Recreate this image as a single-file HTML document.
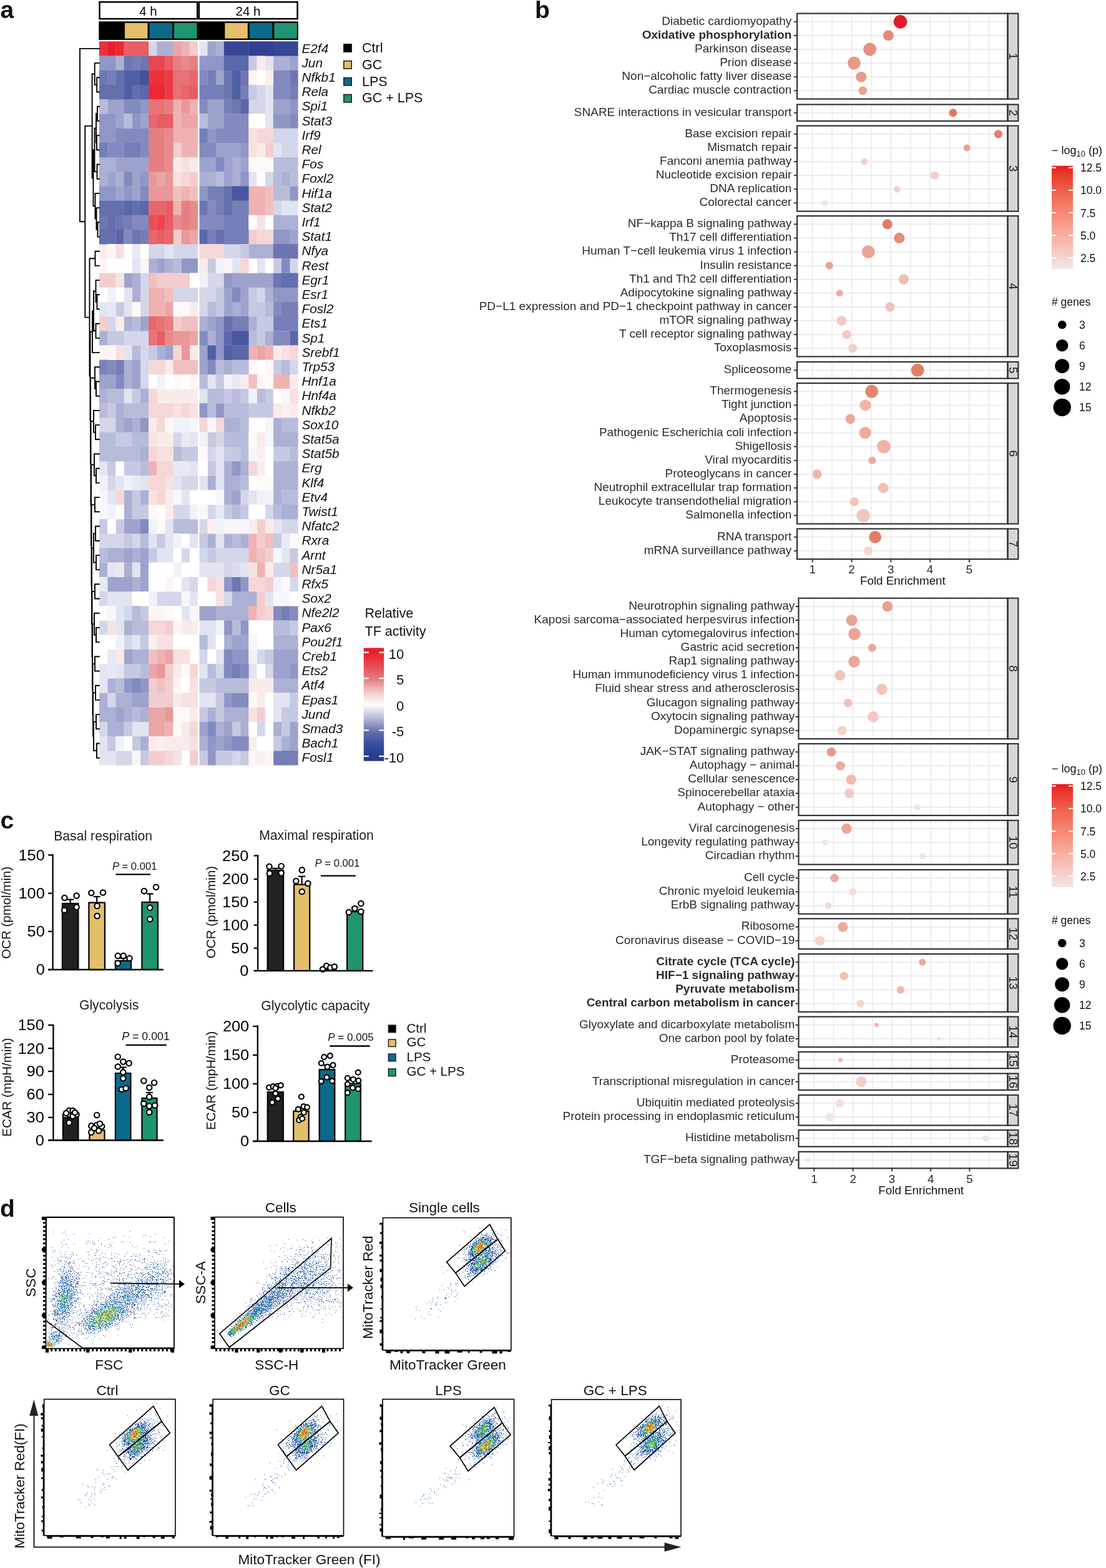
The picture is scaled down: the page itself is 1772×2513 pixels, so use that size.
<!DOCTYPE html>
<html><head><meta charset="utf-8"><title>Figure</title>
<style>html,body{margin:0;padding:0;background:#fff}svg{display:block}text{font-family:"Liberation Sans",Arial,sans-serif}</style>
</head><body>
<svg width="1772" height="2513" viewBox="0 0 1772 2513">
<rect width="1772" height="2513" fill="#fff"/>
<text x="0.5" y="28.5" font-size="39" font-weight="bold" fill="#111">a</text>
<text x="857" y="28.5" font-size="39" font-weight="bold" fill="#111">b</text>
<text x="0.5" y="1327.5" font-size="39" font-weight="bold" fill="#111">c</text>
<text x="0" y="1950" font-size="39" font-weight="bold" fill="#111">d</text>
<rect x="159.55" y="3.25" width="156.7" height="26.9" fill="#fff" stroke="#000" stroke-width="2.5"/>
<rect x="318.8" y="3.25" width="157.75" height="26.9" fill="#fff" stroke="#000" stroke-width="2.5"/>
<text x="237.5" y="25.2" font-size="20.5" text-anchor="middle">4 h</text>
<text x="397.5" y="25.2" font-size="20.5" text-anchor="middle">24 h</text>
<rect x="158.3" y="34.3" width="319.5" height="29.7" fill="#000"/>
<rect x="200" y="36.9" width="36.5" height="24.8" fill="#E3BF69"/>
<rect x="239.5" y="36.9" width="36.5" height="24.8" fill="#0B6A8A"/>
<rect x="279" y="36.9" width="36.5" height="24.8" fill="#1E9470"/>
<rect x="360.3" y="36.9" width="36.5" height="24.8" fill="#E3BF69"/>
<rect x="399.8" y="36.9" width="36.5" height="24.8" fill="#0B6A8A"/>
<rect x="439.3" y="36.9" width="36.5" height="24.8" fill="#1E9470"/>
<path fill="#EA323C" d="M159 66.3h13.47v23.5h-13.47zM238.02 112.7h13.47v23.5h-13.47zM251.19 112.7h13.47v23.5h-13.47z"/>
<path fill="#EC1E2A" d="M172.17 66.3h13.47v23.5h-13.47z"/>
<path fill="#EB2833" d="M185.34 66.3h13.47v23.5h-13.47zM238.02 135.9h13.47v23.5h-13.47zM251.19 135.9h13.47v23.5h-13.47z"/>
<path fill="#E85C62" d="M198.51 66.3h13.47v23.5h-13.47zM211.68 66.3h13.47v23.5h-13.47zM224.85 66.3h13.47v23.5h-13.47zM264.36 89.5h13.47v23.5h-13.47zM303.87 135.9h13.47v23.5h-13.47zM251.19 182.3h13.47v23.5h-13.47zM264.36 182.3h13.47v23.5h-13.47zM264.36 321.5h13.47v23.5h-13.47zM264.36 344.7h13.47v23.5h-13.47zM251.19 367.9h13.47v23.5h-13.47zM251.19 530.3h13.47v23.5h-13.47z"/>
<path fill="#D4D7E9" d="M238.02 66.3h13.47v23.5h-13.47zM411.49 135.9h13.47v23.5h-13.47zM398.32 159.1h13.47v23.5h-13.47zM411.49 159.1h13.47v23.5h-13.47zM437.83 205.5h13.47v23.5h-13.47zM451 205.5h13.47v23.5h-13.47zM464.17 205.5h13.47v23.5h-13.47zM451 228.7h13.47v23.5h-13.47zM464.17 228.7h13.47v23.5h-13.47zM424.66 275.1h13.47v23.5h-13.47zM437.83 321.5h13.47v23.5h-13.47zM238.02 391.1h13.47v23.5h-13.47zM251.19 391.1h13.47v23.5h-13.47zM277.53 391.1h13.47v23.5h-13.47zM290.7 391.1h13.47v23.5h-13.47zM303.87 391.1h13.47v23.5h-13.47zM358.81 391.1h13.47v23.5h-13.47zM371.98 391.1h13.47v23.5h-13.47zM464.17 414.3h13.47v23.5h-13.47zM224.85 437.5h13.47v23.5h-13.47zM332.47 437.5h13.47v23.5h-13.47zM345.64 437.5h13.47v23.5h-13.47zM224.85 460.7h13.47v23.5h-13.47zM277.53 460.7h13.47v23.5h-13.47zM290.7 460.7h13.47v23.5h-13.47zM303.87 460.7h13.47v23.5h-13.47zM319.3 460.7h13.47v23.5h-13.47zM332.47 460.7h13.47v23.5h-13.47zM411.49 460.7h13.47v23.5h-13.47zM224.85 483.9h13.47v23.5h-13.47zM319.3 483.9h13.47v23.5h-13.47zM172.17 507.1h13.47v23.5h-13.47zM198.51 530.3h13.47v23.5h-13.47zM211.68 530.3h13.47v23.5h-13.47zM224.85 530.3h13.47v23.5h-13.47zM224.85 553.5h13.47v23.5h-13.47zM224.85 576.7h13.47v23.5h-13.47zM464.17 576.7h13.47v23.5h-13.47zM224.85 599.9h13.47v23.5h-13.47zM159 669.5h13.47v23.5h-13.47zM172.17 669.5h13.47v23.5h-13.47zM277.53 692.7h13.47v23.5h-13.47zM345.64 692.7h13.47v23.5h-13.47zM332.47 715.9h13.47v23.5h-13.47zM172.17 762.3h13.47v23.5h-13.47zM290.7 762.3h13.47v23.5h-13.47zM303.87 762.3h13.47v23.5h-13.47zM385.15 785.5h13.47v23.5h-13.47zM277.53 808.7h13.47v23.5h-13.47zM290.7 808.7h13.47v23.5h-13.47zM332.47 808.7h13.47v23.5h-13.47zM424.66 808.7h13.47v23.5h-13.47zM319.3 831.9h13.47v23.5h-13.47zM451 831.9h13.47v23.5h-13.47zM464.17 831.9h13.47v23.5h-13.47zM159 855.1h13.47v23.5h-13.47zM172.17 855.1h13.47v23.5h-13.47zM185.34 855.1h13.47v23.5h-13.47zM211.68 855.1h13.47v23.5h-13.47zM290.7 878.3h13.47v23.5h-13.47zM319.3 878.3h13.47v23.5h-13.47zM345.64 878.3h13.47v23.5h-13.47zM358.81 878.3h13.47v23.5h-13.47zM371.98 878.3h13.47v23.5h-13.47zM385.15 878.3h13.47v23.5h-13.47zM358.81 901.5h13.47v23.5h-13.47zM437.83 901.5h13.47v23.5h-13.47zM451 901.5h13.47v23.5h-13.47zM303.87 924.7h13.47v23.5h-13.47zM464.17 924.7h13.47v23.5h-13.47zM159 947.9h13.47v23.5h-13.47zM251.19 947.9h13.47v23.5h-13.47zM264.36 947.9h13.47v23.5h-13.47zM277.53 947.9h13.47v23.5h-13.47zM358.81 947.9h13.47v23.5h-13.47zM198.51 971.1h13.47v23.5h-13.47zM159 994.3h13.47v23.5h-13.47zM198.51 1017.5h13.47v23.5h-13.47zM319.3 1040.7h13.47v23.5h-13.47zM411.49 1040.7h13.47v23.5h-13.47zM345.64 1063.9h13.47v23.5h-13.47zM424.66 1063.9h13.47v23.5h-13.47zM172.17 1110.3h13.47v23.5h-13.47zM159 1156.7h13.47v23.5h-13.47zM411.49 1156.7h13.47v23.5h-13.47zM185.34 1203.1h13.47v23.5h-13.47zM198.51 1203.1h13.47v23.5h-13.47zM371.98 1203.1h13.47v23.5h-13.47z"/>
<path fill="#ABB0D4" d="M251.19 66.3h13.47v23.5h-13.47zM264.36 66.3h13.47v23.5h-13.47zM345.64 66.3h13.47v23.5h-13.47zM185.34 89.5h13.47v23.5h-13.47zM437.83 89.5h13.47v23.5h-13.47zM451 89.5h13.47v23.5h-13.47zM159 251.9h13.47v23.5h-13.47zM172.17 251.9h13.47v23.5h-13.47zM371.98 251.9h13.47v23.5h-13.47zM159 275.1h13.47v23.5h-13.47zM185.34 275.1h13.47v23.5h-13.47zM319.3 275.1h13.47v23.5h-13.47zM332.47 275.1h13.47v23.5h-13.47zM371.98 275.1h13.47v23.5h-13.47zM451 275.1h13.47v23.5h-13.47zM437.83 344.7h13.47v23.5h-13.47zM451 344.7h13.47v23.5h-13.47zM464.17 344.7h13.47v23.5h-13.47zM398.32 391.1h13.47v23.5h-13.47zM411.49 391.1h13.47v23.5h-13.47zM424.66 391.1h13.47v23.5h-13.47zM238.02 414.3h13.47v23.5h-13.47zM264.36 414.3h13.47v23.5h-13.47zM211.68 437.5h13.47v23.5h-13.47zM211.68 460.7h13.47v23.5h-13.47zM424.66 460.7h13.47v23.5h-13.47zM371.98 483.9h13.47v23.5h-13.47zM198.51 507.1h13.47v23.5h-13.47zM319.3 507.1h13.47v23.5h-13.47zM398.32 507.1h13.47v23.5h-13.47zM159 530.3h13.47v23.5h-13.47zM332.47 530.3h13.47v23.5h-13.47zM424.66 530.3h13.47v23.5h-13.47zM251.19 553.5h13.47v23.5h-13.47zM198.51 576.7h13.47v23.5h-13.47zM358.81 576.7h13.47v23.5h-13.47zM198.51 599.9h13.47v23.5h-13.47zM159 623.1h13.47v23.5h-13.47zM224.85 623.1h13.47v23.5h-13.47zM185.34 646.3h13.47v23.5h-13.47zM185.34 669.5h13.47v23.5h-13.47zM211.68 669.5h13.47v23.5h-13.47zM358.81 669.5h13.47v23.5h-13.47zM371.98 669.5h13.47v23.5h-13.47zM437.83 669.5h13.47v23.5h-13.47zM437.83 692.7h13.47v23.5h-13.47zM451 692.7h13.47v23.5h-13.47zM464.17 692.7h13.47v23.5h-13.47zM224.85 715.9h13.47v23.5h-13.47zM358.81 739.1h13.47v23.5h-13.47zM385.15 739.1h13.47v23.5h-13.47zM437.83 739.1h13.47v23.5h-13.47zM451 739.1h13.47v23.5h-13.47zM464.17 739.1h13.47v23.5h-13.47zM332.47 762.3h13.47v23.5h-13.47zM358.81 762.3h13.47v23.5h-13.47zM371.98 762.3h13.47v23.5h-13.47zM437.83 762.3h13.47v23.5h-13.47zM451 762.3h13.47v23.5h-13.47zM464.17 762.3h13.47v23.5h-13.47zM198.51 785.5h13.47v23.5h-13.47zM224.85 785.5h13.47v23.5h-13.47zM358.81 785.5h13.47v23.5h-13.47zM437.83 785.5h13.47v23.5h-13.47zM198.51 808.7h13.47v23.5h-13.47zM451 808.7h13.47v23.5h-13.47zM464.17 808.7h13.47v23.5h-13.47zM332.47 855.1h13.47v23.5h-13.47zM358.81 855.1h13.47v23.5h-13.47zM385.15 855.1h13.47v23.5h-13.47zM172.17 878.3h13.47v23.5h-13.47zM185.34 878.3h13.47v23.5h-13.47zM211.68 878.3h13.47v23.5h-13.47zM159 901.5h13.47v23.5h-13.47zM198.51 901.5h13.47v23.5h-13.47zM211.68 924.7h13.47v23.5h-13.47zM371.98 947.9h13.47v23.5h-13.47zM385.15 947.9h13.47v23.5h-13.47zM398.32 947.9h13.47v23.5h-13.47zM345.64 971.1h13.47v23.5h-13.47zM358.81 971.1h13.47v23.5h-13.47zM371.98 971.1h13.47v23.5h-13.47zM385.15 971.1h13.47v23.5h-13.47zM198.51 994.3h13.47v23.5h-13.47zM358.81 1017.5h13.47v23.5h-13.47zM437.83 1017.5h13.47v23.5h-13.47zM451 1017.5h13.47v23.5h-13.47zM464.17 1017.5h13.47v23.5h-13.47zM211.68 1040.7h13.47v23.5h-13.47zM224.85 1040.7h13.47v23.5h-13.47zM172.17 1087.1h13.47v23.5h-13.47zM437.83 1087.1h13.47v23.5h-13.47zM451 1087.1h13.47v23.5h-13.47zM464.17 1087.1h13.47v23.5h-13.47zM159 1110.3h13.47v23.5h-13.47zM185.34 1110.3h13.47v23.5h-13.47zM198.51 1110.3h13.47v23.5h-13.47zM159 1133.5h13.47v23.5h-13.47zM172.17 1133.5h13.47v23.5h-13.47zM198.51 1133.5h13.47v23.5h-13.47zM224.85 1133.5h13.47v23.5h-13.47zM332.47 1133.5h13.47v23.5h-13.47zM358.81 1133.5h13.47v23.5h-13.47zM371.98 1133.5h13.47v23.5h-13.47zM385.15 1133.5h13.47v23.5h-13.47zM172.17 1156.7h13.47v23.5h-13.47zM185.34 1156.7h13.47v23.5h-13.47zM345.64 1156.7h13.47v23.5h-13.47zM385.15 1156.7h13.47v23.5h-13.47zM437.83 1156.7h13.47v23.5h-13.47zM224.85 1179.9h13.47v23.5h-13.47zM319.3 1179.9h13.47v23.5h-13.47zM451 1179.9h13.47v23.5h-13.47z"/>
<path fill="#EBA5A6" d="M277.53 66.3h13.47v23.5h-13.47zM290.7 182.3h13.47v23.5h-13.47zM303.87 182.3h13.47v23.5h-13.47zM251.19 275.1h13.47v23.5h-13.47zM303.87 367.9h13.47v23.5h-13.47zM264.36 483.9h13.47v23.5h-13.47zM303.87 530.3h13.47v23.5h-13.47zM411.49 553.5h13.47v23.5h-13.47zM264.36 1040.7h13.47v23.5h-13.47zM238.02 1063.9h13.47v23.5h-13.47zM238.02 1133.5h13.47v23.5h-13.47zM251.19 1133.5h13.47v23.5h-13.47zM238.02 1156.7h13.47v23.5h-13.47zM251.19 1156.7h13.47v23.5h-13.47z"/>
<path fill="#EEB2B3" d="M290.7 66.3h13.47v23.5h-13.47zM277.53 159.1h13.47v23.5h-13.47zM303.87 159.1h13.47v23.5h-13.47zM277.53 182.3h13.47v23.5h-13.47zM277.53 205.5h13.47v23.5h-13.47zM290.7 205.5h13.47v23.5h-13.47zM303.87 205.5h13.47v23.5h-13.47zM290.7 228.7h13.47v23.5h-13.47zM303.87 228.7h13.47v23.5h-13.47zM290.7 298.3h13.47v23.5h-13.47zM398.32 298.3h13.47v23.5h-13.47zM411.49 298.3h13.47v23.5h-13.47zM277.53 321.5h13.47v23.5h-13.47zM398.32 321.5h13.47v23.5h-13.47zM411.49 321.5h13.47v23.5h-13.47zM238.02 460.7h13.47v23.5h-13.47zM251.19 460.7h13.47v23.5h-13.47zM238.02 483.9h13.47v23.5h-13.47zM251.19 483.9h13.47v23.5h-13.47zM398.32 553.5h13.47v23.5h-13.47zM424.66 553.5h13.47v23.5h-13.47zM437.83 599.9h13.47v23.5h-13.47zM451 599.9h13.47v23.5h-13.47zM238.02 739.1h13.47v23.5h-13.47zM398.32 855.1h13.47v23.5h-13.47zM398.32 878.3h13.47v23.5h-13.47zM411.49 901.5h13.47v23.5h-13.47zM398.32 971.1h13.47v23.5h-13.47zM251.19 1040.7h13.47v23.5h-13.47zM264.36 1156.7h13.47v23.5h-13.47z"/>
<path fill="#F3CDCD" d="M303.87 66.3h13.47v23.5h-13.47zM277.53 228.7h13.47v23.5h-13.47zM424.66 228.7h13.47v23.5h-13.47zM303.87 275.1h13.47v23.5h-13.47zM277.53 367.9h13.47v23.5h-13.47zM398.32 367.9h13.47v23.5h-13.47zM159 437.5h13.47v23.5h-13.47zM172.17 437.5h13.47v23.5h-13.47zM251.19 437.5h13.47v23.5h-13.47zM264.36 437.5h13.47v23.5h-13.47zM277.53 437.5h13.47v23.5h-13.47zM290.7 437.5h13.47v23.5h-13.47zM159 507.1h13.47v23.5h-13.47zM277.53 507.1h13.47v23.5h-13.47zM411.49 831.9h13.47v23.5h-13.47zM411.49 855.1h13.47v23.5h-13.47zM424.66 878.3h13.47v23.5h-13.47zM424.66 924.7h13.47v23.5h-13.47zM411.49 947.9h13.47v23.5h-13.47zM411.49 971.1h13.47v23.5h-13.47zM264.36 994.3h13.47v23.5h-13.47zM264.36 1063.9h13.47v23.5h-13.47zM238.02 1087.1h13.47v23.5h-13.47zM264.36 1087.1h13.47v23.5h-13.47zM238.02 1110.3h13.47v23.5h-13.47zM251.19 1110.3h13.47v23.5h-13.47zM264.36 1110.3h13.47v23.5h-13.47zM411.49 1133.5h13.47v23.5h-13.47zM238.02 1203.1h13.47v23.5h-13.47zM251.19 1203.1h13.47v23.5h-13.47zM303.87 1203.1h13.47v23.5h-13.47z"/>
<path fill="#E3E4F1" d="M319.3 66.3h13.47v23.5h-13.47zM424.66 89.5h13.47v23.5h-13.47zM424.66 135.9h13.47v23.5h-13.47zM424.66 159.1h13.47v23.5h-13.47zM424.66 182.3h13.47v23.5h-13.47zM437.83 228.7h13.47v23.5h-13.47zM398.32 275.1h13.47v23.5h-13.47zM451 321.5h13.47v23.5h-13.47zM464.17 321.5h13.47v23.5h-13.47zM264.36 391.1h13.47v23.5h-13.47zM211.68 414.3h13.47v23.5h-13.47zM371.98 414.3h13.47v23.5h-13.47zM411.49 414.3h13.47v23.5h-13.47zM198.51 460.7h13.47v23.5h-13.47zM159 483.9h13.47v23.5h-13.47zM198.51 483.9h13.47v23.5h-13.47zM198.51 553.5h13.47v23.5h-13.47zM332.47 599.9h13.47v23.5h-13.47zM198.51 623.1h13.47v23.5h-13.47zM319.3 623.1h13.47v23.5h-13.47zM303.87 692.7h13.47v23.5h-13.47zM345.64 715.9h13.47v23.5h-13.47zM159 739.1h13.47v23.5h-13.47zM303.87 739.1h13.47v23.5h-13.47zM345.64 739.1h13.47v23.5h-13.47zM185.34 762.3h13.47v23.5h-13.47zM224.85 762.3h13.47v23.5h-13.47zM277.53 762.3h13.47v23.5h-13.47zM319.3 762.3h13.47v23.5h-13.47zM345.64 762.3h13.47v23.5h-13.47zM172.17 785.5h13.47v23.5h-13.47zM290.7 785.5h13.47v23.5h-13.47zM398.32 785.5h13.47v23.5h-13.47zM264.36 831.9h13.47v23.5h-13.47zM437.83 831.9h13.47v23.5h-13.47zM238.02 855.1h13.47v23.5h-13.47zM264.36 855.1h13.47v23.5h-13.47zM303.87 855.1h13.47v23.5h-13.47zM345.64 855.1h13.47v23.5h-13.47zM251.19 878.3h13.47v23.5h-13.47zM264.36 878.3h13.47v23.5h-13.47zM451 878.3h13.47v23.5h-13.47zM172.17 901.5h13.47v23.5h-13.47zM211.68 901.5h13.47v23.5h-13.47zM319.3 901.5h13.47v23.5h-13.47zM332.47 901.5h13.47v23.5h-13.47zM345.64 901.5h13.47v23.5h-13.47zM385.15 901.5h13.47v23.5h-13.47zM290.7 924.7h13.47v23.5h-13.47zM172.17 947.9h13.47v23.5h-13.47zM185.34 947.9h13.47v23.5h-13.47zM198.51 947.9h13.47v23.5h-13.47zM303.87 947.9h13.47v23.5h-13.47zM424.66 947.9h13.47v23.5h-13.47zM185.34 971.1h13.47v23.5h-13.47zM290.7 971.1h13.47v23.5h-13.47zM185.34 994.3h13.47v23.5h-13.47zM319.3 994.3h13.47v23.5h-13.47zM332.47 994.3h13.47v23.5h-13.47zM211.68 1017.5h13.47v23.5h-13.47zM332.47 1017.5h13.47v23.5h-13.47zM345.64 1040.7h13.47v23.5h-13.47zM159 1063.9h13.47v23.5h-13.47zM185.34 1063.9h13.47v23.5h-13.47zM319.3 1063.9h13.47v23.5h-13.47zM398.32 1063.9h13.47v23.5h-13.47zM159 1087.1h13.47v23.5h-13.47zM319.3 1110.3h13.47v23.5h-13.47zM332.47 1110.3h13.47v23.5h-13.47zM437.83 1110.3h13.47v23.5h-13.47zM451 1110.3h13.47v23.5h-13.47zM437.83 1133.5h13.47v23.5h-13.47zM211.68 1156.7h13.47v23.5h-13.47zM224.85 1156.7h13.47v23.5h-13.47zM159 1179.9h13.47v23.5h-13.47zM159 1203.1h13.47v23.5h-13.47zM172.17 1203.1h13.47v23.5h-13.47z"/>
<path fill="#9EA3CD" d="M332.47 66.3h13.47v23.5h-13.47zM464.17 89.5h13.47v23.5h-13.47zM345.64 112.7h13.47v23.5h-13.47zM172.17 159.1h13.47v23.5h-13.47zM185.34 159.1h13.47v23.5h-13.47zM332.47 159.1h13.47v23.5h-13.47zM345.64 159.1h13.47v23.5h-13.47zM437.83 159.1h13.47v23.5h-13.47zM451 159.1h13.47v23.5h-13.47zM185.34 182.3h13.47v23.5h-13.47zM224.85 182.3h13.47v23.5h-13.47zM332.47 182.3h13.47v23.5h-13.47zM345.64 182.3h13.47v23.5h-13.47zM345.64 228.7h13.47v23.5h-13.47zM358.81 228.7h13.47v23.5h-13.47zM371.98 228.7h13.47v23.5h-13.47zM185.34 251.9h13.47v23.5h-13.47zM198.51 251.9h13.47v23.5h-13.47zM211.68 251.9h13.47v23.5h-13.47zM224.85 251.9h13.47v23.5h-13.47zM319.3 251.9h13.47v23.5h-13.47zM332.47 251.9h13.47v23.5h-13.47zM358.81 251.9h13.47v23.5h-13.47zM385.15 251.9h13.47v23.5h-13.47zM172.17 275.1h13.47v23.5h-13.47zM211.68 275.1h13.47v23.5h-13.47zM358.81 275.1h13.47v23.5h-13.47zM185.34 298.3h13.47v23.5h-13.47zM211.68 298.3h13.47v23.5h-13.47zM464.17 367.9h13.47v23.5h-13.47zM251.19 414.3h13.47v23.5h-13.47zM198.51 437.5h13.47v23.5h-13.47zM371.98 437.5h13.47v23.5h-13.47zM385.15 437.5h13.47v23.5h-13.47zM398.32 437.5h13.47v23.5h-13.47zM411.49 437.5h13.47v23.5h-13.47zM424.66 437.5h13.47v23.5h-13.47zM358.81 460.7h13.47v23.5h-13.47zM385.15 460.7h13.47v23.5h-13.47zM358.81 483.9h13.47v23.5h-13.47zM385.15 483.9h13.47v23.5h-13.47zM224.85 507.1h13.47v23.5h-13.47zM332.47 507.1h13.47v23.5h-13.47zM264.36 553.5h13.47v23.5h-13.47zM319.3 553.5h13.47v23.5h-13.47zM211.68 576.7h13.47v23.5h-13.47zM319.3 576.7h13.47v23.5h-13.47zM159 599.9h13.47v23.5h-13.47zM172.17 599.9h13.47v23.5h-13.47zM211.68 599.9h13.47v23.5h-13.47zM198.51 669.5h13.47v23.5h-13.47zM371.98 785.5h13.47v23.5h-13.47zM198.51 831.9h13.47v23.5h-13.47zM211.68 831.9h13.47v23.5h-13.47zM198.51 878.3h13.47v23.5h-13.47zM224.85 878.3h13.47v23.5h-13.47zM224.85 901.5h13.47v23.5h-13.47zM172.17 924.7h13.47v23.5h-13.47zM185.34 924.7h13.47v23.5h-13.47zM198.51 924.7h13.47v23.5h-13.47zM224.85 924.7h13.47v23.5h-13.47zM319.3 971.1h13.47v23.5h-13.47zM332.47 971.1h13.47v23.5h-13.47zM371.98 1017.5h13.47v23.5h-13.47zM385.15 1017.5h13.47v23.5h-13.47zM198.51 1040.7h13.47v23.5h-13.47zM437.83 1040.7h13.47v23.5h-13.47zM451 1040.7h13.47v23.5h-13.47zM464.17 1040.7h13.47v23.5h-13.47zM437.83 1063.9h13.47v23.5h-13.47zM451 1063.9h13.47v23.5h-13.47zM211.68 1110.3h13.47v23.5h-13.47zM224.85 1110.3h13.47v23.5h-13.47zM185.34 1133.5h13.47v23.5h-13.47zM319.3 1156.7h13.47v23.5h-13.47zM358.81 1156.7h13.47v23.5h-13.47zM464.17 1156.7h13.47v23.5h-13.47zM345.64 1179.9h13.47v23.5h-13.47zM464.17 1179.9h13.47v23.5h-13.47z"/>
<path fill="#374694" d="M358.81 66.3h13.47v23.5h-13.47zM371.98 66.3h13.47v23.5h-13.47zM385.15 66.3h13.47v23.5h-13.47zM437.83 66.3h13.47v23.5h-13.47zM451 66.3h13.47v23.5h-13.47zM464.17 66.3h13.47v23.5h-13.47z"/>
<path fill="#314090" d="M398.32 66.3h13.47v23.5h-13.47zM411.49 66.3h13.47v23.5h-13.47zM424.66 66.3h13.47v23.5h-13.47z"/>
<path fill="#9097C6" d="M159 89.5h13.47v23.5h-13.47zM172.17 89.5h13.47v23.5h-13.47zM319.3 89.5h13.47v23.5h-13.47zM332.47 89.5h13.47v23.5h-13.47zM345.64 89.5h13.47v23.5h-13.47zM224.85 159.1h13.47v23.5h-13.47zM464.17 159.1h13.47v23.5h-13.47zM159 182.3h13.47v23.5h-13.47zM172.17 182.3h13.47v23.5h-13.47zM211.68 182.3h13.47v23.5h-13.47zM437.83 182.3h13.47v23.5h-13.47zM451 182.3h13.47v23.5h-13.47zM159 205.5h13.47v23.5h-13.47zM172.17 205.5h13.47v23.5h-13.47zM332.47 205.5h13.47v23.5h-13.47zM385.15 228.7h13.47v23.5h-13.47zM224.85 275.1h13.47v23.5h-13.47zM385.15 275.1h13.47v23.5h-13.47zM159 298.3h13.47v23.5h-13.47zM172.17 298.3h13.47v23.5h-13.47zM198.51 298.3h13.47v23.5h-13.47zM319.3 298.3h13.47v23.5h-13.47zM464.17 298.3h13.47v23.5h-13.47zM437.83 367.9h13.47v23.5h-13.47zM451 367.9h13.47v23.5h-13.47zM290.7 414.3h13.47v23.5h-13.47zM303.87 414.3h13.47v23.5h-13.47zM358.81 437.5h13.47v23.5h-13.47zM437.83 460.7h13.47v23.5h-13.47zM451 460.7h13.47v23.5h-13.47zM464.17 460.7h13.47v23.5h-13.47zM345.64 507.1h13.47v23.5h-13.47zM345.64 530.3h13.47v23.5h-13.47zM345.64 553.5h13.47v23.5h-13.47zM319.3 646.3h13.47v23.5h-13.47zM345.64 646.3h13.47v23.5h-13.47zM224.85 669.5h13.47v23.5h-13.47zM371.98 739.1h13.47v23.5h-13.47zM358.81 924.7h13.47v23.5h-13.47zM385.15 924.7h13.47v23.5h-13.47zM358.81 994.3h13.47v23.5h-13.47zM385.15 994.3h13.47v23.5h-13.47zM371.98 1040.7h13.47v23.5h-13.47zM385.15 1040.7h13.47v23.5h-13.47zM464.17 1063.9h13.47v23.5h-13.47zM198.51 1087.1h13.47v23.5h-13.47zM224.85 1087.1h13.47v23.5h-13.47zM358.81 1110.3h13.47v23.5h-13.47zM332.47 1179.9h13.47v23.5h-13.47zM358.81 1179.9h13.47v23.5h-13.47zM332.47 1203.1h13.47v23.5h-13.47z"/>
<path fill="#6D76B3" d="M198.51 89.5h13.47v23.5h-13.47zM224.85 89.5h13.47v23.5h-13.47zM159 112.7h13.47v23.5h-13.47zM358.81 112.7h13.47v23.5h-13.47zM385.15 112.7h13.47v23.5h-13.47zM464.17 112.7h13.47v23.5h-13.47zM358.81 135.9h13.47v23.5h-13.47zM371.98 159.1h13.47v23.5h-13.47zM319.3 321.5h13.47v23.5h-13.47zM159 344.7h13.47v23.5h-13.47zM185.34 344.7h13.47v23.5h-13.47zM211.68 367.9h13.47v23.5h-13.47zM437.83 391.1h13.47v23.5h-13.47zM451 391.1h13.47v23.5h-13.47zM464.17 391.1h13.47v23.5h-13.47zM437.83 437.5h13.47v23.5h-13.47zM371.98 924.7h13.47v23.5h-13.47z"/>
<path fill="#767EB8" d="M211.68 89.5h13.47v23.5h-13.47zM172.17 112.7h13.47v23.5h-13.47zM332.47 112.7h13.47v23.5h-13.47zM319.3 135.9h13.47v23.5h-13.47zM332.47 135.9h13.47v23.5h-13.47zM345.64 135.9h13.47v23.5h-13.47zM385.15 135.9h13.47v23.5h-13.47zM464.17 135.9h13.47v23.5h-13.47zM358.81 159.1h13.47v23.5h-13.47zM319.3 205.5h13.47v23.5h-13.47zM159 228.7h13.47v23.5h-13.47zM198.51 228.7h13.47v23.5h-13.47zM211.68 228.7h13.47v23.5h-13.47zM332.47 298.3h13.47v23.5h-13.47zM345.64 298.3h13.47v23.5h-13.47zM345.64 321.5h13.47v23.5h-13.47zM371.98 321.5h13.47v23.5h-13.47zM385.15 321.5h13.47v23.5h-13.47zM198.51 344.7h13.47v23.5h-13.47zM358.81 344.7h13.47v23.5h-13.47zM371.98 344.7h13.47v23.5h-13.47zM385.15 344.7h13.47v23.5h-13.47zM224.85 367.9h13.47v23.5h-13.47zM332.47 367.9h13.47v23.5h-13.47zM358.81 367.9h13.47v23.5h-13.47zM371.98 367.9h13.47v23.5h-13.47zM385.15 367.9h13.47v23.5h-13.47zM451 483.9h13.47v23.5h-13.47zM464.17 483.9h13.47v23.5h-13.47zM371.98 507.1h13.47v23.5h-13.47zM385.15 507.1h13.47v23.5h-13.47zM437.83 507.1h13.47v23.5h-13.47zM451 507.1h13.47v23.5h-13.47zM464.17 507.1h13.47v23.5h-13.47zM185.34 576.7h13.47v23.5h-13.47zM451 971.1h13.47v23.5h-13.47zM371.98 1063.9h13.47v23.5h-13.47zM437.83 1203.1h13.47v23.5h-13.47zM451 1203.1h13.47v23.5h-13.47zM464.17 1203.1h13.47v23.5h-13.47z"/>
<path fill="#E9464F" d="M238.02 89.5h13.47v23.5h-13.47zM251.19 89.5h13.47v23.5h-13.47zM251.19 344.7h13.47v23.5h-13.47z"/>
<path fill="#E67E82" d="M277.53 89.5h13.47v23.5h-13.47zM303.87 89.5h13.47v23.5h-13.47zM264.36 159.1h13.47v23.5h-13.47zM238.02 205.5h13.47v23.5h-13.47zM251.19 205.5h13.47v23.5h-13.47zM238.02 228.7h13.47v23.5h-13.47zM251.19 228.7h13.47v23.5h-13.47zM238.02 251.9h13.47v23.5h-13.47zM251.19 251.9h13.47v23.5h-13.47zM290.7 321.5h13.47v23.5h-13.47zM290.7 344.7h13.47v23.5h-13.47zM264.36 507.1h13.47v23.5h-13.47z"/>
<path fill="#E68A8C" d="M290.7 89.5h13.47v23.5h-13.47zM264.36 205.5h13.47v23.5h-13.47zM264.36 228.7h13.47v23.5h-13.47zM264.36 251.9h13.47v23.5h-13.47zM303.87 321.5h13.47v23.5h-13.47zM277.53 344.7h13.47v23.5h-13.47zM303.87 344.7h13.47v23.5h-13.47zM264.36 530.3h13.47v23.5h-13.47z"/>
<path fill="#5A67AA" d="M358.81 89.5h13.47v23.5h-13.47zM371.98 89.5h13.47v23.5h-13.47zM385.15 89.5h13.47v23.5h-13.47zM224.85 135.9h13.47v23.5h-13.47zM385.15 159.1h13.47v23.5h-13.47zM198.51 321.5h13.47v23.5h-13.47zM224.85 321.5h13.47v23.5h-13.47zM185.34 367.9h13.47v23.5h-13.47zM319.3 367.9h13.47v23.5h-13.47zM358.81 530.3h13.47v23.5h-13.47zM464.17 530.3h13.47v23.5h-13.47zM371.98 553.5h13.47v23.5h-13.47zM385.15 553.5h13.47v23.5h-13.47z"/>
<path fill="#C6C9E2" d="M398.32 89.5h13.47v23.5h-13.47zM398.32 135.9h13.47v23.5h-13.47zM385.15 391.1h13.47v23.5h-13.47zM332.47 414.3h13.47v23.5h-13.47zM437.83 414.3h13.47v23.5h-13.47zM345.64 460.7h13.47v23.5h-13.47zM398.32 460.7h13.47v23.5h-13.47zM185.34 483.9h13.47v23.5h-13.47zM345.64 483.9h13.47v23.5h-13.47zM398.32 483.9h13.47v23.5h-13.47zM411.49 483.9h13.47v23.5h-13.47zM411.49 507.1h13.47v23.5h-13.47zM424.66 507.1h13.47v23.5h-13.47zM172.17 530.3h13.47v23.5h-13.47zM185.34 530.3h13.47v23.5h-13.47zM411.49 530.3h13.47v23.5h-13.47zM238.02 553.5h13.47v23.5h-13.47zM437.83 576.7h13.47v23.5h-13.47zM345.64 599.9h13.47v23.5h-13.47zM211.68 623.1h13.47v23.5h-13.47zM358.81 623.1h13.47v23.5h-13.47zM385.15 623.1h13.47v23.5h-13.47zM424.66 623.1h13.47v23.5h-13.47zM172.17 646.3h13.47v23.5h-13.47zM398.32 646.3h13.47v23.5h-13.47zM411.49 646.3h13.47v23.5h-13.47zM424.66 646.3h13.47v23.5h-13.47zM185.34 692.7h13.47v23.5h-13.47zM198.51 692.7h13.47v23.5h-13.47zM332.47 692.7h13.47v23.5h-13.47zM290.7 715.9h13.47v23.5h-13.47zM303.87 715.9h13.47v23.5h-13.47zM358.81 715.9h13.47v23.5h-13.47zM371.98 715.9h13.47v23.5h-13.47zM437.83 715.9h13.47v23.5h-13.47zM451 715.9h13.47v23.5h-13.47zM172.17 739.1h13.47v23.5h-13.47zM198.51 739.1h13.47v23.5h-13.47zM211.68 739.1h13.47v23.5h-13.47zM332.47 739.1h13.47v23.5h-13.47zM211.68 785.5h13.47v23.5h-13.47zM211.68 808.7h13.47v23.5h-13.47zM224.85 808.7h13.47v23.5h-13.47zM358.81 808.7h13.47v23.5h-13.47zM385.15 808.7h13.47v23.5h-13.47zM159 831.9h13.47v23.5h-13.47zM185.34 831.9h13.47v23.5h-13.47zM198.51 855.1h13.47v23.5h-13.47zM251.19 855.1h13.47v23.5h-13.47zM319.3 855.1h13.47v23.5h-13.47zM437.83 855.1h13.47v23.5h-13.47zM238.02 878.3h13.47v23.5h-13.47zM332.47 878.3h13.47v23.5h-13.47zM464.17 878.3h13.47v23.5h-13.47zM224.85 971.1h13.47v23.5h-13.47zM464.17 994.3h13.47v23.5h-13.47zM224.85 1017.5h13.47v23.5h-13.47zM424.66 1040.7h13.47v23.5h-13.47zM198.51 1063.9h13.47v23.5h-13.47zM211.68 1063.9h13.47v23.5h-13.47zM319.3 1087.1h13.47v23.5h-13.47zM332.47 1087.1h13.47v23.5h-13.47zM345.64 1110.3h13.47v23.5h-13.47zM464.17 1110.3h13.47v23.5h-13.47zM319.3 1133.5h13.47v23.5h-13.47zM345.64 1133.5h13.47v23.5h-13.47zM451 1133.5h13.47v23.5h-13.47zM464.17 1133.5h13.47v23.5h-13.47zM198.51 1156.7h13.47v23.5h-13.47zM371.98 1156.7h13.47v23.5h-13.47zM451 1156.7h13.47v23.5h-13.47zM172.17 1179.9h13.47v23.5h-13.47zM211.68 1179.9h13.47v23.5h-13.47zM437.83 1179.9h13.47v23.5h-13.47zM224.85 1203.1h13.47v23.5h-13.47zM319.3 1203.1h13.47v23.5h-13.47zM345.64 1203.1h13.47v23.5h-13.47zM358.81 1203.1h13.47v23.5h-13.47zM385.15 1203.1h13.47v23.5h-13.47z"/>
<path fill="#FAEBEB" d="M411.49 89.5h13.47v23.5h-13.47zM411.49 228.7h13.47v23.5h-13.47zM277.53 251.9h13.47v23.5h-13.47zM303.87 251.9h13.47v23.5h-13.47zM159 391.1h13.47v23.5h-13.47zM319.3 414.3h13.47v23.5h-13.47zM303.87 483.9h13.47v23.5h-13.47zM185.34 507.1h13.47v23.5h-13.47zM303.87 553.5h13.47v23.5h-13.47zM437.83 553.5h13.47v23.5h-13.47zM264.36 576.7h13.47v23.5h-13.47zM385.15 599.9h13.47v23.5h-13.47zM464.17 599.9h13.47v23.5h-13.47zM251.19 623.1h13.47v23.5h-13.47zM264.36 623.1h13.47v23.5h-13.47zM277.53 623.1h13.47v23.5h-13.47zM290.7 623.1h13.47v23.5h-13.47zM303.87 623.1h13.47v23.5h-13.47zM437.83 646.3h13.47v23.5h-13.47zM464.17 646.3h13.47v23.5h-13.47zM238.02 669.5h13.47v23.5h-13.47zM251.19 692.7h13.47v23.5h-13.47zM264.36 692.7h13.47v23.5h-13.47zM411.49 692.7h13.47v23.5h-13.47zM411.49 739.1h13.47v23.5h-13.47zM264.36 785.5h13.47v23.5h-13.47zM264.36 808.7h13.47v23.5h-13.47zM398.32 831.9h13.47v23.5h-13.47zM424.66 831.9h13.47v23.5h-13.47zM424.66 901.5h13.47v23.5h-13.47zM290.7 994.3h13.47v23.5h-13.47zM303.87 994.3h13.47v23.5h-13.47zM185.34 1040.7h13.47v23.5h-13.47zM277.53 1063.9h13.47v23.5h-13.47zM398.32 1087.1h13.47v23.5h-13.47zM411.49 1087.1h13.47v23.5h-13.47zM424.66 1087.1h13.47v23.5h-13.47zM277.53 1110.3h13.47v23.5h-13.47zM411.49 1110.3h13.47v23.5h-13.47zM303.87 1133.5h13.47v23.5h-13.47zM290.7 1156.7h13.47v23.5h-13.47zM238.02 1179.9h13.47v23.5h-13.47zM264.36 1179.9h13.47v23.5h-13.47zM277.53 1179.9h13.47v23.5h-13.47zM290.7 1179.9h13.47v23.5h-13.47zM398.32 1179.9h13.47v23.5h-13.47z"/>
<path fill="#646FAE" d="M185.34 112.7h13.47v23.5h-13.47zM159 135.9h13.47v23.5h-13.47zM172.17 135.9h13.47v23.5h-13.47zM185.34 135.9h13.47v23.5h-13.47zM211.68 135.9h13.47v23.5h-13.47zM358.81 298.3h13.47v23.5h-13.47zM159 321.5h13.47v23.5h-13.47zM172.17 321.5h13.47v23.5h-13.47zM185.34 321.5h13.47v23.5h-13.47zM211.68 321.5h13.47v23.5h-13.47zM358.81 321.5h13.47v23.5h-13.47zM172.17 344.7h13.47v23.5h-13.47zM159 367.9h13.47v23.5h-13.47zM172.17 367.9h13.47v23.5h-13.47zM345.64 367.9h13.47v23.5h-13.47zM451 437.5h13.47v23.5h-13.47zM464.17 437.5h13.47v23.5h-13.47zM358.81 507.1h13.47v23.5h-13.47z"/>
<path fill="#5160A5" d="M198.51 112.7h13.47v23.5h-13.47zM211.68 112.7h13.47v23.5h-13.47zM371.98 112.7h13.47v23.5h-13.47zM198.51 135.9h13.47v23.5h-13.47zM371.98 135.9h13.47v23.5h-13.47zM332.47 553.5h13.47v23.5h-13.47zM358.81 553.5h13.47v23.5h-13.47z"/>
<path fill="#42529C" d="M224.85 112.7h13.47v23.5h-13.47z"/>
<path fill="#EA3C46" d="M264.36 112.7h13.47v23.5h-13.47zM264.36 135.9h13.47v23.5h-13.47z"/>
<path fill="#E77377" d="M277.53 112.7h13.47v23.5h-13.47zM290.7 112.7h13.47v23.5h-13.47zM277.53 135.9h13.47v23.5h-13.47zM238.02 159.1h13.47v23.5h-13.47zM251.19 159.1h13.47v23.5h-13.47zM251.19 507.1h13.47v23.5h-13.47zM238.02 530.3h13.47v23.5h-13.47z"/>
<path fill="#E7676D" d="M303.87 112.7h13.47v23.5h-13.47zM290.7 135.9h13.47v23.5h-13.47zM238.02 182.3h13.47v23.5h-13.47zM238.02 321.5h13.47v23.5h-13.47zM251.19 321.5h13.47v23.5h-13.47zM238.02 367.9h13.47v23.5h-13.47zM264.36 367.9h13.47v23.5h-13.47zM238.02 507.1h13.47v23.5h-13.47z"/>
<path fill="#838ABF" d="M319.3 112.7h13.47v23.5h-13.47zM437.83 112.7h13.47v23.5h-13.47zM451 112.7h13.47v23.5h-13.47zM437.83 135.9h13.47v23.5h-13.47zM451 135.9h13.47v23.5h-13.47zM198.51 159.1h13.47v23.5h-13.47zM211.68 159.1h13.47v23.5h-13.47zM319.3 159.1h13.47v23.5h-13.47zM358.81 182.3h13.47v23.5h-13.47zM371.98 182.3h13.47v23.5h-13.47zM385.15 182.3h13.47v23.5h-13.47zM464.17 182.3h13.47v23.5h-13.47zM185.34 205.5h13.47v23.5h-13.47zM198.51 205.5h13.47v23.5h-13.47zM211.68 205.5h13.47v23.5h-13.47zM224.85 205.5h13.47v23.5h-13.47zM345.64 205.5h13.47v23.5h-13.47zM358.81 205.5h13.47v23.5h-13.47zM371.98 205.5h13.47v23.5h-13.47zM385.15 205.5h13.47v23.5h-13.47zM172.17 228.7h13.47v23.5h-13.47zM185.34 228.7h13.47v23.5h-13.47zM224.85 228.7h13.47v23.5h-13.47zM319.3 228.7h13.47v23.5h-13.47zM332.47 228.7h13.47v23.5h-13.47zM345.64 251.9h13.47v23.5h-13.47zM198.51 275.1h13.47v23.5h-13.47zM224.85 298.3h13.47v23.5h-13.47zM332.47 321.5h13.47v23.5h-13.47zM211.68 344.7h13.47v23.5h-13.47zM224.85 344.7h13.47v23.5h-13.47zM319.3 344.7h13.47v23.5h-13.47zM332.47 344.7h13.47v23.5h-13.47zM345.64 344.7h13.47v23.5h-13.47zM198.51 367.9h13.47v23.5h-13.47zM451 414.3h13.47v23.5h-13.47zM371.98 460.7h13.47v23.5h-13.47zM437.83 483.9h13.47v23.5h-13.47zM319.3 530.3h13.47v23.5h-13.47zM437.83 530.3h13.47v23.5h-13.47zM451 530.3h13.47v23.5h-13.47zM172.17 576.7h13.47v23.5h-13.47zM332.47 576.7h13.47v23.5h-13.47zM185.34 599.9h13.47v23.5h-13.47zM224.85 831.9h13.47v23.5h-13.47zM437.83 971.1h13.47v23.5h-13.47zM464.17 971.1h13.47v23.5h-13.47zM358.81 1040.7h13.47v23.5h-13.47zM358.81 1063.9h13.47v23.5h-13.47zM385.15 1063.9h13.47v23.5h-13.47zM211.68 1087.1h13.47v23.5h-13.47zM371.98 1110.3h13.47v23.5h-13.47zM385.15 1110.3h13.47v23.5h-13.47zM332.47 1156.7h13.47v23.5h-13.47zM371.98 1179.9h13.47v23.5h-13.47zM385.15 1179.9h13.47v23.5h-13.47z"/>
<path fill="#FDF5F5" d="M398.32 112.7h13.47v23.5h-13.47zM172.17 391.1h13.47v23.5h-13.47zM159 414.3h13.47v23.5h-13.47zM358.81 414.3h13.47v23.5h-13.47zM159 553.5h13.47v23.5h-13.47zM172.17 553.5h13.47v23.5h-13.47zM398.32 576.7h13.47v23.5h-13.47zM424.66 576.7h13.47v23.5h-13.47zM303.87 599.9h13.47v23.5h-13.47zM411.49 599.9h13.47v23.5h-13.47zM264.36 924.7h13.47v23.5h-13.47zM238.02 971.1h13.47v23.5h-13.47zM251.19 971.1h13.47v23.5h-13.47zM277.53 994.3h13.47v23.5h-13.47zM277.53 1087.1h13.47v23.5h-13.47zM398.32 1203.1h13.47v23.5h-13.47zM424.66 1203.1h13.47v23.5h-13.47z"/>
<path fill="#FFFFFF" d="M411.49 112.7h13.47v23.5h-13.47zM398.32 182.3h13.47v23.5h-13.47zM411.49 182.3h13.47v23.5h-13.47zM411.49 275.1h13.47v23.5h-13.47zM398.32 344.7h13.47v23.5h-13.47zM424.66 344.7h13.47v23.5h-13.47zM198.51 391.1h13.47v23.5h-13.47zM224.85 391.1h13.47v23.5h-13.47zM172.17 414.3h13.47v23.5h-13.47zM185.34 414.3h13.47v23.5h-13.47zM198.51 414.3h13.47v23.5h-13.47zM398.32 414.3h13.47v23.5h-13.47zM424.66 414.3h13.47v23.5h-13.47zM303.87 437.5h13.47v23.5h-13.47zM159 460.7h13.47v23.5h-13.47zM185.34 460.7h13.47v23.5h-13.47zM411.49 576.7h13.47v23.5h-13.47zM238.02 599.9h13.47v23.5h-13.47zM264.36 599.9h13.47v23.5h-13.47zM290.7 599.9h13.47v23.5h-13.47zM437.83 623.1h13.47v23.5h-13.47zM398.32 669.5h13.47v23.5h-13.47zM411.49 669.5h13.47v23.5h-13.47zM424.66 715.9h13.47v23.5h-13.47zM185.34 739.1h13.47v23.5h-13.47zM319.3 739.1h13.47v23.5h-13.47zM424.66 739.1h13.47v23.5h-13.47zM398.32 762.3h13.47v23.5h-13.47zM303.87 785.5h13.47v23.5h-13.47zM319.3 785.5h13.47v23.5h-13.47zM332.47 785.5h13.47v23.5h-13.47zM185.34 808.7h13.47v23.5h-13.47zM251.19 808.7h13.47v23.5h-13.47zM398.32 808.7h13.47v23.5h-13.47zM411.49 808.7h13.47v23.5h-13.47zM172.17 831.9h13.47v23.5h-13.47zM290.7 855.1h13.47v23.5h-13.47zM277.53 878.3h13.47v23.5h-13.47zM303.87 878.3h13.47v23.5h-13.47zM238.02 901.5h13.47v23.5h-13.47zM251.19 901.5h13.47v23.5h-13.47zM264.36 901.5h13.47v23.5h-13.47zM290.7 901.5h13.47v23.5h-13.47zM303.87 901.5h13.47v23.5h-13.47zM238.02 924.7h13.47v23.5h-13.47zM251.19 924.7h13.47v23.5h-13.47zM277.53 924.7h13.47v23.5h-13.47zM319.3 924.7h13.47v23.5h-13.47zM211.68 947.9h13.47v23.5h-13.47zM224.85 947.9h13.47v23.5h-13.47zM319.3 947.9h13.47v23.5h-13.47zM332.47 947.9h13.47v23.5h-13.47zM464.17 947.9h13.47v23.5h-13.47zM159 971.1h13.47v23.5h-13.47zM277.53 971.1h13.47v23.5h-13.47zM398.32 994.3h13.47v23.5h-13.47zM411.49 994.3h13.47v23.5h-13.47zM424.66 994.3h13.47v23.5h-13.47zM159 1017.5h13.47v23.5h-13.47zM172.17 1017.5h13.47v23.5h-13.47zM277.53 1017.5h13.47v23.5h-13.47zM290.7 1017.5h13.47v23.5h-13.47zM303.87 1017.5h13.47v23.5h-13.47zM345.64 1017.5h13.47v23.5h-13.47zM411.49 1017.5h13.47v23.5h-13.47zM424.66 1017.5h13.47v23.5h-13.47zM159 1040.7h13.47v23.5h-13.47zM303.87 1040.7h13.47v23.5h-13.47zM332.47 1040.7h13.47v23.5h-13.47zM411.49 1063.9h13.47v23.5h-13.47zM290.7 1087.1h13.47v23.5h-13.47zM424.66 1110.3h13.47v23.5h-13.47zM424.66 1133.5h13.47v23.5h-13.47zM398.32 1156.7h13.47v23.5h-13.47zM424.66 1156.7h13.47v23.5h-13.47zM198.51 1179.9h13.47v23.5h-13.47zM411.49 1179.9h13.47v23.5h-13.47zM424.66 1179.9h13.47v23.5h-13.47zM290.7 1203.1h13.47v23.5h-13.47z"/>
<path fill="#FBEFEF" d="M424.66 112.7h13.47v23.5h-13.47zM451 646.3h13.47v23.5h-13.47zM411.49 715.9h13.47v23.5h-13.47zM332.47 831.9h13.47v23.5h-13.47zM238.02 1017.5h13.47v23.5h-13.47zM251.19 1179.9h13.47v23.5h-13.47zM411.49 1203.1h13.47v23.5h-13.47z"/>
<path fill="#B8BCDB" d="M159 159.1h13.47v23.5h-13.47zM198.51 182.3h13.47v23.5h-13.47zM319.3 182.3h13.47v23.5h-13.47zM437.83 251.9h13.47v23.5h-13.47zM451 251.9h13.47v23.5h-13.47zM464.17 251.9h13.47v23.5h-13.47zM345.64 275.1h13.47v23.5h-13.47zM437.83 275.1h13.47v23.5h-13.47zM464.17 275.1h13.47v23.5h-13.47zM437.83 298.3h13.47v23.5h-13.47zM451 298.3h13.47v23.5h-13.47zM277.53 414.3h13.47v23.5h-13.47zM332.47 483.9h13.47v23.5h-13.47zM424.66 483.9h13.47v23.5h-13.47zM211.68 507.1h13.47v23.5h-13.47zM398.32 530.3h13.47v23.5h-13.47zM211.68 553.5h13.47v23.5h-13.47zM345.64 576.7h13.47v23.5h-13.47zM371.98 576.7h13.47v23.5h-13.47zM385.15 576.7h13.47v23.5h-13.47zM451 576.7h13.47v23.5h-13.47zM319.3 599.9h13.47v23.5h-13.47zM172.17 623.1h13.47v23.5h-13.47zM185.34 623.1h13.47v23.5h-13.47zM332.47 623.1h13.47v23.5h-13.47zM345.64 623.1h13.47v23.5h-13.47zM371.98 623.1h13.47v23.5h-13.47zM411.49 623.1h13.47v23.5h-13.47zM159 646.3h13.47v23.5h-13.47zM198.51 646.3h13.47v23.5h-13.47zM211.68 646.3h13.47v23.5h-13.47zM224.85 646.3h13.47v23.5h-13.47zM332.47 646.3h13.47v23.5h-13.47zM358.81 646.3h13.47v23.5h-13.47zM371.98 646.3h13.47v23.5h-13.47zM385.15 646.3h13.47v23.5h-13.47zM385.15 669.5h13.47v23.5h-13.47zM451 669.5h13.47v23.5h-13.47zM464.17 669.5h13.47v23.5h-13.47zM159 692.7h13.47v23.5h-13.47zM172.17 692.7h13.47v23.5h-13.47zM211.68 692.7h13.47v23.5h-13.47zM224.85 692.7h13.47v23.5h-13.47zM358.81 692.7h13.47v23.5h-13.47zM371.98 692.7h13.47v23.5h-13.47zM385.15 692.7h13.47v23.5h-13.47zM159 715.9h13.47v23.5h-13.47zM172.17 715.9h13.47v23.5h-13.47zM185.34 715.9h13.47v23.5h-13.47zM198.51 715.9h13.47v23.5h-13.47zM211.68 715.9h13.47v23.5h-13.47zM277.53 715.9h13.47v23.5h-13.47zM385.15 715.9h13.47v23.5h-13.47zM464.17 715.9h13.47v23.5h-13.47zM224.85 739.1h13.47v23.5h-13.47zM385.15 762.3h13.47v23.5h-13.47zM451 785.5h13.47v23.5h-13.47zM464.17 785.5h13.47v23.5h-13.47zM371.98 808.7h13.47v23.5h-13.47zM437.83 808.7h13.47v23.5h-13.47zM277.53 831.9h13.47v23.5h-13.47zM290.7 831.9h13.47v23.5h-13.47zM303.87 831.9h13.47v23.5h-13.47zM224.85 855.1h13.47v23.5h-13.47zM371.98 855.1h13.47v23.5h-13.47zM159 878.3h13.47v23.5h-13.47zM211.68 971.1h13.47v23.5h-13.47zM211.68 994.3h13.47v23.5h-13.47zM224.85 994.3h13.47v23.5h-13.47zM371.98 994.3h13.47v23.5h-13.47zM437.83 994.3h13.47v23.5h-13.47zM451 994.3h13.47v23.5h-13.47zM319.3 1017.5h13.47v23.5h-13.47zM224.85 1063.9h13.47v23.5h-13.47zM332.47 1063.9h13.47v23.5h-13.47zM185.34 1087.1h13.47v23.5h-13.47zM345.64 1087.1h13.47v23.5h-13.47zM358.81 1087.1h13.47v23.5h-13.47zM371.98 1087.1h13.47v23.5h-13.47zM385.15 1087.1h13.47v23.5h-13.47zM211.68 1133.5h13.47v23.5h-13.47z"/>
<path fill="#E99799" d="M290.7 159.1h13.47v23.5h-13.47zM238.02 275.1h13.47v23.5h-13.47zM264.36 275.1h13.47v23.5h-13.47zM238.02 298.3h13.47v23.5h-13.47zM251.19 298.3h13.47v23.5h-13.47zM264.36 298.3h13.47v23.5h-13.47zM290.7 367.9h13.47v23.5h-13.47zM277.53 530.3h13.47v23.5h-13.47zM290.7 530.3h13.47v23.5h-13.47zM290.7 553.5h13.47v23.5h-13.47zM251.19 1063.9h13.47v23.5h-13.47zM264.36 1133.5h13.47v23.5h-13.47z"/>
<path fill="#F8E1E1" d="M398.32 205.5h13.47v23.5h-13.47zM398.32 228.7h13.47v23.5h-13.47zM290.7 251.9h13.47v23.5h-13.47zM277.53 275.1h13.47v23.5h-13.47zM411.49 344.7h13.47v23.5h-13.47zM185.34 391.1h13.47v23.5h-13.47zM185.34 437.5h13.47v23.5h-13.47zM185.34 553.5h13.47v23.5h-13.47zM451 553.5h13.47v23.5h-13.47zM464.17 623.1h13.47v23.5h-13.47zM277.53 646.3h13.47v23.5h-13.47zM303.87 646.3h13.47v23.5h-13.47zM238.02 692.7h13.47v23.5h-13.47zM251.19 715.9h13.47v23.5h-13.47zM264.36 715.9h13.47v23.5h-13.47zM264.36 762.3h13.47v23.5h-13.47zM238.02 785.5h13.47v23.5h-13.47zM398.32 901.5h13.47v23.5h-13.47zM345.64 924.7h13.47v23.5h-13.47zM345.64 947.9h13.47v23.5h-13.47zM172.17 994.3h13.47v23.5h-13.47zM251.19 1017.5h13.47v23.5h-13.47zM264.36 1017.5h13.47v23.5h-13.47zM277.53 1040.7h13.47v23.5h-13.47zM290.7 1040.7h13.47v23.5h-13.47zM303.87 1087.1h13.47v23.5h-13.47zM290.7 1110.3h13.47v23.5h-13.47zM303.87 1110.3h13.47v23.5h-13.47zM398.32 1133.5h13.47v23.5h-13.47zM303.87 1179.9h13.47v23.5h-13.47zM277.53 1203.1h13.47v23.5h-13.47z"/>
<path fill="#F5D7D7" d="M411.49 205.5h13.47v23.5h-13.47zM424.66 205.5h13.47v23.5h-13.47zM290.7 275.1h13.47v23.5h-13.47zM411.49 367.9h13.47v23.5h-13.47zM424.66 367.9h13.47v23.5h-13.47zM319.3 391.1h13.47v23.5h-13.47zM332.47 391.1h13.47v23.5h-13.47zM345.64 391.1h13.47v23.5h-13.47zM385.15 414.3h13.47v23.5h-13.47zM277.53 553.5h13.47v23.5h-13.47zM464.17 553.5h13.47v23.5h-13.47zM238.02 576.7h13.47v23.5h-13.47zM251.19 576.7h13.47v23.5h-13.47zM238.02 623.1h13.47v23.5h-13.47zM238.02 646.3h13.47v23.5h-13.47zM251.19 646.3h13.47v23.5h-13.47zM264.36 646.3h13.47v23.5h-13.47zM290.7 646.3h13.47v23.5h-13.47zM251.19 669.5h13.47v23.5h-13.47zM319.3 669.5h13.47v23.5h-13.47zM345.64 669.5h13.47v23.5h-13.47zM238.02 715.9h13.47v23.5h-13.47zM251.19 739.1h13.47v23.5h-13.47zM264.36 739.1h13.47v23.5h-13.47zM398.32 739.1h13.47v23.5h-13.47zM238.02 762.3h13.47v23.5h-13.47zM251.19 762.3h13.47v23.5h-13.47zM185.34 785.5h13.47v23.5h-13.47zM251.19 785.5h13.47v23.5h-13.47zM332.47 924.7h13.47v23.5h-13.47zM398.32 924.7h13.47v23.5h-13.47zM411.49 924.7h13.47v23.5h-13.47zM424.66 971.1h13.47v23.5h-13.47zM238.02 994.3h13.47v23.5h-13.47zM251.19 994.3h13.47v23.5h-13.47zM303.87 1063.9h13.47v23.5h-13.47zM303.87 1156.7h13.47v23.5h-13.47zM264.36 1203.1h13.47v23.5h-13.47z"/>
<path fill="#FEF9F9" d="M398.32 251.9h13.47v23.5h-13.47zM411.49 251.9h13.47v23.5h-13.47zM424.66 251.9h13.47v23.5h-13.47zM211.68 483.9h13.47v23.5h-13.47zM277.53 483.9h13.47v23.5h-13.47zM290.7 483.9h13.47v23.5h-13.47zM277.53 599.9h13.47v23.5h-13.47zM424.66 599.9h13.47v23.5h-13.47zM264.36 669.5h13.47v23.5h-13.47zM398.32 692.7h13.47v23.5h-13.47zM319.3 715.9h13.47v23.5h-13.47zM411.49 762.3h13.47v23.5h-13.47zM424.66 762.3h13.47v23.5h-13.47zM238.02 808.7h13.47v23.5h-13.47zM251.19 831.9h13.47v23.5h-13.47zM464.17 855.1h13.47v23.5h-13.47zM451 924.7h13.47v23.5h-13.47zM264.36 971.1h13.47v23.5h-13.47zM290.7 1063.9h13.47v23.5h-13.47zM398.32 1110.3h13.47v23.5h-13.47zM277.53 1133.5h13.47v23.5h-13.47zM290.7 1133.5h13.47v23.5h-13.47zM277.53 1156.7h13.47v23.5h-13.47z"/>
<path fill="#F0C0C0" d="M277.53 298.3h13.47v23.5h-13.47zM303.87 298.3h13.47v23.5h-13.47zM424.66 298.3h13.47v23.5h-13.47zM424.66 321.5h13.47v23.5h-13.47zM238.02 437.5h13.47v23.5h-13.47zM264.36 460.7h13.47v23.5h-13.47zM290.7 507.1h13.47v23.5h-13.47zM303.87 507.1h13.47v23.5h-13.47zM277.53 576.7h13.47v23.5h-13.47zM290.7 576.7h13.47v23.5h-13.47zM303.87 576.7h13.47v23.5h-13.47zM398.32 599.9h13.47v23.5h-13.47zM424.66 855.1h13.47v23.5h-13.47zM411.49 878.3h13.47v23.5h-13.47zM464.17 901.5h13.47v23.5h-13.47zM238.02 1040.7h13.47v23.5h-13.47zM251.19 1087.1h13.47v23.5h-13.47z"/>
<path fill="#4858A0" d="M371.98 298.3h13.47v23.5h-13.47zM385.15 298.3h13.47v23.5h-13.47zM371.98 530.3h13.47v23.5h-13.47zM385.15 530.3h13.47v23.5h-13.47z"/>
<path fill="#E85058" d="M238.02 344.7h13.47v23.5h-13.47z"/>
<path fill="#E8EAF3" d="M211.68 391.1h13.47v23.5h-13.47zM172.17 483.9h13.47v23.5h-13.47zM371.98 599.9h13.47v23.5h-13.47zM290.7 692.7h13.47v23.5h-13.47zM277.53 739.1h13.47v23.5h-13.47zM290.7 739.1h13.47v23.5h-13.47zM211.68 762.3h13.47v23.5h-13.47zM345.64 808.7h13.47v23.5h-13.47zM451 855.1h13.47v23.5h-13.47zM185.34 901.5h13.47v23.5h-13.47zM159 924.7h13.47v23.5h-13.47zM172.17 1040.7h13.47v23.5h-13.47zM172.17 1063.9h13.47v23.5h-13.47z"/>
<path fill="#F6F7FB" d="M224.85 414.3h13.47v23.5h-13.47zM451 623.1h13.47v23.5h-13.47zM303.87 669.5h13.47v23.5h-13.47zM332.47 669.5h13.47v23.5h-13.47zM424.66 669.5h13.47v23.5h-13.47zM424.66 692.7h13.47v23.5h-13.47zM398.32 715.9h13.47v23.5h-13.47zM159 785.5h13.47v23.5h-13.47zM277.53 785.5h13.47v23.5h-13.47zM345.64 785.5h13.47v23.5h-13.47zM159 808.7h13.47v23.5h-13.47zM319.3 808.7h13.47v23.5h-13.47zM358.81 831.9h13.47v23.5h-13.47zM371.98 831.9h13.47v23.5h-13.47zM385.15 831.9h13.47v23.5h-13.47zM437.83 878.3h13.47v23.5h-13.47zM290.7 947.9h13.47v23.5h-13.47zM437.83 947.9h13.47v23.5h-13.47zM451 947.9h13.47v23.5h-13.47zM172.17 971.1h13.47v23.5h-13.47zM303.87 971.1h13.47v23.5h-13.47zM398.32 1017.5h13.47v23.5h-13.47zM211.68 1203.1h13.47v23.5h-13.47z"/>
<path fill="#F1F2F8" d="M345.64 414.3h13.47v23.5h-13.47zM319.3 437.5h13.47v23.5h-13.47zM172.17 460.7h13.47v23.5h-13.47zM251.19 599.9h13.47v23.5h-13.47zM358.81 599.9h13.47v23.5h-13.47zM398.32 623.1h13.47v23.5h-13.47zM277.53 669.5h13.47v23.5h-13.47zM290.7 669.5h13.47v23.5h-13.47zM319.3 692.7h13.47v23.5h-13.47zM159 762.3h13.47v23.5h-13.47zM198.51 762.3h13.47v23.5h-13.47zM411.49 785.5h13.47v23.5h-13.47zM424.66 785.5h13.47v23.5h-13.47zM172.17 808.7h13.47v23.5h-13.47zM303.87 808.7h13.47v23.5h-13.47zM238.02 831.9h13.47v23.5h-13.47zM345.64 831.9h13.47v23.5h-13.47zM277.53 855.1h13.47v23.5h-13.47zM277.53 901.5h13.47v23.5h-13.47zM437.83 924.7h13.47v23.5h-13.47zM238.02 947.9h13.47v23.5h-13.47zM345.64 994.3h13.47v23.5h-13.47zM185.34 1017.5h13.47v23.5h-13.47zM398.32 1040.7h13.47v23.5h-13.47zM185.34 1179.9h13.47v23.5h-13.47z"/>
<path fill="#7B83BB" d="M159 576.7h13.47v23.5h-13.47z"/>
<path fill="#DADCEC" d="M371.98 901.5h13.47v23.5h-13.47z"/>
<rect x="317.04" y="66.3" width="2.26" height="1160" fill="#fff"/>
<g transform="translate(483.5 0) scale(1.065 1) translate(-483.5 0)">
<text x="483.5" y="84.7" font-size="19.5" font-style="italic" fill="#111">E2f4</text>
<text x="483.5" y="107.9" font-size="19.5" font-style="italic" fill="#111">Jun</text>
<text x="483.5" y="131.1" font-size="19.5" font-style="italic" fill="#111">Nfkb1</text>
<text x="483.5" y="154.3" font-size="19.5" font-style="italic" fill="#111">Rela</text>
<text x="483.5" y="177.5" font-size="19.5" font-style="italic" fill="#111">Spi1</text>
<text x="483.5" y="200.7" font-size="19.5" font-style="italic" fill="#111">Stat3</text>
<text x="483.5" y="223.9" font-size="19.5" font-style="italic" fill="#111">Irf9</text>
<text x="483.5" y="247.1" font-size="19.5" font-style="italic" fill="#111">Rel</text>
<text x="483.5" y="270.3" font-size="19.5" font-style="italic" fill="#111">Fos</text>
<text x="483.5" y="293.5" font-size="19.5" font-style="italic" fill="#111">Foxl2</text>
<text x="483.5" y="316.7" font-size="19.5" font-style="italic" fill="#111">Hif1a</text>
<text x="483.5" y="339.9" font-size="19.5" font-style="italic" fill="#111">Stat2</text>
<text x="483.5" y="363.1" font-size="19.5" font-style="italic" fill="#111">Irf1</text>
<text x="483.5" y="386.3" font-size="19.5" font-style="italic" fill="#111">Stat1</text>
<text x="483.5" y="409.5" font-size="19.5" font-style="italic" fill="#111">Nfya</text>
<text x="483.5" y="432.7" font-size="19.5" font-style="italic" fill="#111">Rest</text>
<text x="483.5" y="455.9" font-size="19.5" font-style="italic" fill="#111">Egr1</text>
<text x="483.5" y="479.1" font-size="19.5" font-style="italic" fill="#111">Esr1</text>
<text x="483.5" y="502.3" font-size="19.5" font-style="italic" fill="#111">Fosl2</text>
<text x="483.5" y="525.5" font-size="19.5" font-style="italic" fill="#111">Ets1</text>
<text x="483.5" y="548.7" font-size="19.5" font-style="italic" fill="#111">Sp1</text>
<text x="483.5" y="571.9" font-size="19.5" font-style="italic" fill="#111">Srebf1</text>
<text x="483.5" y="595.1" font-size="19.5" font-style="italic" fill="#111">Trp53</text>
<text x="483.5" y="618.3" font-size="19.5" font-style="italic" fill="#111">Hnf1a</text>
<text x="483.5" y="641.5" font-size="19.5" font-style="italic" fill="#111">Hnf4a</text>
<text x="483.5" y="664.7" font-size="19.5" font-style="italic" fill="#111">Nfkb2</text>
<text x="483.5" y="687.9" font-size="19.5" font-style="italic" fill="#111">Sox10</text>
<text x="483.5" y="711.1" font-size="19.5" font-style="italic" fill="#111">Stat5a</text>
<text x="483.5" y="734.3" font-size="19.5" font-style="italic" fill="#111">Stat5b</text>
<text x="483.5" y="757.5" font-size="19.5" font-style="italic" fill="#111">Erg</text>
<text x="483.5" y="780.7" font-size="19.5" font-style="italic" fill="#111">Klf4</text>
<text x="483.5" y="803.9" font-size="19.5" font-style="italic" fill="#111">Etv4</text>
<text x="483.5" y="827.1" font-size="19.5" font-style="italic" fill="#111">Twist1</text>
<text x="483.5" y="850.3" font-size="19.5" font-style="italic" fill="#111">Nfatc2</text>
<text x="483.5" y="873.5" font-size="19.5" font-style="italic" fill="#111">Rxra</text>
<text x="483.5" y="896.7" font-size="19.5" font-style="italic" fill="#111">Arnt</text>
<text x="483.5" y="919.9" font-size="19.5" font-style="italic" fill="#111">Nr5a1</text>
<text x="483.5" y="943.1" font-size="19.5" font-style="italic" fill="#111">Rfx5</text>
<text x="483.5" y="966.3" font-size="19.5" font-style="italic" fill="#111">Sox2</text>
<text x="483.5" y="989.5" font-size="19.5" font-style="italic" fill="#111">Nfe2l2</text>
<text x="483.5" y="1012.7" font-size="19.5" font-style="italic" fill="#111">Pax6</text>
<text x="483.5" y="1035.9" font-size="19.5" font-style="italic" fill="#111">Pou2f1</text>
<text x="483.5" y="1059.1" font-size="19.5" font-style="italic" fill="#111">Creb1</text>
<text x="483.5" y="1082.3" font-size="19.5" font-style="italic" fill="#111">Ets2</text>
<text x="483.5" y="1105.5" font-size="19.5" font-style="italic" fill="#111">Atf4</text>
<text x="483.5" y="1128.7" font-size="19.5" font-style="italic" fill="#111">Epas1</text>
<text x="483.5" y="1151.9" font-size="19.5" font-style="italic" fill="#111">Jund</text>
<text x="483.5" y="1175.1" font-size="19.5" font-style="italic" fill="#111">Smad3</text>
<text x="483.5" y="1198.3" font-size="19.5" font-style="italic" fill="#111">Bach1</text>
<text x="483.5" y="1221.5" font-size="19.5" font-style="italic" fill="#111">Fosl1</text>
</g>
<rect x="550.8" y="70.8" width="12.4" height="12.4" fill="#000000" stroke="#222" stroke-width="1.6"/>
<text x="580" y="84.4" font-size="21.5" fill="#111">Ctrl</text>
<rect x="550.8" y="97.7" width="12.4" height="12.4" fill="#E3BF69" stroke="#222" stroke-width="1.6"/>
<text x="580" y="111" font-size="21.5" fill="#111">GC</text>
<rect x="550.8" y="124.6" width="12.4" height="12.4" fill="#0B6A8A" stroke="#222" stroke-width="1.6"/>
<text x="580" y="137.6" font-size="21.5" fill="#111">LPS</text>
<rect x="550.8" y="151.5" width="12.4" height="12.4" fill="#1E9470" stroke="#222" stroke-width="1.6"/>
<text x="580" y="164.2" font-size="21.5" fill="#111">GC + LPS</text>
<text x="584.5" y="989.8" font-size="21.5" fill="#111">Relative</text>
<text x="584.5" y="1018.8" font-size="21.5" fill="#111">TF activity</text>
<defs><linearGradient id="hg" x1="0" y1="0" x2="0" y2="1">
<stop offset="0" stop-color="rgb(236, 28, 40)"/>
<stop offset="0.04" stop-color="rgb(236, 30, 42)"/>
<stop offset="0.16" stop-color="rgb(230, 75, 85)"/>
<stop offset="0.28" stop-color="rgb(226, 128, 132)"/>
<stop offset="0.39" stop-color="rgb(240, 200, 200)"/>
<stop offset="0.49" stop-color="rgb(252, 248, 248)"/>
<stop offset="0.51" stop-color="rgb(250, 250, 252)"/>
<stop offset="0.63" stop-color="rgb(176, 181, 212)"/>
<stop offset="0.75" stop-color="rgb(98, 108, 170)"/>
<stop offset="0.87" stop-color="rgb(48, 72, 155)"/>
<stop offset="0.99" stop-color="rgb(43, 58, 140)"/>
<stop offset="1" stop-color="rgb(43, 58, 140)"/>
</linearGradient></defs>
<rect x="582.7" y="1038.4" width="32.5" height="181.3" fill="url(#hg)"/>
<line x1="582.7" y1="1045.6" x2="590.7" y2="1045.6" stroke="#fff" stroke-width="2.2"/>
<line x1="607.2" y1="1045.6" x2="615.2" y2="1045.6" stroke="#fff" stroke-width="2.2"/>
<text x="647.2" y="1055.5" font-size="22" text-anchor="end" fill="#111">10</text>
<line x1="582.7" y1="1087.2" x2="590.7" y2="1087.2" stroke="#fff" stroke-width="2.2"/>
<line x1="607.2" y1="1087.2" x2="615.2" y2="1087.2" stroke="#fff" stroke-width="2.2"/>
<text x="647.2" y="1097.05" font-size="22" text-anchor="end" fill="#111">5</text>
<line x1="582.7" y1="1128.8" x2="590.7" y2="1128.8" stroke="#fff" stroke-width="2.2"/>
<line x1="607.2" y1="1128.8" x2="615.2" y2="1128.8" stroke="#fff" stroke-width="2.2"/>
<text x="647.2" y="1138.6" font-size="22" text-anchor="end" fill="#111">0</text>
<line x1="582.7" y1="1170.4" x2="590.7" y2="1170.4" stroke="#fff" stroke-width="2.2"/>
<line x1="607.2" y1="1170.4" x2="615.2" y2="1170.4" stroke="#fff" stroke-width="2.2"/>
<text x="647.2" y="1180.15" font-size="22" text-anchor="end" fill="#111">-5</text>
<line x1="582.7" y1="1212" x2="590.7" y2="1212" stroke="#fff" stroke-width="2.2"/>
<line x1="607.2" y1="1212" x2="615.2" y2="1212" stroke="#fff" stroke-width="2.2"/>
<text x="647.2" y="1221.7" font-size="22" text-anchor="end" fill="#111">-10</text>
<path d="M155.2 124.3V147.5M155.2 124.3H158.9M155.2 147.5H158.9M151.7 101.1V135.9M151.7 101.1H158.9M151.7 135.9H155.2M156 170.7V193.9M156 170.7H158.9M156 193.9H158.9M155 217.1V240.3M155 217.1H158.9M155 240.3H158.9M154 182.3V228.7M154 182.3H156M154 228.7H155M155.5 263.5V286.7M155.5 263.5H158.9M155.5 286.7H158.9M151.5 205.5V275.1M151.5 205.5H154M151.5 275.1H155.5M156.5 356.3V379.5M156.5 356.3H158.9M156.5 379.5H158.9M154.5 333.1V367.9M154.5 333.1H158.9M154.5 367.9H156.5M152.5 309.9V350.5M152.5 309.9H158.9M152.5 350.5H154.5M149.5 240.3V330.2M149.5 240.3H151.5M149.5 330.2H152.5M147.6 118.5V285.25M147.6 118.5H151.7M147.6 285.25H149.5M152.5 402.7V425.9M152.5 402.7H158.9M152.5 425.9H158.9M155.5 472.3V495.5M155.5 472.3H158.9M155.5 495.5H158.9M153.5 449.1V483.9M153.5 449.1H158.9M153.5 483.9H155.5M153.5 518.7V541.9M153.5 518.7H158.9M153.5 541.9H158.9M150 466.5V530.3M150 466.5H153.5M150 530.3H153.5M148 498.4V565.1M148 498.4H150M148 565.1H158.9M154 611.5V634.7M154 611.5H158.9M154 634.7H158.9M152 588.3V623.1M152 588.3H158.9M152 623.1H154M153 681.1V704.3M153 681.1H158.9M153 704.3H158.9M150 657.9V692.7M150 657.9H158.9M150 692.7H153M154 750.7V773.9M154 750.7H158.9M154 773.9H158.9M151 727.5V762.3M151 727.5H158.9M151 762.3H154M152 797.1V820.3M152 797.1H158.9M152 820.3H158.9M153 843.5V866.7M153 843.5H158.9M153 866.7H158.9M154 889.9V913.1M154 889.9H158.9M154 913.1H158.9M150 855.1V901.5M150 855.1H153M150 901.5H154M152 936.3V959.5M152 936.3H158.9M152 959.5H158.9M154 1005.9V1029.1M154 1005.9H158.9M154 1029.1H158.9M151 982.7V1017.5M151 982.7H158.9M151 1017.5H154M152 1052.3V1075.5M152 1052.3H158.9M152 1075.5H158.9M153 1098.7V1121.9M153 1098.7H158.9M153 1121.9H158.9M154 1145.1V1168.3M154 1145.1H158.9M154 1168.3H158.9M155 1191.5V1214.7M155 1191.5H158.9M155 1214.7H158.9M150 1156.7V1203.1M150 1156.7H154M150 1203.1H155M149 1110.3V1179.9M149 1110.3H153M149 1179.9H150M148.5 1063.9V1145.1M148.5 1063.9H152M148.5 1145.1H149M148 1000.1V1104.5M148 1000.1H151M148 1104.5H148.5M147.5 947.9V1052.3M147.5 947.9H152M147.5 1052.3H148M147 878.3V1000.1M147 878.3H150M147 1000.1H147.5M146.5 808.7V939.2M146.5 808.7H152M146.5 939.2H147M146 744.9V873.95M146 744.9H151M146 873.95H146.5M145.5 675.3V809.42M145.5 675.3H150M145.5 809.42H146M145 605.7V742.36M145 605.7H152M145 742.36H145.5M144.5 531.75V674.03M144.5 531.75H148M144.5 674.03H145M143.5 414.3V602.89M143.5 414.3H152.5M143.5 602.89H144.5M136.3 201.88V508.6M136.3 201.88H147.6M136.3 508.6H143.5M128 77.9V355.24M128 77.9H158.9M128 355.24H136.3" stroke="#000" stroke-width="1.9" fill="none" stroke-linecap="square"/>
<line x1="1301.7" y1="21.6" x2="1301.7" y2="158.62" stroke="#EBEBEB" stroke-width="2"/>
<line x1="1333.1" y1="21.6" x2="1333.1" y2="158.62" stroke="#EBEBEB" stroke-width="1.6"/>
<line x1="1364.5" y1="21.6" x2="1364.5" y2="158.62" stroke="#EBEBEB" stroke-width="2"/>
<line x1="1395.9" y1="21.6" x2="1395.9" y2="158.62" stroke="#EBEBEB" stroke-width="1.6"/>
<line x1="1427.3" y1="21.6" x2="1427.3" y2="158.62" stroke="#EBEBEB" stroke-width="2"/>
<line x1="1458.7" y1="21.6" x2="1458.7" y2="158.62" stroke="#EBEBEB" stroke-width="1.6"/>
<line x1="1490.1" y1="21.6" x2="1490.1" y2="158.62" stroke="#EBEBEB" stroke-width="2"/>
<line x1="1521.5" y1="21.6" x2="1521.5" y2="158.62" stroke="#EBEBEB" stroke-width="1.6"/>
<line x1="1552.9" y1="21.6" x2="1552.9" y2="158.62" stroke="#EBEBEB" stroke-width="2"/>
<line x1="1584.3" y1="21.6" x2="1584.3" y2="158.62" stroke="#EBEBEB" stroke-width="1.6"/>
<line x1="1277.1" y1="34.86" x2="1614.5" y2="34.86" stroke="#EBEBEB" stroke-width="2"/>
<line x1="1277.1" y1="56.96" x2="1614.5" y2="56.96" stroke="#EBEBEB" stroke-width="2"/>
<line x1="1277.1" y1="79.06" x2="1614.5" y2="79.06" stroke="#EBEBEB" stroke-width="2"/>
<line x1="1277.1" y1="101.16" x2="1614.5" y2="101.16" stroke="#EBEBEB" stroke-width="2"/>
<line x1="1277.1" y1="123.26" x2="1614.5" y2="123.26" stroke="#EBEBEB" stroke-width="2"/>
<line x1="1277.1" y1="145.36" x2="1614.5" y2="145.36" stroke="#EBEBEB" stroke-width="2"/>
<circle cx="1442.5" cy="34.86" r="10.8" fill="#E31B2A"/>
<circle cx="1423.3" cy="56.96" r="8.5" fill="#E28A77"/>
<circle cx="1393.6" cy="79.06" r="10.5" fill="#E5917F"/>
<circle cx="1368.4" cy="101.16" r="10.4" fill="#E79886"/>
<circle cx="1379.7" cy="123.26" r="8.6" fill="#E89A89"/>
<circle cx="1382.4" cy="145.36" r="6.8" fill="#EAA292"/>
<rect x="1614.5" y="21.6" width="16.9" height="137.02" fill="#D6D7D9" stroke="#333333" stroke-width="2.2"/>
<rect x="1277.1" y="21.6" width="337.4" height="137.02" fill="none" stroke="#333333" stroke-width="2.2"/>
<text x="0" y="0" font-size="19" fill="#1a1a1a" text-anchor="middle" transform="translate(1616.8,90.11) rotate(90)">1</text>
<line x1="1272.1" y1="34.86" x2="1277.1" y2="34.86" stroke="#333333" stroke-width="2"/>
<text x="1268.3" y="39.76" font-size="19" text-anchor="end" fill="#2b2b2b">Diabetic cardiomyopathy</text>
<line x1="1272.1" y1="56.96" x2="1277.1" y2="56.96" stroke="#333333" stroke-width="2"/>
<text x="1268.3" y="61.86" font-size="19" text-anchor="end" font-weight="bold" fill="#2b2b2b">Oxidative phosphorylation</text>
<line x1="1272.1" y1="79.06" x2="1277.1" y2="79.06" stroke="#333333" stroke-width="2"/>
<text x="1268.3" y="83.96" font-size="19" text-anchor="end" fill="#2b2b2b">Parkinson disease</text>
<line x1="1272.1" y1="101.16" x2="1277.1" y2="101.16" stroke="#333333" stroke-width="2"/>
<text x="1268.3" y="106.06" font-size="19" text-anchor="end" fill="#2b2b2b">Prion disease</text>
<line x1="1272.1" y1="123.26" x2="1277.1" y2="123.26" stroke="#333333" stroke-width="2"/>
<text x="1268.3" y="128.16" font-size="19" text-anchor="end" fill="#2b2b2b">Non−alcoholic fatty liver disease</text>
<line x1="1272.1" y1="145.36" x2="1277.1" y2="145.36" stroke="#333333" stroke-width="2"/>
<text x="1268.3" y="150.26" font-size="19" text-anchor="end" fill="#2b2b2b">Cardiac muscle contraction</text>
<line x1="1301.7" y1="167.5" x2="1301.7" y2="194.02" stroke="#EBEBEB" stroke-width="2"/>
<line x1="1333.1" y1="167.5" x2="1333.1" y2="194.02" stroke="#EBEBEB" stroke-width="1.6"/>
<line x1="1364.5" y1="167.5" x2="1364.5" y2="194.02" stroke="#EBEBEB" stroke-width="2"/>
<line x1="1395.9" y1="167.5" x2="1395.9" y2="194.02" stroke="#EBEBEB" stroke-width="1.6"/>
<line x1="1427.3" y1="167.5" x2="1427.3" y2="194.02" stroke="#EBEBEB" stroke-width="2"/>
<line x1="1458.7" y1="167.5" x2="1458.7" y2="194.02" stroke="#EBEBEB" stroke-width="1.6"/>
<line x1="1490.1" y1="167.5" x2="1490.1" y2="194.02" stroke="#EBEBEB" stroke-width="2"/>
<line x1="1521.5" y1="167.5" x2="1521.5" y2="194.02" stroke="#EBEBEB" stroke-width="1.6"/>
<line x1="1552.9" y1="167.5" x2="1552.9" y2="194.02" stroke="#EBEBEB" stroke-width="2"/>
<line x1="1584.3" y1="167.5" x2="1584.3" y2="194.02" stroke="#EBEBEB" stroke-width="1.6"/>
<line x1="1277.1" y1="180.76" x2="1614.5" y2="180.76" stroke="#EBEBEB" stroke-width="2"/>
<circle cx="1527" cy="180.76" r="6.4" fill="#E07862"/>
<rect x="1614.5" y="167.5" width="16.9" height="26.52" fill="#D6D7D9" stroke="#333333" stroke-width="2.2"/>
<rect x="1277.1" y="167.5" width="337.4" height="26.52" fill="none" stroke="#333333" stroke-width="2.2"/>
<text x="0" y="0" font-size="19" fill="#1a1a1a" text-anchor="middle" transform="translate(1616.8,180.76) rotate(90)">2</text>
<line x1="1272.1" y1="180.76" x2="1277.1" y2="180.76" stroke="#333333" stroke-width="2"/>
<text x="1268.3" y="185.66" font-size="19" text-anchor="end" fill="#2b2b2b">SNARE interactions in vesicular transport</text>
<line x1="1301.7" y1="201.6" x2="1301.7" y2="338.62" stroke="#EBEBEB" stroke-width="2"/>
<line x1="1333.1" y1="201.6" x2="1333.1" y2="338.62" stroke="#EBEBEB" stroke-width="1.6"/>
<line x1="1364.5" y1="201.6" x2="1364.5" y2="338.62" stroke="#EBEBEB" stroke-width="2"/>
<line x1="1395.9" y1="201.6" x2="1395.9" y2="338.62" stroke="#EBEBEB" stroke-width="1.6"/>
<line x1="1427.3" y1="201.6" x2="1427.3" y2="338.62" stroke="#EBEBEB" stroke-width="2"/>
<line x1="1458.7" y1="201.6" x2="1458.7" y2="338.62" stroke="#EBEBEB" stroke-width="1.6"/>
<line x1="1490.1" y1="201.6" x2="1490.1" y2="338.62" stroke="#EBEBEB" stroke-width="2"/>
<line x1="1521.5" y1="201.6" x2="1521.5" y2="338.62" stroke="#EBEBEB" stroke-width="1.6"/>
<line x1="1552.9" y1="201.6" x2="1552.9" y2="338.62" stroke="#EBEBEB" stroke-width="2"/>
<line x1="1584.3" y1="201.6" x2="1584.3" y2="338.62" stroke="#EBEBEB" stroke-width="1.6"/>
<line x1="1277.1" y1="214.86" x2="1614.5" y2="214.86" stroke="#EBEBEB" stroke-width="2"/>
<line x1="1277.1" y1="236.96" x2="1614.5" y2="236.96" stroke="#EBEBEB" stroke-width="2"/>
<line x1="1277.1" y1="259.06" x2="1614.5" y2="259.06" stroke="#EBEBEB" stroke-width="2"/>
<line x1="1277.1" y1="281.16" x2="1614.5" y2="281.16" stroke="#EBEBEB" stroke-width="2"/>
<line x1="1277.1" y1="303.26" x2="1614.5" y2="303.26" stroke="#EBEBEB" stroke-width="2"/>
<line x1="1277.1" y1="325.36" x2="1614.5" y2="325.36" stroke="#EBEBEB" stroke-width="2"/>
<circle cx="1599.4" cy="214.86" r="6.7" fill="#E07F69"/>
<circle cx="1549.3" cy="236.96" r="5.5" fill="#E9A191"/>
<circle cx="1384.7" cy="259.06" r="5.3" fill="#F2CFC8"/>
<circle cx="1497.4" cy="281.16" r="6.5" fill="#F3CFC9"/>
<circle cx="1437.2" cy="303.26" r="5.3" fill="#F2D0C9"/>
<circle cx="1321.6" cy="325.36" r="4.5" fill="#F1E4E1"/>
<rect x="1614.5" y="201.6" width="16.9" height="137.02" fill="#D6D7D9" stroke="#333333" stroke-width="2.2"/>
<rect x="1277.1" y="201.6" width="337.4" height="137.02" fill="none" stroke="#333333" stroke-width="2.2"/>
<text x="0" y="0" font-size="19" fill="#1a1a1a" text-anchor="middle" transform="translate(1616.8,270.11) rotate(90)">3</text>
<line x1="1272.1" y1="214.86" x2="1277.1" y2="214.86" stroke="#333333" stroke-width="2"/>
<text x="1268.3" y="219.76" font-size="19" text-anchor="end" fill="#2b2b2b">Base excision repair</text>
<line x1="1272.1" y1="236.96" x2="1277.1" y2="236.96" stroke="#333333" stroke-width="2"/>
<text x="1268.3" y="241.86" font-size="19" text-anchor="end" fill="#2b2b2b">Mismatch repair</text>
<line x1="1272.1" y1="259.06" x2="1277.1" y2="259.06" stroke="#333333" stroke-width="2"/>
<text x="1268.3" y="263.96" font-size="19" text-anchor="end" fill="#2b2b2b">Fanconi anemia pathway</text>
<line x1="1272.1" y1="281.16" x2="1277.1" y2="281.16" stroke="#333333" stroke-width="2"/>
<text x="1268.3" y="286.06" font-size="19" text-anchor="end" fill="#2b2b2b">Nucleotide excision repair</text>
<line x1="1272.1" y1="303.26" x2="1277.1" y2="303.26" stroke="#333333" stroke-width="2"/>
<text x="1268.3" y="308.16" font-size="19" text-anchor="end" fill="#2b2b2b">DNA replication</text>
<line x1="1272.1" y1="325.36" x2="1277.1" y2="325.36" stroke="#333333" stroke-width="2"/>
<text x="1268.3" y="330.26" font-size="19" text-anchor="end" fill="#2b2b2b">Colorectal cancer</text>
<line x1="1301.7" y1="346.1" x2="1301.7" y2="571.52" stroke="#EBEBEB" stroke-width="2"/>
<line x1="1333.1" y1="346.1" x2="1333.1" y2="571.52" stroke="#EBEBEB" stroke-width="1.6"/>
<line x1="1364.5" y1="346.1" x2="1364.5" y2="571.52" stroke="#EBEBEB" stroke-width="2"/>
<line x1="1395.9" y1="346.1" x2="1395.9" y2="571.52" stroke="#EBEBEB" stroke-width="1.6"/>
<line x1="1427.3" y1="346.1" x2="1427.3" y2="571.52" stroke="#EBEBEB" stroke-width="2"/>
<line x1="1458.7" y1="346.1" x2="1458.7" y2="571.52" stroke="#EBEBEB" stroke-width="1.6"/>
<line x1="1490.1" y1="346.1" x2="1490.1" y2="571.52" stroke="#EBEBEB" stroke-width="2"/>
<line x1="1521.5" y1="346.1" x2="1521.5" y2="571.52" stroke="#EBEBEB" stroke-width="1.6"/>
<line x1="1552.9" y1="346.1" x2="1552.9" y2="571.52" stroke="#EBEBEB" stroke-width="2"/>
<line x1="1584.3" y1="346.1" x2="1584.3" y2="571.52" stroke="#EBEBEB" stroke-width="1.6"/>
<line x1="1277.1" y1="359.36" x2="1614.5" y2="359.36" stroke="#EBEBEB" stroke-width="2"/>
<line x1="1277.1" y1="381.46" x2="1614.5" y2="381.46" stroke="#EBEBEB" stroke-width="2"/>
<line x1="1277.1" y1="403.56" x2="1614.5" y2="403.56" stroke="#EBEBEB" stroke-width="2"/>
<line x1="1277.1" y1="425.66" x2="1614.5" y2="425.66" stroke="#EBEBEB" stroke-width="2"/>
<line x1="1277.1" y1="447.76" x2="1614.5" y2="447.76" stroke="#EBEBEB" stroke-width="2"/>
<line x1="1277.1" y1="469.86" x2="1614.5" y2="469.86" stroke="#EBEBEB" stroke-width="2"/>
<line x1="1277.1" y1="491.96" x2="1614.5" y2="491.96" stroke="#EBEBEB" stroke-width="2"/>
<line x1="1277.1" y1="514.06" x2="1614.5" y2="514.06" stroke="#EBEBEB" stroke-width="2"/>
<line x1="1277.1" y1="536.16" x2="1614.5" y2="536.16" stroke="#EBEBEB" stroke-width="2"/>
<line x1="1277.1" y1="558.26" x2="1614.5" y2="558.26" stroke="#EBEBEB" stroke-width="2"/>
<circle cx="1421.8" cy="359.36" r="8" fill="#E07C64"/>
<circle cx="1440.8" cy="381.46" r="8.6" fill="#E48E78"/>
<circle cx="1391.2" cy="403.56" r="10.4" fill="#EBA595"/>
<circle cx="1328.7" cy="425.66" r="6.2" fill="#E9A494"/>
<circle cx="1447.9" cy="447.76" r="8.2" fill="#F0BDB2"/>
<circle cx="1345.3" cy="469.86" r="5.5" fill="#EDAD9F"/>
<circle cx="1426" cy="491.96" r="7.7" fill="#F2C4BA"/>
<circle cx="1348.3" cy="514.06" r="7.9" fill="#F4CAC2"/>
<circle cx="1356.6" cy="536.16" r="7.1" fill="#F4CAC1"/>
<circle cx="1366.3" cy="558.26" r="7.1" fill="#F4CEC6"/>
<rect x="1614.5" y="346.1" width="16.9" height="225.42" fill="#D6D7D9" stroke="#333333" stroke-width="2.2"/>
<rect x="1277.1" y="346.1" width="337.4" height="225.42" fill="none" stroke="#333333" stroke-width="2.2"/>
<text x="0" y="0" font-size="19" fill="#1a1a1a" text-anchor="middle" transform="translate(1616.8,458.81) rotate(90)">4</text>
<line x1="1272.1" y1="359.36" x2="1277.1" y2="359.36" stroke="#333333" stroke-width="2"/>
<text x="1268.3" y="364.26" font-size="19" text-anchor="end" fill="#2b2b2b">NF−kappa B signaling pathway</text>
<line x1="1272.1" y1="381.46" x2="1277.1" y2="381.46" stroke="#333333" stroke-width="2"/>
<text x="1268.3" y="386.36" font-size="19" text-anchor="end" fill="#2b2b2b">Th17 cell differentiation</text>
<line x1="1272.1" y1="403.56" x2="1277.1" y2="403.56" stroke="#333333" stroke-width="2"/>
<text x="1268.3" y="408.46" font-size="19" text-anchor="end" fill="#2b2b2b">Human T−cell leukemia virus 1 infection</text>
<line x1="1272.1" y1="425.66" x2="1277.1" y2="425.66" stroke="#333333" stroke-width="2"/>
<text x="1268.3" y="430.56" font-size="19" text-anchor="end" fill="#2b2b2b">Insulin resistance</text>
<line x1="1272.1" y1="447.76" x2="1277.1" y2="447.76" stroke="#333333" stroke-width="2"/>
<text x="1268.3" y="452.66" font-size="19" text-anchor="end" fill="#2b2b2b">Th1 and Th2 cell differentiation</text>
<line x1="1272.1" y1="469.86" x2="1277.1" y2="469.86" stroke="#333333" stroke-width="2"/>
<text x="1268.3" y="474.76" font-size="19" text-anchor="end" fill="#2b2b2b">Adipocytokine signaling pathway</text>
<line x1="1272.1" y1="491.96" x2="1277.1" y2="491.96" stroke="#333333" stroke-width="2"/>
<text x="1268.3" y="496.86" font-size="19" text-anchor="end" fill="#2b2b2b">PD−L1 expression and PD−1 checkpoint pathway in cancer</text>
<line x1="1272.1" y1="514.06" x2="1277.1" y2="514.06" stroke="#333333" stroke-width="2"/>
<text x="1268.3" y="518.96" font-size="19" text-anchor="end" fill="#2b2b2b">mTOR signaling pathway</text>
<line x1="1272.1" y1="536.16" x2="1277.1" y2="536.16" stroke="#333333" stroke-width="2"/>
<text x="1268.3" y="541.06" font-size="19" text-anchor="end" fill="#2b2b2b">T cell receptor signaling pathway</text>
<line x1="1272.1" y1="558.26" x2="1277.1" y2="558.26" stroke="#333333" stroke-width="2"/>
<text x="1268.3" y="563.16" font-size="19" text-anchor="end" fill="#2b2b2b">Toxoplasmosis</text>
<line x1="1301.7" y1="580" x2="1301.7" y2="606.52" stroke="#EBEBEB" stroke-width="2"/>
<line x1="1333.1" y1="580" x2="1333.1" y2="606.52" stroke="#EBEBEB" stroke-width="1.6"/>
<line x1="1364.5" y1="580" x2="1364.5" y2="606.52" stroke="#EBEBEB" stroke-width="2"/>
<line x1="1395.9" y1="580" x2="1395.9" y2="606.52" stroke="#EBEBEB" stroke-width="1.6"/>
<line x1="1427.3" y1="580" x2="1427.3" y2="606.52" stroke="#EBEBEB" stroke-width="2"/>
<line x1="1458.7" y1="580" x2="1458.7" y2="606.52" stroke="#EBEBEB" stroke-width="1.6"/>
<line x1="1490.1" y1="580" x2="1490.1" y2="606.52" stroke="#EBEBEB" stroke-width="2"/>
<line x1="1521.5" y1="580" x2="1521.5" y2="606.52" stroke="#EBEBEB" stroke-width="1.6"/>
<line x1="1552.9" y1="580" x2="1552.9" y2="606.52" stroke="#EBEBEB" stroke-width="2"/>
<line x1="1584.3" y1="580" x2="1584.3" y2="606.52" stroke="#EBEBEB" stroke-width="1.6"/>
<line x1="1277.1" y1="593.26" x2="1614.5" y2="593.26" stroke="#EBEBEB" stroke-width="2"/>
<circle cx="1470.1" cy="593.26" r="10.5" fill="#E38068"/>
<rect x="1614.5" y="580" width="16.9" height="26.52" fill="#D6D7D9" stroke="#333333" stroke-width="2.2"/>
<rect x="1277.1" y="580" width="337.4" height="26.52" fill="none" stroke="#333333" stroke-width="2.2"/>
<text x="0" y="0" font-size="19" fill="#1a1a1a" text-anchor="middle" transform="translate(1616.8,593.26) rotate(90)">5</text>
<line x1="1272.1" y1="593.26" x2="1277.1" y2="593.26" stroke="#333333" stroke-width="2"/>
<text x="1268.3" y="598.16" font-size="19" text-anchor="end" fill="#2b2b2b">Spliceosome</text>
<line x1="1301.7" y1="614.1" x2="1301.7" y2="839.52" stroke="#EBEBEB" stroke-width="2"/>
<line x1="1333.1" y1="614.1" x2="1333.1" y2="839.52" stroke="#EBEBEB" stroke-width="1.6"/>
<line x1="1364.5" y1="614.1" x2="1364.5" y2="839.52" stroke="#EBEBEB" stroke-width="2"/>
<line x1="1395.9" y1="614.1" x2="1395.9" y2="839.52" stroke="#EBEBEB" stroke-width="1.6"/>
<line x1="1427.3" y1="614.1" x2="1427.3" y2="839.52" stroke="#EBEBEB" stroke-width="2"/>
<line x1="1458.7" y1="614.1" x2="1458.7" y2="839.52" stroke="#EBEBEB" stroke-width="1.6"/>
<line x1="1490.1" y1="614.1" x2="1490.1" y2="839.52" stroke="#EBEBEB" stroke-width="2"/>
<line x1="1521.5" y1="614.1" x2="1521.5" y2="839.52" stroke="#EBEBEB" stroke-width="1.6"/>
<line x1="1552.9" y1="614.1" x2="1552.9" y2="839.52" stroke="#EBEBEB" stroke-width="2"/>
<line x1="1584.3" y1="614.1" x2="1584.3" y2="839.52" stroke="#EBEBEB" stroke-width="1.6"/>
<line x1="1277.1" y1="627.36" x2="1614.5" y2="627.36" stroke="#EBEBEB" stroke-width="2"/>
<line x1="1277.1" y1="649.46" x2="1614.5" y2="649.46" stroke="#EBEBEB" stroke-width="2"/>
<line x1="1277.1" y1="671.56" x2="1614.5" y2="671.56" stroke="#EBEBEB" stroke-width="2"/>
<line x1="1277.1" y1="693.66" x2="1614.5" y2="693.66" stroke="#EBEBEB" stroke-width="2"/>
<line x1="1277.1" y1="715.76" x2="1614.5" y2="715.76" stroke="#EBEBEB" stroke-width="2"/>
<line x1="1277.1" y1="737.86" x2="1614.5" y2="737.86" stroke="#EBEBEB" stroke-width="2"/>
<line x1="1277.1" y1="759.96" x2="1614.5" y2="759.96" stroke="#EBEBEB" stroke-width="2"/>
<line x1="1277.1" y1="782.06" x2="1614.5" y2="782.06" stroke="#EBEBEB" stroke-width="2"/>
<line x1="1277.1" y1="804.16" x2="1614.5" y2="804.16" stroke="#EBEBEB" stroke-width="2"/>
<line x1="1277.1" y1="826.26" x2="1614.5" y2="826.26" stroke="#EBEBEB" stroke-width="2"/>
<circle cx="1396.6" cy="627.36" r="10.5" fill="#E4846E"/>
<circle cx="1386.5" cy="649.46" r="9" fill="#F0B5A8"/>
<circle cx="1362.2" cy="671.56" r="7.7" fill="#EBA797"/>
<circle cx="1386.2" cy="693.66" r="9.6" fill="#EFAC9E"/>
<circle cx="1415.9" cy="715.76" r="10.8" fill="#F0B4A7"/>
<circle cx="1397.5" cy="737.86" r="6.2" fill="#EEAC9F"/>
<circle cx="1309.1" cy="759.96" r="7.4" fill="#F0B5A8"/>
<circle cx="1415.3" cy="782.06" r="8.3" fill="#F2BEB2"/>
<circle cx="1368.7" cy="804.16" r="7.1" fill="#F3C4BA"/>
<circle cx="1383.2" cy="826.26" r="10.8" fill="#F4C7BE"/>
<rect x="1614.5" y="614.1" width="16.9" height="225.42" fill="#D6D7D9" stroke="#333333" stroke-width="2.2"/>
<rect x="1277.1" y="614.1" width="337.4" height="225.42" fill="none" stroke="#333333" stroke-width="2.2"/>
<text x="0" y="0" font-size="19" fill="#1a1a1a" text-anchor="middle" transform="translate(1616.8,726.81) rotate(90)">6</text>
<line x1="1272.1" y1="627.36" x2="1277.1" y2="627.36" stroke="#333333" stroke-width="2"/>
<text x="1268.3" y="632.26" font-size="19" text-anchor="end" fill="#2b2b2b">Thermogenesis</text>
<line x1="1272.1" y1="649.46" x2="1277.1" y2="649.46" stroke="#333333" stroke-width="2"/>
<text x="1268.3" y="654.36" font-size="19" text-anchor="end" fill="#2b2b2b">Tight junction</text>
<line x1="1272.1" y1="671.56" x2="1277.1" y2="671.56" stroke="#333333" stroke-width="2"/>
<text x="1268.3" y="676.46" font-size="19" text-anchor="end" fill="#2b2b2b">Apoptosis</text>
<line x1="1272.1" y1="693.66" x2="1277.1" y2="693.66" stroke="#333333" stroke-width="2"/>
<text x="1268.3" y="698.56" font-size="19" text-anchor="end" fill="#2b2b2b">Pathogenic Escherichia coli infection</text>
<line x1="1272.1" y1="715.76" x2="1277.1" y2="715.76" stroke="#333333" stroke-width="2"/>
<text x="1268.3" y="720.66" font-size="19" text-anchor="end" fill="#2b2b2b">Shigellosis</text>
<line x1="1272.1" y1="737.86" x2="1277.1" y2="737.86" stroke="#333333" stroke-width="2"/>
<text x="1268.3" y="742.76" font-size="19" text-anchor="end" fill="#2b2b2b">Viral myocarditis</text>
<line x1="1272.1" y1="759.96" x2="1277.1" y2="759.96" stroke="#333333" stroke-width="2"/>
<text x="1268.3" y="764.86" font-size="19" text-anchor="end" fill="#2b2b2b">Proteoglycans in cancer</text>
<line x1="1272.1" y1="782.06" x2="1277.1" y2="782.06" stroke="#333333" stroke-width="2"/>
<text x="1268.3" y="786.96" font-size="19" text-anchor="end" fill="#2b2b2b">Neutrophil extracellular trap formation</text>
<line x1="1272.1" y1="804.16" x2="1277.1" y2="804.16" stroke="#333333" stroke-width="2"/>
<text x="1268.3" y="809.06" font-size="19" text-anchor="end" fill="#2b2b2b">Leukocyte transendothelial migration</text>
<line x1="1272.1" y1="826.26" x2="1277.1" y2="826.26" stroke="#333333" stroke-width="2"/>
<text x="1268.3" y="831.16" font-size="19" text-anchor="end" fill="#2b2b2b">Salmonella infection</text>
<line x1="1301.7" y1="847.5" x2="1301.7" y2="896.12" stroke="#EBEBEB" stroke-width="2"/>
<line x1="1333.1" y1="847.5" x2="1333.1" y2="896.12" stroke="#EBEBEB" stroke-width="1.6"/>
<line x1="1364.5" y1="847.5" x2="1364.5" y2="896.12" stroke="#EBEBEB" stroke-width="2"/>
<line x1="1395.9" y1="847.5" x2="1395.9" y2="896.12" stroke="#EBEBEB" stroke-width="1.6"/>
<line x1="1427.3" y1="847.5" x2="1427.3" y2="896.12" stroke="#EBEBEB" stroke-width="2"/>
<line x1="1458.7" y1="847.5" x2="1458.7" y2="896.12" stroke="#EBEBEB" stroke-width="1.6"/>
<line x1="1490.1" y1="847.5" x2="1490.1" y2="896.12" stroke="#EBEBEB" stroke-width="2"/>
<line x1="1521.5" y1="847.5" x2="1521.5" y2="896.12" stroke="#EBEBEB" stroke-width="1.6"/>
<line x1="1552.9" y1="847.5" x2="1552.9" y2="896.12" stroke="#EBEBEB" stroke-width="2"/>
<line x1="1584.3" y1="847.5" x2="1584.3" y2="896.12" stroke="#EBEBEB" stroke-width="1.6"/>
<line x1="1277.1" y1="860.76" x2="1614.5" y2="860.76" stroke="#EBEBEB" stroke-width="2"/>
<line x1="1277.1" y1="882.86" x2="1614.5" y2="882.86" stroke="#EBEBEB" stroke-width="2"/>
<circle cx="1402.2" cy="860.76" r="9.8" fill="#E27C68"/>
<circle cx="1391" cy="882.86" r="7.1" fill="#F6D5CF"/>
<rect x="1614.5" y="847.5" width="16.9" height="48.62" fill="#D6D7D9" stroke="#333333" stroke-width="2.2"/>
<rect x="1277.1" y="847.5" width="337.4" height="48.62" fill="none" stroke="#333333" stroke-width="2.2"/>
<text x="0" y="0" font-size="19" fill="#1a1a1a" text-anchor="middle" transform="translate(1616.8,871.81) rotate(90)">7</text>
<line x1="1272.1" y1="860.76" x2="1277.1" y2="860.76" stroke="#333333" stroke-width="2"/>
<text x="1268.3" y="865.66" font-size="19" text-anchor="end" fill="#2b2b2b">RNA transport</text>
<line x1="1272.1" y1="882.86" x2="1277.1" y2="882.86" stroke="#333333" stroke-width="2"/>
<text x="1268.3" y="887.76" font-size="19" text-anchor="end" fill="#2b2b2b">mRNA surveillance pathway</text>
<line x1="1301.7" y1="896.12" x2="1301.7" y2="901.12" stroke="#333333" stroke-width="2"/>
<text x="1301.7" y="918.7" font-size="18.8" text-anchor="middle" fill="#2b2b2b">1</text>
<line x1="1364.5" y1="896.12" x2="1364.5" y2="901.12" stroke="#333333" stroke-width="2"/>
<text x="1364.5" y="918.7" font-size="18.8" text-anchor="middle" fill="#2b2b2b">2</text>
<line x1="1427.3" y1="896.12" x2="1427.3" y2="901.12" stroke="#333333" stroke-width="2"/>
<text x="1427.3" y="918.7" font-size="18.8" text-anchor="middle" fill="#2b2b2b">3</text>
<line x1="1490.1" y1="896.12" x2="1490.1" y2="901.12" stroke="#333333" stroke-width="2"/>
<text x="1490.1" y="918.7" font-size="18.8" text-anchor="middle" fill="#2b2b2b">4</text>
<line x1="1552.9" y1="896.12" x2="1552.9" y2="901.12" stroke="#333333" stroke-width="2"/>
<text x="1552.9" y="918.7" font-size="18.8" text-anchor="middle" fill="#2b2b2b">5</text>
<text x="1446.4" y="937.4" font-size="18.8" text-anchor="middle" fill="#111">Fold Enrichment</text>
<line x1="1304.4" y1="958.7" x2="1304.4" y2="1184.12" stroke="#EBEBEB" stroke-width="2"/>
<line x1="1335.53" y1="958.7" x2="1335.53" y2="1184.12" stroke="#EBEBEB" stroke-width="1.6"/>
<line x1="1366.65" y1="958.7" x2="1366.65" y2="1184.12" stroke="#EBEBEB" stroke-width="2"/>
<line x1="1397.78" y1="958.7" x2="1397.78" y2="1184.12" stroke="#EBEBEB" stroke-width="1.6"/>
<line x1="1428.9" y1="958.7" x2="1428.9" y2="1184.12" stroke="#EBEBEB" stroke-width="2"/>
<line x1="1460.03" y1="958.7" x2="1460.03" y2="1184.12" stroke="#EBEBEB" stroke-width="1.6"/>
<line x1="1491.15" y1="958.7" x2="1491.15" y2="1184.12" stroke="#EBEBEB" stroke-width="2"/>
<line x1="1522.28" y1="958.7" x2="1522.28" y2="1184.12" stroke="#EBEBEB" stroke-width="1.6"/>
<line x1="1553.4" y1="958.7" x2="1553.4" y2="1184.12" stroke="#EBEBEB" stroke-width="2"/>
<line x1="1584.53" y1="958.7" x2="1584.53" y2="1184.12" stroke="#EBEBEB" stroke-width="1.6"/>
<line x1="1279.5" y1="971.96" x2="1614.5" y2="971.96" stroke="#EBEBEB" stroke-width="2"/>
<line x1="1279.5" y1="994.06" x2="1614.5" y2="994.06" stroke="#EBEBEB" stroke-width="2"/>
<line x1="1279.5" y1="1016.16" x2="1614.5" y2="1016.16" stroke="#EBEBEB" stroke-width="2"/>
<line x1="1279.5" y1="1038.26" x2="1614.5" y2="1038.26" stroke="#EBEBEB" stroke-width="2"/>
<line x1="1279.5" y1="1060.36" x2="1614.5" y2="1060.36" stroke="#EBEBEB" stroke-width="2"/>
<line x1="1279.5" y1="1082.46" x2="1614.5" y2="1082.46" stroke="#EBEBEB" stroke-width="2"/>
<line x1="1279.5" y1="1104.56" x2="1614.5" y2="1104.56" stroke="#EBEBEB" stroke-width="2"/>
<line x1="1279.5" y1="1126.66" x2="1614.5" y2="1126.66" stroke="#EBEBEB" stroke-width="2"/>
<line x1="1279.5" y1="1148.76" x2="1614.5" y2="1148.76" stroke="#EBEBEB" stroke-width="2"/>
<line x1="1279.5" y1="1170.86" x2="1614.5" y2="1170.86" stroke="#EBEBEB" stroke-width="2"/>
<circle cx="1421.8" cy="971.96" r="8.4" fill="#EBA08F"/>
<circle cx="1364.6" cy="994.06" r="9" fill="#E9A191"/>
<circle cx="1369" cy="1016.16" r="9.8" fill="#EBA595"/>
<circle cx="1397.2" cy="1038.26" r="6.5" fill="#EBA797"/>
<circle cx="1368.4" cy="1060.36" r="9.3" fill="#EBA796"/>
<circle cx="1345.9" cy="1082.46" r="8.4" fill="#F2C4BA"/>
<circle cx="1412.9" cy="1104.56" r="8.9" fill="#F2C4BA"/>
<circle cx="1358.6" cy="1126.66" r="6.8" fill="#F0C0B5"/>
<circle cx="1399" cy="1148.76" r="9" fill="#F4CBC3"/>
<circle cx="1348.9" cy="1170.86" r="7.4" fill="#F5D0C8"/>
<rect x="1614.5" y="958.7" width="16.9" height="225.42" fill="#D6D7D9" stroke="#333333" stroke-width="2.2"/>
<rect x="1279.5" y="958.7" width="335" height="225.42" fill="none" stroke="#333333" stroke-width="2.2"/>
<text x="0" y="0" font-size="19" fill="#1a1a1a" text-anchor="middle" transform="translate(1616.8,1071.41) rotate(90)">8</text>
<line x1="1274.5" y1="971.96" x2="1279.5" y2="971.96" stroke="#333333" stroke-width="2"/>
<text x="1273.3" y="976.86" font-size="19" text-anchor="end" fill="#2b2b2b">Neurotrophin signaling pathway</text>
<line x1="1274.5" y1="994.06" x2="1279.5" y2="994.06" stroke="#333333" stroke-width="2"/>
<text x="1273.3" y="998.96" font-size="19" text-anchor="end" fill="#2b2b2b">Kaposi sarcoma−associated herpesvirus infection</text>
<line x1="1274.5" y1="1016.16" x2="1279.5" y2="1016.16" stroke="#333333" stroke-width="2"/>
<text x="1273.3" y="1021.06" font-size="19" text-anchor="end" fill="#2b2b2b">Human cytomegalovirus infection</text>
<line x1="1274.5" y1="1038.26" x2="1279.5" y2="1038.26" stroke="#333333" stroke-width="2"/>
<text x="1273.3" y="1043.16" font-size="19" text-anchor="end" fill="#2b2b2b">Gastric acid secretion</text>
<line x1="1274.5" y1="1060.36" x2="1279.5" y2="1060.36" stroke="#333333" stroke-width="2"/>
<text x="1273.3" y="1065.26" font-size="19" text-anchor="end" fill="#2b2b2b">Rap1 signaling pathway</text>
<line x1="1274.5" y1="1082.46" x2="1279.5" y2="1082.46" stroke="#333333" stroke-width="2"/>
<text x="1273.3" y="1087.36" font-size="19" text-anchor="end" fill="#2b2b2b">Human immunodeficiency virus 1 infection</text>
<line x1="1274.5" y1="1104.56" x2="1279.5" y2="1104.56" stroke="#333333" stroke-width="2"/>
<text x="1273.3" y="1109.46" font-size="19" text-anchor="end" fill="#2b2b2b">Fluid shear stress and atherosclerosis</text>
<line x1="1274.5" y1="1126.66" x2="1279.5" y2="1126.66" stroke="#333333" stroke-width="2"/>
<text x="1273.3" y="1131.56" font-size="19" text-anchor="end" fill="#2b2b2b">Glucagon signaling pathway</text>
<line x1="1274.5" y1="1148.76" x2="1279.5" y2="1148.76" stroke="#333333" stroke-width="2"/>
<text x="1273.3" y="1153.66" font-size="19" text-anchor="end" fill="#2b2b2b">Oxytocin signaling pathway</text>
<line x1="1274.5" y1="1170.86" x2="1279.5" y2="1170.86" stroke="#333333" stroke-width="2"/>
<text x="1273.3" y="1175.76" font-size="19" text-anchor="end" fill="#2b2b2b">Dopaminergic synapse</text>
<line x1="1304.4" y1="1192" x2="1304.4" y2="1306.92" stroke="#EBEBEB" stroke-width="2"/>
<line x1="1335.53" y1="1192" x2="1335.53" y2="1306.92" stroke="#EBEBEB" stroke-width="1.6"/>
<line x1="1366.65" y1="1192" x2="1366.65" y2="1306.92" stroke="#EBEBEB" stroke-width="2"/>
<line x1="1397.78" y1="1192" x2="1397.78" y2="1306.92" stroke="#EBEBEB" stroke-width="1.6"/>
<line x1="1428.9" y1="1192" x2="1428.9" y2="1306.92" stroke="#EBEBEB" stroke-width="2"/>
<line x1="1460.03" y1="1192" x2="1460.03" y2="1306.92" stroke="#EBEBEB" stroke-width="1.6"/>
<line x1="1491.15" y1="1192" x2="1491.15" y2="1306.92" stroke="#EBEBEB" stroke-width="2"/>
<line x1="1522.28" y1="1192" x2="1522.28" y2="1306.92" stroke="#EBEBEB" stroke-width="1.6"/>
<line x1="1553.4" y1="1192" x2="1553.4" y2="1306.92" stroke="#EBEBEB" stroke-width="2"/>
<line x1="1584.53" y1="1192" x2="1584.53" y2="1306.92" stroke="#EBEBEB" stroke-width="1.6"/>
<line x1="1279.5" y1="1205.26" x2="1614.5" y2="1205.26" stroke="#EBEBEB" stroke-width="2"/>
<line x1="1279.5" y1="1227.36" x2="1614.5" y2="1227.36" stroke="#EBEBEB" stroke-width="2"/>
<line x1="1279.5" y1="1249.46" x2="1614.5" y2="1249.46" stroke="#EBEBEB" stroke-width="2"/>
<line x1="1279.5" y1="1271.56" x2="1614.5" y2="1271.56" stroke="#EBEBEB" stroke-width="2"/>
<line x1="1279.5" y1="1293.66" x2="1614.5" y2="1293.66" stroke="#EBEBEB" stroke-width="2"/>
<circle cx="1332" cy="1205.26" r="7.3" fill="#E9998A"/>
<circle cx="1346.5" cy="1227.36" r="7.4" fill="#EEAC9F"/>
<circle cx="1363.7" cy="1249.46" r="8.2" fill="#F0BBB0"/>
<circle cx="1360.7" cy="1271.56" r="7.7" fill="#F4CBC3"/>
<circle cx="1470.1" cy="1293.66" r="4.7" fill="#F0E4E2"/>
<rect x="1614.5" y="1192" width="16.9" height="114.92" fill="#D6D7D9" stroke="#333333" stroke-width="2.2"/>
<rect x="1279.5" y="1192" width="335" height="114.92" fill="none" stroke="#333333" stroke-width="2.2"/>
<text x="0" y="0" font-size="19" fill="#1a1a1a" text-anchor="middle" transform="translate(1616.8,1249.46) rotate(90)">9</text>
<line x1="1274.5" y1="1205.26" x2="1279.5" y2="1205.26" stroke="#333333" stroke-width="2"/>
<text x="1273.3" y="1210.16" font-size="19" text-anchor="end" fill="#2b2b2b">JAK−STAT signaling pathway</text>
<line x1="1274.5" y1="1227.36" x2="1279.5" y2="1227.36" stroke="#333333" stroke-width="2"/>
<text x="1273.3" y="1232.26" font-size="19" text-anchor="end" fill="#2b2b2b">Autophagy − animal</text>
<line x1="1274.5" y1="1249.46" x2="1279.5" y2="1249.46" stroke="#333333" stroke-width="2"/>
<text x="1273.3" y="1254.36" font-size="19" text-anchor="end" fill="#2b2b2b">Cellular senescence</text>
<line x1="1274.5" y1="1271.56" x2="1279.5" y2="1271.56" stroke="#333333" stroke-width="2"/>
<text x="1273.3" y="1276.46" font-size="19" text-anchor="end" fill="#2b2b2b">Spinocerebellar ataxia</text>
<line x1="1274.5" y1="1293.66" x2="1279.5" y2="1293.66" stroke="#333333" stroke-width="2"/>
<text x="1273.3" y="1298.56" font-size="19" text-anchor="end" fill="#2b2b2b">Autophagy − other</text>
<line x1="1304.4" y1="1314.8" x2="1304.4" y2="1385.52" stroke="#EBEBEB" stroke-width="2"/>
<line x1="1335.53" y1="1314.8" x2="1335.53" y2="1385.52" stroke="#EBEBEB" stroke-width="1.6"/>
<line x1="1366.65" y1="1314.8" x2="1366.65" y2="1385.52" stroke="#EBEBEB" stroke-width="2"/>
<line x1="1397.78" y1="1314.8" x2="1397.78" y2="1385.52" stroke="#EBEBEB" stroke-width="1.6"/>
<line x1="1428.9" y1="1314.8" x2="1428.9" y2="1385.52" stroke="#EBEBEB" stroke-width="2"/>
<line x1="1460.03" y1="1314.8" x2="1460.03" y2="1385.52" stroke="#EBEBEB" stroke-width="1.6"/>
<line x1="1491.15" y1="1314.8" x2="1491.15" y2="1385.52" stroke="#EBEBEB" stroke-width="2"/>
<line x1="1522.28" y1="1314.8" x2="1522.28" y2="1385.52" stroke="#EBEBEB" stroke-width="1.6"/>
<line x1="1553.4" y1="1314.8" x2="1553.4" y2="1385.52" stroke="#EBEBEB" stroke-width="2"/>
<line x1="1584.53" y1="1314.8" x2="1584.53" y2="1385.52" stroke="#EBEBEB" stroke-width="1.6"/>
<line x1="1279.5" y1="1328.06" x2="1614.5" y2="1328.06" stroke="#EBEBEB" stroke-width="2"/>
<line x1="1279.5" y1="1350.16" x2="1614.5" y2="1350.16" stroke="#EBEBEB" stroke-width="2"/>
<line x1="1279.5" y1="1372.26" x2="1614.5" y2="1372.26" stroke="#EBEBEB" stroke-width="2"/>
<circle cx="1356.3" cy="1328.06" r="8.3" fill="#EBA495"/>
<circle cx="1321.3" cy="1350.16" r="5" fill="#F2E5E2"/>
<circle cx="1477.8" cy="1372.26" r="5" fill="#F2E5E2"/>
<rect x="1614.5" y="1314.8" width="16.9" height="70.72" fill="#D6D7D9" stroke="#333333" stroke-width="2.2"/>
<rect x="1279.5" y="1314.8" width="335" height="70.72" fill="none" stroke="#333333" stroke-width="2.2"/>
<text x="0" y="0" font-size="19" fill="#1a1a1a" text-anchor="middle" transform="translate(1616.8,1350.16) rotate(90)">10</text>
<line x1="1274.5" y1="1328.06" x2="1279.5" y2="1328.06" stroke="#333333" stroke-width="2"/>
<text x="1273.3" y="1332.96" font-size="19" text-anchor="end" fill="#2b2b2b">Viral carcinogenesis</text>
<line x1="1274.5" y1="1350.16" x2="1279.5" y2="1350.16" stroke="#333333" stroke-width="2"/>
<text x="1273.3" y="1355.06" font-size="19" text-anchor="end" fill="#2b2b2b">Longevity regulating pathway</text>
<line x1="1274.5" y1="1372.26" x2="1279.5" y2="1372.26" stroke="#333333" stroke-width="2"/>
<text x="1273.3" y="1377.16" font-size="19" text-anchor="end" fill="#2b2b2b">Circadian rhythm</text>
<line x1="1304.4" y1="1394" x2="1304.4" y2="1464.72" stroke="#EBEBEB" stroke-width="2"/>
<line x1="1335.53" y1="1394" x2="1335.53" y2="1464.72" stroke="#EBEBEB" stroke-width="1.6"/>
<line x1="1366.65" y1="1394" x2="1366.65" y2="1464.72" stroke="#EBEBEB" stroke-width="2"/>
<line x1="1397.78" y1="1394" x2="1397.78" y2="1464.72" stroke="#EBEBEB" stroke-width="1.6"/>
<line x1="1428.9" y1="1394" x2="1428.9" y2="1464.72" stroke="#EBEBEB" stroke-width="2"/>
<line x1="1460.03" y1="1394" x2="1460.03" y2="1464.72" stroke="#EBEBEB" stroke-width="1.6"/>
<line x1="1491.15" y1="1394" x2="1491.15" y2="1464.72" stroke="#EBEBEB" stroke-width="2"/>
<line x1="1522.28" y1="1394" x2="1522.28" y2="1464.72" stroke="#EBEBEB" stroke-width="1.6"/>
<line x1="1553.4" y1="1394" x2="1553.4" y2="1464.72" stroke="#EBEBEB" stroke-width="2"/>
<line x1="1584.53" y1="1394" x2="1584.53" y2="1464.72" stroke="#EBEBEB" stroke-width="1.6"/>
<line x1="1279.5" y1="1407.26" x2="1614.5" y2="1407.26" stroke="#EBEBEB" stroke-width="2"/>
<line x1="1279.5" y1="1429.36" x2="1614.5" y2="1429.36" stroke="#EBEBEB" stroke-width="2"/>
<line x1="1279.5" y1="1451.46" x2="1614.5" y2="1451.46" stroke="#EBEBEB" stroke-width="2"/>
<circle cx="1337" cy="1407.26" r="6.8" fill="#EDAA9C"/>
<circle cx="1366" cy="1429.36" r="6" fill="#F5DCD6"/>
<circle cx="1327.2" cy="1451.46" r="5.3" fill="#F5D9D3"/>
<rect x="1614.5" y="1394" width="16.9" height="70.72" fill="#D6D7D9" stroke="#333333" stroke-width="2.2"/>
<rect x="1279.5" y="1394" width="335" height="70.72" fill="none" stroke="#333333" stroke-width="2.2"/>
<text x="0" y="0" font-size="19" fill="#1a1a1a" text-anchor="middle" transform="translate(1616.8,1429.36) rotate(90)">11</text>
<line x1="1274.5" y1="1407.26" x2="1279.5" y2="1407.26" stroke="#333333" stroke-width="2"/>
<text x="1273.3" y="1412.16" font-size="19" text-anchor="end" fill="#2b2b2b">Cell cycle</text>
<line x1="1274.5" y1="1429.36" x2="1279.5" y2="1429.36" stroke="#333333" stroke-width="2"/>
<text x="1273.3" y="1434.26" font-size="19" text-anchor="end" fill="#2b2b2b">Chronic myeloid leukemia</text>
<line x1="1274.5" y1="1451.46" x2="1279.5" y2="1451.46" stroke="#333333" stroke-width="2"/>
<text x="1273.3" y="1456.36" font-size="19" text-anchor="end" fill="#2b2b2b">ErbB signaling pathway</text>
<line x1="1304.4" y1="1472.3" x2="1304.4" y2="1520.92" stroke="#EBEBEB" stroke-width="2"/>
<line x1="1335.53" y1="1472.3" x2="1335.53" y2="1520.92" stroke="#EBEBEB" stroke-width="1.6"/>
<line x1="1366.65" y1="1472.3" x2="1366.65" y2="1520.92" stroke="#EBEBEB" stroke-width="2"/>
<line x1="1397.78" y1="1472.3" x2="1397.78" y2="1520.92" stroke="#EBEBEB" stroke-width="1.6"/>
<line x1="1428.9" y1="1472.3" x2="1428.9" y2="1520.92" stroke="#EBEBEB" stroke-width="2"/>
<line x1="1460.03" y1="1472.3" x2="1460.03" y2="1520.92" stroke="#EBEBEB" stroke-width="1.6"/>
<line x1="1491.15" y1="1472.3" x2="1491.15" y2="1520.92" stroke="#EBEBEB" stroke-width="2"/>
<line x1="1522.28" y1="1472.3" x2="1522.28" y2="1520.92" stroke="#EBEBEB" stroke-width="1.6"/>
<line x1="1553.4" y1="1472.3" x2="1553.4" y2="1520.92" stroke="#EBEBEB" stroke-width="2"/>
<line x1="1584.53" y1="1472.3" x2="1584.53" y2="1520.92" stroke="#EBEBEB" stroke-width="1.6"/>
<line x1="1279.5" y1="1485.56" x2="1614.5" y2="1485.56" stroke="#EBEBEB" stroke-width="2"/>
<line x1="1279.5" y1="1507.66" x2="1614.5" y2="1507.66" stroke="#EBEBEB" stroke-width="2"/>
<circle cx="1350.3" cy="1485.56" r="7.9" fill="#EDAA9C"/>
<circle cx="1313.6" cy="1507.66" r="7.9" fill="#F5D2CA"/>
<rect x="1614.5" y="1472.3" width="16.9" height="48.62" fill="#D6D7D9" stroke="#333333" stroke-width="2.2"/>
<rect x="1279.5" y="1472.3" width="335" height="48.62" fill="none" stroke="#333333" stroke-width="2.2"/>
<text x="0" y="0" font-size="19" fill="#1a1a1a" text-anchor="middle" transform="translate(1616.8,1496.61) rotate(90)">12</text>
<line x1="1274.5" y1="1485.56" x2="1279.5" y2="1485.56" stroke="#333333" stroke-width="2"/>
<text x="1273.3" y="1490.46" font-size="19" text-anchor="end" fill="#2b2b2b">Ribosome</text>
<line x1="1274.5" y1="1507.66" x2="1279.5" y2="1507.66" stroke="#333333" stroke-width="2"/>
<text x="1273.3" y="1512.56" font-size="19" text-anchor="end" fill="#2b2b2b">Coronavirus disease − COVID−19</text>
<line x1="1304.4" y1="1528.9" x2="1304.4" y2="1621.72" stroke="#EBEBEB" stroke-width="2"/>
<line x1="1335.53" y1="1528.9" x2="1335.53" y2="1621.72" stroke="#EBEBEB" stroke-width="1.6"/>
<line x1="1366.65" y1="1528.9" x2="1366.65" y2="1621.72" stroke="#EBEBEB" stroke-width="2"/>
<line x1="1397.78" y1="1528.9" x2="1397.78" y2="1621.72" stroke="#EBEBEB" stroke-width="1.6"/>
<line x1="1428.9" y1="1528.9" x2="1428.9" y2="1621.72" stroke="#EBEBEB" stroke-width="2"/>
<line x1="1460.03" y1="1528.9" x2="1460.03" y2="1621.72" stroke="#EBEBEB" stroke-width="1.6"/>
<line x1="1491.15" y1="1528.9" x2="1491.15" y2="1621.72" stroke="#EBEBEB" stroke-width="2"/>
<line x1="1522.28" y1="1528.9" x2="1522.28" y2="1621.72" stroke="#EBEBEB" stroke-width="1.6"/>
<line x1="1553.4" y1="1528.9" x2="1553.4" y2="1621.72" stroke="#EBEBEB" stroke-width="2"/>
<line x1="1584.53" y1="1528.9" x2="1584.53" y2="1621.72" stroke="#EBEBEB" stroke-width="1.6"/>
<line x1="1279.5" y1="1542.16" x2="1614.5" y2="1542.16" stroke="#EBEBEB" stroke-width="2"/>
<line x1="1279.5" y1="1564.26" x2="1614.5" y2="1564.26" stroke="#EBEBEB" stroke-width="2"/>
<line x1="1279.5" y1="1586.36" x2="1614.5" y2="1586.36" stroke="#EBEBEB" stroke-width="2"/>
<line x1="1279.5" y1="1608.46" x2="1614.5" y2="1608.46" stroke="#EBEBEB" stroke-width="2"/>
<circle cx="1477.8" cy="1542.16" r="5.6" fill="#EDAA9C"/>
<circle cx="1352.1" cy="1564.26" r="6.8" fill="#F2BFB4"/>
<circle cx="1442.8" cy="1586.36" r="6.2" fill="#F0B8AC"/>
<circle cx="1378.5" cy="1608.46" r="6" fill="#F5D5CE"/>
<rect x="1614.5" y="1528.9" width="16.9" height="92.82" fill="#D6D7D9" stroke="#333333" stroke-width="2.2"/>
<rect x="1279.5" y="1528.9" width="335" height="92.82" fill="none" stroke="#333333" stroke-width="2.2"/>
<text x="0" y="0" font-size="19" fill="#1a1a1a" text-anchor="middle" transform="translate(1616.8,1575.31) rotate(90)">13</text>
<line x1="1274.5" y1="1542.16" x2="1279.5" y2="1542.16" stroke="#333333" stroke-width="2"/>
<text x="1273.3" y="1547.06" font-size="19" text-anchor="end" font-weight="bold" fill="#2b2b2b">Citrate cycle (TCA cycle)</text>
<line x1="1274.5" y1="1564.26" x2="1279.5" y2="1564.26" stroke="#333333" stroke-width="2"/>
<text x="1273.3" y="1569.16" font-size="19" text-anchor="end" font-weight="bold" fill="#2b2b2b">HIF−1 signaling pathway</text>
<line x1="1274.5" y1="1586.36" x2="1279.5" y2="1586.36" stroke="#333333" stroke-width="2"/>
<text x="1273.3" y="1591.26" font-size="19" text-anchor="end" font-weight="bold" fill="#2b2b2b">Pyruvate metabolism</text>
<line x1="1274.5" y1="1608.46" x2="1279.5" y2="1608.46" stroke="#333333" stroke-width="2"/>
<text x="1273.3" y="1613.36" font-size="19" text-anchor="end" font-weight="bold" fill="#2b2b2b">Central carbon metabolism in cancer</text>
<line x1="1304.4" y1="1629.5" x2="1304.4" y2="1678.12" stroke="#EBEBEB" stroke-width="2"/>
<line x1="1335.53" y1="1629.5" x2="1335.53" y2="1678.12" stroke="#EBEBEB" stroke-width="1.6"/>
<line x1="1366.65" y1="1629.5" x2="1366.65" y2="1678.12" stroke="#EBEBEB" stroke-width="2"/>
<line x1="1397.78" y1="1629.5" x2="1397.78" y2="1678.12" stroke="#EBEBEB" stroke-width="1.6"/>
<line x1="1428.9" y1="1629.5" x2="1428.9" y2="1678.12" stroke="#EBEBEB" stroke-width="2"/>
<line x1="1460.03" y1="1629.5" x2="1460.03" y2="1678.12" stroke="#EBEBEB" stroke-width="1.6"/>
<line x1="1491.15" y1="1629.5" x2="1491.15" y2="1678.12" stroke="#EBEBEB" stroke-width="2"/>
<line x1="1522.28" y1="1629.5" x2="1522.28" y2="1678.12" stroke="#EBEBEB" stroke-width="1.6"/>
<line x1="1553.4" y1="1629.5" x2="1553.4" y2="1678.12" stroke="#EBEBEB" stroke-width="2"/>
<line x1="1584.53" y1="1629.5" x2="1584.53" y2="1678.12" stroke="#EBEBEB" stroke-width="1.6"/>
<line x1="1279.5" y1="1642.76" x2="1614.5" y2="1642.76" stroke="#EBEBEB" stroke-width="2"/>
<line x1="1279.5" y1="1664.86" x2="1614.5" y2="1664.86" stroke="#EBEBEB" stroke-width="2"/>
<circle cx="1404.6" cy="1642.76" r="3.5" fill="#EFB7AB"/>
<circle cx="1503.9" cy="1664.86" r="3" fill="#F4E0DC"/>
<rect x="1614.5" y="1629.5" width="16.9" height="48.62" fill="#D6D7D9" stroke="#333333" stroke-width="2.2"/>
<rect x="1279.5" y="1629.5" width="335" height="48.62" fill="none" stroke="#333333" stroke-width="2.2"/>
<text x="0" y="0" font-size="19" fill="#1a1a1a" text-anchor="middle" transform="translate(1616.8,1653.81) rotate(90)">14</text>
<line x1="1274.5" y1="1642.76" x2="1279.5" y2="1642.76" stroke="#333333" stroke-width="2"/>
<text x="1273.3" y="1647.66" font-size="19" text-anchor="end" fill="#2b2b2b">Glyoxylate and dicarboxylate metabolism</text>
<line x1="1274.5" y1="1664.86" x2="1279.5" y2="1664.86" stroke="#333333" stroke-width="2"/>
<text x="1273.3" y="1669.76" font-size="19" text-anchor="end" fill="#2b2b2b">One carbon pool by folate</text>
<line x1="1304.4" y1="1685.8" x2="1304.4" y2="1712.32" stroke="#EBEBEB" stroke-width="2"/>
<line x1="1335.53" y1="1685.8" x2="1335.53" y2="1712.32" stroke="#EBEBEB" stroke-width="1.6"/>
<line x1="1366.65" y1="1685.8" x2="1366.65" y2="1712.32" stroke="#EBEBEB" stroke-width="2"/>
<line x1="1397.78" y1="1685.8" x2="1397.78" y2="1712.32" stroke="#EBEBEB" stroke-width="1.6"/>
<line x1="1428.9" y1="1685.8" x2="1428.9" y2="1712.32" stroke="#EBEBEB" stroke-width="2"/>
<line x1="1460.03" y1="1685.8" x2="1460.03" y2="1712.32" stroke="#EBEBEB" stroke-width="1.6"/>
<line x1="1491.15" y1="1685.8" x2="1491.15" y2="1712.32" stroke="#EBEBEB" stroke-width="2"/>
<line x1="1522.28" y1="1685.8" x2="1522.28" y2="1712.32" stroke="#EBEBEB" stroke-width="1.6"/>
<line x1="1553.4" y1="1685.8" x2="1553.4" y2="1712.32" stroke="#EBEBEB" stroke-width="2"/>
<line x1="1584.53" y1="1685.8" x2="1584.53" y2="1712.32" stroke="#EBEBEB" stroke-width="1.6"/>
<line x1="1279.5" y1="1699.06" x2="1614.5" y2="1699.06" stroke="#EBEBEB" stroke-width="2"/>
<circle cx="1346.5" cy="1699.06" r="3.5" fill="#EFB5A9"/>
<rect x="1614.5" y="1685.8" width="16.9" height="26.52" fill="#D6D7D9" stroke="#333333" stroke-width="2.2"/>
<rect x="1279.5" y="1685.8" width="335" height="26.52" fill="none" stroke="#333333" stroke-width="2.2"/>
<text x="0" y="0" font-size="19" fill="#1a1a1a" text-anchor="middle" transform="translate(1616.8,1699.06) rotate(90)">15</text>
<line x1="1274.5" y1="1699.06" x2="1279.5" y2="1699.06" stroke="#333333" stroke-width="2"/>
<text x="1273.3" y="1703.96" font-size="19" text-anchor="end" fill="#2b2b2b">Proteasome</text>
<line x1="1304.4" y1="1720.5" x2="1304.4" y2="1747.02" stroke="#EBEBEB" stroke-width="2"/>
<line x1="1335.53" y1="1720.5" x2="1335.53" y2="1747.02" stroke="#EBEBEB" stroke-width="1.6"/>
<line x1="1366.65" y1="1720.5" x2="1366.65" y2="1747.02" stroke="#EBEBEB" stroke-width="2"/>
<line x1="1397.78" y1="1720.5" x2="1397.78" y2="1747.02" stroke="#EBEBEB" stroke-width="1.6"/>
<line x1="1428.9" y1="1720.5" x2="1428.9" y2="1747.02" stroke="#EBEBEB" stroke-width="2"/>
<line x1="1460.03" y1="1720.5" x2="1460.03" y2="1747.02" stroke="#EBEBEB" stroke-width="1.6"/>
<line x1="1491.15" y1="1720.5" x2="1491.15" y2="1747.02" stroke="#EBEBEB" stroke-width="2"/>
<line x1="1522.28" y1="1720.5" x2="1522.28" y2="1747.02" stroke="#EBEBEB" stroke-width="1.6"/>
<line x1="1553.4" y1="1720.5" x2="1553.4" y2="1747.02" stroke="#EBEBEB" stroke-width="2"/>
<line x1="1584.53" y1="1720.5" x2="1584.53" y2="1747.02" stroke="#EBEBEB" stroke-width="1.6"/>
<line x1="1279.5" y1="1733.76" x2="1614.5" y2="1733.76" stroke="#EBEBEB" stroke-width="2"/>
<circle cx="1380" cy="1733.76" r="8.7" fill="#F5CFC7"/>
<rect x="1614.5" y="1720.5" width="16.9" height="26.52" fill="#D6D7D9" stroke="#333333" stroke-width="2.2"/>
<rect x="1279.5" y="1720.5" width="335" height="26.52" fill="none" stroke="#333333" stroke-width="2.2"/>
<text x="0" y="0" font-size="19" fill="#1a1a1a" text-anchor="middle" transform="translate(1616.8,1733.76) rotate(90)">16</text>
<line x1="1274.5" y1="1733.76" x2="1279.5" y2="1733.76" stroke="#333333" stroke-width="2"/>
<text x="1273.3" y="1738.66" font-size="19" text-anchor="end" fill="#2b2b2b">Transcriptional misregulation in cancer</text>
<line x1="1304.4" y1="1755" x2="1304.4" y2="1803.62" stroke="#EBEBEB" stroke-width="2"/>
<line x1="1335.53" y1="1755" x2="1335.53" y2="1803.62" stroke="#EBEBEB" stroke-width="1.6"/>
<line x1="1366.65" y1="1755" x2="1366.65" y2="1803.62" stroke="#EBEBEB" stroke-width="2"/>
<line x1="1397.78" y1="1755" x2="1397.78" y2="1803.62" stroke="#EBEBEB" stroke-width="1.6"/>
<line x1="1428.9" y1="1755" x2="1428.9" y2="1803.62" stroke="#EBEBEB" stroke-width="2"/>
<line x1="1460.03" y1="1755" x2="1460.03" y2="1803.62" stroke="#EBEBEB" stroke-width="1.6"/>
<line x1="1491.15" y1="1755" x2="1491.15" y2="1803.62" stroke="#EBEBEB" stroke-width="2"/>
<line x1="1522.28" y1="1755" x2="1522.28" y2="1803.62" stroke="#EBEBEB" stroke-width="1.6"/>
<line x1="1553.4" y1="1755" x2="1553.4" y2="1803.62" stroke="#EBEBEB" stroke-width="2"/>
<line x1="1584.53" y1="1755" x2="1584.53" y2="1803.62" stroke="#EBEBEB" stroke-width="1.6"/>
<line x1="1279.5" y1="1768.26" x2="1614.5" y2="1768.26" stroke="#EBEBEB" stroke-width="2"/>
<line x1="1279.5" y1="1790.36" x2="1614.5" y2="1790.36" stroke="#EBEBEB" stroke-width="2"/>
<circle cx="1345.3" cy="1768.26" r="6.8" fill="#F5DDD8"/>
<circle cx="1329.6" cy="1790.36" r="7.3" fill="#F3E6E4"/>
<rect x="1614.5" y="1755" width="16.9" height="48.62" fill="#D6D7D9" stroke="#333333" stroke-width="2.2"/>
<rect x="1279.5" y="1755" width="335" height="48.62" fill="none" stroke="#333333" stroke-width="2.2"/>
<text x="0" y="0" font-size="19" fill="#1a1a1a" text-anchor="middle" transform="translate(1616.8,1779.31) rotate(90)">17</text>
<line x1="1274.5" y1="1768.26" x2="1279.5" y2="1768.26" stroke="#333333" stroke-width="2"/>
<text x="1273.3" y="1773.16" font-size="19" text-anchor="end" fill="#2b2b2b">Ubiquitin mediated proteolysis</text>
<line x1="1274.5" y1="1790.36" x2="1279.5" y2="1790.36" stroke="#333333" stroke-width="2"/>
<text x="1273.3" y="1795.26" font-size="19" text-anchor="end" fill="#2b2b2b">Protein processing in endoplasmic reticulum</text>
<line x1="1304.4" y1="1811.2" x2="1304.4" y2="1837.72" stroke="#EBEBEB" stroke-width="2"/>
<line x1="1335.53" y1="1811.2" x2="1335.53" y2="1837.72" stroke="#EBEBEB" stroke-width="1.6"/>
<line x1="1366.65" y1="1811.2" x2="1366.65" y2="1837.72" stroke="#EBEBEB" stroke-width="2"/>
<line x1="1397.78" y1="1811.2" x2="1397.78" y2="1837.72" stroke="#EBEBEB" stroke-width="1.6"/>
<line x1="1428.9" y1="1811.2" x2="1428.9" y2="1837.72" stroke="#EBEBEB" stroke-width="2"/>
<line x1="1460.03" y1="1811.2" x2="1460.03" y2="1837.72" stroke="#EBEBEB" stroke-width="1.6"/>
<line x1="1491.15" y1="1811.2" x2="1491.15" y2="1837.72" stroke="#EBEBEB" stroke-width="2"/>
<line x1="1522.28" y1="1811.2" x2="1522.28" y2="1837.72" stroke="#EBEBEB" stroke-width="1.6"/>
<line x1="1553.4" y1="1811.2" x2="1553.4" y2="1837.72" stroke="#EBEBEB" stroke-width="2"/>
<line x1="1584.53" y1="1811.2" x2="1584.53" y2="1837.72" stroke="#EBEBEB" stroke-width="1.6"/>
<line x1="1279.5" y1="1824.46" x2="1614.5" y2="1824.46" stroke="#EBEBEB" stroke-width="2"/>
<circle cx="1578.9" cy="1824.46" r="5" fill="#F3E5E2"/>
<rect x="1614.5" y="1811.2" width="16.9" height="26.52" fill="#D6D7D9" stroke="#333333" stroke-width="2.2"/>
<rect x="1279.5" y="1811.2" width="335" height="26.52" fill="none" stroke="#333333" stroke-width="2.2"/>
<text x="0" y="0" font-size="19" fill="#1a1a1a" text-anchor="middle" transform="translate(1616.8,1824.46) rotate(90)">18</text>
<line x1="1274.5" y1="1824.46" x2="1279.5" y2="1824.46" stroke="#333333" stroke-width="2"/>
<text x="1273.3" y="1829.36" font-size="19" text-anchor="end" fill="#2b2b2b">Histidine metabolism</text>
<line x1="1304.4" y1="1845.9" x2="1304.4" y2="1872.42" stroke="#EBEBEB" stroke-width="2"/>
<line x1="1335.53" y1="1845.9" x2="1335.53" y2="1872.42" stroke="#EBEBEB" stroke-width="1.6"/>
<line x1="1366.65" y1="1845.9" x2="1366.65" y2="1872.42" stroke="#EBEBEB" stroke-width="2"/>
<line x1="1397.78" y1="1845.9" x2="1397.78" y2="1872.42" stroke="#EBEBEB" stroke-width="1.6"/>
<line x1="1428.9" y1="1845.9" x2="1428.9" y2="1872.42" stroke="#EBEBEB" stroke-width="2"/>
<line x1="1460.03" y1="1845.9" x2="1460.03" y2="1872.42" stroke="#EBEBEB" stroke-width="1.6"/>
<line x1="1491.15" y1="1845.9" x2="1491.15" y2="1872.42" stroke="#EBEBEB" stroke-width="2"/>
<line x1="1522.28" y1="1845.9" x2="1522.28" y2="1872.42" stroke="#EBEBEB" stroke-width="1.6"/>
<line x1="1553.4" y1="1845.9" x2="1553.4" y2="1872.42" stroke="#EBEBEB" stroke-width="2"/>
<line x1="1584.53" y1="1845.9" x2="1584.53" y2="1872.42" stroke="#EBEBEB" stroke-width="1.6"/>
<line x1="1279.5" y1="1859.16" x2="1614.5" y2="1859.16" stroke="#EBEBEB" stroke-width="2"/>
<circle cx="1294.9" cy="1859.16" r="3.5" fill="#F3E6E3"/>
<rect x="1614.5" y="1845.9" width="16.9" height="26.52" fill="#D6D7D9" stroke="#333333" stroke-width="2.2"/>
<rect x="1279.5" y="1845.9" width="335" height="26.52" fill="none" stroke="#333333" stroke-width="2.2"/>
<text x="0" y="0" font-size="19" fill="#1a1a1a" text-anchor="middle" transform="translate(1616.8,1859.16) rotate(90)">19</text>
<line x1="1274.5" y1="1859.16" x2="1279.5" y2="1859.16" stroke="#333333" stroke-width="2"/>
<text x="1273.3" y="1864.06" font-size="19" text-anchor="end" fill="#2b2b2b">TGF−beta signaling pathway</text>
<line x1="1304.4" y1="1872.42" x2="1304.4" y2="1877.42" stroke="#333333" stroke-width="2"/>
<text x="1304.4" y="1895.7" font-size="18.8" text-anchor="middle" fill="#2b2b2b">1</text>
<line x1="1366.65" y1="1872.42" x2="1366.65" y2="1877.42" stroke="#333333" stroke-width="2"/>
<text x="1366.65" y="1895.7" font-size="18.8" text-anchor="middle" fill="#2b2b2b">2</text>
<line x1="1428.9" y1="1872.42" x2="1428.9" y2="1877.42" stroke="#333333" stroke-width="2"/>
<text x="1428.9" y="1895.7" font-size="18.8" text-anchor="middle" fill="#2b2b2b">3</text>
<line x1="1491.15" y1="1872.42" x2="1491.15" y2="1877.42" stroke="#333333" stroke-width="2"/>
<text x="1491.15" y="1895.7" font-size="18.8" text-anchor="middle" fill="#2b2b2b">4</text>
<line x1="1553.4" y1="1872.42" x2="1553.4" y2="1877.42" stroke="#333333" stroke-width="2"/>
<text x="1553.4" y="1895.7" font-size="18.8" text-anchor="middle" fill="#2b2b2b">5</text>
<text x="1475.7" y="1914.4" font-size="18.8" text-anchor="middle" fill="#111">Fold Enrichment</text>
<defs><linearGradient id="pg" x1="0" y1="0" x2="0" y2="1">
<stop offset="0" stop-color="#E41A1C"/>
<stop offset="0.05" stop-color="#E72F26"/>
<stop offset="0.1" stop-color="#E93E2F"/>
<stop offset="0.15" stop-color="#EC4A39"/>
<stop offset="0.2" stop-color="#EE5642"/>
<stop offset="0.25" stop-color="#F0614C"/>
<stop offset="0.3" stop-color="#F26B56"/>
<stop offset="0.35" stop-color="#F4745F"/>
<stop offset="0.4" stop-color="#F57E69"/>
<stop offset="0.45" stop-color="#F68773"/>
<stop offset="0.5" stop-color="#F7907D"/>
<stop offset="0.55" stop-color="#F89987"/>
<stop offset="0.6" stop-color="#F8A291"/>
<stop offset="0.65" stop-color="#F8AA9B"/>
<stop offset="0.7" stop-color="#F8B3A6"/>
<stop offset="0.75" stop-color="#F7BBB0"/>
<stop offset="0.8" stop-color="#F7C4BB"/>
<stop offset="0.85" stop-color="#F5CDC5"/>
<stop offset="0.9" stop-color="#F4D5D0"/>
<stop offset="0.95" stop-color="#F2DEDB"/>
<stop offset="1" stop-color="#EFE6E6"/>
</linearGradient></defs>
<text x="1685" y="247" font-size="18" fill="#111">− log<tspan font-size="13" dy="4">10</tspan><tspan dy="-4"> (p)</tspan></text>
<rect x="1685" y="265.7" width="34.1" height="165.1" fill="url(#pg)"/>
<line x1="1685" y1="268.7" x2="1692" y2="268.7" stroke="#fff" stroke-width="2"/>
<line x1="1712" y1="268.7" x2="1719.1" y2="268.7" stroke="#fff" stroke-width="2"/>
<text x="1731" y="275.2" font-size="17.5" fill="#111">12.5</text>
<line x1="1685" y1="304.85" x2="1692" y2="304.85" stroke="#fff" stroke-width="2"/>
<line x1="1712" y1="304.85" x2="1719.1" y2="304.85" stroke="#fff" stroke-width="2"/>
<text x="1731" y="311.35" font-size="17.5" fill="#111">10.0</text>
<line x1="1685" y1="341" x2="1692" y2="341" stroke="#fff" stroke-width="2"/>
<line x1="1712" y1="341" x2="1719.1" y2="341" stroke="#fff" stroke-width="2"/>
<text x="1731" y="347.5" font-size="17.5" fill="#111">7.5</text>
<line x1="1685" y1="377.15" x2="1692" y2="377.15" stroke="#fff" stroke-width="2"/>
<line x1="1712" y1="377.15" x2="1719.1" y2="377.15" stroke="#fff" stroke-width="2"/>
<text x="1731" y="383.65" font-size="17.5" fill="#111">5.0</text>
<line x1="1685" y1="413.3" x2="1692" y2="413.3" stroke="#fff" stroke-width="2"/>
<line x1="1712" y1="413.3" x2="1719.1" y2="413.3" stroke="#fff" stroke-width="2"/>
<text x="1731" y="419.8" font-size="17.5" fill="#111">2.5</text>
<text x="1685" y="489.5" font-size="17.5" fill="#111"># genes</text>
<circle cx="1701.7" cy="520.5" r="6.8" fill="#000"/>
<text x="1729.1" y="526.8" font-size="17.5" fill="#111">3</text>
<circle cx="1701.7" cy="553.6" r="9.7" fill="#000"/>
<text x="1729.1" y="559.9" font-size="17.5" fill="#111">6</text>
<circle cx="1701.7" cy="586.7" r="11.5" fill="#000"/>
<text x="1729.1" y="593" font-size="17.5" fill="#111">9</text>
<circle cx="1701.7" cy="619.8" r="12.7" fill="#000"/>
<text x="1729.1" y="626.1" font-size="17.5" fill="#111">12</text>
<circle cx="1701.7" cy="652.9" r="14.2" fill="#000"/>
<text x="1729.1" y="659.2" font-size="17.5" fill="#111">15</text>
<text x="1685" y="1238" font-size="18" fill="#111">− log<tspan font-size="13" dy="4">10</tspan><tspan dy="-4"> (p)</tspan></text>
<rect x="1685" y="1256.7" width="34.1" height="165.1" fill="url(#pg)"/>
<line x1="1685" y1="1259.7" x2="1692" y2="1259.7" stroke="#fff" stroke-width="2"/>
<line x1="1712" y1="1259.7" x2="1719.1" y2="1259.7" stroke="#fff" stroke-width="2"/>
<text x="1731" y="1266.2" font-size="17.5" fill="#111">12.5</text>
<line x1="1685" y1="1295.85" x2="1692" y2="1295.85" stroke="#fff" stroke-width="2"/>
<line x1="1712" y1="1295.85" x2="1719.1" y2="1295.85" stroke="#fff" stroke-width="2"/>
<text x="1731" y="1302.35" font-size="17.5" fill="#111">10.0</text>
<line x1="1685" y1="1332" x2="1692" y2="1332" stroke="#fff" stroke-width="2"/>
<line x1="1712" y1="1332" x2="1719.1" y2="1332" stroke="#fff" stroke-width="2"/>
<text x="1731" y="1338.5" font-size="17.5" fill="#111">7.5</text>
<line x1="1685" y1="1368.15" x2="1692" y2="1368.15" stroke="#fff" stroke-width="2"/>
<line x1="1712" y1="1368.15" x2="1719.1" y2="1368.15" stroke="#fff" stroke-width="2"/>
<text x="1731" y="1374.65" font-size="17.5" fill="#111">5.0</text>
<line x1="1685" y1="1404.3" x2="1692" y2="1404.3" stroke="#fff" stroke-width="2"/>
<line x1="1712" y1="1404.3" x2="1719.1" y2="1404.3" stroke="#fff" stroke-width="2"/>
<text x="1731" y="1410.8" font-size="17.5" fill="#111">2.5</text>
<text x="1685" y="1480.5" font-size="17.5" fill="#111"># genes</text>
<circle cx="1701.7" cy="1511.5" r="6.8" fill="#000"/>
<text x="1729.1" y="1517.8" font-size="17.5" fill="#111">3</text>
<circle cx="1701.7" cy="1544.6" r="9.7" fill="#000"/>
<text x="1729.1" y="1550.9" font-size="17.5" fill="#111">6</text>
<circle cx="1701.7" cy="1577.7" r="11.5" fill="#000"/>
<text x="1729.1" y="1584" font-size="17.5" fill="#111">9</text>
<circle cx="1701.7" cy="1610.8" r="12.7" fill="#000"/>
<text x="1729.1" y="1617.1" font-size="17.5" fill="#111">12</text>
<circle cx="1701.7" cy="1643.9" r="14.2" fill="#000"/>
<text x="1729.1" y="1650.2" font-size="17.5" fill="#111">15</text>
<text x="165.1" y="1346.7" font-size="21.2" text-anchor="middle" fill="#222">Basal respiration</text>
<line x1="112.65" y1="1446.9" x2="112.65" y2="1441.6" stroke="#000" stroke-width="2.2"/>
<line x1="107.15" y1="1441.6" x2="118.15" y2="1441.6" stroke="#000" stroke-width="2.2"/>
<rect x="99.9" y="1448" width="25.5" height="106" fill="#222222" stroke="#000" stroke-width="2.2"/>
<line x1="155.15" y1="1445.5" x2="155.15" y2="1437" stroke="#000" stroke-width="2.2"/>
<line x1="149.65" y1="1437" x2="160.65" y2="1437" stroke="#000" stroke-width="2.2"/>
<rect x="142.4" y="1446.6" width="25.5" height="107.4" fill="#E3BF69" stroke="#000" stroke-width="2.2"/>
<line x1="197.45" y1="1538.8" x2="197.45" y2="1535.5" stroke="#000" stroke-width="2.2"/>
<line x1="191.95" y1="1535.5" x2="202.95" y2="1535.5" stroke="#000" stroke-width="2.2"/>
<rect x="184.9" y="1539.9" width="25.1" height="14.1" fill="#0B6A8A" stroke="#000" stroke-width="2.2"/>
<line x1="240.15" y1="1444.9" x2="240.15" y2="1432.5" stroke="#000" stroke-width="2.2"/>
<line x1="234.65" y1="1432.5" x2="245.65" y2="1432.5" stroke="#000" stroke-width="2.2"/>
<rect x="227.4" y="1446" width="25.5" height="108" fill="#1E9470" stroke="#000" stroke-width="2.2"/>
<circle cx="103.2" cy="1458.8" r="4.2" fill="#fff" stroke="#000" stroke-width="2.2"/>
<circle cx="103.4" cy="1439" r="4.2" fill="#fff" stroke="#000" stroke-width="2.2"/>
<circle cx="122.6" cy="1435.6" r="4.2" fill="#fff" stroke="#000" stroke-width="2.2"/>
<circle cx="122.6" cy="1453.8" r="4.2" fill="#fff" stroke="#000" stroke-width="2.2"/>
<circle cx="146.3" cy="1431.1" r="4.2" fill="#fff" stroke="#000" stroke-width="2.2"/>
<circle cx="165" cy="1430.5" r="4.2" fill="#fff" stroke="#000" stroke-width="2.2"/>
<circle cx="155.6" cy="1451.9" r="4.2" fill="#fff" stroke="#000" stroke-width="2.2"/>
<circle cx="155.6" cy="1468" r="4.2" fill="#fff" stroke="#000" stroke-width="2.2"/>
<circle cx="188.8" cy="1531.9" r="4.2" fill="#fff" stroke="#000" stroke-width="2.2"/>
<circle cx="197.7" cy="1531.9" r="4.2" fill="#fff" stroke="#000" stroke-width="2.2"/>
<circle cx="207.5" cy="1535.9" r="4.2" fill="#fff" stroke="#000" stroke-width="2.2"/>
<circle cx="188.8" cy="1543.8" r="4.2" fill="#fff" stroke="#000" stroke-width="2.2"/>
<circle cx="230.9" cy="1428.1" r="4.2" fill="#fff" stroke="#000" stroke-width="2.2"/>
<circle cx="250" cy="1421.8" r="4.2" fill="#fff" stroke="#000" stroke-width="2.2"/>
<circle cx="240.2" cy="1454.8" r="4.2" fill="#fff" stroke="#000" stroke-width="2.2"/>
<circle cx="240.2" cy="1473.2" r="4.2" fill="#fff" stroke="#000" stroke-width="2.2"/>
<line x1="84.6" y1="1368.8" x2="84.6" y2="1555.1" stroke="#000" stroke-width="2.3"/>
<line x1="77.1" y1="1554" x2="261.9" y2="1554" stroke="#000" stroke-width="2.3"/>
<line x1="77.1" y1="1370.4" x2="84.6" y2="1370.4" stroke="#000" stroke-width="2.3"/>
<text x="0" y="0" font-size="23.5" text-anchor="end" fill="#000" transform="translate(71.8 1378.7) scale(1.08 1)">150</text>
<line x1="77.1" y1="1431.7" x2="84.6" y2="1431.7" stroke="#000" stroke-width="2.3"/>
<text x="0" y="0" font-size="23.5" text-anchor="end" fill="#000" transform="translate(71.8 1440) scale(1.08 1)">100</text>
<line x1="77.1" y1="1492.8" x2="84.6" y2="1492.8" stroke="#000" stroke-width="2.3"/>
<text x="0" y="0" font-size="23.5" text-anchor="end" fill="#000" transform="translate(71.8 1501.1) scale(1.08 1)">50</text>
<line x1="77.1" y1="1554" x2="84.6" y2="1554" stroke="#000" stroke-width="2.3"/>
<text x="0" y="0" font-size="23.5" text-anchor="end" fill="#000" transform="translate(71.8 1562.3) scale(1.08 1)">0</text>
<text x="0" y="0" font-size="20.5" fill="#111" text-anchor="middle" transform="translate(17,1462.8) rotate(-90)">OCR (pmol/min)</text>
<line x1="185.4" y1="1401.4" x2="241.2" y2="1401.4" stroke="#000" stroke-width="2.3"/>
<text x="179.9" y="1393.5" font-size="16.5" fill="#111" textLength="71.5" lengthAdjust="spacingAndGlyphs"><tspan font-style="italic">P</tspan> = 0.001</text>
<text x="507" y="1346.3" font-size="21.2" text-anchor="middle" fill="#222">Maximal respiration</text>
<line x1="441.35" y1="1393.8" x2="441.35" y2="1391.8" stroke="#000" stroke-width="2.2"/>
<line x1="435.85" y1="1391.8" x2="446.85" y2="1391.8" stroke="#000" stroke-width="2.2"/>
<rect x="428.6" y="1394.9" width="25.5" height="161" fill="#222222" stroke="#000" stroke-width="2.2"/>
<line x1="483.65" y1="1416.5" x2="483.65" y2="1404.6" stroke="#000" stroke-width="2.2"/>
<line x1="478.15" y1="1404.6" x2="489.15" y2="1404.6" stroke="#000" stroke-width="2.2"/>
<rect x="471.1" y="1417.6" width="25.1" height="138.3" fill="#E3BF69" stroke="#000" stroke-width="2.2"/>
<line x1="526.15" y1="1553" x2="526.15" y2="1551" stroke="#000" stroke-width="2.2"/>
<line x1="520.65" y1="1551" x2="531.65" y2="1551" stroke="#000" stroke-width="2.2"/>
<rect x="513.6" y="1554.1" width="25.1" height="1.8" fill="#0B6A8A" stroke="#000" stroke-width="2.2"/>
<line x1="568.65" y1="1460" x2="568.65" y2="1454" stroke="#000" stroke-width="2.2"/>
<line x1="563.15" y1="1454" x2="574.15" y2="1454" stroke="#000" stroke-width="2.2"/>
<rect x="556.1" y="1461.1" width="25.1" height="94.8" fill="#1E9470" stroke="#000" stroke-width="2.2"/>
<circle cx="431.4" cy="1388.8" r="4.2" fill="#fff" stroke="#000" stroke-width="2.2"/>
<circle cx="450.6" cy="1388.2" r="4.2" fill="#fff" stroke="#000" stroke-width="2.2"/>
<circle cx="432" cy="1399.7" r="4.2" fill="#fff" stroke="#000" stroke-width="2.2"/>
<circle cx="450.6" cy="1399.3" r="4.2" fill="#fff" stroke="#000" stroke-width="2.2"/>
<circle cx="483.8" cy="1394.4" r="4.2" fill="#fff" stroke="#000" stroke-width="2.2"/>
<circle cx="474.3" cy="1412" r="4.2" fill="#fff" stroke="#000" stroke-width="2.2"/>
<circle cx="493.3" cy="1415.9" r="4.2" fill="#fff" stroke="#000" stroke-width="2.2"/>
<circle cx="483.8" cy="1429" r="4.2" fill="#fff" stroke="#000" stroke-width="2.2"/>
<circle cx="517" cy="1553.5" r="4.2" fill="#fff" stroke="#000" stroke-width="2.2"/>
<circle cx="523" cy="1548" r="4.2" fill="#fff" stroke="#000" stroke-width="2.2"/>
<circle cx="529.3" cy="1550.9" r="4.2" fill="#fff" stroke="#000" stroke-width="2.2"/>
<circle cx="535.8" cy="1549.3" r="4.2" fill="#fff" stroke="#000" stroke-width="2.2"/>
<circle cx="558.9" cy="1462" r="4.2" fill="#fff" stroke="#000" stroke-width="2.2"/>
<circle cx="568.4" cy="1456" r="4.2" fill="#fff" stroke="#000" stroke-width="2.2"/>
<circle cx="578.3" cy="1448.1" r="4.2" fill="#fff" stroke="#000" stroke-width="2.2"/>
<circle cx="578.3" cy="1461" r="4.2" fill="#fff" stroke="#000" stroke-width="2.2"/>
<line x1="413.1" y1="1370" x2="413.1" y2="1557" stroke="#000" stroke-width="2.3"/>
<line x1="406.7" y1="1555.9" x2="597.5" y2="1555.9" stroke="#000" stroke-width="2.3"/>
<line x1="406.7" y1="1371.4" x2="413.1" y2="1371.4" stroke="#000" stroke-width="2.3"/>
<text x="0" y="0" font-size="23.5" text-anchor="end" fill="#000" transform="translate(398.4 1379.7) scale(1.08 1)">250</text>
<line x1="406.7" y1="1409" x2="413.1" y2="1409" stroke="#000" stroke-width="2.3"/>
<text x="0" y="0" font-size="23.5" text-anchor="end" fill="#000" transform="translate(398.4 1417.3) scale(1.08 1)">200</text>
<line x1="406.7" y1="1445.8" x2="413.1" y2="1445.8" stroke="#000" stroke-width="2.3"/>
<text x="0" y="0" font-size="23.5" text-anchor="end" fill="#000" transform="translate(398.4 1454.1) scale(1.08 1)">150</text>
<line x1="406.7" y1="1482.7" x2="413.1" y2="1482.7" stroke="#000" stroke-width="2.3"/>
<text x="0" y="0" font-size="23.5" text-anchor="end" fill="#000" transform="translate(398.4 1491) scale(1.08 1)">100</text>
<line x1="406.7" y1="1519.7" x2="413.1" y2="1519.7" stroke="#000" stroke-width="2.3"/>
<text x="0" y="0" font-size="23.5" text-anchor="end" fill="#000" transform="translate(398.4 1528) scale(1.08 1)">50</text>
<line x1="406.7" y1="1555.9" x2="413.1" y2="1555.9" stroke="#000" stroke-width="2.3"/>
<text x="0" y="0" font-size="23.5" text-anchor="end" fill="#000" transform="translate(398.4 1564.2) scale(1.08 1)">0</text>
<text x="0" y="0" font-size="20.5" fill="#111" text-anchor="middle" transform="translate(345,1461.9) rotate(-90)">OCR (pmol/min)</text>
<line x1="513.9" y1="1403.7" x2="569.8" y2="1403.7" stroke="#000" stroke-width="2.3"/>
<text x="504.6" y="1389.4" font-size="16.5" fill="#111" textLength="71.7" lengthAdjust="spacingAndGlyphs"><tspan font-style="italic">P</tspan> = 0.001</text>
<text x="174.6" y="1618.1" font-size="21.2" text-anchor="middle" fill="#222">Glycolysis</text>
<line x1="113.15" y1="1789.5" x2="113.15" y2="1784" stroke="#000" stroke-width="2.2"/>
<line x1="107.65" y1="1784" x2="118.65" y2="1784" stroke="#000" stroke-width="2.2"/>
<rect x="100.9" y="1790.6" width="24.5" height="36.9" fill="#222222" stroke="#000" stroke-width="2.2"/>
<line x1="155.45" y1="1810.3" x2="155.45" y2="1804" stroke="#000" stroke-width="2.2"/>
<line x1="149.95" y1="1804" x2="160.95" y2="1804" stroke="#000" stroke-width="2.2"/>
<rect x="143.4" y="1811.4" width="24.1" height="16.1" fill="#E3BF69" stroke="#000" stroke-width="2.2"/>
<line x1="197.15" y1="1719" x2="197.15" y2="1710.5" stroke="#000" stroke-width="2.2"/>
<line x1="191.65" y1="1710.5" x2="202.65" y2="1710.5" stroke="#000" stroke-width="2.2"/>
<rect x="184.9" y="1720.1" width="24.5" height="107.4" fill="#0B6A8A" stroke="#000" stroke-width="2.2"/>
<line x1="239.45" y1="1758.9" x2="239.45" y2="1751" stroke="#000" stroke-width="2.2"/>
<line x1="233.95" y1="1751" x2="244.95" y2="1751" stroke="#000" stroke-width="2.2"/>
<rect x="227.4" y="1760" width="24.1" height="67.5" fill="#1E9470" stroke="#000" stroke-width="2.2"/>
<circle cx="104.8" cy="1787.2" r="4.2" fill="#fff" stroke="#000" stroke-width="2.2"/>
<circle cx="110.7" cy="1780" r="4.2" fill="#fff" stroke="#000" stroke-width="2.2"/>
<circle cx="116.6" cy="1780" r="4.2" fill="#fff" stroke="#000" stroke-width="2.2"/>
<circle cx="122.6" cy="1786.2" r="4.2" fill="#fff" stroke="#000" stroke-width="2.2"/>
<circle cx="116.6" cy="1789.1" r="4.2" fill="#fff" stroke="#000" stroke-width="2.2"/>
<circle cx="110.7" cy="1799.4" r="4.2" fill="#fff" stroke="#000" stroke-width="2.2"/>
<circle cx="106" cy="1784" r="4.2" fill="#fff" stroke="#000" stroke-width="2.2"/>
<circle cx="120" cy="1783" r="4.2" fill="#fff" stroke="#000" stroke-width="2.2"/>
<circle cx="155.2" cy="1787.2" r="4.2" fill="#fff" stroke="#000" stroke-width="2.2"/>
<circle cx="146.3" cy="1804.4" r="4.2" fill="#fff" stroke="#000" stroke-width="2.2"/>
<circle cx="155.2" cy="1803" r="4.2" fill="#fff" stroke="#000" stroke-width="2.2"/>
<circle cx="163.1" cy="1805.3" r="4.2" fill="#fff" stroke="#000" stroke-width="2.2"/>
<circle cx="146.3" cy="1814.8" r="4.2" fill="#fff" stroke="#000" stroke-width="2.2"/>
<circle cx="158.1" cy="1812.3" r="4.2" fill="#fff" stroke="#000" stroke-width="2.2"/>
<circle cx="151" cy="1808" r="4.2" fill="#fff" stroke="#000" stroke-width="2.2"/>
<circle cx="160" cy="1801" r="4.2" fill="#fff" stroke="#000" stroke-width="2.2"/>
<circle cx="188.8" cy="1693.7" r="4.2" fill="#fff" stroke="#000" stroke-width="2.2"/>
<circle cx="197.3" cy="1701.6" r="4.2" fill="#fff" stroke="#000" stroke-width="2.2"/>
<circle cx="206.6" cy="1704.1" r="4.2" fill="#fff" stroke="#000" stroke-width="2.2"/>
<circle cx="188.8" cy="1709.5" r="4.2" fill="#fff" stroke="#000" stroke-width="2.2"/>
<circle cx="197.3" cy="1718.4" r="4.2" fill="#fff" stroke="#000" stroke-width="2.2"/>
<circle cx="197.3" cy="1728.3" r="4.2" fill="#fff" stroke="#000" stroke-width="2.2"/>
<circle cx="194.7" cy="1746" r="4.2" fill="#fff" stroke="#000" stroke-width="2.2"/>
<circle cx="201.6" cy="1744.1" r="4.2" fill="#fff" stroke="#000" stroke-width="2.2"/>
<circle cx="230.3" cy="1732.2" r="4.2" fill="#fff" stroke="#000" stroke-width="2.2"/>
<circle cx="247.1" cy="1735.2" r="4.2" fill="#fff" stroke="#000" stroke-width="2.2"/>
<circle cx="239.2" cy="1743.1" r="4.2" fill="#fff" stroke="#000" stroke-width="2.2"/>
<circle cx="239.2" cy="1757.9" r="4.2" fill="#fff" stroke="#000" stroke-width="2.2"/>
<circle cx="230.3" cy="1768.8" r="4.2" fill="#fff" stroke="#000" stroke-width="2.2"/>
<circle cx="248.1" cy="1771.7" r="4.2" fill="#fff" stroke="#000" stroke-width="2.2"/>
<circle cx="239.2" cy="1772.7" r="4.2" fill="#fff" stroke="#000" stroke-width="2.2"/>
<circle cx="239.2" cy="1782.6" r="4.2" fill="#fff" stroke="#000" stroke-width="2.2"/>
<line x1="85.4" y1="1641.9" x2="85.4" y2="1828.6" stroke="#000" stroke-width="2.3"/>
<line x1="77.1" y1="1827.5" x2="261.9" y2="1827.5" stroke="#000" stroke-width="2.3"/>
<line x1="77.1" y1="1642.9" x2="85.4" y2="1642.9" stroke="#000" stroke-width="2.3"/>
<text x="0" y="0" font-size="23.5" text-anchor="end" fill="#000" transform="translate(70.8 1651.2) scale(1.08 1)">150</text>
<line x1="77.1" y1="1680.2" x2="85.4" y2="1680.2" stroke="#000" stroke-width="2.3"/>
<text x="0" y="0" font-size="23.5" text-anchor="end" fill="#000" transform="translate(70.8 1688.5) scale(1.08 1)">120</text>
<line x1="77.1" y1="1717" x2="85.4" y2="1717" stroke="#000" stroke-width="2.3"/>
<text x="0" y="0" font-size="23.5" text-anchor="end" fill="#000" transform="translate(70.8 1725.3) scale(1.08 1)">90</text>
<line x1="77.1" y1="1754" x2="85.4" y2="1754" stroke="#000" stroke-width="2.3"/>
<text x="0" y="0" font-size="23.5" text-anchor="end" fill="#000" transform="translate(70.8 1762.3) scale(1.08 1)">60</text>
<line x1="77.1" y1="1790.9" x2="85.4" y2="1790.9" stroke="#000" stroke-width="2.3"/>
<text x="0" y="0" font-size="23.5" text-anchor="end" fill="#000" transform="translate(70.8 1799.2) scale(1.08 1)">30</text>
<line x1="77.1" y1="1827.5" x2="85.4" y2="1827.5" stroke="#000" stroke-width="2.3"/>
<text x="0" y="0" font-size="23.5" text-anchor="end" fill="#000" transform="translate(70.8 1835.8) scale(1.08 1)">0</text>
<text x="0" y="0" font-size="20.5" fill="#111" text-anchor="middle" transform="translate(18,1742.5) rotate(-90)">ECAR (mpH/min)</text>
<line x1="201.6" y1="1674.9" x2="266.8" y2="1674.9" stroke="#000" stroke-width="2.3"/>
<text x="195.3" y="1667" font-size="17.5" fill="#111" textLength="76.5" lengthAdjust="spacingAndGlyphs"><tspan font-style="italic">P</tspan> = 0.001</text>
<text x="505.3" y="1618.9" font-size="21.2" text-anchor="middle" fill="#222">Glycolytic capacity</text>
<line x1="441.25" y1="1749.1" x2="441.25" y2="1745" stroke="#000" stroke-width="2.2"/>
<line x1="435.75" y1="1745" x2="446.75" y2="1745" stroke="#000" stroke-width="2.2"/>
<rect x="428.7" y="1750.2" width="25.1" height="78.8" fill="#222222" stroke="#000" stroke-width="2.2"/>
<line x1="482.45" y1="1779.7" x2="482.45" y2="1775" stroke="#000" stroke-width="2.2"/>
<line x1="476.95" y1="1775" x2="487.95" y2="1775" stroke="#000" stroke-width="2.2"/>
<rect x="470.2" y="1780.8" width="24.5" height="48.2" fill="#E3BF69" stroke="#000" stroke-width="2.2"/>
<line x1="524" y1="1713.1" x2="524" y2="1707" stroke="#000" stroke-width="2.2"/>
<line x1="518.5" y1="1707" x2="529.5" y2="1707" stroke="#000" stroke-width="2.2"/>
<rect x="511.7" y="1714.2" width="24.6" height="114.8" fill="#0B6A8A" stroke="#000" stroke-width="2.2"/>
<line x1="565.5" y1="1735.6" x2="565.5" y2="1731" stroke="#000" stroke-width="2.2"/>
<line x1="560" y1="1731" x2="571" y2="1731" stroke="#000" stroke-width="2.2"/>
<rect x="553.2" y="1736.7" width="24.6" height="92.3" fill="#1E9470" stroke="#000" stroke-width="2.2"/>
<circle cx="431" cy="1742.9" r="3.9" fill="#fff" stroke="#000" stroke-width="2.2"/>
<circle cx="437.5" cy="1741.3" r="3.9" fill="#fff" stroke="#000" stroke-width="2.2"/>
<circle cx="444" cy="1740.8" r="3.9" fill="#fff" stroke="#000" stroke-width="2.2"/>
<circle cx="449.9" cy="1739.5" r="3.9" fill="#fff" stroke="#000" stroke-width="2.2"/>
<circle cx="441.4" cy="1743.9" r="3.9" fill="#fff" stroke="#000" stroke-width="2.2"/>
<circle cx="441.4" cy="1752.5" r="3.9" fill="#fff" stroke="#000" stroke-width="2.2"/>
<circle cx="445.3" cy="1760.8" r="3.9" fill="#fff" stroke="#000" stroke-width="2.2"/>
<circle cx="436.2" cy="1766.8" r="3.9" fill="#fff" stroke="#000" stroke-width="2.2"/>
<circle cx="482.9" cy="1757.7" r="3.9" fill="#fff" stroke="#000" stroke-width="2.2"/>
<circle cx="486.3" cy="1773.3" r="3.9" fill="#fff" stroke="#000" stroke-width="2.2"/>
<circle cx="492" cy="1774.6" r="3.9" fill="#fff" stroke="#000" stroke-width="2.2"/>
<circle cx="477.7" cy="1777.7" r="3.9" fill="#fff" stroke="#000" stroke-width="2.2"/>
<circle cx="486.8" cy="1782.9" r="3.9" fill="#fff" stroke="#000" stroke-width="2.2"/>
<circle cx="481.6" cy="1790.1" r="3.9" fill="#fff" stroke="#000" stroke-width="2.2"/>
<circle cx="479" cy="1795.3" r="3.9" fill="#fff" stroke="#000" stroke-width="2.2"/>
<circle cx="484.2" cy="1792.7" r="3.9" fill="#fff" stroke="#000" stroke-width="2.2"/>
<circle cx="519.2" cy="1694.1" r="3.9" fill="#fff" stroke="#000" stroke-width="2.2"/>
<circle cx="528.8" cy="1692.1" r="3.9" fill="#fff" stroke="#000" stroke-width="2.2"/>
<circle cx="514.8" cy="1704" r="3.9" fill="#fff" stroke="#000" stroke-width="2.2"/>
<circle cx="524.4" cy="1709.7" r="3.9" fill="#fff" stroke="#000" stroke-width="2.2"/>
<circle cx="533.5" cy="1707.1" r="3.9" fill="#fff" stroke="#000" stroke-width="2.2"/>
<circle cx="523.6" cy="1726.6" r="3.9" fill="#fff" stroke="#000" stroke-width="2.2"/>
<circle cx="514.8" cy="1733" r="3.9" fill="#fff" stroke="#000" stroke-width="2.2"/>
<circle cx="532.2" cy="1732.5" r="3.9" fill="#fff" stroke="#000" stroke-width="2.2"/>
<circle cx="573.7" cy="1718.8" r="3.9" fill="#fff" stroke="#000" stroke-width="2.2"/>
<circle cx="556.8" cy="1727.9" r="3.9" fill="#fff" stroke="#000" stroke-width="2.2"/>
<circle cx="565.9" cy="1729.9" r="3.9" fill="#fff" stroke="#000" stroke-width="2.2"/>
<circle cx="574.4" cy="1731.8" r="3.9" fill="#fff" stroke="#000" stroke-width="2.2"/>
<circle cx="556.8" cy="1737.5" r="3.9" fill="#fff" stroke="#000" stroke-width="2.2"/>
<circle cx="565.1" cy="1743.4" r="3.9" fill="#fff" stroke="#000" stroke-width="2.2"/>
<circle cx="573.7" cy="1745.2" r="3.9" fill="#fff" stroke="#000" stroke-width="2.2"/>
<circle cx="556.8" cy="1751.2" r="3.9" fill="#fff" stroke="#000" stroke-width="2.2"/>
<line x1="412.8" y1="1643.3" x2="412.8" y2="1830.1" stroke="#000" stroke-width="2.3"/>
<line x1="405.1" y1="1829" x2="595.7" y2="1829" stroke="#000" stroke-width="2.3"/>
<line x1="405.1" y1="1644.9" x2="412.8" y2="1644.9" stroke="#000" stroke-width="2.3"/>
<text x="0" y="0" font-size="23.5" text-anchor="end" fill="#000" transform="translate(399.2 1653.2) scale(1.08 1)">200</text>
<line x1="405.1" y1="1691" x2="412.8" y2="1691" stroke="#000" stroke-width="2.3"/>
<text x="0" y="0" font-size="23.5" text-anchor="end" fill="#000" transform="translate(399.2 1699.3) scale(1.08 1)">150</text>
<line x1="405.1" y1="1737" x2="412.8" y2="1737" stroke="#000" stroke-width="2.3"/>
<text x="0" y="0" font-size="23.5" text-anchor="end" fill="#000" transform="translate(399.2 1745.3) scale(1.08 1)">100</text>
<line x1="405.1" y1="1782.9" x2="412.8" y2="1782.9" stroke="#000" stroke-width="2.3"/>
<text x="0" y="0" font-size="23.5" text-anchor="end" fill="#000" transform="translate(399.2 1791.2) scale(1.08 1)">50</text>
<line x1="405.1" y1="1829" x2="412.8" y2="1829" stroke="#000" stroke-width="2.3"/>
<text x="0" y="0" font-size="23.5" text-anchor="end" fill="#000" transform="translate(399.2 1837.3) scale(1.08 1)">0</text>
<text x="0" y="0" font-size="20.5" fill="#111" text-anchor="middle" transform="translate(344.5,1731.8) rotate(-90)">ECAR (mpH/min)</text>
<line x1="528.3" y1="1676.5" x2="592.6" y2="1676.5" stroke="#000" stroke-width="2.3"/>
<text x="525.2" y="1668.2" font-size="16.5" fill="#111" textLength="73.6" lengthAdjust="spacingAndGlyphs"><tspan font-style="italic">P</tspan> = 0.005</text>
<rect x="622.4" y="1643" width="11.6" height="11.6" fill="#000" stroke="#222" stroke-width="1.5"/>
<text x="651.5" y="1655.2" font-size="20.5" fill="#111">Ctrl</text>
<rect x="622.4" y="1665.8" width="11.6" height="11.6" fill="#E3BF69" stroke="#222" stroke-width="1.5"/>
<text x="651.5" y="1677.3" font-size="20.5" fill="#111">GC</text>
<rect x="622.4" y="1689.1" width="11.6" height="11.6" fill="#0B6A8A" stroke="#222" stroke-width="1.5"/>
<text x="651.5" y="1701.4" font-size="20.5" fill="#111">LPS</text>
<rect x="622.4" y="1713" width="11.6" height="11.6" fill="#1E9470" stroke="#222" stroke-width="1.5"/>
<text x="651.5" y="1724" font-size="20.5" fill="#111">GC + LPS</text>
<path stroke="#1D4F9F" stroke-width="1.15" d="M208 1973h1m-124 1h1m17 0h1m-4 2h1m17 1h1m24 0h1m-38 1h1m141 0h1m-16 1h1m-4 1h1m-33 1h1m41 0h1m-57 1h1m22 0h1m-27 1h1m81 0h1m-105 1h1m-51 2h1m64 0h1m-73 1h1m38 1h1m6 0h1m8 0h1m-20 1h1m131 0h1m-127 1h1m49 0h1m2 0h1m41 0h1m0 0h1m5 0h1m1 0h1m-151 1h1m51 0h1m28 0h1m28 0h1m-69 1h1m7 0h1m-31 1h1m18 0h1m13 0h1m10 0h1m101 0h1m-165 1h1m4 0h1m0 0h1m44 0h1m10 0h1m14 0h1m-2 1h1m35 1h1m-46 1h1m10 0h1m41 0h1m-122 1h1m-17 1h1m25 0h1m64 0h1m40 0h1m14 1h1m-85 2h1m7 0h1m4 0h1m95 0h1m-19 1h1m8 0h1m1 0h1m-164 1h1m2 0h1m66 0h1m100 0h1m7 0h1m1 0h1m-111 1h1m80 0h1m1 0h1m16 0h1m2 0h1m-173 1h1m9 0h1m7 0h1m33 0h1m2 0h1m95 0h1m-155 1h1m30 0h1m88 0h1m40 0h1m3 0h1m0 0h1m-99 1h1m1 0h1m8 0h1m14 0h1m6 0h1m65 0h1m-136 1h1m51 0h1m44 0h1m9 0h1m-126 1h1m4 0h1m9 0h1m3 0h1m72 0h1m10 0h1m16 0h1m34 0h1m1 0h1m5 0h1m-140 1h1m19 0h1m10 0h1m24 0h1m-62 1h1m34 0h1m6 0h1m55 0h1m8 0h1m13 0h1m-142 1h1m4 0h1m3 0h1m7 0h1m68 0h1m25 0h1m1 0h1m5 0h1m2 0h1m-138 1h1m81 0h1m33 0h1m44 0h1m-146 1h1m5 0h1m4 0h1m57 0h1m17 0h1m-79 1h1m3 0h1m47 0h1m17 0h1m44 0h1m7 0h1m29 0h1m3 0h1m-174 1h1m37 0h1m10 0h1m11 0h1m1 0h1m3 0h1m18 0h1m1 0h1m50 0h1m-107 1h1m48 0h1m18 0h1m9 0h1m8 0h1m4 0h1m10 0h1m1 0h1m0 0h1m3 0h1m-87 1h1m9 0h1m49 0h1m6 0h1m48 0h1m-179 1h1m4 0h1m1 0h1m1 0h1m0 0h1m20 0h1m27 0h1m49 0h1m1 0h1m9 0h1m6 0h1m7 0h1m23 0h1m10 0h1m11 0h1m-174 1h1m7 0h1m0 0h1m5 0h1m4 0h1m14 0h1m0 0h1m26 0h1m18 0h1m2 0h1m0 0h1m4 0h1m3 0h1m0 0h1m25 0h1m2 0h1m8 0h1m20 0h1m9 0h1m-160 1h1m65 0h1m21 0h1m0 0h1m12 0h1m21 0h1m3 0h1m9 0h1m23 0h1m3 0h1m-176 1h1m12 0h1m3 0h1m0 0h1m41 0h1m13 0h1m74 0h1m1 0h1m22 0h1m-160 1h1m0 0h1m1 0h1m3 0h1m1 0h1m0 0h1m16 0h1m2 0h1m26 0h1m23 0h1m37 0h1m16 0h1m2 0h1m1 0h1m6 0h1m5 0h1m1 0h1m-173 1h1m5 0h1m5 0h1m3 0h1m38 0h1m15 0h1m7 0h1m18 0h1m6 0h1m36 0h1m17 0h1m6 0h1m-158 1h1m50 0h1m3 0h1m48 0h1m34 0h1m3 0h1m5 0h1m0 0h1m-172 1h1m5 0h1m20 0h1m1 0h1m15 0h1m43 0h1m13 0h1m5 0h1m4 0h1m12 0h1m28 0h1m2 0h1m3 0h1m6 0h1m4 0h1m0 0h1m4 0h1m2 0h1m-184 1h1m30 0h1m5 0h1m58 0h1m32 0h1m37 0h1m12 0h1m11 0h1m-176 1h1m8 0h1m24 0h1m3 0h1m42 0h1m20 0h1m31 0h1m5 0h1m10 0h1m2 0h1m22 0h1m-176 1h1m0 0h1m7 0h1m2 0h1m38 0h1m0 0h1m9 0h1m36 0h1m14 0h1m19 0h1m2 0h1m6 0h1m1 0h1m2 0h1m1 0h1m7 0h1m-177 1h1m12 0h1m4 0h1m8 0h1m2 0h1m0 0h1m26 0h1m20 0h1m3 0h1m13 0h1m1 0h1m37 0h1m8 0h1m1 0h1m0 0h1m5 0h1m3 0h1m1 0h1m18 0h1m-153 1h1m1 0h1m77 0h1m4 0h1m24 0h1m9 0h1m12 0h1m0 0h1m0 0h1m1 0h1m9 0h1m0 0h1m-166 1h1m5 0h1m1 0h1m18 0h1m3 0h1m13 0h1m17 0h1m26 0h1m22 0h1m10 0h1m11 0h1m3 0h1m15 0h1m4 0h1m7 0h1m-174 1h1m3 0h1m0 0h1m3 0h1m7 0h1m2 0h1m3 0h1m35 0h1m33 0h1m11 0h1m12 0h1m16 0h1m6 0h1m3 0h1m1 0h1m11 0h1m2 0h1m10 0h1m3 0h1m2 0h1m-181 1h1m22 0h1m60 0h1m13 0h1m17 0h1m6 0h1m9 0h1m7 0h1m7 0h1m7 0h1m11 0h1m0 0h1m7 0h1m-174 1h1m1 0h1m3 0h1m3 0h1m1 0h1m0 0h1m5 0h1m140 0h1m13 0h1m-187 1h1m4 0h1m4 0h1m4 0h1m6 0h1m3 0h1m0 0h1m39 0h1m3 0h1m26 0h1m0 0h1m21 0h1m31 0h1m3 0h1m2 0h1m13 0h1m1 0h1m3 0h1m-168 1h1m5 0h1m2 0h1m2 0h1m5 0h1m1 0h1m9 0h1m35 0h1m11 0h1m4 0h1m4 0h1m17 0h1m23 0h1m12 0h1m1 0h1m8 0h1m5 0h1m0 0h1m2 0h1m2 0h1m2 0h1m-167 1h1m2 0h1m14 0h1m2 0h1m13 0h1m3 0h1m16 0h1m8 0h1m3 0h1m24 0h1m0 0h1m18 0h1m6 0h1m11 0h1m0 0h1m8 0h1m1 0h1m0 0h1m2 0h1m8 0h1m5 0h1m6 0h1m-176 1h1m1 0h1m3 0h1m17 0h1m4 0h1m17 0h1m11 0h1m11 0h1m10 0h1m8 0h1m0 0h1m3 0h1m22 0h1m2 0h1m2 0h1m0 0h1m2 0h1m6 0h1m0 0h1m6 0h1m7 0h1m2 0h1m4 0h1m0 0h1m3 0h1m-173 1h1m9 0h1m0 0h1m5 0h1m0 0h1m0 0h1m3 0h1m2 0h1m4 0h1m1 0h1m36 0h1m7 0h1m1 0h1m3 0h1m13 0h1m2 0h1m10 0h1m9 0h1m3 0h1m7 0h1m4 0h1m1 0h1m4 0h1m11 0h1m0 0h1m3 0h1m3 0h1m4 0h1m4 0h1m1 0h1m4 0h1m-184 1h1m1 0h1m5 0h1m5 0h1m5 0h1m33 0h1m8 0h1m42 0h1m7 0h1m1 0h1m17 0h1m2 0h1m5 0h1m0 0h1m0 0h1m1 0h1m7 0h1m4 0h1m1 0h1m12 0h1m4 0h1m-177 1h1m8 0h1m5 0h1m7 0h1m5 0h1m0 0h1m42 0h1m2 0h1m2 0h1m27 0h1m9 0h1m8 0h1m4 0h1m0 0h1m10 0h1m2 0h1m3 0h1m9 0h1m7 0h1m1 0h1m-170 1h1m2 0h1m1 0h1m5 0h1m12 0h1m13 0h1m40 0h1m9 0h1m0 0h1m4 0h1m8 0h1m1 0h1m22 0h1m13 0h1m9 0h1m1 0h1m3 0h1m18 0h1m-181 1h1m3 0h1m3 0h1m2 0h1m3 0h1m2 0h1m0 0h1m36 0h1m12 0h1m55 0h1m13 0h1m2 0h1m2 0h1m1 0h1m0 0h1m4 0h1m1 0h1m1 0h1m6 0h1m6 0h1m0 0h1m-184 1h1m11 0h1m1 0h1m3 0h1m0 0h1m0 0h1m2 0h1m3 0h1m2 0h1m9 0h1m20 0h1m5 0h1m7 0h1m4 0h1m13 0h1m2 0h1m20 0h1m2 0h1m8 0h1m0 0h1m10 0h1m3 0h1m7 0h1m3 0h1m0 0h1m0 0h1m15 0h1m-179 1h1m12 0h1m0 0h1m1 0h1m4 0h1m0 0h1m11 0h1m3 0h1m0 0h1m29 0h1m51 0h1m5 0h1m14 0h1m4 0h1m1 0h1m6 0h1m0 0h1m2 0h1m2 0h1m1 0h1m1 0h1m13 0h1m-168 1h1m0 0h1m0 0h1m3 0h1m0 0h1m0 0h1m1 0h1m0 0h1m0 0h1m6 0h1m3 0h1m4 0h1m8 0h1m25 0h1m29 0h1m5 0h1m12 0h1m11 0h1m15 0h1m3 0h1m0 0h1m20 0h1m-188 1h1m4 0h1m16 0h1m5 0h1m6 0h1m9 0h1m0 0h1m3 0h1m3 0h1m35 0h1m13 0h1m2 0h1m13 0h1m3 0h1m9 0h1m6 0h1m0 0h1m8 0h1m6 0h1m7 0h1m8 0h1m3 0h1m0 0h1m10 0h1m3 0h1m-185 1h1m9 0h1m1 0h1m4 0h1m6 0h1m1 0h1m0 0h1m6 0h1m2 0h1m45 0h1m1 0h1m12 0h1m3 0h1m3 0h1m26 0h1m2 0h1m2 0h1m3 0h1m2 0h1m4 0h1m3 0h1m3 0h1m1 0h1m0 0h1m4 0h1m0 0h1m2 0h1m0 0h1m9 0h1m1 0h1m-178 1h1m2 0h1m0 0h1m1 0h1m0 0h1m2 0h1m0 0h1m2 0h1m3 0h1m3 0h1m0 0h1m61 0h1m4 0h1m4 0h1m5 0h1m24 0h1m2 0h1m9 0h1m1 0h1m2 0h1m3 0h1m0 0h1m4 0h1m1 0h1m0 0h1m6 0h1m1 0h1m-167 1h1m1 0h1m1 0h1m7 0h1m3 0h1m7 0h1m44 0h1m25 0h1m5 0h1m20 0h1m2 0h1m0 0h1m3 0h1m0 0h1m1 0h1m1 0h1m3 0h1m4 0h1m2 0h1m6 0h1m10 0h1m4 0h1m0 0h1m9 0h1m-181 1h1m8 0h1m5 0h1m1 0h1m3 0h1m3 0h1m1 0h1m1 0h1m18 0h1m18 0h1m2 0h1m9 0h1m16 0h1m13 0h1m2 0h1m4 0h1m11 0h1m4 0h1m5 0h1m10 0h1m2 0h1m7 0h1m2 0h1m4 0h1m-179 1h1m3 0h1m2 0h1m0 0h1m1 0h1m6 0h1m3 0h1m1 0h1m0 0h1m8 0h1m42 0h1m3 0h1m29 0h1m2 0h1m13 0h1m4 0h1m2 0h1m1 0h1m5 0h1m0 0h1m6 0h1m4 0h1m13 0h1m-177 1h1m3 0h1m3 0h1m2 0h1m0 0h1m6 0h1m10 0h1m2 0h1m5 0h1m9 0h1m1 0h1m55 0h1m4 0h1m0 0h1m9 0h1m13 0h1m4 0h1m4 0h1m1 0h1m1 0h1m5 0h1m3 0h1m2 0h1m1 0h1m0 0h1m5 0h1m0 0h1m1 0h1m0 0h1m1 0h1m10 0h1m0 0h1m-181 1h1m2 0h1m2 0h1m3 0h1m0 0h1m13 0h1m0 0h1m0 0h1m0 0h1m0 0h1m22 0h1m4 0h1m8 0h1m1 0h1m1 0h1m16 0h1m17 0h1m8 0h1m3 0h1m2 0h1m1 0h1m1 0h1m5 0h1m3 0h1m1 0h1m1 0h1m1 0h1m2 0h1m0 0h1m3 0h1m0 0h1m4 0h1m0 0h1m11 0h1m-176 1h1m4 0h1m0 0h1m6 0h1m2 0h1m1 0h1m1 0h1m7 0h1m5 0h1m0 0h1m19 0h1m2 0h1m4 0h1m13 0h1m15 0h1m5 0h1m1 0h1m7 0h1m2 0h1m10 0h1m25 0h1m3 0h1m2 0h1m0 0h1m3 0h1m2 0h1m0 0h1m6 0h1m3 0h1m-166 1h1m7 0h1m0 0h1m3 0h1m0 0h1m0 0h1m5 0h1m0 0h1m29 0h1m7 0h1m30 0h1m1 0h1m2 0h1m1 0h1m1 0h1m5 0h1m3 0h1m3 0h1m6 0h1m0 0h1m4 0h1m2 0h1m3 0h1m2 0h1m2 0h1m1 0h1m1 0h1m1 0h1m2 0h1m0 0h1m2 0h1m12 0h1m-181 1h1m6 0h1m7 0h1m0 0h1m2 0h1m3 0h1m0 0h1m0 0h1m1 0h1m11 0h1m7 0h1m14 0h1m1 0h1m9 0h1m17 0h1m8 0h1m2 0h1m7 0h1m0 0h1m1 0h1m0 0h1m7 0h1m1 0h1m2 0h1m4 0h1m4 0h1m10 0h1m2 0h1m3 0h1m7 0h1m-153 1h1m8 0h1m5 0h1m5 0h1m0 0h1m6 0h1m3 0h1m3 0h1m13 0h1m2 0h1m2 0h1m8 0h1m39 0h1m6 0h1m0 0h1m0 0h1m6 0h1m0 0h1m5 0h1m0 0h1m2 0h1m17 0h1m1 0h1m2 0h1m11 0h1m4 0h1m-179 1h1m0 0h1m2 0h1m1 0h1m1 0h1m0 0h1m9 0h1m1 0h1m0 0h1m64 0h1m6 0h1m1 0h1m8 0h1m1 0h1m1 0h1m6 0h1m0 0h1m2 0h1m6 0h1m3 0h1m3 0h1m0 0h1m7 0h1m0 0h1m10 0h1m4 0h1m3 0h1m4 0h1m-176 1h1m5 0h1m1 0h1m0 0h1m1 0h1m10 0h1m5 0h1m2 0h1m3 0h1m5 0h1m47 0h1m1 0h1m4 0h1m5 0h1m14 0h1m1 0h1m1 0h1m0 0h1m5 0h1m5 0h1m0 0h1m0 0h1m4 0h1m3 0h1m2 0h1m9 0h1m1 0h1m4 0h1m14 0h1m4 0h1m-175 1h1m5 0h1m9 0h1m0 0h1m0 0h1m2 0h1m0 0h1m30 0h1m6 0h1m22 0h1m6 0h1m2 0h1m1 0h1m2 0h1m8 0h1m9 0h1m0 0h1m8 0h1m0 0h1m4 0h1m0 0h1m0 0h1m1 0h1m0 0h1m12 0h1m8 0h1m7 0h1m3 0h1m-184 1h1m0 0h1m3 0h1m3 0h1m7 0h1m4 0h1m2 0h1m12 0h1m16 0h1m23 0h1m4 0h1m1 0h1m16 0h1m6 0h1m0 0h1m0 0h1m1 0h1m2 0h1m4 0h1m8 0h1m1 0h1m5 0h1m14 0h1m4 0h1m1 0h1m-167 1h1m12 0h1m1 0h1m11 0h1m2 0h1m2 0h1m0 0h1m44 0h1m6 0h1m6 0h1m0 0h1m8 0h1m5 0h1m3 0h1m1 0h1m2 0h1m1 0h1m2 0h1m1 0h1m1 0h1m4 0h1m1 0h1m2 0h1m0 0h1m0 0h1m2 0h1m13 0h1m0 0h1m0 0h1m0 0h1m0 0h1m2 0h1m1 0h1m10 0h1m4 0h1m-176 1h1m2 0h1m5 0h1m0 0h1m3 0h1m6 0h1m2 0h1m4 0h1m1 0h1m41 0h1m10 0h1m0 0h1m10 0h1m1 0h1m0 0h1m2 0h1m1 0h1m1 0h1m0 0h1m8 0h1m4 0h1m1 0h1m2 0h1m1 0h1m0 0h1m0 0h1m6 0h1m0 0h1m0 0h1m0 0h1m5 0h1m7 0h1m2 0h1m3 0h1m3 0h1m1 0h1m1 0h1m-166 1h1m0 0h1m3 0h1m3 0h1m17 0h1m1 0h1m4 0h1m27 0h1m3 0h1m10 0h1m4 0h1m2 0h1m5 0h1m4 0h1m1 0h1m8 0h1m6 0h1m0 0h1m13 0h1m2 0h1m0 0h1m0 0h1m1 0h1m1 0h1m2 0h1m0 0h1m0 0h1m0 0h1m4 0h1m7 0h1m2 0h1m4 0h1m-173 1h1m5 0h1m15 0h1m1 0h1m2 0h1m0 0h1m1 0h1m4 0h1m6 0h1m49 0h1m10 0h1m4 0h1m1 0h1m4 0h1m2 0h1m2 0h1m2 0h1m1 0h1m3 0h1m3 0h1m2 0h1m3 0h1m3 0h1m0 0h1m5 0h1m2 0h1m0 0h1m1 0h1m0 0h1m1 0h1m1 0h1m1 0h1m7 0h1m3 0h1m6 0h1m-187 1h1m6 0h1m1 0h1m4 0h1m3 0h1m99 0h1m3 0h1m2 0h1m1 0h1m1 0h1m10 0h1m4 0h1m9 0h1m22 0h1m0 0h1m-179 1h1m10 0h1m0 0h1m9 0h1m4 0h1m3 0h1m1 0h1m0 0h1m1 0h1m1 0h1m60 0h1m0 0h1m0 0h1m3 0h1m6 0h1m0 0h1m0 0h1m1 0h1m1 0h1m0 0h1m3 0h1m1 0h1m8 0h1m0 0h1m0 0h1m0 0h1m0 0h1m4 0h1m11 0h1m20 0h1m0 0h1m0 0h1m-172 1h1m1 0h1m0 0h1m21 0h1m5 0h1m2 0h1m1 0h1m27 0h1m22 0h1m1 0h1m6 0h1m0 0h1m0 0h1m3 0h1m1 0h1m2 0h1m5 0h1m3 0h1m0 0h1m8 0h1m1 0h1m0 0h1m2 0h1m1 0h1m0 0h1m1 0h1m0 0h1m10 0h1m3 0h1m1 0h1m1 0h1m2 0h1m3 0h1m4 0h1m1 0h1m-177 1h1m0 0h1m2 0h1m0 0h1m15 0h1m5 0h1m0 0h1m1 0h1m4 0h1m4 0h1m13 0h1m8 0h1m3 0h1m7 0h1m18 0h1m9 0h1m13 0h1m0 0h1m8 0h1m3 0h1m8 0h1m0 0h1m0 0h1m4 0h1m2 0h1m0 0h1m7 0h1m3 0h1m5 0h1m0 0h1m1 0h1m-174 1h1m2 0h1m0 0h1m0 0h1m0 0h1m17 0h1m0 0h1m0 0h1m6 0h1m9 0h1m28 0h1m18 0h1m2 0h1m2 0h1m1 0h1m0 0h1m4 0h1m0 0h1m3 0h1m2 0h1m3 0h1m5 0h1m1 0h1m1 0h1m5 0h1m5 0h1m13 0h1m13 0h1m-173 1h1m4 0h1m5 0h1m7 0h1m12 0h1m2 0h1m0 0h1m11 0h1m7 0h1m18 0h1m18 0h1m0 0h1m3 0h1m4 0h1m15 0h1m0 0h1m4 0h1m3 0h1m4 0h1m2 0h1m7 0h1m2 0h1m0 0h1m0 0h1m2 0h1m3 0h1m6 0h1m24 0h1m-188 1h1m8 0h1m1 0h1m10 0h1m3 0h1m1 0h1m2 0h1m0 0h1m27 0h1m13 0h1m17 0h1m4 0h1m3 0h1m1 0h1m9 0h1m18 0h1m0 0h1m4 0h1m0 0h1m3 0h1m1 0h1m0 0h1m1 0h1m0 0h1m0 0h1m1 0h1m2 0h1m3 0h1m6 0h1m2 0h1m16 0h1m-190 1h1m0 0h1m1 0h1m1 0h1m3 0h1m3 0h1m1 0h1m8 0h1m2 0h1m12 0h1m31 0h1m10 0h1m8 0h1m0 0h1m3 0h1m5 0h1m4 0h1m7 0h1m3 0h1m0 0h1m1 0h1m4 0h1m1 0h1m4 0h1m6 0h1m0 0h1m9 0h1m6 0h1m7 0h1m-164 1h1m0 0h1m0 0h1m3 0h1m0 0h1m18 0h1m19 0h1m12 0h1m6 0h1m14 0h1m5 0h1m15 0h1m2 0h1m9 0h1m5 0h1m2 0h1m1 0h1m4 0h1m0 0h1m4 0h1m2 0h1m6 0h1m0 0h1m18 0h1m6 0h1m8 0h1m-183 1h1m1 0h1m14 0h1m2 0h1m31 0h1m13 0h1m4 0h1m10 0h1m1 0h1m6 0h1m0 0h1m3 0h1m1 0h1m6 0h1m6 0h1m3 0h1m3 0h1m6 0h1m2 0h1m2 0h1m2 0h1m3 0h1m2 0h1m1 0h1m2 0h1m3 0h1m9 0h1m-164 1h1m4 0h1m21 0h1m7 0h1m1 0h1m33 0h1m2 0h1m5 0h1m4 0h1m1 0h1m3 0h1m1 0h1m0 0h1m1 0h1m1 0h1m2 0h1m4 0h1m0 0h1m1 0h1m5 0h1m0 0h1m1 0h1m2 0h1m6 0h1m0 0h1m6 0h1m0 0h1m1 0h1m0 0h1m7 0h1m0 0h1m1 0h1m0 0h1m4 0h1m-164 1h1m0 0h1m0 0h1m1 0h1m6 0h1m7 0h1m2 0h1m4 0h1m1 0h1m2 0h1m1 0h1m1 0h1m3 0h1m19 0h1m20 0h1m9 0h1m0 0h1m0 0h1m5 0h1m6 0h1m6 0h1m16 0h1m5 0h1m0 0h1m0 0h1m0 0h1m10 0h1m7 0h1m7 0h1m-173 1h1m1 0h1m5 0h1m5 0h1m24 0h1m3 0h1m3 0h1m3 0h1m24 0h1m14 0h1m13 0h1m14 0h1m12 0h1m5 0h1m7 0h1m0 0h1m1 0h1m3 0h1m10 0h1m4 0h1m2 0h1m2 0h1m-172 1h1m2 0h1m0 0h1m7 0h1m7 0h1m6 0h1m11 0h1m1 0h1m0 0h1m30 0h1m4 0h1m8 0h1m3 0h1m7 0h1m2 0h1m1 0h1m0 0h1m8 0h1m2 0h1m2 0h1m3 0h1m1 0h1m6 0h1m10 0h1m33 0h1m-179 1h1m3 0h1m13 0h1m5 0h1m4 0h1m1 0h1m0 0h1m52 0h1m7 0h1m2 0h1m1 0h1m1 0h1m3 0h1m2 0h1m4 0h1m8 0h1m0 0h1m2 0h1m2 0h1m2 0h1m0 0h1m2 0h1m1 0h1m5 0h1m4 0h1m1 0h1m0 0h1m7 0h1m16 0h1m7 0h1m-184 1h1m6 0h1m2 0h1m0 0h1m24 0h1m1 0h1m0 0h1m25 0h1m20 0h1m1 0h1m4 0h1m21 0h1m5 0h1m10 0h1m8 0h1m1 0h1m12 0h1m0 0h1m-163 1h1m1 0h1m11 0h1m0 0h1m1 0h1m18 0h1m3 0h1m0 0h1m0 0h1m29 0h1m3 0h1m0 0h1m0 0h1m11 0h1m0 0h1m2 0h1m2 0h1m1 0h1m4 0h1m0 0h1m21 0h1m7 0h1m3 0h1m9 0h1m1 0h1m38 0h1m-187 1h1m5 0h1m32 0h1m28 0h1m5 0h1m8 0h1m7 0h1m4 0h1m2 0h1m1 0h1m0 0h1m0 0h1m5 0h1m15 0h1m2 0h1m2 0h1m0 0h1m1 0h1m2 0h1m3 0h1m1 0h1m5 0h1m1 0h1m12 0h1m5 0h1m-140 1h1m0 0h1m1 0h1m8 0h1m36 0h1m4 0h1m0 0h1m8 0h1m9 0h1m0 0h1m1 0h1m0 0h1m1 0h1m4 0h1m1 0h1m9 0h1m6 0h1m1 0h1m9 0h1m12 0h1m-156 1h1m4 0h1m15 0h1m3 0h1m0 0h1m2 0h1m6 0h1m4 0h1m21 0h1m10 0h1m7 0h1m12 0h1m0 0h1m0 0h1m6 0h1m1 0h1m5 0h1m2 0h1m4 0h1m4 0h1m0 0h1m7 0h1m1 0h1m28 0h1m16 0h1m-181 1h1m1 0h1m7 0h1m11 0h1m7 0h1m34 0h1m4 0h1m7 0h1m1 0h1m4 0h1m10 0h1m13 0h1m0 0h1m2 0h1m0 0h1m2 0h1m4 0h1m7 0h1m6 0h1m1 0h1m1 0h1m20 0h1m9 0h1m-180 1h1m8 0h1m1 0h1m16 0h1m1 0h1m12 0h1m15 0h1m5 0h1m3 0h1m0 0h1m6 0h1m0 0h1m0 0h1m0 0h1m0 0h1m0 0h1m0 0h1m2 0h1m6 0h1m2 0h1m2 0h1m8 0h1m0 0h1m4 0h1m2 0h1m3 0h1m1 0h1m2 0h1m2 0h1m1 0h1m0 0h1m4 0h1m4 0h1m10 0h1m10 0h1m25 0h1m-191 1h1m3 0h1m3 0h1m20 0h1m1 0h1m0 0h1m16 0h1m17 0h1m2 0h1m9 0h1m5 0h1m6 0h1m2 0h1m9 0h1m5 0h1m9 0h1m7 0h1m0 0h1m0 0h1m3 0h1m9 0h1m0 0h1m5 0h1m7 0h1m8 0h1m9 0h1m1 0h1m0 0h1m-183 1h1m0 0h1m5 0h1m15 0h1m1 0h1m2 0h1m1 0h1m0 0h1m18 0h1m11 0h1m5 0h1m1 0h1m13 0h1m26 0h1m3 0h1m9 0h1m1 0h1m1 0h1m0 0h1m41 0h1m-171 1h1m1 0h1m4 0h1m2 0h1m5 0h1m0 0h1m2 0h1m18 0h1m7 0h1m26 0h1m1 0h1m32 0h1m1 0h1m5 0h1m21 0h1m8 0h1m19 0h1m5 0h1m7 0h1m-183 1h1m20 0h1m5 0h1m3 0h1m1 0h1m12 0h1m15 0h1m4 0h1m2 0h1m15 0h1m12 0h1m3 0h1m1 0h1m1 0h1m7 0h1m1 0h1m2 0h1m3 0h1m0 0h1m7 0h1m30 0h1m6 0h1m0 0h1m14 0h1m-190 1h1m4 0h1m1 0h1m6 0h1m0 0h1m3 0h1m15 0h1m0 0h1m25 0h1m10 0h1m4 0h1m4 0h1m23 0h1m1 0h1m3 0h1m1 0h1m2 0h1m8 0h1m6 0h1m1 0h1m9 0h1m-139 1h1m12 0h1m2 0h1m0 0h1m37 0h1m16 0h1m6 0h1m5 0h1m6 0h1m10 0h1m0 0h1m0 0h1m13 0h1m6 0h1m1 0h1m3 0h1m9 0h1m-127 1h1m6 0h1m20 0h1m10 0h1m1 0h1m1 0h1m0 0h1m9 0h1m5 0h1m21 0h1m2 0h1m0 0h1m6 0h1m1 0h1m10 0h1m9 0h1m15 0h1m11 0h1m11 0h1m-180 1h1m1 0h1m1 0h1m0 0h1m3 0h1m11 0h1m3 0h1m16 0h1m7 0h1m9 0h1m1 0h1m2 0h1m2 0h1m0 0h1m5 0h1m2 0h1m6 0h1m23 0h1m3 0h1m2 0h1m0 0h1m1 0h1m0 0h1m3 0h1m3 0h1m2 0h1m1 0h1m1 0h1m3 0h1m24 0h1m0 0h1m-164 1h1m6 0h1m1 0h1m6 0h1m0 0h1m5 0h1m17 0h1m15 0h1m3 0h1m23 0h1m22 0h1m1 0h1m1 0h1m31 0h1m-146 1h1m3 0h1m0 0h1m6 0h1m2 0h1m1 0h1m3 0h1m7 0h1m1 0h1m7 0h1m10 0h1m4 0h1m2 0h1m2 0h1m0 0h1m0 0h1m19 0h1m15 0h1m10 0h1m3 0h1m1 0h1m0 0h1m3 0h1m2 0h1m4 0h1m5 0h1m17 0h1m29 0h1m-191 1h1m3 0h1m1 0h1m0 0h1m3 0h1m6 0h1m1 0h1m4 0h1m6 0h1m1 0h1m8 0h1m16 0h1m10 0h1m39 0h1m11 0h1m1 0h1m2 0h1m5 0h1m-129 1h1m1 0h1m3 0h1m0 0h1m9 0h1m4 0h1m37 0h1m0 0h1m45 0h1m2 0h1m1 0h1m7 0h1m1 0h1m0 0h1m4 0h1m43 0h1m0 0h1m-172 1h1m0 0h1m9 0h1m0 0h1m0 0h1m4 0h1m1 0h1m0 0h1m7 0h1m0 0h1m3 0h1m14 0h1m0 0h1m0 0h1m1 0h1m5 0h1m0 0h1m0 0h1m1 0h1m3 0h1m2 0h1m32 0h1m2 0h1m0 0h1m0 0h1m1 0h1m1 0h1m3 0h1m5 0h1m0 0h1m2 0h1m36 0h1m-166 1h1m0 0h1m1 0h1m6 0h1m2 0h1m5 0h1m5 0h1m18 0h1m3 0h1m10 0h1m0 0h1m4 0h1m1 0h1m0 0h1m37 0h1m4 0h1m3 0h1m7 0h1m4 0h1m13 0h1m1 0h1m6 0h1m19 0h1m7 0h1m-183 1h1m2 0h1m1 0h1m1 0h1m0 0h1m0 0h1m0 0h1m3 0h1m1 0h1m3 0h1m1 0h1m3 0h1m1 0h1m0 0h1m3 0h1m12 0h1m17 0h1m0 0h1m2 0h1m22 0h1m19 0h1m20 0h1m3 0h1m39 0h1m-176 1h1m1 0h1m2 0h1m2 0h1m0 0h1m3 0h1m0 0h1m8 0h1m18 0h1m10 0h1m2 0h1m1 0h1m51 0h1m0 0h1m1 0h1m5 0h1m0 0h1m4 0h1m4 0h1m1 0h1m10 0h1m4 0h1m14 0h1m-171 1h1m1 0h1m7 0h1m1 0h1m0 0h1m3 0h1m0 0h1m0 0h1m6 0h1m2 0h1m0 0h1m2 0h1m16 0h1m20 0h1m37 0h1m1 0h1m0 0h1m4 0h1m5 0h1m2 0h1m4 0h1m53 0h1m4 0h1m-181 1h1m0 0h1m2 0h1m0 0h1m6 0h1m11 0h1m20 0h1m0 0h1m2 0h1m8 0h1m0 0h1m47 0h1m1 0h1m0 0h1m2 0h1m1 0h1m2 0h1m8 0h1m55 0h1m-169 1h1m0 0h1m5 0h1m0 0h1m4 0h1m7 0h1m15 0h1m2 0h1m0 0h1m1 0h1m0 0h1m33 0h1m7 0h1m0 0h1m0 0h1m3 0h1m10 0h1m27 0h1m28 0h1m2 0h1m-178 1h1m2 0h1m3 0h1m3 0h1m1 0h1m0 0h1m0 0h1m36 0h1m2 0h1m1 0h1m33 0h1m15 0h1m6 0h1m4 0h1m52 0h1m-165 1h1m3 0h1m3 0h1m2 0h1m1 0h1m20 0h1m5 0h1m2 0h1m3 0h1m44 0h1m0 0h1m3 0h1m2 0h1m0 0h1m5 0h1m11 0h1m0 0h1m5 0h1m2 0h1m25 0h1m3 0h1m-170 1h1m6 0h1m1 0h1m3 0h1m0 0h1m0 0h1m4 0h1m8 0h1m2 0h1m14 0h1m0 0h1m3 0h1m46 0h1m3 0h1m9 0h1m15 0h1m0 0h1m1 0h1m30 0h1m8 0h1m-174 1h1m3 0h1m2 0h1m2 0h1m0 0h1m2 0h1m3 0h1m22 0h1m8 0h1m7 0h1m44 0h1m0 0h1m2 0h1m2 0h1m0 0h1m16 0h1m18 0h1m-156 1h1m7 0h1m0 0h1m2 0h1m2 0h1m4 0h1m2 0h1m1 0h1m0 0h1m3 0h1m3 0h1m22 0h1m4 0h1m3 0h1m7 0h1m31 0h1m2 0h1m3 0h1m2 0h1m3 0h1m-110 1h1m1 0h1m0 0h1m4 0h1m15 0h1m2 0h1m19 0h1m46 0h1m3 0h1m4 0h1m0 0h1m2 0h1m65 0h1m-186 1h1m13 0h1m0 0h1m11 0h1m3 0h1m23 0h1m4 0h1m0 0h1m16 0h1m23 0h1m4 0h1m7 0h1m5 0h1m-111 1h1m2 0h1m0 0h1m4 0h1m34 0h1m3 0h1m7 0h1m36 0h1m4 0h1m9 0h1m7 0h1m-111 1h1m3 0h1m1 0h1m0 0h1m1 0h1m5 0h1m12 0h1m9 0h1m1 0h1m1 0h1m1 0h1m2 0h1m2 0h1m14 0h1m23 0h1m13 0h1m3 0h1m-107 1h1m3 0h1m8 0h1m10 0h1m8 0h1m2 0h1m6 0h1m1 0h1m4 0h1m17 0h1m28 0h1m15 0h1m-117 1h1m6 0h1m6 0h1m9 0h1m7 0h1m0 0h1m0 0h1m1 0h1m10 0h1m0 0h1m4 0h1m33 0h1m0 0h1m0 0h1m6 0h1m1 0h1m-108 1h1m0 0h1m5 0h1m4 0h1m1 0h1m3 0h1m27 0h1m0 0h1m1 0h1m1 0h1m1 0h1m4 0h1m7 0h1m16 0h1m7 0h1m0 0h1m2 0h1m2 0h1m4 0h1m-107 1h1m7 0h1m0 0h1m0 0h1m1 0h1m10 0h1m0 0h1m2 0h1m14 0h1m4 0h1m0 0h1m9 0h1m1 0h1m30 0h1m4 0h1m0 0h1m0 0h1m4 0h1m3 0h1m2 0h1m22 0h1m-126 1h1m9 0h1m1 0h1m2 0h1m24 0h1m5 0h1m0 0h1m4 0h1m18 0h1m5 0h1m5 0h1m3 0h1m13 0h1m19 0h1m-121 1h1m0 0h1m15 0h1m2 0h1m1 0h1m0 0h1m9 0h1m5 0h1m3 0h1m2 0h1m2 0h1m5 0h1m1 0h1m11 0h1m5 0h1m2 0h1m1 0h1m10 0h1m0 0h1m3 0h1m-93 1h1m26 0h1m10 0h1m6 0h1m3 0h1m0 0h1m1 0h1m1 0h1m11 0h1m3 0h1m1 0h1m0 0h1m3 0h1m1 0h1m0 0h1m4 0h1m5 0h1m-103 1h1m6 0h1m6 0h1m3 0h1m6 0h1m5 0h1m20 0h1m14 0h1m10 0h1m14 0h1m-92 1h1m0 0h1m1 0h1m8 0h1m6 0h1m9 0h1m3 0h1m0 0h1m18 0h1m4 0h1m0 0h1m1 0h1m0 0h1m6 0h1m7 0h1m0 0h1m1 0h1m1 0h1m2 0h1m5 0h1m2 0h1m32 0h1m-131 1h1m2 0h1m0 0h1m9 0h1m4 0h1m9 0h1m1 0h1m15 0h1m2 0h1m6 0h1m5 0h1m4 0h1m5 0h1m3 0h1m0 0h1m0 0h1m7 0h1m22 0h1m-97 1h1m8 0h1m13 0h1m17 0h1m1 0h1m3 0h1m0 0h1m0 0h1m3 0h1m0 0h1m0 0h1m6 0h1m10 0h1m2 0h1m2 0h1m12 0h1m-106 1h1m25 0h1m10 0h1m15 0h1m0 0h1m2 0h1m0 0h1m0 0h1m2 0h1m0 0h1m5 0h1m2 0h1m15 0h1m-78 1h1m0 0h1m0 0h1m4 0h1m11 0h1m12 0h1m1 0h1m17 0h1m6 0h1m6 0h1m0 0h1m0 0h1m2 0h1m4 0h1m19 0h1m-108 1h1m13 0h1m4 0h1m27 0h1m9 0h1m0 0h1m2 0h1m4 0h1m1 0h1m2 0h1m1 0h1m14 0h1m-79 1h1m3 0h1m1 0h1m26 0h1m4 0h1m10 0h1m8 0h1m6 0h1m16 0h1m-90 1h1m2 0h1m0 0h1m1 0h1m6 0h1m2 0h1m1 0h1m0 0h1m21 0h1m12 0h1m18 0h1m2 0h1m-77 1h1m1 0h1m2 0h1m4 0h1m0 0h1m4 0h1m6 0h1m19 0h1m9 0h1m5 0h1m0 0h1m0 0h1m4 0h1m-74 1h1m3 0h1m0 0h1m1 0h1m2 0h1m5 0h1m0 0h1m22 0h1m13 0h1m0 0h1m7 0h1m8 0h1m5 0h1m-75 1h1m4 0h1m11 0h1m2 0h1m12 0h1m6 0h1m8 0h1m6 0h1m2 0h1m2 0h1m6 0h1m-72 1h1m0 0h1m0 0h1m2 0h1m4 0h1m3 0h1m0 0h1m8 0h1m29 0h1m-52 1h1m0 0h1m3 0h1m1 0h1m1 0h1m0 0h1m1 0h1m4 0h1m5 0h1m18 0h1m4 0h1m57 0h1m-103 1h1m2 0h1m3 0h1m3 0h1m13 0h1m53 0h1m-87 1h1m5 0h1m1 0h1m3 0h1m0 0h1m1 0h1m1 0h1m1 0h1m0 0h1m5 0h1m2 0h1m14 0h1m17 0h1m25 0h1m-91 1h1m6 0h1m1 0h1m0 0h1m1 0h1m2 0h1m3 0h1m9 0h1m44 0h1m-69 1h1m8 0h1m0 0h1m-16 1h1m0 0h1m0 0h1m3 0h1m5 0h1m1 0h1m0 0h1m2 0h1m24 0h1m15 0h1m-54 1h1m1 0h1m7 0h1m0 0h1m1 0h1m0 0h1m40 0h1m20 0h1m-81 1h1m9 0h1m9 0h1m-21 1h1m4 0h1m1 0h1m3 0h1m0 0h1m56 0h1m-74 1h1m15 0h1m4 0h1m-8 1h1m0 0h1m0 0h1m1 0h1m1 0h1m1 0h1m-9 1h1m2 0h1m0 1h1m53 1h1m-62 1h1m0 0h1m3 0h1m1 0h1m15 1h1m-22 1h1m-3 2h1" transform="translate(0 .5)"/>
<path stroke="#2270B5" stroke-width="1.15" d="M108 2043h1m-3 1h1m12 1h1m-15 1h1m3 1h1m-8 1h1m5 0h1m1 0h1m-6 1h1m1 0h1m118 1h1m-118 1h1m1 0h1m-9 1h1m1 0h1m2 1h1m0 0h1m7 0h1m-18 1h1m3 0h1m1 0h1m-7 1h1m1 0h1m0 0h1m1 0h1m5 0h1m0 0h1m114 0h1m-127 1h1m2 0h1m0 0h1m-6 1h1m1 0h1m9 0h1m1 0h1m-8 1h1m111 0h1m7 0h1m-127 1h1m0 0h1m3 0h1m1 0h1m0 0h1m112 0h1m14 0h1m-141 1h1m1 0h1m2 0h1m3 0h1m5 0h1m0 0h1m99 0h1m2 0h1m3 0h1m0 0h1m0 0h1m-124 1h1m0 0h1m2 0h1m2 0h1m4 0h1m1 0h1m0 0h1m2 0h1m3 0h1m84 0h1m4 0h1m13 0h1m-123 1h1m0 0h1m1 0h1m1 0h1m1 0h1m100 0h1m8 0h1m0 0h1m3 0h1m-109 1h1m86 0h1m15 0h1m7 0h1m-127 1h1m0 0h1m1 0h1m104 0h1m-109 1h1m0 0h1m5 0h1m1 0h1m94 0h1m9 0h1m5 0h1m3 0h1m-128 1h1m2 0h1m6 0h1m0 0h1m4 0h1m90 0h1m10 0h1m2 0h1m7 0h1m-136 1h1m6 0h1m4 0h1m3 0h1m0 0h1m88 0h1m16 0h1m8 0h1m11 0h1m-142 1h1m4 0h1m0 0h1m0 0h1m2 0h1m0 0h1m3 0h1m0 0h1m85 0h1m0 0h1m4 0h1m7 0h1m18 0h1m-144 1h1m10 0h1m0 0h1m1 0h1m4 0h1m0 0h1m2 0h1m0 0h1m0 0h1m1 0h1m84 0h1m2 0h1m13 0h1m-120 1h1m2 0h1m0 0h1m0 0h1m3 0h1m86 0h1m4 0h1m20 0h1m-124 1h1m4 0h1m0 0h1m0 0h1m0 0h1m1 0h1m94 0h1m3 0h1m0 0h1m-115 1h1m6 0h1m7 0h1m0 0h1m0 0h1m0 0h1m78 0h1m2 0h1m7 0h1m1 0h1m8 0h1m8 0h1m6 0h1m-136 1h1m4 0h1m2 0h1m0 0h1m4 0h1m0 0h1m5 0h1m79 0h1m2 0h1m10 0h1m2 0h1m1 0h1m6 0h1m-122 1h1m1 0h1m6 0h1m5 0h1m89 0h1m5 0h1m4 0h1m2 0h1m1 0h1m1 0h1m-127 1h1m2 0h1m2 0h1m2 0h1m0 0h1m0 0h1m1 0h1m1 0h1m0 0h1m4 0h1m69 0h1m11 0h1m3 0h1m4 0h1m1 0h1m1 0h1m2 0h1m0 0h1m3 0h1m7 0h1m-130 1h1m3 0h1m0 0h1m0 0h1m5 0h1m87 0h1m1 0h1m3 0h1m8 0h1m2 0h1m2 0h1m7 0h1m-141 1h1m7 0h1m1 0h1m2 0h1m0 0h1m2 0h1m0 0h1m2 0h1m3 0h1m0 0h1m59 0h1m5 0h1m6 0h1m5 0h1m3 0h1m0 0h1m0 0h1m1 0h1m0 0h1m1 0h1m1 0h1m2 0h1m8 0h1m1 0h1m-128 1h1m4 0h1m1 0h1m2 0h1m1 0h1m1 0h1m2 0h1m1 0h1m80 0h1m3 0h1m0 0h1m5 0h1m3 0h1m3 0h1m2 0h1m2 0h1m0 0h1m13 0h1m-139 1h1m2 0h1m2 0h1m3 0h1m4 0h1m2 0h1m1 0h1m65 0h1m14 0h1m2 0h1m0 0h1m0 0h1m4 0h1m4 0h1m0 0h1m1 0h1m9 0h1m-130 1h1m3 0h1m0 0h1m5 0h1m0 0h1m0 0h1m2 0h1m0 0h1m1 0h1m0 0h1m65 0h1m5 0h1m3 0h1m0 0h1m1 0h1m0 0h1m1 0h1m0 0h1m1 0h1m2 0h1m5 0h1m12 0h1m-127 1h1m2 0h1m1 0h1m0 0h1m0 0h1m0 0h1m2 0h1m3 0h1m2 0h1m83 0h1m3 0h1m1 0h1m0 0h1m2 0h1m2 0h1m2 0h1m-113 1h1m7 0h1m2 0h1m64 0h1m7 0h1m19 0h1m10 0h1m-126 1h1m4 0h1m3 0h1m3 0h1m9 0h1m66 0h1m2 0h1m3 0h1m0 0h1m6 0h1m12 0h1m4 0h1m-123 1h1m3 0h1m11 0h1m1 0h1m6 0h1m74 0h1m2 0h1m1 0h1m1 0h1m0 0h1m1 0h1m0 0h1m1 0h1m1 0h1m1 0h1m1 0h1m3 0h1m0 0h1m-126 1h1m0 0h1m0 0h1m6 0h1m8 0h1m0 0h1m67 0h1m0 0h1m1 0h1m0 0h1m3 0h1m0 0h1m1 0h1m0 0h1m4 0h1m17 0h1m-124 1h1m3 0h1m5 0h1m5 0h1m1 0h1m2 0h1m62 0h1m3 0h1m10 0h1m3 0h1m3 0h1m2 0h1m1 0h1m3 0h1m-109 1h1m2 0h1m2 0h1m1 0h1m6 0h1m0 0h1m55 0h1m0 0h1m6 0h1m1 0h1m1 0h1m4 0h1m3 0h1m0 0h1m2 0h1m0 0h1m3 0h1m2 0h1m3 0h1m3 0h1m0 0h1m-120 1h1m3 0h1m4 0h1m0 0h1m0 0h1m1 0h1m3 0h1m3 0h1m55 0h1m1 0h1m1 0h1m9 0h1m1 0h1m4 0h1m7 0h1m4 0h1m-113 1h1m2 0h1m2 0h1m3 0h1m72 0h1m7 0h1m4 0h1m13 0h1m8 0h1m-125 1h1m7 0h1m2 0h1m2 0h1m0 0h1m3 0h1m63 0h1m6 0h1m0 0h1m4 0h1m2 0h1m0 0h1m2 0h1m0 0h1m0 0h1m9 0h1m3 0h1m3 0h1m-113 1h1m1 0h1m1 0h1m0 0h1m2 0h1m0 0h1m2 0h1m4 0h1m49 0h1m4 0h1m15 0h1m2 0h1m3 0h1m4 0h1m2 0h1m1 0h1m-114 1h1m0 0h1m5 0h1m5 0h1m3 0h1m0 0h1m51 0h1m13 0h1m4 0h1m5 0h1m9 0h1m6 0h1m8 0h1m-117 1h1m1 0h1m1 0h1m0 0h1m0 0h1m2 0h1m3 0h1m50 0h1m2 0h1m0 0h1m1 0h1m0 0h1m0 0h1m0 0h1m3 0h1m1 0h1m12 0h1m1 0h1m6 0h1m3 0h1m9 0h1m-124 1h1m2 0h1m4 0h1m0 0h1m0 0h1m3 0h1m0 0h1m4 0h1m58 0h1m0 0h1m0 0h1m1 0h1m5 0h1m1 0h1m0 0h1m0 0h1m1 0h1m0 0h1m2 0h1m0 0h1m2 0h1m0 0h1m0 0h1m16 0h1m-113 1h1m4 0h1m3 0h1m1 0h1m3 0h1m48 0h1m6 0h1m3 0h1m9 0h1m0 0h1m5 0h1m8 0h1m1 0h1m-106 1h1m0 0h1m1 0h1m0 0h1m2 0h1m1 0h1m6 0h1m45 0h1m4 0h1m3 0h1m2 0h1m8 0h1m1 0h1m2 0h1m1 0h1m0 0h1m0 0h1m0 0h1m5 0h1m1 0h1m-105 1h1m5 0h1m6 0h1m45 0h1m2 0h1m5 0h1m0 0h1m23 0h1m1 0h1m0 0h1m1 0h1m-98 1h1m9 0h1m52 0h1m2 0h1m0 0h1m4 0h1m2 0h1m11 0h1m10 0h1m4 0h1m5 0h1m2 0h1m-113 1h1m2 0h1m2 0h1m0 0h1m2 0h1m0 0h1m2 0h1m1 0h1m47 0h1m2 0h1m0 0h1m0 0h1m0 0h1m9 0h1m1 0h1m1 0h1m0 0h1m1 0h1m4 0h1m1 0h1m0 0h1m2 0h1m0 0h1m-105 1h1m4 0h1m0 0h1m1 0h1m2 0h1m2 0h1m4 0h1m46 0h1m1 0h1m0 0h1m0 0h1m5 0h1m15 0h1m1 0h1m0 0h1m2 0h1m2 0h1m2 0h1m-106 1h1m8 0h1m0 0h1m1 0h1m2 0h1m45 0h1m0 0h1m1 0h1m1 0h1m1 0h1m8 0h1m2 0h1m1 0h1m10 0h1m0 0h1m3 0h1m2 0h1m1 0h1m1 0h1m2 0h1m0 0h1m0 0h1m0 0h1m1 0h1m-101 1h1m2 0h1m0 0h1m45 0h1m1 0h1m0 0h1m1 0h1m3 0h1m2 0h1m6 0h1m1 0h1m3 0h1m6 0h1m1 0h1m1 0h1m2 0h1m9 0h1m-110 1h1m0 0h1m8 0h1m3 0h1m2 0h1m1 0h1m36 0h1m4 0h1m5 0h1m7 0h1m1 0h1m0 0h1m5 0h1m1 0h1m4 0h1m2 0h1m6 0h1m4 0h1m-106 1h1m8 0h1m4 0h1m1 0h1m36 0h1m7 0h1m0 0h1m0 0h1m6 0h1m0 0h1m0 0h1m0 0h1m10 0h1m2 0h1m2 0h1m5 0h1m2 0h1m3 0h1m6 0h1m-109 1h1m5 0h1m47 0h1m3 0h1m10 0h1m0 0h1m8 0h1m1 0h1m1 0h1m6 0h1m0 0h1m1 0h1m-36 1h1m0 0h1m0 0h1m1 0h1m2 0h1m1 0h1m0 0h1m0 0h1m0 0h1m11 0h1m7 0h1m0 0h1m4 0h1m-97 1h1m5 0h1m5 0h1m36 0h1m0 0h1m12 0h1m0 0h1m9 0h1m4 0h1m6 0h1m3 0h1m4 0h1m-44 1h1m15 0h1m0 0h1m19 0h1m4 0h1m0 0h1m6 0h1m-57 1h1m8 0h1m0 0h1m8 0h1m17 0h1m7 0h1m1 0h1m1 0h1m-52 1h1m8 0h1m0 0h1m7 0h1m11 0h1m16 0h1m8 0h1m-97 1h1m49 0h1m1 0h1m4 0h1m7 0h1m12 0h1m0 0h1m0 0h1m2 0h1m2 0h1m5 0h1m-49 1h1m2 0h1m5 0h1m0 0h1m0 0h1m7 0h1m10 0h1m2 0h1m2 0h1m5 0h1m1 0h1m2 0h1m-94 1h1m45 0h1m0 0h1m1 0h1m0 0h1m3 0h1m1 0h1m7 0h1m7 0h1m7 0h1m1 0h1m3 0h1m0 0h1m-44 1h1m2 0h1m3 0h1m0 0h1m0 0h1m0 0h1m2 0h1m3 0h1m13 0h1m2 0h1m1 0h1m2 0h1m2 0h1m0 0h1m3 0h1m-56 1h1m6 0h1m0 0h1m6 0h1m1 0h1m10 0h1m4 0h1m2 0h1m0 0h1m3 0h1m5 0h1m0 0h1m0 0h1m-40 1h1m16 0h1m1 0h1m1 0h1m4 0h1m1 0h1m5 0h1m2 0h1m-39 1h1m1 0h1m1 0h1m1 0h1m2 0h1m2 0h1m0 0h1m11 0h1m0 0h1m0 0h1m0 0h1m4 0h1m1 0h1m0 0h1m5 0h1m-40 1h1m2 0h1m2 0h1m2 0h1m10 0h1m3 0h1m0 0h1m9 0h1m-44 1h1m9 0h1m0 0h1m3 0h1m11 0h1m1 0h1m9 0h1m-34 1h1m7 0h1m0 0h1m2 0h1m0 0h1m2 0h1m0 0h1m1 0h1m3 0h1m9 0h1m-42 1h1m3 0h1m1 0h1m2 0h1m0 0h1m7 0h1m2 0h1m0 0h1m0 0h1m1 0h1m4 0h1m7 0h1m2 0h1m-39 1h1m4 0h1m5 0h1m4 0h1m14 0h1m0 0h1m1 0h1m-26 1h1m0 0h1m0 0h1m0 0h1m8 0h1m2 0h1m0 0h1m0 0h1m3 0h1m1 0h1m5 0h1m-37 1h1m2 0h1m4 0h1m1 0h1m2 0h1m1 0h1m4 0h1m8 0h1m1 0h1m0 0h1m0 0h1m-32 1h1m2 0h1m0 0h1m2 0h1m1 0h1m0 0h1m5 0h1m1 0h1m1 0h1m2 0h1m7 0h1m-25 1h1m0 0h1m0 0h1m2 0h1m19 0h1m-31 1h1m0 0h1m10 0h1m7 0h1m3 0h1m1 0h1m-13 1h1m3 0h1m-12 1h1m0 0h1m9 0h1m0 0h1m-13 1h1m-61 9h1m1 0h1m-3 1h1m0 0h1m2 0h1m0 0h1m-14 1h1m3 0h1m-5 1h1m7 0h1m1 0h1m1 0h1m-9 1h1m0 0h1m0 1h1m-6 1h1m1 0h1m2 0h1m-9 1h1m1 0h1m6 0h1m0 0h1m2 0h1m-8 1h1m3 0h1m0 0h1m1 0h1m-13 1h1m8 0h1m-15 1h1m2 1h1m7 0h1m1 0h1m-12 1h1m1 0h1m7 0h1m-13 1h1m7 0h1m-3 1h1m3 1h1m-12 1h1m0 0h1m0 0h1m4 0h1m-5 1h1m5 0h1m0 0h1m-9 1h1m2 0h1m3 0h1m-4 1h1m0 0h1m1 1h1" transform="translate(0 .5)"/>
<path stroke="#2E9AA6" stroke-width="1.15" d="M102 2050h1m103 11h1m-101 1h1m112 1h1m-2 1h1m-114 1h1m0 0h1m7 0h1m86 1h1m-94 1h1m109 0h1m-111 1h1m7 0h1m-9 1h1m111 0h1m-124 1h1m15 0h1m82 0h1m-96 1h1m6 0h1m0 0h1m1 0h1m84 0h1m-103 1h1m2 0h1m11 0h1m-1 1h1m106 0h1m-17 1h1m24 0h1m-131 1h1m3 0h1m2 0h1m99 0h1m-99 1h1m0 0h1m1 0h1m6 0h1m1 0h1m78 0h1m-98 1h1m0 0h1m2 0h1m4 0h1m4 0h1m87 0h1m1 0h1m5 0h1m0 0h1m6 0h1m-118 1h1m2 0h1m3 0h1m91 0h1m18 0h1m-116 1h1m1 0h1m0 0h1m2 0h1m1 0h1m2 0h1m0 0h1m77 0h1m3 0h1m2 0h1m4 0h1m-110 1h1m6 0h1m1 0h1m5 0h1m0 0h1m4 0h1m78 0h1m9 0h1m-109 1h1m5 0h1m1 0h1m0 0h1m2 0h1m3 0h1m0 0h1m84 0h1m10 0h1m0 0h1m-112 1h1m1 0h1m0 0h1m0 0h1m88 0h1m-96 1h1m0 0h1m0 0h1m1 0h1m2 0h1m0 0h1m2 0h1m84 0h1m-97 1h1m8 0h1m4 0h1m67 0h1m15 0h1m4 0h1m5 0h1m-111 1h1m1 0h1m3 0h1m0 0h1m1 0h1m73 0h1m4 0h1m-90 1h1m0 0h1m4 0h1m0 0h1m0 0h1m0 0h1m79 0h1m2 0h1m10 0h1m0 0h1m0 0h1m5 0h1m6 0h1m-112 1h1m1 0h1m5 0h1m74 0h1m3 0h1m10 0h1m-104 1h1m0 0h1m3 0h1m4 0h1m78 0h1m14 0h1m0 0h1m-107 1h1m0 0h1m1 0h1m80 0h1m2 0h1m0 0h1m8 0h1m12 0h1m-111 1h1m2 0h1m74 0h1m0 0h1m1 0h1m1 0h1m0 0h1m9 0h1m-92 1h1m1 0h1m3 0h1m65 0h1m12 0h1m1 0h1m8 0h1m-100 1h1m3 0h1m4 0h1m65 0h1m4 0h1m13 0h1m3 0h1m-102 1h1m7 0h1m1 0h1m5 0h1m63 0h1m6 0h1m6 0h1m3 0h1m-17 1h1m9 0h1m4 0h1m2 0h1m-93 1h1m5 0h1m65 0h1m5 0h1m4 0h1m3 0h1m-96 1h1m1 0h1m6 0h1m60 0h1m0 0h1m2 0h1m1 0h1m3 0h1m0 0h1m0 0h1m3 0h1m9 0h1m2 0h1m3 0h1m-101 1h1m0 0h1m4 0h1m54 0h1m10 0h1m2 0h1m2 0h1m0 0h1m5 0h1m0 0h1m0 0h1m-91 1h1m2 0h1m5 0h1m57 0h1m1 0h1m10 0h1m5 0h1m0 0h1m0 0h1m0 0h1m1 0h1m5 0h1m1 0h1m0 0h1m-101 1h1m6 0h1m62 0h1m10 0h1m0 0h1m1 0h1m0 0h1m3 0h1m4 0h1m-28 1h1m5 0h1m0 0h1m2 0h1m0 0h1m6 0h1m0 0h1m1 0h1m6 0h1m0 0h1m4 0h1m-100 1h1m0 0h1m0 0h1m1 0h1m0 0h1m61 0h1m2 0h1m4 0h1m4 0h1m7 0h1m3 0h1m10 0h1m-98 1h1m58 0h1m1 0h1m3 0h1m1 0h1m2 0h1m0 0h1m1 0h1m0 0h1m2 0h1m3 0h1m0 0h1m-24 1h1m3 0h1m1 0h1m11 0h1m10 0h1m1 0h1m-37 1h1m1 0h1m0 0h1m5 0h1m1 0h1m1 0h1m5 0h1m8 0h1m3 0h1m0 0h1m-42 1h1m5 0h1m0 0h1m2 0h1m0 0h1m3 0h1m1 0h1m2 0h1m3 0h1m1 0h1m8 0h1m1 0h1m-33 1h1m15 0h1m1 0h1m8 0h1m4 0h1m1 0h1m1 0h1m2 0h1m-31 1h1m2 0h1m2 0h1m0 0h1m0 0h1m1 0h1m5 0h1m3 0h1m3 0h1m-33 1h1m1 0h1m3 0h1m2 0h1m0 0h1m4 0h1m1 0h1m4 0h1m1 0h1m4 0h1m-32 1h1m4 0h1m0 0h1m1 0h1m1 0h1m8 0h1m11 0h1m5 0h1m-39 1h1m2 0h1m2 0h1m0 0h1m1 0h1m10 0h1m0 0h1m0 0h1m5 0h1m0 0h1m3 0h1m-36 1h1m0 0h1m4 0h1m1 0h1m1 0h1m0 0h1m4 0h1m8 0h1m1 0h1m0 0h1m1 0h1m7 0h1m-48 1h1m4 0h1m2 0h1m5 0h1m1 0h1m0 0h1m2 0h1m7 0h1m3 0h1m1 0h1m5 0h1m0 0h1m0 0h1m-40 1h1m7 0h1m8 0h1m0 0h1m3 0h1m1 0h1m1 0h1m0 0h1m0 0h1m2 0h1m2 0h1m1 0h1m-34 1h1m4 0h1m7 0h1m0 0h1m6 0h1m5 0h1m1 0h1m1 0h1m1 0h1m-36 1h1m1 0h1m0 0h1m8 0h1m1 0h1m0 0h1m1 0h1m0 0h1m2 0h1m3 0h1m1 0h1m3 0h1m1 0h1m-36 1h1m6 0h1m0 0h1m1 0h1m0 0h1m1 0h1m3 0h1m5 0h1m4 0h1m0 0h1m1 0h1m-29 1h1m0 0h1m3 0h1m2 0h1m1 0h1m2 0h1m0 0h1m0 0h1m1 0h1m0 0h1m0 0h1m8 0h1m1 0h1m-33 1h1m2 0h1m1 0h1m4 0h1m5 0h1m10 0h1m7 0h1m-37 1h1m4 0h1m1 0h1m0 0h1m1 0h1m2 0h1m0 0h1m11 0h1m1 0h1m-33 1h1m0 0h1m8 0h1m3 0h1m5 0h1m1 0h1m3 0h1m2 0h1m2 0h1m2 0h1m-30 1h1m8 0h1m3 0h1m1 0h1m5 0h1m1 0h1m2 0h1m2 0h1m-28 1h1m5 0h1m5 0h1m0 0h1m1 0h1m3 0h1m5 0h1m-31 1h1m5 0h1m12 0h1m0 0h1m0 0h1m-22 1h1m0 0h1m4 0h1m1 0h1m1 0h1m-5 1h1m1 0h1m3 0h1m3 0h1m3 0h1m9 0h1m-25 1h1m21 0h1m-18 2h1m3 0h1m0 0h1m-75 13h1m6 3h1m-6 2h1m-8 1h1m4 2h1m-6 2h1m0 0h1m5 0h1m-11 1h1m0 0h1m3 0h1m0 0h1m-4 1h1m0 0h1m1 0h1m1 0h1m2 0h1m-10 1h1m0 0h1m0 0h1m3 0h1m0 0h1m0 0h1m-11 1h1m1 0h1m0 0h1m0 0h1m1 0h1m0 0h1m0 0h1m-9 1h1m1 0h1m2 0h1m1 0h1m1 0h1m-9 1h1m1 0h1m2 1h1" transform="translate(0 .5)"/>
<path stroke="#4DB35A" stroke-width="1.15" d="M104 2060h1m5 3h1m0 4h1m-7 2h1m7 3h1m94 0h1m-111 1h1m-1 1h1m1 1h1m4 0h1m2 0h1m108 0h1m-118 1h1m6 0h1m-10 1h1m1 0h1m1 0h1m93 0h1m-99 1h1m8 0h1m0 1h1m87 0h1m-97 1h1m2 0h1m0 0h1m0 0h1m-7 1h1m-1 1h1m0 0h1m10 0h1m91 0h1m9 0h1m-111 1h1m1 0h1m97 0h1m-107 1h1m1 0h1m5 0h1m0 0h1m89 0h1m-95 1h1m-6 1h1m0 0h1m5 0h1m1 0h1m-9 1h1m5 0h1m-9 1h1m2 1h1m1 0h1m1 0h1m77 0h1m31 0h1m-116 2h1m80 0h1m1 0h1m13 0h1m-26 1h1m8 0h1m3 0h1m-13 1h1m3 0h1m4 0h1m-83 1h1m2 0h1m72 0h1m-1 1h1m6 0h1m4 0h1m-80 1h1m58 0h1m1 0h1m1 0h1m1 0h1m8 0h1m0 0h1m9 0h1m-21 1h1m0 0h1m1 0h1m2 0h1m1 0h1m-17 1h1m3 0h1m9 0h1m3 0h1m0 0h1m8 0h1m-30 1h1m4 0h1m1 0h1m0 0h1m1 0h1m4 0h1m0 0h1m3 0h1m-22 1h1m5 0h1m10 0h1m0 0h1m0 0h1m0 0h1m8 0h1m-34 1h1m2 0h1m3 0h1m1 0h1m0 0h1m4 0h1m0 0h1m0 0h1m5 0h1m2 0h1m-25 1h1m5 0h1m3 0h1m2 0h1m1 0h1m0 0h1m0 0h1m0 0h1m0 0h1m0 0h1m0 0h1m3 0h1m1 0h1m0 0h1m-32 1h1m4 0h1m7 0h1m0 0h1m3 0h1m2 0h1m0 0h1m0 0h1m1 0h1m1 0h1m-26 1h1m5 0h1m0 0h1m6 0h1m9 0h1m2 0h1m1 0h1m0 0h1m-33 1h1m0 0h1m10 0h1m3 0h1m2 0h1m6 0h1m0 0h1m-31 1h1m0 0h1m2 0h1m3 0h1m3 0h1m1 0h1m2 0h1m1 0h1m3 0h1m0 0h1m0 0h1m1 0h1m6 0h1m-34 1h1m1 0h1m1 0h1m1 0h1m0 0h1m0 0h1m6 0h1m2 0h1m0 0h1m11 0h1m-31 1h1m5 0h1m11 0h1m0 0h1m2 0h1m5 0h1m0 0h1m1 0h1m-35 1h1m1 0h1m3 0h1m1 0h1m0 0h1m0 0h1m0 0h1m2 0h1m2 0h1m3 0h1m1 0h1m4 0h1m5 0h1m-34 1h1m17 0h1m1 0h1m0 0h1m4 0h1m6 0h1m-45 1h1m10 0h1m1 0h1m5 0h1m2 0h1m3 0h1m3 0h1m1 0h1m1 0h1m4 0h1m0 0h1m3 0h1m-32 1h1m8 0h1m0 0h1m2 0h1m5 0h1m0 0h1m1 0h1m3 0h1m-32 1h1m3 0h1m0 0h1m2 0h1m3 0h1m2 0h1m0 0h1m4 0h1m3 0h1m-33 1h1m4 0h1m3 0h1m2 0h1m5 0h1m4 0h1m1 0h1m2 0h1m0 0h1m3 0h1m-32 1h1m0 0h1m2 0h1m1 0h1m6 0h1m1 0h1m0 0h1m1 0h1m0 0h1m3 0h1m-18 1h1m1 0h1m3 0h1m4 0h1m0 0h1m2 0h1m6 0h1m-31 1h1m0 0h1m2 0h1m0 0h1m5 0h1m5 0h1m7 0h1m0 0h1m3 0h1m-22 1h1m1 0h1m5 0h1m2 0h1m8 0h1m-32 1h1m6 0h1m0 0h1m2 0h1m0 0h1m2 0h1m1 0h1m1 0h1m-7 1h1m-7 1h1m0 0h1m18 0h1m-17 1h1m3 0h1m2 0h1m9 0h1m-22 2h1m2 0h1m-10 1h1m9 0h1m0 0h1m-13 1h1m8 0h1m6 0h1m-71 14h1m2 1h1m-3 6h1m-12 1h1m0 1h1m4 0h1m-10 2h1m0 0h1m0 0h1m5 0h1m3 0h1m-11 1h1m0 0h1m1 0h1m-5 1h1m0 0h1m0 0h1m0 0h1m1 0h1m0 0h1m-8 1h1m0 0h1m0 0h1m0 0h1m1 0h1m1 0h1m-8 1h1m0 0h1m0 0h1m0 0h1m1 0h1m1 0h1m0 0h1m-7 1h1m0 0h1m1 0h1m2 0h1m0 0h1m-9 1h1m1 0h1m0 0h1m3 1h1m-7 2h1" transform="translate(0 .5)"/>
<path stroke="#A8CC3C" stroke-width="1.15" d="M109 2072h1m-8 2h1m4 0h1m-11 4h1m1 0h1m5 0h1m-4 1h1m0 0h1m2 1h1m-3 1h1m-5 2h1m4 0h1m2 1h1m0 2h1m98 0h1m-101 1h1m86 3h1m-20 3h1m-73 1h1m81 0h1m-26 1h1m1 0h1m9 1h1m1 0h1m1 0h1m9 0h1m-85 1h1m59 0h1m2 0h1m11 0h1m7 0h1m-16 1h1m3 0h1m-8 1h1m-4 1h1m6 0h1m2 0h1m2 0h1m1 0h1m2 0h1m0 0h1m-25 1h1m10 1h1m8 0h1m0 0h1m-9 1h1m0 0h1m3 0h1m5 0h1m-19 1h1m0 0h1m1 0h1m13 0h1m4 0h1m-33 1h1m13 0h1m5 0h1m-16 1h1m8 0h1m0 0h1m0 0h1m6 0h1m-24 1h1m7 0h1m2 0h1m1 0h1m7 0h1m8 0h1m-33 1h1m6 0h1m3 0h1m0 0h1m9 0h1m1 0h1m0 0h1m6 0h1m-24 1h1m3 0h1m0 0h1m2 0h1m0 0h1m0 0h1m7 0h1m0 0h1m-29 1h1m0 0h1m0 0h1m4 0h1m6 0h1m1 0h1m2 0h1m5 0h1m5 0h1m-29 1h1m3 0h1m4 0h1m0 0h1m16 0h1m-32 1h1m8 0h1m0 0h1m0 0h1m3 0h1m1 0h1m5 0h1m-25 1h1m6 0h1m0 0h1m1 0h1m1 0h1m3 0h1m2 0h1m-15 1h1m18 0h1m-30 1h1m2 0h1m1 0h1m3 0h1m4 0h1m6 0h1m6 0h1m-30 1h1m5 0h1m4 0h1m10 0h1m1 0h1m-25 1h1m0 0h1m4 0h1m0 0h1m-6 1h1m4 0h1m0 0h1m9 0h1m-8 1h1m7 0h1m-11 1h1m2 1h1m-5 3h1m-78 26h1m5 1h1m-6 1h1m3 0h1m-5 1h1m0 0h1m0 0h1m1 0h1m4 0h1m-11 1h1m0 0h1m0 0h1m0 0h1m0 0h1m1 0h1m1 0h1m-10 1h1m0 0h1m0 0h1m0 0h1m1 0h1m1 0h1m-8 1h1m2 0h1m0 0h1m0 0h1m1 0h1m0 0h1m-7 1h1m1 0h1m-3 1h1m2 0h1m1 0h1" transform="translate(0 .5)"/>
<path stroke="#EADB35" stroke-width="1.15" d="M102 2076h1m-3 7h1m0 4h1m83 4h1m-14 2h1m5 0h1m0 3h1m1 1h1m-13 1h1m9 0h1m-9 1h1m8 0h1m3 0h1m-19 1h1m9 0h1m-3 1h1m-12 1h1m-4 1h1m2 0h1m16 0h1m-12 2h1m1 0h1m9 0h1m-15 1h1m5 0h1m3 0h1m-13 1h1m11 0h1m-20 1h1m8 0h1m2 0h1m1 0h1m4 0h1m-14 1h1m0 0h1m2 0h1m0 0h1m-8 1h1m2 0h1m3 0h1m3 0h1m7 0h1m0 0h1m-28 1h1m1 0h1m6 0h1m2 0h1m-1 1h1m5 0h1m-11 1h1m1 0h1m1 0h1m0 0h1m-8 1h1m13 0h1m-11 1h1m-15 1h1m2 0h1m15 1h1m-25 2h1m9 2h1m-5 1h1m-73 28h1m-4 1h1m1 0h1m-3 1h1m0 0h1m1 0h1m-5 1h1m1 0h1m0 0h1m1 0h1m-7 1h1m3 0h1m0 0h1m2 0h1m-7 1h1m0 0h1m0 0h1m0 0h1m2 0h1m-7 1h1m1 0h1m0 0h1m0 0h1m0 0h1m0 0h1m-5 1h1m0 1h1" transform="translate(0 .5)"/>
<path stroke="#F29B2A" stroke-width="1.15" d="M103 2078h1m-6 5h1m3 1h1m69 12h1m-7 1h1m9 2h1m8 1h1m-8 1h1m-1 2h1m-4 1h1m-15 2h1m6 2h1m0 0h1m-9 1h1m16 0h1m-7 1h1m-10 1h1m2 0h1m-1 1h1m4 0h1m-15 2h1m13 0h1m-2 2h1m-14 4h1m-16 1h1m-61 29h1m-6 1h1m0 1h1m-3 1h1m1 0h1m0 1h1m1 0h1m1 0h1m-6 1h1m0 0h1m0 0h1m1 0h1m-5 1h1m1 0h1m0 0h1m-4 1h1m1 0h1" transform="translate(0 .5)"/>
<path stroke="#E3342A" stroke-width="1.15" d="M103 2079h1m71 22h1m1 0h1m-5 1h1m-4 1h1m0 2h1m2 1h1m14 0h1m-11 1h1m-20 1h1m5 0h1m5 0h1m0 0h1m5 1h1m-7 1h1m-14 2h1m10 0h1m-8 1h1m-15 1h1m8 0h1m11 0h1m-15 2h1m-80 36h1m-3 1h1m1 0h1m2 0h1m-5 1h1m-2 1h1m1 0h1m0 0h1m2 0h1m-4 1h1m0 0h1m1 0h1m-3 1h1" transform="translate(0 .5)"/>
<path fill="#000" d="M69 1951.6h4.5v3h-4.5zM69 1958.2h4.5v3h-4.5zM69 1964.8h4.5v3h-4.5zM69 1971.4h4.5v3h-4.5zM69 1978h4.5v3h-4.5zM69 1984.6h4.5v3h-4.5zM69 1991.2h4.5v3h-4.5zM69 1997.8h4.5v3h-4.5zM69 2004.4h4.5v3h-4.5zM69 2011h4.5v3h-4.5zM69 2017.6h4.5v3h-4.5zM69 2024.2h4.5v3h-4.5zM69 2030.8h4.5v3h-4.5zM69 2037.4h4.5v3h-4.5zM69 2044h4.5v3h-4.5zM69 2050.6h4.5v3h-4.5zM69 2057.2h4.5v3h-4.5zM69 2063.8h4.5v3h-4.5zM69 2070.4h4.5v3h-4.5zM69 2077h4.5v3h-4.5zM69 2083.6h4.5v3h-4.5zM69 2090.2h4.5v3h-4.5zM69 2096.8h4.5v3h-4.5zM69 2103.4h4.5v3h-4.5zM69 2110h4.5v3h-4.5zM69 2116.6h4.5v3h-4.5zM69 2123.2h4.5v3h-4.5zM69 2129.8h4.5v3h-4.5zM69 2136.4h4.5v3h-4.5zM69 2143h4.5v3h-4.5zM69 2149.6h4.5v3h-4.5zM69 2156.2h4.5v3h-4.5zM74.5 2161.3v4.5h3v-4.5zM81.1 2161.3v4.5h3v-4.5zM87.7 2161.3v4.5h3v-4.5zM94.3 2161.3v4.5h3v-4.5zM100.9 2161.3v4.5h3v-4.5zM107.5 2161.3v4.5h3v-4.5zM114.1 2161.3v4.5h3v-4.5zM120.7 2161.3v4.5h3v-4.5zM127.3 2161.3v4.5h3v-4.5zM133.9 2161.3v4.5h3v-4.5zM140.5 2161.3v4.5h3v-4.5zM147.1 2161.3v4.5h3v-4.5zM153.7 2161.3v4.5h3v-4.5zM160.3 2161.3v4.5h3v-4.5zM166.9 2161.3v4.5h3v-4.5zM173.5 2161.3v4.5h3v-4.5zM180.1 2161.3v4.5h3v-4.5zM186.7 2161.3v4.5h3v-4.5zM193.3 2161.3v4.5h3v-4.5zM199.9 2161.3v4.5h3v-4.5zM206.5 2161.3v4.5h3v-4.5zM213.1 2161.3v4.5h3v-4.5zM219.7 2161.3v4.5h3v-4.5zM226.3 2161.3v4.5h3v-4.5zM232.9 2161.3v4.5h3v-4.5zM239.5 2161.3v4.5h3v-4.5zM246.1 2161.3v4.5h3v-4.5zM252.7 2161.3v4.5h3v-4.5zM259.3 2161.3v4.5h3v-4.5zM265.9 2161.3v4.5h3v-4.5zM272.5 2161.3v4.5h3v-4.5z"/>
<path fill="#000" d="M67 1950h6.5v5.2h-6.5zM67 2000.3h6.5v5.2h-6.5zM67 2053h6.5v5.2h-6.5zM67 2105.6h6.5v5.2h-6.5zM67 2156.9h6.5v5.2h-6.5zM72.9 2161.3h5.2v6.5h-5.2zM138.2 2161.3h5.2v6.5h-5.2zM206.3 2161.3h5.2v6.5h-5.2zM273.9 2161.3h5.2v6.5h-5.2z"/>
<rect x="73.5" y="1950.6" width="205.3" height="210.7" fill="none" stroke="#000" stroke-width="1.6"/>
<polygon points="73.5,2116.5 131.9,2160.2 278.8,2160.2 278.8,1951.2 74.2,1951.2" fill="none" stroke="#000" stroke-width="1.6" stroke-linejoin="miter"/>
<text x="0" y="0" font-size="22.5" fill="#111" text-anchor="middle" transform="translate(57,2055.6) rotate(-90)">SSC</text>
<text x="174.8" y="2195.3" font-size="22.5" text-anchor="middle" fill="#111">FSC</text>
<line x1="176.6" y1="2056.3" x2="287" y2="2057.96" stroke="#000" stroke-width="1.8"/>
<polygon points="296,2058.1 286.9,2064.46 287.1,2051.47" fill="#000"/>
<path stroke="#1D4F9F" stroke-width="1.15" d="M524 1983h1m5 2h1m13 0h1m-83 1h1m22 0h1m-10 1h1m22 0h1m11 0h1m-23 1h1m37 0h1m-27 2h1m23 0h1m-25 1h1m35 0h1m-38 1h1m39 0h1m-85 1h1m68 0h1m-9 1h1m14 0h1m-90 1h1m24 0h1m22 0h1m13 0h1m19 0h1m-94 1h1m105 0h1m-27 1h1m2 0h1m30 0h1m-68 1h1m13 0h1m7 0h1m-48 1h1m32 0h1m4 0h1m5 0h1m11 0h1m3 0h1m6 0h1m16 0h1m-74 1h1m1 0h1m16 0h1m14 0h1m19 0h1m-71 1h1m11 1h1m18 0h1m0 0h1m26 0h1m38 0h1m-74 1h1m7 0h1m17 0h1m4 0h1m10 0h1m-84 1h1m53 0h1m12 0h1m-62 1h1m14 0h1m30 0h1m8 0h1m15 0h1m26 0h1m-59 1h1m19 0h1m3 0h1m2 0h1m33 0h1m-40 1h1m4 0h1m27 0h1m-43 1h1m8 0h1m7 0h1m11 0h1m-48 1h1m6 0h1m12 0h1m4 0h1m-27 1h1m6 0h1m25 0h1m6 0h1m3 0h1m3 0h1m2 0h1m2 0h1m-52 1h1m5 0h1m3 0h1m1 0h1m1 0h1m8 0h1m1 0h1m15 0h1m17 0h1m-80 1h1m46 0h1m1 0h1m28 0h1m8 0h1m-97 1h1m18 0h1m5 0h1m4 0h1m2 0h1m13 0h1m1 0h1m8 0h1m2 0h1m1 0h1m4 0h1m13 0h1m-45 1h1m7 0h1m6 0h1m3 0h1m0 0h1m9 0h1m2 0h1m0 0h1m2 0h1m13 0h1m5 0h1m-83 1h1m33 0h1m2 0h1m20 0h1m-50 1h1m17 0h1m2 0h1m3 0h1m0 0h1m1 0h1m5 0h1m11 0h1m1 0h1m8 0h1m2 0h1m-58 1h1m13 0h1m5 0h1m1 0h1m7 0h1m16 0h1m17 0h1m4 0h1m-87 1h1m5 0h1m7 0h1m21 0h1m2 0h1m15 0h1m3 0h1m4 0h1m5 0h1m-61 1h1m6 0h1m18 0h1m29 0h1m-47 1h1m14 0h1m9 0h1m3 0h1m18 0h1m4 0h1m-79 1h1m0 0h1m7 0h1m8 0h1m5 0h1m9 0h1m4 0h1m5 0h1m5 0h1m3 0h1m2 0h1m1 0h1m3 0h1m20 0h1m4 0h1m-100 1h1m16 0h1m20 0h1m8 0h1m4 0h1m18 0h1m6 0h1m0 0h1m1 0h1m-102 1h1m12 0h1m33 0h1m5 0h1m1 0h1m0 0h1m7 0h1m2 0h1m0 0h1m9 0h1m0 0h1m5 0h1m2 0h1m1 0h1m8 0h1m12 0h1m-62 1h1m1 0h1m0 0h1m6 0h1m1 0h1m1 0h1m0 0h1m6 0h1m10 0h1m0 0h1m0 0h1m33 0h1m-54 1h1m6 0h1m0 0h1m2 0h1m4 0h1m3 0h1m0 0h1m11 0h1m1 0h1m-60 1h1m3 0h1m3 0h1m9 0h1m3 0h1m2 0h1m0 0h1m6 0h1m5 0h1m10 0h1m1 0h1m-49 1h1m2 0h1m6 0h1m7 0h1m0 0h1m5 0h1m0 0h1m6 0h1m5 0h1m13 0h1m0 0h1m-86 1h1m34 0h1m7 0h1m0 0h1m8 0h1m1 0h1m5 0h1m1 0h1m4 0h1m3 0h1m1 0h1m-71 1h1m36 0h1m3 0h1m1 0h1m2 0h1m6 0h1m0 0h1m2 0h1m6 0h1m4 0h1m2 0h1m0 0h1m0 0h1m3 0h1m0 0h1m5 0h1m-77 1h1m3 0h1m2 0h1m4 0h1m4 0h1m4 0h1m10 0h1m2 0h1m1 0h1m6 0h1m1 0h1m3 0h1m6 0h1m6 0h1m1 0h1m6 0h1m10 0h1m-103 1h1m15 0h1m6 0h1m6 0h1m1 0h1m1 0h1m0 0h1m5 0h1m1 0h1m0 0h1m1 0h1m2 0h1m1 0h1m1 0h1m0 0h1m10 0h1m6 0h1m0 0h1m4 0h1m20 0h1m-108 1h1m21 0h1m8 0h1m3 0h1m0 0h1m6 0h1m3 0h1m8 0h1m6 0h1m0 0h1m1 0h1m0 0h1m3 0h1m2 0h1m1 0h1m3 0h1m0 0h1m11 0h1m1 0h1m6 0h1m-79 1h1m0 0h1m0 0h1m3 0h1m2 0h1m1 0h1m0 0h1m0 0h1m9 0h1m4 0h1m4 0h1m0 0h1m2 0h1m0 0h1m1 0h1m22 0h1m8 0h1m3 0h1m0 0h1m1 0h1m-87 1h1m15 0h1m2 0h1m1 0h1m3 0h1m12 0h1m2 0h1m1 0h1m4 0h1m5 0h1m5 0h1m1 0h1m0 0h1m7 0h1m2 0h1m0 0h1m0 0h1m5 0h1m17 0h1m-103 1h1m7 0h1m12 0h1m8 0h1m19 0h1m7 0h1m2 0h1m4 0h1m1 0h1m4 0h1m2 0h1m2 0h1m19 0h1m4 0h1m-94 1h1m3 0h1m0 0h1m1 0h1m3 0h1m1 0h1m8 0h1m2 0h1m2 0h1m3 0h1m0 0h1m1 0h1m5 0h1m3 0h1m8 0h1m10 0h1m0 0h1m0 0h1m3 0h1m7 0h1m0 0h1m11 0h1m-102 1h1m14 0h1m3 0h1m4 0h1m2 0h1m9 0h1m0 0h1m3 0h1m1 0h1m1 0h1m2 0h1m2 0h1m0 0h1m1 0h1m0 0h1m1 0h1m0 0h1m20 0h1m-76 1h1m5 0h1m8 0h1m1 0h1m2 0h1m4 0h1m4 0h1m1 0h1m1 0h1m0 0h1m0 0h1m1 0h1m6 0h1m3 0h1m1 0h1m0 0h1m4 0h1m1 0h1m3 0h1m17 0h1m11 0h1m1 0h1m-103 1h1m7 0h1m6 0h1m0 0h1m9 0h1m2 0h1m6 0h1m3 0h1m4 0h1m0 0h1m2 0h1m2 0h1m7 0h1m1 0h1m13 0h1m4 0h1m2 0h1m-89 1h1m20 0h1m10 0h1m1 0h1m3 0h1m0 0h1m4 0h1m6 0h1m21 0h1m4 0h1m0 0h1m5 0h1m2 0h1m-86 1h1m7 0h1m0 0h1m0 0h1m3 0h1m4 0h1m0 0h1m1 0h1m13 0h1m9 0h1m0 0h1m0 0h1m0 0h1m0 0h1m5 0h1m0 0h1m5 0h1m0 0h1m0 0h1m1 0h1m2 0h1m1 0h1m8 0h1m-91 1h1m8 0h1m11 0h1m2 0h1m1 0h1m0 0h1m4 0h1m2 0h1m5 0h1m21 0h1m1 0h1m0 0h1m14 0h1m0 0h1m8 0h1m16 0h1m7 0h1m-117 1h1m23 0h1m3 0h1m3 0h1m12 0h1m1 0h1m1 0h1m4 0h1m1 0h1m1 0h1m8 0h1m1 0h1m0 0h1m0 0h1m1 0h1m0 0h1m0 0h1m3 0h1m6 0h1m2 0h1m-59 1h1m1 0h1m3 0h1m7 0h1m7 0h1m3 0h1m16 0h1m1 0h1m5 0h1m4 0h1m0 0h1m6 0h1m2 0h1m3 0h1m2 0h1m-110 1h1m4 0h1m16 0h1m12 0h1m4 0h1m0 0h1m1 0h1m1 0h1m0 0h1m6 0h1m3 0h1m2 0h1m1 0h1m2 0h1m5 0h1m1 0h1m0 0h1m23 0h1m6 0h1m-98 1h1m4 0h1m1 0h1m11 0h1m14 0h1m2 0h1m0 0h1m4 0h1m3 0h1m0 0h1m3 0h1m20 0h1m2 0h1m0 0h1m6 0h1m-80 1h1m1 0h1m4 0h1m12 0h1m4 0h1m8 0h1m2 0h1m0 0h1m9 0h1m0 0h1m0 0h1m6 0h1m3 0h1m9 0h1m1 0h1m9 0h1m5 0h1m3 0h1m0 0h1m8 0h1m-109 1h1m5 0h1m3 0h1m3 0h1m2 0h1m4 0h1m2 0h1m4 0h1m0 0h1m1 0h1m6 0h1m0 0h1m1 0h1m0 0h1m0 0h1m0 0h1m6 0h1m2 0h1m2 0h1m2 0h1m2 0h1m0 0h1m4 0h1m1 0h1m15 0h1m6 0h1m8 0h1m4 0h1m-111 1h1m0 0h1m1 0h1m4 0h1m1 0h1m3 0h1m7 0h1m0 0h1m0 0h1m2 0h1m3 0h1m2 0h1m1 0h1m0 0h1m7 0h1m1 0h1m1 0h1m3 0h1m0 0h1m0 0h1m7 0h1m1 0h1m5 0h1m2 0h1m5 0h1m2 0h1m1 0h1m13 0h1m4 0h1m1 0h1m-101 1h1m8 0h1m8 0h1m3 0h1m6 0h1m1 0h1m1 0h1m2 0h1m0 0h1m11 0h1m3 0h1m1 0h1m7 0h1m1 0h1m1 0h1m5 0h1m2 0h1m9 0h1m0 0h1m2 0h1m-106 1h1m13 0h1m7 0h1m0 0h1m0 0h1m5 0h1m4 0h1m4 0h1m1 0h1m3 0h1m5 0h1m6 0h1m7 0h1m0 0h1m1 0h1m5 0h1m2 0h1m9 0h1m13 0h1m-89 1h1m5 0h1m8 0h1m2 0h1m2 0h1m3 0h1m0 0h1m5 0h1m0 0h1m0 0h1m1 0h1m1 0h1m2 0h1m3 0h1m0 0h1m3 0h1m1 0h1m2 0h1m0 0h1m7 0h1m3 0h1m-98 1h1m28 0h1m2 0h1m2 0h1m0 0h1m2 0h1m6 0h1m10 0h1m3 0h1m1 0h1m5 0h1m3 0h1m15 0h1m11 0h1m4 0h1m2 0h1m1 0h1m6 0h1m0 0h1m-88 1h1m1 0h1m1 0h1m0 0h1m8 0h1m0 0h1m9 0h1m0 0h1m6 0h1m15 0h1m1 0h1m4 0h1m5 0h1m13 0h1m2 0h1m-97 1h1m8 0h1m4 0h1m5 0h1m0 0h1m0 0h1m0 0h1m1 0h1m4 0h1m2 0h1m1 0h1m0 0h1m5 0h1m1 0h1m6 0h1m0 0h1m6 0h1m0 0h1m1 0h1m2 0h1m10 0h1m2 0h1m2 0h1m4 0h1m18 0h1m1 0h1m-126 1h1m4 0h1m20 0h1m4 0h1m0 0h1m0 0h1m1 0h1m0 0h1m5 0h1m1 0h1m10 0h1m1 0h1m1 0h1m1 0h1m0 0h1m1 0h1m5 0h1m0 0h1m2 0h1m0 0h1m1 0h1m0 0h1m6 0h1m3 0h1m4 0h1m5 0h1m0 0h1m3 0h1m3 0h1m-77 1h1m1 0h1m1 0h1m2 0h1m0 0h1m1 0h1m1 0h1m0 0h1m0 0h1m1 0h1m7 0h1m0 0h1m1 0h1m1 0h1m1 0h1m0 0h1m0 0h1m10 0h1m0 0h1m1 0h1m0 0h1m6 0h1m2 0h1m0 0h1m4 0h1m8 0h1m1 0h1m3 0h1m1 0h1m1 0h1m0 0h1m1 0h1m3 0h1m8 0h1m2 0h1m-125 1h1m10 0h1m7 0h1m2 0h1m1 0h1m1 0h1m0 0h1m3 0h1m0 0h1m0 0h1m2 0h1m2 0h1m6 0h1m1 0h1m8 0h1m2 0h1m0 0h1m0 0h1m4 0h1m1 0h1m1 0h1m0 0h1m9 0h1m10 0h1m0 0h1m3 0h1m-97 1h1m4 0h1m0 0h1m1 0h1m3 0h1m3 0h1m8 0h1m3 0h1m1 0h1m1 0h1m9 0h1m0 0h1m6 0h1m4 0h1m6 0h1m5 0h1m1 0h1m5 0h1m0 0h1m0 0h1m1 0h1m6 0h1m1 0h1m5 0h1m3 0h1m7 0h1m0 0h1m4 0h1m-93 1h1m3 0h1m1 0h1m4 0h1m0 0h1m0 0h1m7 0h1m0 0h1m0 0h1m9 0h1m2 0h1m0 0h1m0 0h1m2 0h1m4 0h1m4 0h1m4 0h1m0 0h1m19 0h1m4 0h1m-98 1h1m3 0h1m3 0h1m2 0h1m2 0h1m2 0h1m3 0h1m0 0h1m0 0h1m11 0h1m2 0h1m1 0h1m6 0h1m4 0h1m0 0h1m2 0h1m1 0h1m4 0h1m1 0h1m4 0h1m5 0h1m24 0h1m7 0h1m-118 1h1m7 0h1m4 0h1m1 0h1m1 0h1m0 0h1m1 0h1m4 0h1m0 0h1m3 0h1m0 0h1m1 0h1m0 0h1m8 0h1m3 0h1m1 0h1m5 0h1m7 0h1m3 0h1m9 0h1m1 0h1m9 0h1m4 0h1m4 0h1m6 0h1m-109 1h1m9 0h1m2 0h1m3 0h1m2 0h1m0 0h1m1 0h1m12 0h1m4 0h1m0 0h1m0 0h1m1 0h1m13 0h1m6 0h1m0 0h1m9 0h1m0 0h1m9 0h1m1 0h1m1 0h1m11 0h1m1 0h1m21 0h1m-121 1h1m1 0h1m0 0h1m0 0h1m1 0h1m1 0h1m3 0h1m0 0h1m16 0h1m1 0h1m0 0h1m8 0h1m1 0h1m0 0h1m11 0h1m0 0h1m4 0h1m3 0h1m16 0h1m16 0h1m-110 1h1m2 0h1m7 0h1m0 0h1m9 0h1m0 0h1m0 0h1m2 0h1m0 0h1m1 0h1m0 0h1m1 0h1m1 0h1m1 0h1m3 0h1m4 0h1m1 0h1m0 0h1m0 0h1m1 0h1m1 0h1m8 0h1m0 0h1m1 0h1m2 0h1m13 0h1m6 0h1m17 0h1m-109 1h1m16 0h1m3 0h1m0 0h1m3 0h1m1 0h1m2 0h1m2 0h1m0 0h1m0 0h1m4 0h1m4 0h1m0 0h1m2 0h1m8 0h1m4 0h1m0 0h1m4 0h1m3 0h1m3 0h1m2 0h1m6 0h1m0 0h1m1 0h1m0 0h1m3 0h1m1 0h1m-98 1h1m21 0h1m3 0h1m2 0h1m0 0h1m2 0h1m0 0h1m5 0h1m3 0h1m0 0h1m10 0h1m11 0h1m0 0h1m1 0h1m2 0h1m20 0h1m9 0h1m20 0h1m-125 1h1m1 0h1m9 0h1m4 0h1m3 0h1m1 0h1m1 0h1m0 0h1m7 0h1m1 0h1m0 0h1m0 0h1m1 0h1m0 0h1m1 0h1m0 0h1m0 0h1m3 0h1m6 0h1m2 0h1m11 0h1m4 0h1m9 0h1m6 0h1m5 0h1m5 0h1m8 0h1m1 0h1m-116 1h1m1 0h1m1 0h1m2 0h1m0 0h1m2 0h1m0 0h1m1 0h1m0 0h1m2 0h1m2 0h1m1 0h1m0 0h1m4 0h1m3 0h1m2 0h1m1 0h1m2 0h1m7 0h1m2 0h1m3 0h1m8 0h1m1 0h1m1 0h1m8 0h1m2 0h1m7 0h1m10 0h1m-103 1h1m0 0h1m4 0h1m1 0h1m1 0h1m2 0h1m1 0h1m0 0h1m0 0h1m1 0h1m2 0h1m0 0h1m0 0h1m1 0h1m0 0h1m1 0h1m2 0h1m5 0h1m1 0h1m2 0h1m2 0h1m1 0h1m7 0h1m4 0h1m7 0h1m14 0h1m1 0h1m11 0h1m3 0h1m21 0h1m-125 1h1m3 0h1m5 0h1m2 0h1m2 0h1m4 0h1m2 0h1m5 0h1m6 0h1m4 0h1m3 0h1m13 0h1m7 0h1m5 0h1m0 0h1m8 0h1m0 0h1m0 0h1m4 0h1m2 0h1m2 0h1m3 0h1m2 0h1m-112 1h1m5 0h1m8 0h1m3 0h1m0 0h1m2 0h1m1 0h1m3 0h1m2 0h1m0 0h1m2 0h1m0 0h1m0 0h1m1 0h1m0 0h1m0 0h1m5 0h1m0 0h1m4 0h1m2 0h1m3 0h1m2 0h1m10 0h1m0 0h1m0 0h1m0 0h1m19 0h1m4 0h1m0 0h1m17 0h1m-123 1h1m6 0h1m9 0h1m2 0h1m0 0h1m7 0h1m0 0h1m8 0h1m1 0h1m1 0h1m8 0h1m4 0h1m9 0h1m6 0h1m1 0h1m4 0h1m4 0h1m3 0h1m3 0h1m1 0h1m8 0h1m-99 1h1m10 0h1m2 0h1m2 0h1m3 0h1m0 0h1m2 0h1m0 0h1m2 0h1m0 0h1m0 0h1m0 0h1m3 0h1m0 0h1m0 0h1m2 0h1m0 0h1m19 0h1m3 0h1m7 0h1m4 0h1m15 0h1m4 0h1m5 0h1m13 0h1m-125 1h1m4 0h1m2 0h1m2 0h1m1 0h1m4 0h1m5 0h1m9 0h1m1 0h1m3 0h1m6 0h1m1 0h1m7 0h1m0 0h1m4 0h1m21 0h1m0 0h1m-94 1h1m11 0h1m2 0h1m5 0h1m2 0h1m4 0h1m1 0h1m0 0h1m0 0h1m1 0h1m0 0h1m1 0h1m1 0h1m1 0h1m1 0h1m0 0h1m1 0h1m5 0h1m1 0h1m3 0h1m8 0h1m9 0h1m26 0h1m12 0h1m8 0h1m7 0h1m-135 1h1m4 0h1m2 0h1m3 0h1m6 0h1m1 0h1m2 0h1m0 0h1m10 0h1m1 0h1m2 0h1m3 0h1m2 0h1m0 0h1m1 0h1m18 0h1m5 0h1m5 0h1m5 0h1m11 0h1m6 0h1m7 0h1m-107 1h1m1 0h1m0 0h1m0 0h1m0 0h1m1 0h1m3 0h1m3 0h1m7 0h1m0 0h1m0 0h1m3 0h1m3 0h1m1 0h1m2 0h1m4 0h1m0 0h1m0 0h1m1 0h1m1 0h1m0 0h1m14 0h1m9 0h1m1 0h1m3 0h1m9 0h1m-96 1h1m0 0h1m4 0h1m2 0h1m3 0h1m5 0h1m0 0h1m2 0h1m4 0h1m1 0h1m2 0h1m0 0h1m0 0h1m0 0h1m1 0h1m15 0h1m3 0h1m2 0h1m9 0h1m6 0h1m2 0h1m0 0h1m14 0h1m8 0h1m5 0h1m-117 1h1m1 0h1m5 0h1m1 0h1m3 0h1m2 0h1m3 0h1m2 0h1m0 0h1m5 0h1m4 0h1m3 0h1m0 0h1m6 0h1m2 0h1m26 0h1m6 0h1m2 0h1m1 0h1m5 0h1m6 0h1m21 0h1m-137 1h1m0 0h1m12 0h1m1 0h1m0 0h1m2 0h1m0 0h1m4 0h1m0 0h1m7 0h1m5 0h1m1 0h1m6 0h1m1 0h1m5 0h1m4 0h1m0 0h1m4 0h1m11 0h1m1 0h1m5 0h1m17 0h1m-109 1h1m12 0h1m3 0h1m4 0h1m1 0h1m8 0h1m1 0h1m5 0h1m2 0h1m0 0h1m1 0h1m2 0h1m9 0h1m4 0h1m2 0h1m2 0h1m0 0h1m1 0h1m0 0h1m20 0h1m6 0h1m4 0h1m4 0h1m1 0h1m18 0h1m0 0h1m0 0h1m3 0h1m-133 1h1m2 0h1m6 0h1m0 0h1m7 0h1m4 0h1m7 0h1m2 0h1m3 0h1m1 0h1m5 0h1m2 0h1m26 0h1m6 0h1m2 0h1m9 0h1m5 0h1m1 0h1m8 0h1m4 0h1m3 0h1m3 0h1m-134 1h1m2 0h1m5 0h1m1 0h1m5 0h1m3 0h1m1 0h1m5 0h1m5 0h1m2 0h1m4 0h1m2 0h1m2 0h1m2 0h1m0 0h1m0 0h1m24 0h1m27 0h1m11 0h1m2 0h1m-125 1h1m10 0h1m3 0h1m0 0h1m2 0h1m2 0h1m1 0h1m5 0h1m2 0h1m5 0h1m1 0h1m2 0h1m2 0h1m4 0h1m0 0h1m3 0h1m39 0h1m12 0h1m3 0h1m0 0h1m8 0h1m5 0h1m5 0h1m-138 1h1m10 0h1m1 0h1m4 0h1m0 0h1m19 0h1m2 0h1m3 0h1m0 0h1m2 0h1m3 0h1m1 0h1m6 0h1m23 0h1m0 0h1m0 0h1m4 0h1m17 0h1m2 0h1m2 0h1m8 0h1m0 0h1m5 0h1m4 0h1m1 0h1m1 0h1m-132 1h1m1 0h1m3 0h1m1 0h1m1 0h1m4 0h1m0 0h1m1 0h1m6 0h1m0 0h1m5 0h1m2 0h1m6 0h1m5 0h1m13 0h1m3 0h1m0 0h1m2 0h1m22 0h1m12 0h1m12 0h1m15 0h1m-155 1h1m11 0h1m4 0h1m0 0h1m0 0h1m8 0h1m15 0h1m4 0h1m4 0h1m1 0h1m3 0h1m2 0h1m10 0h1m10 0h1m20 0h1m34 0h1m-127 1h1m0 0h1m1 0h1m5 0h1m16 0h1m1 0h1m3 0h1m3 0h1m0 0h1m1 0h1m0 0h1m5 0h1m4 0h1m29 0h1m19 0h1m5 0h1m28 0h1m-142 1h1m0 0h1m3 0h1m1 0h1m0 0h1m6 0h1m0 0h1m1 0h1m0 0h1m0 0h1m3 0h1m1 0h1m2 0h1m2 0h1m5 0h1m5 0h1m44 0h1m10 0h1m-104 1h1m4 0h1m6 0h1m0 0h1m0 0h1m0 0h1m0 0h1m0 0h1m0 0h1m0 0h1m2 0h1m9 0h1m1 0h1m0 0h1m2 0h1m0 0h1m3 0h1m8 0h1m2 0h1m10 0h1m43 0h1m0 0h1m-108 1h1m0 0h1m1 0h1m0 0h1m0 0h1m10 0h1m6 0h1m6 0h1m2 0h1m5 0h1m16 0h1m5 0h1m27 0h1m19 0h1m12 0h1m-131 1h1m1 0h1m2 0h1m2 0h1m4 0h1m12 0h1m3 0h1m1 0h1m1 0h1m0 0h1m1 0h1m1 0h1m2 0h1m2 0h1m1 0h1m13 0h1m28 0h1m6 0h1m4 0h1m11 0h1m9 0h1m15 0h1m5 0h1m-143 1h1m0 0h1m0 0h1m1 0h1m0 0h1m2 0h1m17 0h1m1 0h1m2 0h1m0 0h1m3 0h1m3 0h1m7 0h1m10 0h1m31 0h1m6 0h1m18 0h1m13 0h1m12 0h1m-143 1h1m0 0h1m1 0h1m0 0h1m3 0h1m0 0h1m21 0h1m14 0h1m2 0h1m1 0h1m30 0h1m0 0h1m6 0h1m-99 1h1m2 0h1m7 0h1m1 0h1m0 0h1m11 0h1m1 0h1m3 0h1m3 0h1m1 0h1m0 0h1m2 0h1m0 0h1m2 0h1m58 0h1m26 0h1m-123 1h1m18 0h1m2 0h1m0 0h1m2 0h1m3 0h1m1 0h1m23 0h1m6 0h1m7 0h1m37 0h1m4 0h1m1 0h1m-118 1h1m6 0h1m2 0h1m4 0h1m4 0h1m0 0h1m3 0h1m3 0h1m58 0h1m13 0h1m22 0h1m-132 1h1m3 0h1m3 0h1m12 0h1m3 0h1m1 0h1m0 0h1m0 0h1m0 0h1m1 0h1m2 0h1m14 0h1m37 0h1m15 0h1m7 0h1m0 0h1m-112 1h1m0 0h1m0 0h1m16 0h1m1 0h1m5 0h1m14 0h1m0 0h1m22 0h1m13 0h1m57 0h1m-138 1h1m0 0h1m14 0h1m0 0h1m0 0h1m5 0h1m1 0h1m1 0h1m0 0h1m1 0h1m1 0h1m5 0h1m4 0h1m17 0h1m16 0h1m-88 1h1m5 0h1m6 0h1m3 0h1m4 0h1m3 0h1m5 0h1m1 0h1m0 0h1m34 0h1m6 0h1m19 0h1m-89 1h1m8 0h1m11 0h1m0 0h1m0 0h1m29 0h1m81 0h1m-142 1h1m14 0h1m5 0h1m1 0h1m0 0h1m0 0h1m0 0h1m8 0h1m0 0h1m64 0h1m13 0h1m15 0h1m-143 1h1m11 0h1m16 0h1m1 0h1m1 0h1m12 0h1m1 0h1m4 0h1m45 0h1m-96 1h1m3 0h1m31 0h1m0 0h1m2 0h1m1 0h1m1 0h1m15 0h1m2 0h1m2 0h1m10 0h1m38 0h1m-113 1h1m17 0h1m3 0h1m2 0h1m1 0h1m9 0h1m91 0h1m8 0h1m-153 1h1m9 0h1m21 0h1m2 0h1m3 0h1m1 0h1m1 0h1m1 0h1m-42 1h1m24 0h1m1 0h1m2 0h1m3 0h1m1 0h1m24 0h1m38 0h1m5 0h1m12 0h1m-93 1h1m1 0h1m2 0h1m0 0h1m4 0h1m14 0h1m26 0h1m-79 1h1m22 0h1m6 0h1m0 0h1m3 0h1m8 0h1m71 0h1m46 0h1m-137 1h1m0 0h1m1 0h1m2 0h1m-14 1h1m6 0h1m-34 1h1m28 0h1m0 0h1m5 0h1m5 0h1m1 0h1m93 0h1m-107 1h1m2 0h1m8 0h1m-46 1h1m31 0h1m0 0h1m6 0h1m-39 1h1m27 1h1m4 0h1m-11 1h1m2 0h1m109 0h1m-118 1h1m-1 1h1m1 0h1m0 0h1m0 0h1m-1 1h1m0 0h1m-3 1h1m-2 1h1m-5 1h1m11 1h1m-17 1h1m0 0h1m-3 1h1m1 0h1m-4 2h1m-25 3h1m17 0h1m-23 1h1m2 0h1m-1 1h1m8 1h1m-11 2h1m2 0h1m5 1h1m-8 1h1m2 2h1m2 0h1" transform="translate(0 .5)"/>
<path stroke="#2270B5" stroke-width="1.15" d="M491 2042h1m-19 12h1m-28 8h1m-2 2h1m3 0h1m-6 1h1m8 0h1m-7 2h1m3 0h1m6 1h1m-19 1h1m4 0h1m2 0h1m-1 1h1m2 0h1m-15 1h1m0 0h1m0 0h1m2 0h1m2 0h1m2 0h1m-7 1h1m5 0h1m0 0h1m0 0h1m8 0h1m-21 1h1m0 0h1m5 0h1m-13 1h1m9 0h1m0 0h1m1 0h1m4 0h1m6 0h1m-28 1h1m7 0h1m2 0h1m0 0h1m2 0h1m-16 1h1m4 0h1m1 0h1m2 0h1m1 0h1m5 0h1m-26 1h1m1 0h1m3 0h1m1 0h1m0 0h1m1 0h1m1 0h1m7 0h1m0 0h1m1 0h1m0 0h1m-22 1h1m0 0h1m0 0h1m0 0h1m0 0h1m1 0h1m1 0h1m1 0h1m3 0h1m6 0h1m-26 1h1m1 0h1m2 0h1m2 0h1m0 0h1m4 0h1m0 0h1m0 0h1m0 0h1m1 0h1m-19 1h1m0 0h1m3 0h1m0 0h1m2 0h1m1 0h1m2 0h1m0 0h1m1 0h1m3 0h1m-23 1h1m0 0h1m0 0h1m0 0h1m2 0h1m0 0h1m1 0h1m0 0h1m2 0h1m1 0h1m3 0h1m-18 1h1m2 0h1m0 0h1m0 0h1m0 0h1m0 0h1m0 0h1m0 0h1m0 0h1m1 0h1m-25 1h1m6 0h1m4 0h1m1 0h1m0 0h1m0 0h1m0 0h1m1 0h1m0 0h1m2 0h1m-14 1h1m0 0h1m1 0h1m2 0h1m1 0h1m0 0h1m3 0h1m4 0h1m-23 1h1m0 0h1m2 0h1m2 0h1m1 0h1m0 0h1m2 0h1m3 0h1m0 0h1m1 0h1m-22 1h1m0 0h1m2 0h1m0 0h1m0 0h1m1 0h1m1 0h1m0 0h1m0 0h1m0 0h1m1 0h1m0 0h1m2 0h1m3 0h1m-33 1h1m4 0h1m1 0h1m2 0h1m3 0h1m0 0h1m0 0h1m1 0h1m0 0h1m0 0h1m0 0h1m0 0h1m0 0h1m0 0h1m-18 1h1m0 0h1m5 0h1m0 0h1m1 0h1m2 0h1m0 0h1m2 0h1m1 0h1m1 0h1m-27 1h1m0 0h1m0 0h1m2 0h1m0 0h1m1 0h1m1 0h1m5 0h1m0 0h1m0 0h1m-19 1h1m5 0h1m4 0h1m1 0h1m1 0h1m5 0h1m-24 1h1m2 0h1m1 0h1m3 0h1m0 0h1m0 0h1m2 0h1m2 0h1m1 0h1m0 0h1m3 0h1m0 0h1m2 0h1m-27 1h1m0 0h1m0 0h1m0 0h1m2 0h1m0 0h1m2 0h1m0 0h1m0 0h1m1 0h1m1 0h1m0 0h1m1 0h1m0 0h1m-29 1h1m4 0h1m0 0h1m3 0h1m0 0h1m1 0h1m0 0h1m0 0h1m1 0h1m1 0h1m0 0h1m0 0h1m3 0h1m-19 1h1m0 0h1m1 0h1m3 0h1m1 0h1m1 0h1m1 0h1m0 0h1m0 0h1m0 0h1m4 0h1m0 0h1m-31 1h1m1 0h1m0 0h1m1 0h1m0 0h1m0 0h1m1 0h1m0 0h1m0 0h1m0 0h1m0 0h1m7 0h1m3 0h1m-24 1h1m3 0h1m0 0h1m3 0h1m0 0h1m0 0h1m0 0h1m0 0h1m1 0h1m0 0h1m2 0h1m2 0h1m1 0h1m-25 1h1m0 0h1m1 0h1m1 0h1m0 0h1m0 0h1m0 0h1m0 0h1m0 0h1m3 0h1m0 0h1m0 0h1m7 0h1m1 0h1m-30 1h1m4 0h1m0 0h1m0 0h1m1 0h1m1 0h1m0 0h1m0 0h1m1 0h1m0 0h1m0 0h1m0 0h1m0 0h1m0 0h1m-19 1h1m0 0h1m0 0h1m0 0h1m1 0h1m0 0h1m0 0h1m0 0h1m0 0h1m5 0h1m1 0h1m-22 1h1m4 0h1m2 0h1m0 0h1m0 0h1m0 0h1m1 0h1m0 0h1m0 0h1m0 0h1m0 0h1m3 0h1m0 0h1m1 0h1m-28 1h1m0 0h1m2 0h1m3 0h1m0 0h1m0 0h1m0 0h1m0 0h1m0 0h1m0 0h1m1 0h1m1 0h1m0 0h1m4 0h1m-23 1h1m3 0h1m0 0h1m1 0h1m0 0h1m0 0h1m0 0h1m0 0h1m0 0h1m0 0h1m1 0h1m4 0h1m-24 1h1m3 0h1m0 0h1m5 0h1m0 0h1m0 0h1m0 0h1m1 0h1m0 0h1m1 0h1m1 0h1m0 0h1m-23 1h1m0 0h1m4 0h1m0 0h1m0 0h1m0 0h1m0 0h1m0 0h1m0 0h1m0 0h1m0 0h1m4 0h1m1 0h1m0 0h1m-30 1h1m5 0h1m1 0h1m1 0h1m0 0h1m1 0h1m0 0h1m1 0h1m0 0h1m1 0h1m0 0h1m0 0h1m2 0h1m0 0h1m1 0h1m0 0h1m-24 1h1m0 0h1m1 0h1m3 0h1m0 0h1m0 0h1m0 0h1m1 0h1m0 0h1m0 0h1m1 0h1m0 0h1m4 0h1m-27 1h1m3 0h1m2 0h1m1 0h1m3 0h1m2 0h1m0 0h1m0 0h1m-17 1h1m1 0h1m0 0h1m0 0h1m0 0h1m3 0h1m0 0h1m0 0h1m1 0h1m1 0h1m0 0h1m1 0h1m1 0h1m0 0h1m-26 1h1m3 0h1m2 0h1m1 0h1m2 0h1m0 0h1m2 0h1m0 0h1m2 0h1m0 0h1m0 0h1m-21 1h1m0 0h1m6 0h1m2 0h1m0 0h1m0 0h1m0 0h1m0 0h1m8 0h1m-27 1h1m4 0h1m3 0h1m3 0h1m2 0h1m0 0h1m2 0h1m-24 1h1m0 0h1m0 0h1m1 0h1m6 0h1m2 0h1m0 0h1m2 0h1m0 0h1m0 0h1m-18 1h1m0 0h1m8 0h1m1 0h1m0 0h1m2 0h1m0 0h1m0 0h1m0 0h1m-27 1h1m0 0h1m4 0h1m7 0h1m1 0h1m0 0h1m0 0h1m1 0h1m3 0h1m-24 1h1m1 0h1m0 0h1m8 0h1m3 0h1m1 0h1m0 0h1m-23 1h1m1 0h1m1 0h1m1 0h1m6 0h1m3 0h1m4 0h1m0 0h1m1 0h1m-29 1h1m4 0h1m15 0h1m0 0h1m2 0h1m-23 1h1m4 0h1m1 0h1m10 0h1m2 0h1m0 0h1m-28 1h1m1 0h1m2 0h1m10 0h1m3 0h1m6 0h1m1 0h1m-7 1h1m3 0h1m-26 1h1m19 0h1m1 0h1m-23 1h1m0 0h1m0 0h1m15 0h1m0 0h1m0 0h1m2 0h1m-24 1h1m16 0h1m0 0h1m4 0h1m-26 1h1m2 0h1m9 0h1m5 0h1m0 0h1m4 0h1m-31 1h1m4 0h1m0 0h1m1 0h1m0 0h1m3 0h1m5 0h1m0 0h1m0 0h1m0 0h1m0 0h1m-19 1h1m5 0h1m7 0h1m3 0h1m0 0h1m-22 1h1m7 0h1m5 0h1m5 0h1m-22 1h1m1 0h1m0 0h1m0 0h1m4 0h1m2 0h1m8 0h1m-22 1h1m11 0h1m-17 1h1m2 0h1m0 0h1m0 0h1m1 0h1m5 0h1m1 0h1m4 0h1m-20 1h1m2 0h1m0 0h1m2 0h1m1 0h1m3 0h1m2 0h1m0 0h1m0 0h1m1 0h1m-22 1h1m1 0h1m0 0h1m0 0h1m0 0h1m0 0h1m8 0h1m-17 1h1m0 0h1m0 0h1m1 0h1m0 0h1m0 0h1m1 0h1m0 0h1m-11 1h1m0 0h1m1 0h1m0 0h1m1 0h1m0 0h1m0 0h1m-8 1h1m0 0h1m0 0h1m0 0h1m1 0h1m1 0h1m0 0h1m0 0h1m1 0h1m-13 1h1m0 0h1m0 0h1m1 0h1m1 0h1m2 0h1m0 0h1m4 0h1m-18 1h1m0 0h1m0 0h1m1 0h1m0 0h1m0 0h1m0 0h1m0 0h1m0 0h1m0 0h1m0 0h1m-10 1h1m0 0h1m0 0h1m0 0h1m0 0h1m0 0h1m2 0h1m-8 1h1m0 0h1m0 0h1m0 0h1m2 0h1m-6 1h1m4 0h1m1 0h1m-7 1h1m0 0h1" transform="translate(0 .5)"/>
<path stroke="#2E9AA6" stroke-width="1.15" d="M425 2086h1m5 3h1m-4 1h1m-18 3h1m6 0h1m2 1h1m-11 1h1m6 0h1m-9 1h1m0 0h1m1 0h1m-1 1h1m2 0h1m1 0h1m-12 1h1m1 0h1m1 0h1m1 0h1m2 0h1m5 0h1m-19 1h1m7 0h1m2 0h1m0 0h1m3 0h1m-14 1h1m2 0h1m-3 1h1m8 0h1m-14 1h1m2 0h1m3 0h1m0 0h1m-14 1h1m5 0h1m3 0h1m0 0h1m-11 1h1m8 0h1m-8 1h1m0 0h1m1 0h1m2 0h1m-10 1h1m8 0h1m2 0h1m1 0h1m-18 1h1m5 0h1m0 0h1m0 0h1m1 0h1m3 0h1m2 0h1m-16 1h1m1 0h1m0 0h1m0 0h1m0 0h1m5 0h1m-16 1h1m2 0h1m0 0h1m0 0h1m0 0h1m0 0h1m0 0h1m0 0h1m3 0h1m4 0h1m-21 1h1m2 0h1m3 0h1m0 0h1m0 0h1m0 0h1m0 0h1m0 0h1m1 0h1m-16 1h1m0 0h1m0 0h1m0 0h1m0 0h1m1 0h1m2 0h1m1 0h1m0 0h1m0 0h1m0 0h1m-16 1h1m0 0h1m0 0h1m1 0h1m0 0h1m0 0h1m0 0h1m0 0h1m3 0h1m1 0h1m0 0h1m0 0h1m-18 1h1m2 0h1m1 0h1m0 0h1m2 0h1m0 0h1m1 0h1m-14 1h1m0 0h1m0 0h1m0 0h1m1 0h1m0 0h1m0 0h1m0 0h1m1 0h1m1 0h1m0 0h1m0 0h1m0 0h1m0 0h1m0 0h1m-21 1h1m2 0h1m4 0h1m0 0h1m1 0h1m0 0h1m0 0h1m0 0h1m0 0h1m0 0h1m0 0h1m-18 1h1m0 0h1m2 0h1m1 0h1m0 0h1m1 0h1m2 0h1m1 0h1m0 0h1m3 0h1m-21 1h1m0 0h1m2 0h1m1 0h1m0 0h1m0 0h1m0 0h1m0 0h1m0 0h1m0 0h1m3 0h1m-21 1h1m2 0h1m0 0h1m0 0h1m0 0h1m0 0h1m1 0h1m1 0h1m1 0h1m1 0h1m1 0h1m3 0h1m-22 1h1m3 0h1m0 0h1m0 0h1m0 0h1m1 0h1m0 0h1m1 0h1m0 0h1m1 0h1m0 0h1m0 0h1m2 0h1m-20 1h1m0 0h1m0 0h1m0 0h1m1 0h1m2 0h1m0 0h1m1 0h1m1 0h1m0 0h1m0 0h1m0 0h1m-17 1h1m2 0h1m0 0h1m2 0h1m0 0h1m0 0h1m0 0h1m0 0h1m0 0h1m0 0h1m0 0h1m-16 1h1m2 0h1m1 0h1m0 0h1m0 0h1m0 0h1m1 0h1m1 0h1m3 0h1m0 0h1m-19 1h1m2 0h1m0 0h1m2 0h1m1 0h1m0 0h1m0 0h1m1 0h1m-15 1h1m1 0h1m0 0h1m2 0h1m0 0h1m2 0h1m0 0h1m2 0h1m1 0h1m-19 1h1m0 0h1m0 0h1m0 0h1m1 0h1m1 0h1m0 0h1m4 0h1m1 0h1m-21 1h1m3 0h1m5 0h1m0 0h1m0 0h1m2 0h1m-13 1h1m0 0h1m3 0h1m0 0h1m5 0h1m1 0h1m-17 1h1m3 0h1m2 0h1m1 0h1m0 0h1m2 0h1m1 0h1m1 0h1m-22 1h1m1 0h1m0 0h1m2 0h1m0 0h1m0 0h1m0 0h1m0 0h1m0 0h1m0 0h1m0 0h1m0 0h1m0 0h1m0 0h1m0 0h1m0 0h1m2 0h1m-19 1h1m0 0h1m0 0h1m0 0h1m4 0h1m0 0h1m3 0h1m-16 1h1m1 0h1m2 0h1m1 0h1m0 0h1m0 0h1m0 0h1m0 0h1m1 0h1m1 0h1m-14 1h1m0 0h1m0 0h1m0 0h1m0 0h1m0 0h1m0 0h1m0 0h1m0 0h1m0 0h1m2 0h1m2 0h1m-17 1h1m0 0h1m1 0h1m0 0h1m0 0h1m1 0h1m1 0h1m0 0h1m0 0h1m2 0h1m-17 1h1m1 0h1m0 0h1m0 0h1m0 0h1m0 0h1m0 0h1m-7 1h1m0 0h1m1 0h1m0 0h1m1 0h1m0 0h1m0 0h1m-10 1h1m0 0h1m2 0h1m2 0h1m0 0h1m-8 1h1m1 0h1m-4 1h1m1 0h1m0 0h1m0 0h1m0 0h1m-4 1h1" transform="translate(0 .5)"/>
<path stroke="#4DB35A" stroke-width="1.15" d="M420 2100h1m-15 5h1m-5 2h1m1 0h1m-3 1h1m-9 1h1m1 0h1m0 0h1m0 0h1m2 0h1m0 0h1m0 0h1m0 0h1m3 0h1m-14 1h1m3 0h1m0 0h1m2 0h1m-12 1h1m0 0h1m3 0h1m0 0h1m0 0h1m0 0h1m1 0h1m-8 1h1m2 0h1m1 0h1m1 0h1m-11 1h1m0 0h1m1 0h1m1 0h1m0 0h1m1 0h1m0 0h1m0 0h1m-12 1h1m0 0h1m1 0h1m1 0h1m0 0h1m0 0h1m-13 1h1m3 0h1m0 0h1m1 0h1m0 0h1m0 0h1m0 0h1m0 0h1m3 0h1m-18 1h1m4 0h1m0 0h1m0 0h1m0 0h1m0 0h1m0 0h1m1 0h1m2 0h1m-15 1h1m2 0h1m0 0h1m1 0h1m0 0h1m0 0h1m2 0h1m0 0h1m0 0h1m0 0h1m0 0h1m0 0h1m-16 1h1m3 0h1m0 0h1m1 0h1m0 0h1m2 0h1m-17 1h1m0 0h1m1 0h1m0 0h1m0 0h1m2 0h1m0 0h1m0 0h1m1 0h1m0 0h1m1 0h1m1 0h1m-17 1h1m1 0h1m0 0h1m0 0h1m0 0h1m0 0h1m0 0h1m0 0h1m4 0h1m-18 1h1m1 0h1m1 0h1m3 0h1m0 0h1m0 0h1m3 0h1m-10 1h1m1 0h1m1 0h1m1 0h1m1 0h1m0 0h1m0 0h1m-14 1h1m1 0h1m0 0h1m1 0h1m0 0h1m0 0h1m0 0h1m0 0h1m0 0h1m0 0h1m-13 1h1m1 0h1m0 0h1m0 0h1m0 0h1m0 0h1m0 0h1m0 0h1m0 0h1m3 0h1m-16 1h1m1 0h1m0 0h1m0 0h1m0 0h1m1 0h1m3 0h1m2 0h1m2 0h1m-18 1h1m1 0h1m0 0h1m0 0h1m0 0h1m1 0h1m0 0h1m1 0h1m-13 1h1m0 0h1m0 0h1m1 0h1m1 0h1m0 0h1m0 0h1m0 0h1m2 0h1m-13 1h1m1 0h1m0 0h1m0 0h1m0 0h1m0 0h1m1 0h1m0 0h1m0 0h1m3 0h1m-16 1h1m0 0h1m0 0h1m0 0h1m0 0h1m0 0h1m0 0h1m2 0h1m1 0h1m1 0h1m-18 1h1m0 0h1m1 0h1m0 0h1m0 0h1m0 0h1m3 0h1m0 0h1m0 0h1m0 0h1m0 0h1m0 0h1m-13 1h1m1 0h1m1 0h1m0 0h1m1 0h1m-9 1h1m0 0h1m0 0h1m0 0h1m0 0h1m-6 1h1m0 0h1m0 0h1m1 0h1m1 0h1m-7 1h1m2 0h1m0 0h1m-8 1h1m3 0h1m0 0h1m0 0h1m-6 1h1m1 0h1m0 0h1m4 0h1m-7 1h1" transform="translate(0 .5)"/>
<path stroke="#A8CC3C" stroke-width="1.15" d="M403 2107h1m-5 2h1m2 0h1m-2 1h1m-6 1h1m3 0h1m-6 1h1m4 0h1m-9 1h1m0 0h1m1 0h1m3 0h1m-6 1h1m0 0h1m1 0h1m0 0h1m0 0h1m-10 1h1m1 0h1m1 0h1m0 0h1m0 0h1m1 0h1m1 0h1m-14 1h1m1 0h1m0 0h1m1 0h1m0 0h1m0 0h1m1 0h1m0 0h1m-15 1h1m5 0h1m0 0h1m0 0h1m0 0h1m0 0h1m1 0h1m0 0h1m0 0h1m-14 1h1m2 0h1m0 0h1m0 0h1m0 0h1m0 0h1m0 0h1m0 0h1m0 0h1m0 0h1m3 0h1m-18 1h1m3 0h1m0 0h1m1 0h1m0 0h1m0 0h1m0 0h1m1 0h1m0 0h1m-13 1h1m0 0h1m1 0h1m0 0h1m0 0h1m0 0h1m0 0h1m0 0h1m1 0h1m-13 1h1m0 0h1m2 0h1m1 0h1m0 0h1m0 0h1m2 0h1m1 0h1m-13 1h1m1 0h1m0 0h1m0 0h1m1 0h1m1 0h1m0 0h1m-11 1h1m1 0h1m0 0h1m0 0h1m0 0h1m1 0h1m0 0h1m1 0h1m-13 1h1m0 0h1m1 0h1m0 0h1m1 0h1m0 0h1m0 0h1m2 0h1m-13 1h1m0 0h1m0 0h1m0 0h1m0 0h1m0 0h1m0 0h1m0 0h1m0 0h1m0 0h1m-8 1h1m0 0h1m2 0h1m0 0h1m0 0h1m0 0h1m0 0h1m-12 1h1m0 0h1m0 0h1m1 0h1m2 0h1m0 0h1m-8 1h1m2 0h1m0 0h1m0 0h1m0 0h1m0 0h1m0 0h1m-10 1h1m-4 1h1m1 0h1m0 0h1m0 0h1m5 0h1m-13 1h1m0 0h1m3 0h1m-4 1h1m0 0h1m2 0h1m1 0h1m-6 1h1m-8 1h1m4 0h1" transform="translate(0 .5)"/>
<path stroke="#EADB35" stroke-width="1.15" d="M397 2109h1m-2 2h1m-3 1h1m0 0h1m3 0h1m-8 1h1m4 0h1m-5 1h1m-2 1h1m2 0h1m3 0h1m-10 1h1m0 0h1m0 0h1m1 0h1m-7 1h1m0 0h1m0 0h1m0 0h1m3 0h1m-6 1h1m2 0h1m3 0h1m0 0h1m-14 1h1m0 0h1m0 0h1m0 0h1m2 0h1m-4 1h1m0 0h1m2 0h1m1 0h1m-14 1h1m4 0h1m0 0h1m2 0h1m0 0h1m1 0h1m-14 1h1m2 0h1m0 0h1m1 0h1m6 0h1m-13 1h1m1 0h1m0 0h1m0 0h1m0 0h1m0 0h1m0 0h1m-8 1h1m2 0h1m0 0h1m1 0h1m-12 1h1m2 0h1m0 0h1m0 0h1m0 0h1m0 0h1m0 0h1m0 0h1m-6 1h1m0 0h1m0 0h1m0 0h1m0 0h1m0 0h1m0 0h1m-9 1h1m2 0h1m5 0h1m-12 1h1m-3 2h1m2 0h1m-1 1h1m-2 1h1m4 0h1m-10 2h1m3 0h1" transform="translate(0 .5)"/>
<path stroke="#F29B2A" stroke-width="1.15" d="M395 2113h1m1 0h1m2 0h1m-2 1h1m-16 1h1m8 0h1m4 1h1m-8 1h1m0 0h1m1 0h1m-4 1h1m2 0h1m-7 1h1m0 0h1m1 0h1m0 0h1m-8 1h1m0 0h1m4 0h1m3 0h1m-12 1h1m0 0h1m4 0h1m-8 1h1m1 0h1m2 0h1m-8 1h1m0 0h1m0 0h1m1 0h1m1 0h1m0 0h1m-11 1h1m5 0h1m0 0h1m2 0h1m-10 1h1m0 0h1m0 0h1m-2 1h1m0 0h1m2 0h1m2 0h1m-9 1h1m3 0h1m0 0h1m1 0h1m-8 1h1m4 0h1m-6 1h1m1 0h1m-3 1h1m1 0h1" transform="translate(0 .5)"/>
<path stroke="#E3342A" stroke-width="1.15" d="M390 2113h1m3 0h1m1 1h1m-6 1h1m1 1h1m0 0h1m-6 1h1m2 0h1m1 0h1m-7 2h1m2 0h1m2 0h1m-8 1h1m0 0h1m0 0h1m1 0h1m-7 1h1m0 0h1m-4 1h1m1 0h1m1 0h1m0 0h1m-7 1h1m1 0h1m4 0h1m-9 1h1m0 0h1m1 0h1m0 0h1m0 0h1m-4 1h1m0 0h1m0 0h1m-7 1h1m3 0h1m-5 2h1m2 0h1m0 0h1m-7 1h1m1 2h1" transform="translate(0 .5)"/>
<path fill="#000" d="M339.5 1951.6h4.5v3h-4.5zM339.5 1958.2h4.5v3h-4.5zM339.5 1964.8h4.5v3h-4.5zM339.5 1971.4h4.5v3h-4.5zM339.5 1978h4.5v3h-4.5zM339.5 1984.6h4.5v3h-4.5zM339.5 1991.2h4.5v3h-4.5zM339.5 1997.8h4.5v3h-4.5zM339.5 2004.4h4.5v3h-4.5zM339.5 2011h4.5v3h-4.5zM339.5 2017.6h4.5v3h-4.5zM339.5 2024.2h4.5v3h-4.5zM339.5 2030.8h4.5v3h-4.5zM339.5 2037.4h4.5v3h-4.5zM339.5 2044h4.5v3h-4.5zM339.5 2050.6h4.5v3h-4.5zM339.5 2057.2h4.5v3h-4.5zM339.5 2063.8h4.5v3h-4.5zM339.5 2070.4h4.5v3h-4.5zM339.5 2077h4.5v3h-4.5zM339.5 2083.6h4.5v3h-4.5zM339.5 2090.2h4.5v3h-4.5zM339.5 2096.8h4.5v3h-4.5zM339.5 2103.4h4.5v3h-4.5zM339.5 2110h4.5v3h-4.5zM339.5 2116.6h4.5v3h-4.5zM339.5 2123.2h4.5v3h-4.5zM339.5 2129.8h4.5v3h-4.5zM339.5 2136.4h4.5v3h-4.5zM339.5 2143h4.5v3h-4.5zM339.5 2149.6h4.5v3h-4.5zM339.5 2156.2h4.5v3h-4.5zM345 2161.3v4.5h3v-4.5zM351.6 2161.3v4.5h3v-4.5zM358.2 2161.3v4.5h3v-4.5zM364.8 2161.3v4.5h3v-4.5zM371.4 2161.3v4.5h3v-4.5zM378 2161.3v4.5h3v-4.5zM384.6 2161.3v4.5h3v-4.5zM391.2 2161.3v4.5h3v-4.5zM397.8 2161.3v4.5h3v-4.5zM404.4 2161.3v4.5h3v-4.5zM411 2161.3v4.5h3v-4.5zM417.6 2161.3v4.5h3v-4.5zM424.2 2161.3v4.5h3v-4.5zM430.8 2161.3v4.5h3v-4.5zM437.4 2161.3v4.5h3v-4.5zM444 2161.3v4.5h3v-4.5zM450.6 2161.3v4.5h3v-4.5zM457.2 2161.3v4.5h3v-4.5zM463.8 2161.3v4.5h3v-4.5zM470.4 2161.3v4.5h3v-4.5zM477 2161.3v4.5h3v-4.5zM483.6 2161.3v4.5h3v-4.5zM490.2 2161.3v4.5h3v-4.5zM496.8 2161.3v4.5h3v-4.5zM503.4 2161.3v4.5h3v-4.5zM510 2161.3v4.5h3v-4.5zM516.6 2161.3v4.5h3v-4.5zM523.2 2161.3v4.5h3v-4.5zM529.8 2161.3v4.5h3v-4.5zM536.4 2161.3v4.5h3v-4.5zM543 2161.3v4.5h3v-4.5z"/>
<path fill="#000" d="M337.5 1950h6.5v5.2h-6.5zM337.5 2000.3h6.5v5.2h-6.5zM337.5 2053h6.5v5.2h-6.5zM337.5 2105.6h6.5v5.2h-6.5zM337.5 2156.9h6.5v5.2h-6.5zM376.4 2161.3h5.2v6.5h-5.2zM411.2 2161.3h5.2v6.5h-5.2zM447 2161.3h5.2v6.5h-5.2zM481.1 2161.3h5.2v6.5h-5.2zM515.8 2161.3h5.2v6.5h-5.2z"/>
<rect x="344" y="1950.6" width="206" height="210.7" fill="none" stroke="#000" stroke-width="1.6"/>
<polygon points="351.8,2137.3 531,1984.6 529.6,2032.3 367.3,2159.5" fill="none" stroke="#000" stroke-width="1.6" stroke-linejoin="miter"/>
<text x="0" y="0" font-size="22.5" fill="#111" text-anchor="middle" transform="translate(329,2055.6) rotate(-90)">SSC-A</text>
<text x="449.7" y="1942.7" font-size="22.5" text-anchor="middle" fill="#111">Cells</text>
<text x="443.2" y="2195.3" font-size="22.5" text-anchor="middle" fill="#111">SSC-H</text>
<line x1="444.3" y1="2063.8" x2="557" y2="2063.8" stroke="#000" stroke-width="1.8"/>
<polygon points="566,2063.8 557,2070.3 557,2057.3" fill="#000"/>
<path stroke="#1D4F9F" stroke-width="1.15" d="M768 1967h1m34 2h1m6 1h1m-24 1h1m-45 2h1m50 0h1m-9 1h1m3 0h1m-24 1h1m21 0h1m-11 1h1m-9 1h1m8 0h1m8 0h1m1 0h1m5 0h1m-26 1h1m5 0h1m1 0h1m8 0h1m12 0h1m-30 1h1m0 0h1m1 0h1m1 0h1m25 0h1m-35 1h1m5 0h1m1 0h1m0 0h1m3 0h1m0 0h1m6 0h1m-13 1h1m0 0h1m1 0h1m4 0h1m5 0h1m-40 1h1m18 0h1m0 0h1m1 0h1m6 0h1m2 0h1m0 0h1m3 0h1m-23 1h1m2 0h1m0 0h1m0 0h1m0 0h1m1 0h1m1 0h1m1 0h1m2 0h1m1 0h1m26 0h1m-50 1h1m0 0h1m0 0h1m2 0h1m1 0h1m0 0h1m1 0h1m6 0h1m0 0h1m0 0h1m2 0h1m0 0h1m0 0h1m7 0h1m-29 1h1m1 0h1m2 0h1m2 0h1m0 0h1m1 0h1m0 0h1m0 0h1m1 0h1m0 0h1m2 0h1m1 0h1m0 0h1m7 0h1m1 0h1m-39 1h1m4 0h1m0 0h1m2 0h1m1 0h1m2 0h1m0 0h1m0 0h1m0 0h1m0 0h1m4 0h1m0 0h1m1 0h1m0 0h1m0 0h1m2 0h1m4 0h1m-45 1h1m5 0h1m5 0h1m0 0h1m1 0h1m1 0h1m5 0h1m0 0h1m1 0h1m0 0h1m0 0h1m0 0h1m1 0h1m0 0h1m0 0h1m4 0h1m2 0h1m5 0h1m15 0h1m-56 1h1m0 0h1m2 0h1m0 0h1m4 0h1m2 0h1m2 0h1m0 0h1m2 0h1m1 0h1m0 0h1m0 0h1m16 0h1m-41 1h1m2 0h1m9 0h1m3 0h1m3 0h1m0 0h1m7 0h1m1 0h1m-42 1h1m3 0h1m1 0h1m0 0h1m1 0h1m0 0h1m2 0h1m3 0h1m3 0h1m8 0h1m0 0h1m1 0h1m0 0h1m11 0h1m0 0h1m-42 1h1m0 0h1m1 0h1m2 0h1m2 0h1m12 0h1m0 0h1m1 0h1m1 0h1m2 0h1m0 0h1m1 0h1m-35 1h1m2 0h1m6 0h1m6 0h1m1 0h1m0 0h1m4 0h1m0 0h1m0 0h1m1 0h1m0 0h1m3 0h1m-41 1h1m2 0h1m0 0h1m0 0h1m0 0h1m2 0h1m0 0h1m16 0h1m1 0h1m2 0h1m1 0h1m4 0h1m3 0h1m4 0h1m-46 1h1m2 0h1m0 0h1m19 0h1m2 0h1m3 0h1m1 0h1m5 0h1m-47 1h1m3 0h1m4 0h1m0 0h1m1 0h1m18 0h1m1 0h1m0 0h1m0 0h1m0 0h1m7 0h1m4 0h1m4 0h1m-68 1h1m14 0h1m3 0h1m1 0h1m0 0h1m0 0h1m16 0h1m4 0h1m0 0h1m5 0h1m2 0h1m5 0h1m3 0h1m-51 1h1m0 0h1m2 0h1m0 0h1m1 0h1m21 0h1m0 0h1m4 0h1m17 0h1m-53 1h1m0 0h1m1 0h1m0 0h1m0 0h1m24 0h1m0 0h1m6 0h1m6 0h1m1 0h1m3 0h1m-57 1h1m1 0h1m2 0h1m4 0h1m16 0h1m3 0h1m3 0h1m0 0h1m0 0h1m3 0h1m0 0h1m2 0h1m4 0h1m5 0h1m-60 1h1m2 0h1m7 0h1m3 0h1m6 0h1m10 0h1m2 0h1m2 0h1m0 0h1m0 0h1m1 0h1m0 0h1m0 0h1m1 0h1m10 0h1m-56 1h1m7 0h1m21 0h1m6 0h1m9 0h1m-53 1h1m2 0h1m6 0h1m0 0h1m5 0h1m18 0h1m4 0h1m0 0h1m0 0h1m3 0h1m0 0h1m5 0h1m5 0h1m-59 1h1m10 0h1m1 0h1m12 0h1m6 0h1m1 0h1m2 0h1m1 0h1m0 0h1m6 0h1m1 0h1m4 0h1m2 0h1m-53 1h1m3 0h1m4 0h1m12 0h1m5 0h1m0 0h1m0 0h1m1 0h1m0 0h1m1 0h1m0 0h1m6 0h1m3 0h1m4 0h1m-52 1h1m1 0h1m2 0h1m17 0h1m3 0h1m3 0h1m0 0h1m2 0h1m1 0h1m0 0h1m1 0h1m1 0h1m8 0h1m7 0h1m-60 1h1m1 0h1m0 0h1m1 0h1m0 0h1m3 0h1m10 0h1m5 0h1m4 0h1m0 0h1m1 0h1m1 0h1m0 0h1m0 0h1m1 0h1m2 0h1m-52 1h1m5 0h1m0 0h1m0 0h1m2 0h1m1 0h1m2 0h1m12 0h1m5 0h1m0 0h1m0 0h1m2 0h1m0 0h1m1 0h1m0 0h1m3 0h1m1 0h1m3 0h1m1 0h1m11 0h1m-61 1h1m0 0h1m1 0h1m2 0h1m6 0h1m5 0h1m7 0h1m1 0h1m0 0h1m0 0h1m2 0h1m0 0h1m1 0h1m0 0h1m1 0h1m4 0h1m15 0h1m0 0h1m-65 1h1m0 0h1m1 0h1m0 0h1m0 0h1m0 0h1m4 0h1m0 0h1m10 0h1m3 0h1m2 0h1m1 0h1m1 0h1m3 0h1m0 0h1m2 0h1m0 0h1m0 0h1m2 0h1m-64 1h1m7 0h1m6 0h1m1 0h1m0 0h1m0 0h1m0 0h1m1 0h1m0 0h1m0 0h1m1 0h1m6 0h1m1 0h1m6 0h1m2 0h1m2 0h1m2 0h1m2 0h1m6 0h1m2 0h1m-53 1h1m6 0h1m2 0h1m0 0h1m0 0h1m2 0h1m0 0h1m4 0h1m2 0h1m0 0h1m5 0h1m2 0h1m0 0h1m4 0h1m1 0h1m5 0h1m0 0h1m2 0h1m-49 1h1m0 0h1m2 0h1m0 0h1m0 0h1m0 0h1m0 0h1m0 0h1m3 0h1m0 0h1m0 0h1m1 0h1m1 0h1m2 0h1m4 0h1m0 0h1m5 0h1m0 0h1m0 0h1m1 0h1m0 0h1m1 0h1m10 0h1m1 0h1m0 0h1m-59 1h1m5 0h1m0 0h1m2 0h1m4 0h1m3 0h1m3 0h1m9 0h1m2 0h1m2 0h1m1 0h1m2 0h1m2 0h1m2 0h1m3 0h1m-48 1h1m4 0h1m1 0h1m0 0h1m0 0h1m0 0h1m2 0h1m5 0h1m0 0h1m4 0h1m3 0h1m2 0h1m1 0h1m5 0h1m-59 1h1m6 0h1m6 0h1m0 0h1m1 0h1m0 0h1m3 0h1m1 0h1m1 0h1m0 0h1m9 0h1m9 0h1m2 0h1m1 0h1m5 0h1m0 0h1m15 0h1m-79 1h1m22 0h1m2 0h1m3 0h1m1 0h1m3 0h1m10 0h1m1 0h1m0 0h1m1 0h1m0 0h1m10 0h1m-57 1h1m8 0h1m1 0h1m0 0h1m1 0h1m3 0h1m1 0h1m0 0h1m4 0h1m5 0h1m0 0h1m7 0h1m0 0h1m0 0h1m0 0h1m0 0h1m1 0h1m1 0h1m3 0h1m3 0h1m10 0h1m-67 1h1m1 0h1m1 0h1m1 0h1m1 0h1m0 0h1m0 0h1m7 0h1m0 0h1m1 0h1m1 0h1m0 0h1m2 0h1m8 0h1m3 0h1m1 0h1m0 0h1m0 0h1m2 0h1m-45 1h1m0 0h1m4 0h1m0 0h1m0 0h1m2 0h1m0 0h1m0 0h1m0 0h1m1 0h1m0 0h1m7 0h1m5 0h1m1 0h1m6 0h1m0 0h1m5 0h1m-47 1h1m1 0h1m0 0h1m4 0h1m1 0h1m0 0h1m11 0h1m7 0h1m0 0h1m3 0h1m1 0h1m0 0h1m0 0h1m5 0h1m1 0h1m2 0h1m-58 1h1m3 0h1m13 0h1m1 0h1m1 0h1m0 0h1m18 0h1m0 0h1m1 0h1m1 0h1m2 0h1m12 0h1m-57 1h1m9 0h1m1 0h1m4 0h1m11 0h1m2 0h1m0 0h1m0 0h1m0 0h1m0 0h1m0 0h1m1 0h1m5 0h1m-45 1h1m3 0h1m2 0h1m0 0h1m1 0h1m2 0h1m0 0h1m1 0h1m19 0h1m4 0h1m1 0h1m2 0h1m-49 1h1m6 0h1m0 0h1m0 0h1m0 0h1m1 0h1m0 0h1m5 0h1m8 0h1m0 0h1m0 0h1m1 0h1m3 0h1m0 0h1m3 0h1m-40 1h1m4 0h1m0 0h1m0 0h1m0 0h1m1 0h1m1 0h1m13 0h1m4 0h1m4 0h1m4 0h1m-40 1h1m0 0h1m2 0h1m0 0h1m1 0h1m2 0h1m0 0h1m9 0h1m4 0h1m0 0h1m2 0h1m7 0h1m-40 1h1m0 0h1m2 0h1m5 0h1m0 0h1m3 0h1m6 0h1m3 0h1m1 0h1m0 0h1m3 0h1m0 0h1m0 0h1m-38 1h1m1 0h1m3 0h1m0 0h1m13 0h1m0 0h1m3 0h1m0 0h1m0 0h1m2 0h1m3 0h1m2 0h1m-79 1h1m41 0h1m3 0h1m2 0h1m8 0h1m3 0h1m5 0h1m2 0h1m1 0h1m2 0h1m1 0h1m-53 1h1m9 0h1m2 0h1m5 0h1m2 0h1m0 0h1m0 0h1m1 0h1m2 0h1m4 0h1m5 0h1m1 0h1m0 0h1m0 0h1m2 0h1m15 0h1m-48 1h1m5 0h1m2 0h1m3 0h1m11 0h1m0 0h1m0 0h1m0 0h1m2 0h1m3 0h1m-46 1h1m13 0h1m0 0h1m0 0h1m0 0h1m2 0h1m1 0h1m0 0h1m0 0h1m1 0h1m0 0h1m3 0h1m0 0h1m1 0h1m3 0h1m0 0h1m5 0h1m-44 1h1m3 0h1m1 0h1m0 0h1m2 0h1m0 0h1m0 0h1m1 0h1m0 0h1m0 0h1m1 0h1m4 0h1m0 0h1m3 0h1m0 0h1m0 0h1m4 0h1m0 0h1m0 0h1m1 0h1m0 0h1m-38 1h1m8 0h1m0 0h1m2 0h1m3 0h1m0 0h1m0 0h1m0 0h1m2 0h1m0 0h1m1 0h1m0 0h1m0 0h1m-21 1h1m0 0h1m0 0h1m2 0h1m0 0h1m0 0h1m1 0h1m2 0h1m0 0h1m2 0h1m0 0h1m1 0h1m0 0h1m0 0h1m1 0h1m10 0h1m-72 1h1m27 0h1m6 0h1m1 0h1m0 0h1m1 0h1m0 0h1m0 0h1m0 0h1m0 0h1m0 0h1m0 0h1m0 0h1m1 0h1m3 0h1m0 0h1m0 0h1m0 0h1m20 0h1m-48 1h1m1 0h1m0 0h1m5 0h1m1 0h1m4 0h1m0 0h1m2 0h1m8 0h1m0 0h1m-35 1h1m10 0h1m2 0h1m0 0h1m1 0h1m1 0h1m0 0h1m0 0h1m1 0h1m3 0h1m0 0h1m2 0h1m-21 1h1m3 0h1m0 0h1m5 0h1m3 0h1m-59 1h1m24 0h1m12 0h1m4 0h1m4 0h1m1 0h1m0 0h1m0 0h1m1 0h1m1 0h1m9 0h1m-41 1h1m13 0h1m0 0h1m0 0h1m1 0h1m1 0h1m2 0h1m1 0h1m0 0h1m7 0h1m10 0h1m-34 1h1m1 0h1m10 0h1m2 0h1m1 0h1m9 0h1m-25 1h1m5 0h1m-23 1h1m8 0h1m6 0h1m2 0h1m1 0h1m15 0h1m-25 1h1m0 0h1m3 0h1m4 0h1m4 0h1m-22 1h1m1 0h1m3 0h1m1 0h1m-7 2h1m1 0h1m8 0h1m-7 1h1m-1 1h1m3 1h1m2 3h1m-37 2h1m7 0h1m3 0h1m-3 1h1m-10 1h1m18 0h1m-12 1h1m-24 1h1m14 0h1m-6 3h1m0 1h1m-15 2h1m6 1h1m11 0h1m6 0h1m-8 1h1m3 1h1m-5 2h1m9 1h1m-19 1h1m4 1h1m10 1h1m-17 1h1m12 1h1m1 0h1m-30 1h1m17 0h1m-6 1h1m-22 1h1m6 0h1m11 0h1m0 0h1m0 0h1m-1 1h1m18 0h1m-41 2h1m34 2h1m-42 1h1m4 0h1m8 1h1m15 0h1m-5 1h1m-31 1h1m6 0h1m6 0h1m0 1h1m6 0h1m-8 2h1m-33 2h1m23 2h1m0 1h1m-25 1h1m21 0h1m12 0h1m-31 2h1m32 1h1m-20 1h1m-1 4h1m2 1h1m-15 3h1m26 0h1m-38 3h1m13 0h1" transform="translate(0 .5)"/>
<path stroke="#2270B5" stroke-width="1.15" d="M778 1984h1m-5 1h1m3 0h1m-9 1h1m0 0h1m0 0h1m2 0h1m0 0h1m0 0h1m4 0h1m-10 1h1m2 0h1m1 0h1m2 0h1m-13 1h1m1 0h1m6 0h1m0 0h1m-12 1h1m1 0h1m0 0h1m0 0h1m0 0h1m8 0h1m-19 1h1m8 0h1m0 0h1m0 0h1m1 0h1m1 0h1m1 0h1m-21 1h1m8 0h1m2 0h1m3 0h1m1 0h1m0 0h1m-21 1h1m0 0h1m1 0h1m0 0h1m0 0h1m6 0h1m1 0h1m2 0h1m1 0h1m-17 1h1m1 0h1m5 0h1m1 0h1m1 0h1m3 0h1m-17 1h1m3 0h1m0 0h1m5 0h1m1 0h1m0 0h1m0 0h1m0 0h1m2 0h1m0 0h1m-24 1h1m1 0h1m1 0h1m5 0h1m2 0h1m3 0h1m1 0h1m-18 1h1m0 0h1m6 0h1m5 0h1m3 0h1m1 0h1m-26 1h1m0 0h1m1 0h1m1 0h1m0 0h1m1 0h1m11 0h1m1 0h1m0 0h1m1 0h1m-25 1h1m1 0h1m1 0h1m-3 1h1m13 0h1m2 0h1m1 0h1m-24 1h1m0 0h1m0 0h1m17 0h1m0 0h1m-24 1h1m1 0h1m1 0h1m0 0h1m1 0h1m11 0h1m2 0h1m1 0h1m1 0h1m-27 1h1m1 0h1m15 0h1m0 0h1m0 0h1m2 0h1m-24 1h1m5 0h1m1 0h1m12 0h1m0 0h1m-12 1h1m2 0h1m3 0h1m2 0h1m1 0h1m-23 1h1m1 0h1m0 0h1m0 0h1m0 0h1m0 0h1m6 0h1m0 0h1m4 0h1m1 0h1m-21 1h1m0 0h1m1 0h1m0 0h1m0 0h1m9 0h1m1 0h1m2 0h1m-21 1h1m0 0h1m1 0h1m10 0h1m1 0h1m-17 1h1m0 0h1m5 0h1m0 0h1m12 0h1m0 0h1m-25 1h1m2 0h1m1 0h1m1 0h1m1 0h1m2 0h1m1 0h1m5 0h1m0 0h1m2 0h1m4 0h1m-29 1h1m2 0h1m1 0h1m0 0h1m0 0h1m3 0h1m2 0h1m0 0h1m2 0h1m0 0h1m1 0h1m0 0h1m3 0h1m-20 1h1m5 0h1m10 0h1m0 0h1m-23 1h1m0 0h1m3 0h1m2 0h1m0 0h1m1 0h1m1 0h1m0 0h1m3 0h1m0 0h1m3 0h1m0 0h1m1 0h1m-27 1h1m0 0h1m6 0h1m6 0h1m1 0h1m0 0h1m0 0h1m0 0h1m0 0h1m1 0h1m1 0h1m-27 1h1m5 0h1m0 0h1m2 0h1m4 0h1m1 0h1m2 0h1m1 0h1m0 0h1m-19 1h1m4 0h1m4 0h1m0 0h1m0 0h1m0 0h1m2 0h1m0 0h1m0 0h1m0 0h1m-15 1h1m1 0h1m0 0h1m6 0h1m2 0h1m3 0h1m-20 1h1m1 0h1m1 0h1m9 0h1m0 0h1m1 0h1m0 0h1m0 0h1m-18 1h1m4 0h1m2 0h1m2 0h1m1 0h1m-18 1h1m1 0h1m1 0h1m3 0h1m2 0h1m0 0h1m1 0h1m1 0h1m4 0h1m0 0h1m-26 1h1m1 0h1m3 0h1m0 0h1m2 0h1m3 0h1m0 0h1m1 0h1m-17 1h1m0 0h1m1 0h1m0 0h1m0 0h1m2 0h1m7 0h1m0 0h1m0 0h1m1 0h1m0 0h1m-21 1h1m0 0h1m4 0h1m2 0h1m3 0h1m1 0h1m-19 1h1m6 0h1m3 0h1m0 0h1m1 0h1m0 0h1m2 0h1m0 0h1m0 0h1m-21 1h1m0 0h1m0 0h1m0 0h1m0 0h1m8 0h1m2 0h1m3 0h1m2 0h1m-25 1h1m1 0h1m0 0h1m2 0h1m2 0h1m2 0h1m1 0h1m1 0h1m3 0h1m-20 1h1m0 0h1m2 0h1m0 0h1m0 0h1m0 0h1m5 0h1m0 0h1m0 0h1m-19 1h1m1 0h1m0 0h1m1 0h1m3 0h1m3 0h1m0 0h1m2 0h1m0 0h1m-16 1h1m1 0h1m0 0h1m0 0h1m1 0h1m0 0h1m2 0h1m0 0h1m1 0h1m0 0h1m-18 1h1m8 0h1m0 0h1m1 0h1m0 0h1m3 0h1m0 0h1m-21 1h1m5 0h1m4 0h1m0 0h1m2 0h1m2 0h1m0 0h1m0 0h1m-17 1h1m3 0h1m1 0h1m2 0h1m0 0h1m0 0h1m-5 1h1m3 0h1m-10 1h1m0 0h1m0 0h1m0 0h1m0 0h1m1 0h1m1 0h1m1 0h1m-11 1h1m11 0h1m-10 1h1m0 0h1m2 0h1m1 0h1m1 0h1" transform="translate(0 .5)"/>
<path stroke="#2E9AA6" stroke-width="1.15" d="M778 1986h1m-6 1h1m4 0h1m1 0h1m-11 1h1m0 0h1m0 0h1m1 0h1m6 0h1m-1 1h1m-10 1h1m2 0h1m-11 1h1m1 0h1m0 0h1m1 0h1m1 0h1m0 0h1m0 0h1m-15 1h1m7 0h1m2 0h1m1 0h1m1 0h1m0 0h1m0 0h1m-14 1h1m1 0h1m5 0h1m0 0h1m0 0h1m4 0h1m-20 1h1m2 0h1m3 0h1m0 0h1m0 0h1m4 0h1m1 0h1m0 0h1m-19 1h1m0 0h1m0 0h1m0 0h1m0 0h1m1 0h1m1 0h1m3 0h1m0 0h1m0 0h1m1 0h1m-18 1h1m1 0h1m0 0h1m0 0h1m3 0h1m9 0h1m0 0h1m1 0h1m-20 1h1m11 0h1m1 0h1m4 0h1m0 0h1m1 0h1m-22 1h1m0 0h1m9 0h1m5 0h1m-23 1h1m2 0h1m0 0h1m0 0h1m0 0h1m1 0h1m10 0h1m1 0h1m-19 1h1m3 0h1m10 0h1m0 0h1m1 0h1m-21 1h1m2 0h1m0 0h1m0 0h1m0 0h1m3 0h1m1 0h1m0 0h1m1 0h1m1 0h1m-20 1h1m2 0h1m2 0h1m0 0h1m2 0h1m0 0h1m5 0h1m-17 1h1m1 0h1m4 0h1m0 0h1m2 0h1m0 0h1m0 0h1m1 0h1m0 0h1m3 0h1m-22 1h1m0 0h1m2 0h1m1 0h1m0 0h1m0 0h1m1 0h1m0 0h1m3 0h1m0 0h1m-15 1h1m2 0h1m0 0h1m0 0h1m2 0h1m0 0h1m0 0h1m2 0h1m-14 1h1m1 0h1m2 0h1m1 0h1m1 0h1m2 0h1m0 0h1m4 0h1m0 0h1m-21 1h1m3 0h1m2 0h1m1 0h1m0 0h1m0 0h1m7 0h1m3 0h1m-17 1h1m1 0h1m9 0h1m-20 1h1m5 0h1m1 0h1m0 0h1m1 0h1m1 0h1m1 1h1m0 0h1m-2 1h1m5 0h1m-17 1h1m0 0h1m7 0h1m0 0h1m7 0h1m-1 1h1m-8 1h1m4 0h1m0 0h1m0 0h1m-14 1h1m1 0h1m4 0h1m0 0h1m0 0h1m3 0h1m-14 1h1m0 0h1m1 0h1m0 0h1m2 0h1m1 0h1m1 0h1m3 0h1m0 0h1m-19 1h1m3 0h1m1 0h1m1 0h1m0 0h1m0 0h1m2 0h1m0 0h1m3 0h1m-16 1h1m1 0h1m1 0h1m1 0h1m1 0h1m0 0h1m0 0h1m0 0h1m0 0h1m0 0h1m-14 1h1m2 0h1m1 0h1m0 0h1m1 0h1m3 0h1m1 0h1m1 0h1m-25 1h1m16 0h1m2 0h1m-13 1h1m2 0h1m0 0h1m5 0h1m-16 1h1m0 0h1m1 0h1m0 0h1m2 0h1m0 0h1m0 0h1m0 0h1m0 0h1m0 0h1m3 0h1m-15 1h1m3 0h1m0 0h1m3 0h1m1 0h1m0 0h1m2 0h1m-17 1h1m1 0h1m0 0h1m3 0h1m0 0h1m3 0h1m1 0h1m-18 1h1m2 0h1m2 0h1m0 0h1m2 0h1m1 0h1m0 0h1m2 0h1m1 0h1m-18 1h1m0 0h1m0 0h1m0 0h1m3 0h1m0 0h1m0 0h1m0 0h1m0 0h1m1 0h1m2 0h1m-18 1h1m0 0h1m2 0h1m1 0h1m0 0h1m0 0h1m5 0h1m-14 1h1m0 0h1m2 0h1m2 0h1m4 0h1m1 0h1m-16 1h1m0 0h1m4 0h1m1 0h1m0 0h1m6 0h1m-16 1h1m1 0h1m1 0h1m2 0h1m0 0h1m-6 1h1m0 0h1m4 0h1m1 0h1m-11 1h1m0 0h1m3 0h1m2 0h1m-6 1h1m3 3h1" transform="translate(0 .5)"/>
<path stroke="#4DB35A" stroke-width="1.15" d="M770 1987h1m1 1h1m1 1h1m2 0h1m-5 1h1m-6 1h1m5 0h1m1 0h1m-15 1h1m1 0h1m4 0h1m1 0h1m0 0h1m1 0h1m0 0h1m4 0h1m-15 1h1m1 0h1m0 0h1m2 0h1m0 0h1m0 0h1m1 0h1m0 0h1m0 0h1m-17 1h1m3 0h1m0 0h1m0 0h1m4 0h1m0 0h1m4 0h1m-18 1h1m1 0h1m3 0h1m8 0h1m1 0h1m-21 1h1m1 0h1m0 0h1m0 0h1m0 0h1m2 0h1m0 0h1m3 0h1m1 0h1m0 0h1m-18 1h1m6 0h1m3 0h1m1 0h1m0 0h1m1 0h1m4 0h1m-22 1h1m5 0h1m3 0h1m1 0h1m1 0h1m0 0h1m0 0h1m-17 1h1m2 0h1m0 0h1m2 0h1m1 0h1m0 0h1m1 0h1m0 0h1m0 0h1m0 0h1m0 0h1m3 0h1m-21 1h1m2 0h1m3 0h1m0 0h1m1 0h1m0 0h1m0 0h1m1 0h1m-13 1h1m2 0h1m1 0h1m1 0h1m4 0h1m0 0h1m1 0h1m0 0h1m-16 1h1m1 0h1m3 0h1m2 0h1m-14 1h1m0 0h1m1 0h1m2 0h1m3 0h1m1 0h1m1 0h1m-13 1h1m5 0h1m0 0h1m0 0h1m0 0h1m3 0h1m-13 1h1m1 0h1m1 0h1m3 0h1m0 0h1m1 0h1m0 0h1m-5 1h1m0 0h1m1 0h1m-13 1h1m2 0h1m1 0h1m0 0h1m-7 1h1m6 0h1m1 0h1m1 0h1m2 6h1m3 0h1m-3 1h1m1 0h1m-7 1h1m11 0h1m-16 1h1m9 0h1m2 0h1m-14 1h1m0 0h1m1 0h1m0 0h1m0 0h1m3 0h1m2 0h1m-11 1h1m2 0h1m4 0h1m0 0h1m-14 1h1m0 0h1m0 0h1m1 0h1m3 0h1m0 0h1m3 0h1m-14 1h1m1 0h1m1 0h1m0 0h1m0 0h1m0 0h1m1 0h1m1 0h1m0 0h1m-9 1h1m0 0h1m0 0h1m0 0h1m0 0h1m1 0h1m-7 1h1m1 0h1m0 0h1m2 0h1m1 0h1m-16 1h1m3 0h1m1 0h1m1 0h1m0 0h1m0 0h1m1 0h1m0 0h1m-13 1h1m4 0h1m0 0h1m1 0h1m4 0h1m0 0h1m-21 1h1m4 0h1m0 0h1m0 0h1m2 0h1m2 0h1m2 0h1m-15 1h1m6 0h1m0 0h1m4 0h1m-11 1h1m2 0h1m5 0h1m-8 1h1m0 0h1m7 0h1m-10 1h1m3 0h1m1 0h1m-9 1h1m6 0h1m-9 1h1" transform="translate(0 .5)"/>
<path stroke="#A8CC3C" stroke-width="1.15" d="M770 1988h1m2 0h1m1 1h1m-4 1h1m-8 2h1m0 0h1m1 0h1m0 0h1m2 0h1m1 0h1m-8 1h1m0 0h1m0 0h1m0 0h1m0 0h1m1 0h1m1 0h1m-10 1h1m0 0h1m0 0h1m2 0h1m0 0h1m1 0h1m0 0h1m-7 1h1m0 0h1m2 0h1m1 0h1m1 0h1m1 0h1m-17 1h1m3 0h1m1 0h1m0 0h1m3 0h1m1 0h1m-15 1h1m2 0h1m1 0h1m0 0h1m4 0h1m0 0h1m-11 1h1m4 0h1m2 0h1m0 0h1m0 0h1m-14 1h1m0 0h1m0 0h1m5 0h1m-9 1h1m2 0h1m1 0h1m1 0h1m0 0h1m0 0h1m0 0h1m-12 1h1m1 0h1m3 0h1m0 0h1m0 0h1m0 0h1m0 0h1m0 0h1m0 0h1m0 0h1m1 0h1m-15 1h1m1 0h1m2 0h1m1 0h1m0 0h1m-10 1h1m2 0h1m2 0h1m0 0h1m0 0h1m1 0h1m2 0h1m-13 1h1m4 0h1m1 0h1m-7 1h1m0 0h1m4 0h1m1 0h1m0 0h1m-12 2h1m5 0h1m4 0h1m2 0h1m-14 1h1m6 0h1m4 2h1m0 0h1m0 4h1m-4 3h1m0 0h1m4 0h1m-9 1h1m0 0h1m1 0h1m0 0h1m0 0h1m-7 1h1m0 0h1m3 0h1m0 0h1m0 0h1m-7 1h1m0 0h1m0 0h1m6 0h1m-10 1h1m2 0h1m-12 1h1m13 0h1m0 0h1m-7 1h1m-8 1h1m8 0h1m0 0h1m1 0h1m-8 1h1m0 0h1m0 0h1m-6 1h1m1 1h1m0 0h1m-9 1h1m4 0h1m3 0h1m-6 1h1m-1 1h1m-5 1h1" transform="translate(0 .5)"/>
<path stroke="#EADB35" stroke-width="1.15" d="M776 1990h1m-6 1h1m-1 1h1m-1 1h1m-6 1h1m0 0h1m0 0h1m0 0h1m0 0h1m1 0h1m0 0h1m-10 1h1m5 0h1m1 0h1m0 0h1m1 0h1m-13 1h1m3 0h1m1 0h1m2 0h1m2 0h1m-13 1h1m0 0h1m1 0h1m3 0h1m2 0h1m0 0h1m-12 1h1m0 0h1m3 0h1m0 0h1m1 0h1m3 0h1m-12 1h1m4 0h1m-6 1h1m0 0h1m0 0h1m0 0h1m1 0h1m-12 1h1m3 0h1m2 0h1m1 0h1m0 0h1m0 0h1m2 0h1m-10 1h1m6 0h1m-13 1h1m2 0h1m0 0h1m0 0h1m0 0h1m1 0h1m1 0h1m0 0h1m1 0h1m1 0h1m-13 1h1m1 0h1m0 0h1m0 0h1m-5 3h1m1 0h1m1 0h1m5 9h1m0 0h1m1 1h1m-2 3h1m-1 1h1m-3 1h1m0 0h1m-5 1h1m4 0h1m-7 1h1m1 0h1m-8 1h1m2 0h1m4 0h1m1 0h1m-11 1h1m1 0h1m1 1h1m-5 1h1m3 0h1m0 0h1m0 0h1m6 0h1m-9 1h1" transform="translate(0 .5)"/>
<path stroke="#F29B2A" stroke-width="1.15" d="M770 1992h1m2 1h1m-6 1h1m0 0h1m1 0h1m-6 1h1m0 0h1m-6 1h1m7 0h1m0 0h1m0 0h1m-9 1h1m5 0h1m1 0h1m0 0h1m-12 1h1m1 0h1m0 0h1m2 0h1m2 0h1m1 0h1m0 0h1m-13 1h1m2 0h1m1 0h1m0 0h1m0 0h1m2 0h1m-10 2h1m0 0h1m4 0h1m-7 1h1m3 0h1m-3 1h1m0 0h1m0 0h1m0 0h1m0 0h1m1 0h1m-7 1h1m-5 1h1m5 0h1m1 0h1m-8 2h1m14 10h1m-7 1h1m4 0h1m-6 2h1m1 0h1m-1 1h1m-3 2h1m-3 2h1" transform="translate(0 .5)"/>
<path stroke="#E3342A" stroke-width="1.15" d="M770 1991h1m-2 2h1m2 0h1m-7 1h1m4 0h1m1 0h1m-10 1h1m4 0h1m2 0h1m-3 1h1m0 0h1m-5 1h1m1 0h1m0 0h1m-9 1h1m0 0h1m2 0h1m0 0h1m2 0h1m0 0h1m-7 1h1m1 0h1m0 0h1m2 0h1m-6 1h1m3 0h1m-5 1h1m0 0h1m2 0h1m2 1h1m-10 1h1m2 0h1m-6 1h1m13 15h1m-7 2h1m2 1h1" transform="translate(0 .5)"/>
<path fill="#000" d="M611.5 1959.7h2V2163.8h-2zM617.5 2163.8v2H818.8v-2zM608 1959.7h5.5v3h-5.5zM609 1974.7h4.5v3h-4.5zM608 1989.7h5.5v4h-5.5zM610.5 1996.7h3v5h-3zM608 2010.7h5.5v3h-5.5zM608.5 2018.7h5v3h-5zM608.5 2033.7h5v5h-5zM609.5 2047.7h4v6h-4zM609.5 2058.7h4v6h-4zM610.5 2076.7h3v4h-3zM609.5 2096.7h4v2h-4zM609 2110.7h4.5v2h-4.5zM608.5 2115.7h5v3h-5zM608.5 2130.7h5v6h-5zM608.5 2152.7h5v4h-5zM618.5 2163.8v5h8v-5zM632.5 2163.8v3h5v-3zM641.5 2163.8v5h4v-5zM651.5 2163.8v5h5v-5zM676.5 2163.8v5h5v-5zM697.5 2163.8v5.5h6v-5.5zM712.5 2163.8v5.5h8v-5.5zM732.5 2163.8v4h8v-4zM749.5 2163.8v4.5h3v-4.5zM768.5 2163.8v4.5h4v-4.5zM788.5 2163.8v5.5h8v-5.5zM800.5 2163.8v5.5h4v-5.5zM813.5 2163.8v3h5v-3z"/>
<rect x="613.5" y="1951.7" width="205.3" height="212.1" fill="none" stroke="#000" stroke-width="1.6"/>
<polygon points="715.6,2022.6 784.7,1962.4 797.3,1986.1 729.9,2040.2" fill="none" stroke="#000" stroke-width="1.7" stroke-linejoin="miter"/>
<polygon points="729.9,2040.2 797.3,1986.1 809.4,2004.7 744.2,2061.7" fill="none" stroke="#000" stroke-width="1.7" stroke-linejoin="miter"/>
<text x="0" y="0" font-size="22.5" fill="#111" text-anchor="middle" transform="translate(596.5,2063.2) rotate(-90)">MitoTracker Red</text>
<text x="711.8" y="1942.7" font-size="22.5" text-anchor="middle" fill="#111">Single cells</text>
<text x="717.4" y="2195.3" font-size="22.5" text-anchor="middle" fill="#111">MitoTracker Green</text>
<path stroke="#1D4F9F" stroke-width="1.15" d="M251 2249h1m4 8h1m-31 2h1m-9 1h1m22 7h1m6 0h1m1 0h1m-47 1h1m63 1h1m-41 1h1m3 2h1m6 0h1m-15 1h1m16 0h1m9 0h1m-26 1h1m0 0h1m7 0h1m-12 1h1m8 0h1m3 0h1m2 0h1m3 0h1m-10 1h1m-12 1h1m3 0h1m1 0h1m6 0h1m13 0h1m-33 1h1m4 0h1m5 0h1m0 0h1m15 0h1m-34 1h1m7 0h1m2 0h1m4 0h1m3 0h1m1 0h1m-17 1h1m3 0h1m0 0h1m5 0h1m0 0h1m1 0h1m5 0h1m-23 1h1m2 0h1m2 0h1m1 0h1m2 0h1m1 0h1m1 0h1m5 0h1m6 0h1m-35 1h1m2 0h1m0 0h1m0 0h1m1 0h1m0 0h1m0 0h1m3 0h1m0 0h1m0 0h1m0 0h1m0 0h1m0 0h1m0 0h1m5 0h1m0 0h1m0 0h1m2 0h1m0 0h1m9 0h1m-38 1h1m2 0h1m0 0h1m3 0h1m2 0h1m1 0h1m4 0h1m1 0h1m-27 1h1m8 0h1m0 0h1m1 0h1m2 0h1m0 0h1m1 0h1m1 0h1m0 0h1m0 0h1m0 0h1m3 0h1m14 0h1m-44 1h1m1 0h1m2 0h1m1 0h1m2 0h1m2 0h1m1 0h1m0 0h1m0 0h1m0 0h1m0 0h1m1 0h1m3 0h1m2 0h1m11 0h1m8 0h1m-41 1h1m0 0h1m1 0h1m0 0h1m0 0h1m1 0h1m0 0h1m1 0h1m1 0h1m1 0h1m1 0h1m2 0h1m1 0h1m2 0h1m1 0h1m-37 1h1m2 0h1m5 0h1m3 0h1m0 0h1m3 0h1m1 0h1m0 0h1m0 0h1m0 0h1m0 0h1m3 0h1m7 0h1m0 0h1m19 0h1m-52 1h1m0 0h1m2 0h1m5 0h1m2 0h1m0 0h1m0 0h1m1 0h1m8 0h1m5 0h1m1 0h1m-41 1h1m2 0h1m12 0h1m1 0h1m2 0h1m1 0h1m3 0h1m0 0h1m4 0h1m-37 1h1m1 0h1m2 0h1m9 0h1m6 0h1m3 0h1m1 0h1m2 0h1m0 0h1m17 0h1m-55 1h1m4 0h1m0 0h1m3 0h1m18 0h1m2 0h1m1 0h1m3 0h1m5 0h1m0 0h1m5 0h1m-47 1h1m0 0h1m0 0h1m0 0h1m1 0h1m13 0h1m3 0h1m1 0h1m0 0h1m2 0h1m0 0h1m1 0h1m1 0h1m3 0h1m14 0h1m-58 1h1m0 0h1m3 0h1m1 0h1m17 0h1m4 0h1m0 0h1m0 0h1m0 0h1m6 0h1m2 0h1m6 0h1m-47 1h1m23 0h1m2 0h1m0 0h1m2 0h1m5 0h1m-48 1h1m6 0h1m0 0h1m0 0h1m2 0h1m13 0h1m2 0h1m0 0h1m1 0h1m0 0h1m1 0h1m0 0h1m0 0h1m0 0h1m0 0h1m0 0h1m1 0h1m2 0h1m11 0h1m0 0h1m-56 1h1m2 0h1m3 0h1m0 0h1m1 0h1m20 0h1m0 0h1m-49 1h1m13 0h1m2 0h1m1 0h1m0 0h1m1 0h1m1 0h1m1 0h1m19 0h1m1 0h1m0 0h1m0 0h1m0 0h1m2 0h1m0 0h1m7 0h1m1 0h1m2 0h1m-54 1h1m2 0h1m8 0h1m8 0h1m3 0h1m4 0h1m0 0h1m3 0h1m1 0h1m7 0h1m9 0h1m-64 1h1m4 0h1m1 0h1m1 0h1m0 0h1m1 0h1m0 0h1m0 0h1m0 0h1m21 0h1m8 0h1m2 0h1m4 0h1m3 0h1m-58 1h1m6 0h1m0 0h1m2 0h1m0 0h1m0 0h1m21 0h1m0 0h1m0 0h1m0 0h1m0 0h1m1 0h1m0 0h1m2 0h1m0 0h1m2 0h1m17 0h1m-64 1h1m4 0h1m2 0h1m18 0h1m1 0h1m0 0h1m1 0h1m3 0h1m0 0h1m1 0h1m0 0h1m2 0h1m1 0h1m0 0h1m-43 1h1m0 0h1m2 0h1m20 0h1m4 0h1m2 0h1m3 0h1m10 0h1m8 0h1m-72 1h1m7 0h1m2 0h1m0 0h1m0 0h1m1 0h1m0 0h1m1 0h1m1 0h1m11 0h1m8 0h1m2 0h1m1 0h1m0 0h1m0 0h1m1 0h1m2 0h1m0 0h1m17 0h1m-63 1h1m3 0h1m3 0h1m2 0h1m7 0h1m4 0h1m1 0h1m1 0h1m0 0h1m4 0h1m0 0h1m0 0h1m0 0h1m0 0h1m1 0h1m0 0h1m1 0h1m0 0h1m1 0h1m5 0h1m-59 1h1m1 0h1m2 0h1m1 0h1m2 0h1m0 0h1m2 0h1m17 0h1m6 0h1m2 0h1m1 0h1m0 0h1m1 0h1m3 0h1m4 0h1m3 0h1m11 0h1m-67 1h1m1 0h1m0 0h1m1 0h1m0 0h1m0 0h1m1 0h1m21 0h1m1 0h1m0 0h1m4 0h1m0 0h1m2 0h1m1 0h1m0 0h1m-45 1h1m1 0h1m0 0h1m2 0h1m1 0h1m0 0h1m2 0h1m3 0h1m0 0h1m11 0h1m0 0h1m1 0h1m3 0h1m0 0h1m0 0h1m2 0h1m0 0h1m3 0h1m0 0h1m-50 1h1m1 0h1m0 0h1m0 0h1m2 0h1m2 0h1m0 0h1m0 0h1m0 0h1m1 0h1m10 0h1m3 0h1m1 0h1m1 0h1m0 0h1m0 0h1m1 0h1m0 0h1m0 0h1m0 0h1m4 0h1m4 0h1m-53 1h1m1 0h1m0 0h1m0 0h1m0 0h1m0 0h1m0 0h1m1 0h1m4 0h1m0 0h1m0 0h1m0 0h1m3 0h1m6 0h1m0 0h1m4 0h1m1 0h1m2 0h1m0 0h1m2 0h1m3 0h1m5 0h1m-57 1h1m2 0h1m2 0h1m0 0h1m0 0h1m0 0h1m4 0h1m2 0h1m3 0h1m0 0h1m0 0h1m12 0h1m0 0h1m2 0h1m0 0h1m1 0h1m1 0h1m1 0h1m1 0h1m3 0h1m1 0h1m1 0h1m-52 1h1m3 0h1m0 0h1m0 0h1m1 0h1m1 0h1m11 0h1m2 0h1m2 0h1m2 0h1m0 0h1m1 0h1m0 0h1m2 0h1m6 0h1m0 0h1m7 0h1m-58 1h1m3 0h1m5 0h1m0 0h1m7 0h1m7 0h1m2 0h1m6 0h1m1 0h1m1 0h1m0 0h1m0 0h1m1 0h1m3 0h1m-59 1h1m9 0h1m2 0h1m1 0h1m0 0h1m0 0h1m0 0h1m0 0h1m0 0h1m0 0h1m0 0h1m6 0h1m0 0h1m7 0h1m0 0h1m0 0h1m0 0h1m7 0h1m1 0h1m1 0h1m0 0h1m1 0h1m3 0h1m-57 1h1m5 0h1m1 0h1m0 0h1m4 0h1m0 0h1m0 0h1m0 0h1m1 0h1m0 0h1m2 0h1m5 0h1m4 0h1m4 0h1m0 0h1m0 0h1m2 0h1m0 0h1m0 0h1m0 0h1m5 0h1m2 0h1m0 0h1m7 0h1m-58 1h1m0 0h1m1 0h1m1 0h1m1 0h1m0 0h1m3 0h1m2 0h1m14 0h1m0 0h1m0 0h1m2 0h1m6 0h1m-50 1h1m6 0h1m0 0h1m2 0h1m0 0h1m1 0h1m3 0h1m1 0h1m17 0h1m6 0h1m1 0h1m0 0h1m-52 1h1m17 0h1m3 0h1m0 0h1m0 0h1m12 0h1m2 0h1m0 0h1m1 0h1m1 0h1m-47 1h1m7 0h1m1 0h1m0 0h1m9 0h1m0 0h1m0 0h1m14 0h1m0 0h1m3 0h1m1 0h1m2 0h1m0 0h1m0 0h1m18 0h1m-55 1h1m5 0h1m0 0h1m0 0h1m10 0h1m6 0h1m0 0h1m0 0h1m0 0h1m1 0h1m1 0h1m0 0h1m2 0h1m3 0h1m9 0h1m-51 1h1m0 0h1m2 0h1m3 0h1m1 0h1m0 0h1m5 0h1m5 0h1m0 0h1m0 0h1m0 0h1m0 0h1m0 0h1m2 0h1m0 0h1m0 0h1m1 0h1m1 0h1m2 0h1m10 0h1m-59 1h1m8 0h1m1 0h1m4 0h1m3 0h1m5 0h1m2 0h1m0 0h1m0 0h1m0 0h1m0 0h1m1 0h1m2 0h1m19 0h1m-69 1h1m9 0h1m0 0h1m1 0h1m1 0h1m2 0h1m1 0h1m0 0h1m0 0h1m0 0h1m5 0h1m11 0h1m2 0h1m0 0h1m2 0h1m2 0h1m2 0h1m-49 1h1m8 0h1m1 0h1m0 0h1m0 0h1m0 0h1m1 0h1m4 0h1m2 0h1m3 0h1m2 0h1m1 0h1m0 0h1m0 0h1m1 0h1m0 0h1m1 0h1m3 0h1m3 0h1m10 0h1m-81 1h1m26 0h1m1 0h1m1 0h1m0 0h1m3 0h1m1 0h1m2 0h1m6 0h1m6 0h1m1 0h1m3 0h1m2 0h1m8 0h1m16 0h1m-69 1h1m0 0h1m5 0h1m3 0h1m0 0h1m1 0h1m3 0h1m0 0h1m2 0h1m0 0h1m0 0h1m1 0h1m0 0h1m1 0h1m0 0h1m3 0h1m7 0h1m2 0h1m0 0h1m4 0h1m-57 1h1m2 0h1m5 0h1m3 0h1m2 0h1m1 0h1m2 0h1m0 0h1m3 0h1m1 0h1m3 0h1m5 0h1m0 0h1m0 0h1m3 0h1m-33 1h1m1 0h1m0 0h1m0 0h1m1 0h1m0 0h1m0 0h1m1 0h1m1 0h1m0 0h1m2 0h1m4 0h1m0 0h1m0 0h1m0 0h1m3 0h1m-33 1h1m1 0h1m6 0h1m0 0h1m2 0h1m2 0h1m0 0h1m1 0h1m0 0h1m0 0h1m1 0h1m0 0h1m4 0h1m-24 1h1m0 0h1m2 0h1m3 0h1m1 0h1m2 0h1m0 0h1m1 0h1m2 0h1m1 0h1m2 0h1m-42 1h1m12 0h1m2 0h1m6 0h1m0 0h1m0 0h1m3 0h1m0 0h1m0 0h1m3 0h1m1 0h1m1 0h1m5 0h1m1 0h1m-34 1h1m7 0h1m0 0h1m2 0h1m0 0h1m2 0h1m0 0h1m1 0h1m1 0h1m1 0h1m8 0h1m4 0h1m-53 1h1m3 0h1m2 0h1m8 0h1m7 0h1m0 0h1m0 0h1m6 0h1m0 0h1m1 0h1m-24 1h1m1 0h1m1 0h1m6 0h1m0 0h1m2 0h1m1 0h1m1 0h1m3 0h1m1 0h1m4 0h1m-30 1h1m5 0h1m2 0h1m3 0h1m0 0h1m0 0h1m0 0h1m0 0h1m3 0h1m5 0h1m1 0h1m-29 1h1m1 0h1m5 0h1m3 0h1m0 0h1m0 0h1m1 0h1m10 0h1m-37 1h1m1 0h1m12 0h1m2 0h1m1 0h1m3 0h1m1 0h1m-35 1h1m20 0h1m2 0h1m1 0h1m0 0h1m0 0h1m6 0h1m0 0h1m-30 1h1m0 0h1m4 0h1m1 0h1m1 0h1m8 0h1m0 0h1m0 0h1m-22 1h1m17 0h1m0 0h1m0 0h1m8 0h1m-26 1h1m21 0h1m15 0h1m7 0h1m-57 1h1m15 0h1m22 0h1m-25 2h1m15 0h1m-29 1h1m-1 1h1m14 0h1m4 0h1m5 0h1m12 0h1m-31 3h1m14 0h1m1 1h1m-31 1h1m3 0h1m2 0h1m16 0h1m-29 1h1m16 0h1m-41 3h1m25 1h1m-26 1h1m8 0h1m18 2h1m15 1h1m-37 1h1m12 1h1m-7 1h1m2 0h1m-9 1h1m14 3h1m-24 1h1m21 0h1m-2 2h1m6 0h1m-15 1h1m-20 1h1m-1 5h1m-22 2h1m32 0h1m0 1h1m-27 2h1m33 0h1m-28 1h1m27 0h1m-35 1h1m10 0h1m14 0h1m-4 2h1m-14 1h1m16 1h1m-6 1h1m-4 1h1m-21 3h1m20 0h1m-16 1h1m5 0h1m-15 1h1m-3 1h1m14 0h1m-15 2h1m8 0h1m-2 2h1m5 3h1m-26 1h1m1 0h1m12 0h1m3 1h1m-17 4h1m16 0h1m-6 2h1m9 1h1m-9 1h1m-7 3h1" transform="translate(0 .5)"/>
<path stroke="#2270B5" stroke-width="1.15" d="M220 2283h1m1 0h1m-4 2h1m0 0h1m0 0h1m1 0h1m-5 1h1m0 0h1m0 0h1m0 0h1m-7 1h1m3 0h1m2 0h1m0 0h1m2 0h1m0 0h1m0 0h1m-15 1h1m0 0h1m0 0h1m0 0h1m3 0h1m0 0h1m0 0h1m0 0h1m1 0h1m0 0h1m-15 1h1m0 0h1m6 0h1m3 0h1m0 0h1m0 0h1m0 0h1m0 0h1m-22 1h1m2 0h1m1 0h1m4 0h1m0 0h1m1 0h1m1 0h1m2 0h1m3 0h1m0 0h1m-22 1h1m12 0h1m5 0h1m-18 1h1m11 0h1m2 0h1m0 0h1m1 0h1m-25 1h1m18 0h1m2 0h1m-21 1h1m0 0h1m1 0h1m13 0h1m1 0h1m-23 1h1m18 0h1m1 0h1m2 0h1m0 0h1m-27 1h1m4 0h1m13 0h1m0 0h1m1 0h1m0 0h1m0 0h1m-22 1h1m6 0h1m3 0h1m4 0h1m2 0h1m-25 1h1m4 0h1m0 0h1m10 0h1m5 0h1m-22 1h1m4 0h1m14 0h1m0 0h1m0 0h1m4 0h1m-30 1h1m0 0h1m2 0h1m2 0h1m12 0h1m3 0h1m1 0h1m-26 1h1m1 0h1m0 0h1m9 0h1m-10 1h1m14 0h1m1 0h1m0 0h1m0 0h1m4 0h1m-31 1h1m0 0h1m1 0h1m0 0h1m4 0h1m8 0h1m1 0h1m5 0h1m0 0h1m0 0h1m-26 1h1m0 0h1m1 0h1m0 0h1m1 0h1m1 0h1m1 0h1m1 0h1m0 0h1m0 0h1m1 0h1m4 0h1m1 0h1m-28 1h1m1 0h1m1 0h1m0 0h1m0 0h1m4 0h1m6 0h1m2 0h1m10 0h1m-31 1h1m0 0h1m1 0h1m2 0h1m2 0h1m0 0h1m0 0h1m5 0h1m0 0h1m0 0h1m6 0h1m-23 1h1m1 0h1m3 0h1m2 0h1m1 0h1m0 0h1m1 0h1m2 0h1m0 0h1m0 0h1m3 0h1m0 0h1m0 0h1m-30 1h1m2 0h1m0 0h1m1 0h1m2 0h1m4 0h1m1 0h1m0 0h1m0 0h1m0 0h1m2 0h1m1 0h1m1 0h1m1 0h1m-28 1h1m1 0h1m7 0h1m0 0h1m3 0h1m3 0h1m1 0h1m4 0h1m-19 1h1m5 0h1m0 0h1m2 0h1m5 0h1m1 0h1m0 0h1m0 0h1m1 0h1m-28 1h1m0 0h1m2 0h1m0 0h1m2 0h1m1 0h1m0 0h1m4 0h1m2 0h1m2 0h1m2 0h1m0 0h1m-30 1h1m8 0h1m3 0h1m3 0h1m0 0h1m0 0h1m0 0h1m2 0h1m3 0h1m0 0h1m-24 1h1m4 0h1m0 0h1m4 0h1m1 0h1m0 0h1m1 0h1m1 0h1m0 0h1m2 0h1m0 0h1m0 0h1m-32 1h1m7 0h1m0 0h1m1 0h1m1 0h1m1 0h1m0 0h1m0 0h1m3 0h1m1 0h1m3 0h1m0 0h1m0 0h1m0 0h1m-23 1h1m1 0h1m0 0h1m1 0h1m1 0h1m0 0h1m2 0h1m1 0h1m0 0h1m1 0h1m0 0h1m2 0h1m-18 1h1m0 0h1m2 0h1m0 0h1m0 0h1m0 0h1m2 0h1m0 0h1m-14 1h1m4 0h1m2 0h1m3 0h1m2 0h1m0 0h1m0 0h1m0 0h1m-25 1h1m3 0h1m1 0h1m0 0h1m3 0h1m0 0h1m0 0h1m4 0h1m3 0h1m3 0h1m-22 1h1m2 0h1m0 0h1m0 0h1m2 0h1m1 0h1m1 0h1m2 0h1m-18 1h1m0 0h1m0 0h1m0 0h1m1 0h1m4 0h1m2 0h1m0 0h1m-15 1h1m2 0h1m2 0h1m0 0h1m1 0h1m1 0h1m0 0h1m2 0h1m0 0h1m0 0h1m0 0h1m-20 1h1m0 0h1m0 0h1m2 0h1m2 0h1m1 0h1m2 0h1m0 0h1m1 0h1m1 0h1m-14 1h1m1 0h1m0 0h1m0 0h1m0 0h1m1 0h1m-11 1h1m0 0h1m2 0h1m1 0h1m0 0h1m0 0h1m2 0h1m1 0h1m-16 1h1m1 0h1m0 0h1m3 0h1m1 0h1m0 0h1m0 0h1m0 0h1m0 0h1m0 0h1m-17 1h1m3 0h1m1 0h1m5 0h1m0 0h1m1 0h1m1 0h1m-18 1h1m6 0h1m0 0h1m4 0h1m0 0h1m-10 1h1m5 0h1m0 0h1m0 0h1m-12 1h1m4 0h1m0 0h1m4 0h1m-6 1h1m1 0h1m2 0h1m-8 1h1" transform="translate(0 .5)"/>
<path stroke="#2E9AA6" stroke-width="1.15" d="M222 2285h1m-4 2h1m3 0h1m2 0h1m-6 1h1m2 0h1m4 0h1m-14 1h1m0 0h1m0 0h1m0 0h1m0 0h1m3 0h1m0 0h1m2 0h1m-16 1h1m1 0h1m1 0h1m0 0h1m5 0h1m1 0h1m-16 1h1m1 0h1m0 0h1m0 0h1m2 0h1m2 0h1m1 0h1m0 0h1m0 0h1m0 0h1m0 0h1m-17 1h1m5 0h1m0 0h1m0 0h1m1 0h1m4 0h1m0 0h1m1 0h1m-21 1h1m1 0h1m1 0h1m0 0h1m3 0h1m0 0h1m5 0h1m0 0h1m1 0h1m-18 1h1m6 0h1m1 0h1m2 0h1m0 0h1m-3 1h1m-14 1h1m0 0h1m0 0h1m1 0h1m3 0h1m0 0h1m0 0h1m0 0h1m0 0h1m0 0h1m0 0h1m1 0h1m0 0h1m0 0h1m-18 1h1m3 0h1m2 0h1m0 0h1m2 0h1m2 0h1m1 0h1m2 0h1m-27 1h1m3 0h1m4 0h1m7 0h1m3 0h1m-22 1h1m4 0h1m0 0h1m0 0h1m1 0h1m3 0h1m18 0h1m-31 1h1m2 0h1m0 0h1m0 0h1m1 0h1m4 0h1m0 0h1m2 0h1m0 0h1m1 0h1m-18 1h1m0 0h1m1 0h1m1 0h1m2 0h1m0 0h1m4 0h1m2 0h1m3 0h1m-21 1h1m0 0h1m0 0h1m3 0h1m0 0h1m0 0h1m1 0h1m2 0h1m0 0h1m1 0h1m-19 1h1m0 0h1m4 0h1m0 0h1m2 0h1m1 0h1m0 0h1m0 0h1m-17 1h1m0 0h1m0 0h1m2 0h1m0 0h1m0 0h1m1 0h1m1 0h1m3 0h1m2 0h1m3 0h1m-22 1h1m0 0h1m0 0h1m5 0h1m4 0h1m1 0h1m1 0h1m0 0h1m2 0h1m-22 1h1m2 0h1m0 0h1m1 0h1m12 0h1m0 0h1m-16 1h1m1 0h1m8 0h1m1 0h1m0 0h1m0 0h1m-23 1h1m3 0h1m1 0h1m7 0h1m1 0h1m1 0h1m7 0h1m3 0h1m-29 1h1m0 0h1m0 0h1m7 0h1m0 0h1m1 0h1m3 0h1m9 0h1m-28 1h1m11 0h1m5 0h1m0 0h1m0 0h1m1 0h1m-9 1h1m2 0h1m1 0h1m3 0h1m-19 1h1m4 0h1m10 0h1m1 0h1m-14 1h1m5 0h1m0 0h1m0 0h1m1 0h1m0 0h1m1 0h1m0 0h1m-16 1h1m1 0h1m1 0h1m1 0h1m1 0h1m0 0h1m1 0h1m0 0h1m-13 1h1m1 0h1m2 0h1m2 0h1m1 0h1m0 0h1m1 0h1m-7 1h1m0 0h1m0 0h1m0 0h1m1 0h1m1 0h1m-17 1h1m1 0h1m1 0h1m2 0h1m1 0h1m0 0h1m0 0h1m0 0h1m5 0h1m-22 1h1m0 0h1m2 0h1m1 0h1m0 0h1m2 0h1m0 0h1m0 0h1m1 0h1m1 0h1m-13 1h1m2 0h1m0 0h1m0 0h1m1 0h1m3 0h1m0 0h1m-15 1h1m0 0h1m5 0h1m1 0h1m2 0h1m0 0h1m0 0h1m-14 1h1m1 0h1m0 0h1m0 0h1m1 0h1m0 0h1m0 0h1m0 0h1m0 0h1m-9 1h1m1 0h1m0 0h1m1 0h1m1 0h1m-9 1h1m2 0h1m0 0h1m1 0h1m2 0h1m-10 1h1m5 0h1m1 0h1m-8 1h1m0 0h1m1 0h1m-5 1h1m1 0h1m2 0h1m0 0h1m-6 1h1m6 0h1m0 0h1m-11 1h1m0 0h1m2 0h1m-5 1h1" transform="translate(0 .5)"/>
<path stroke="#4DB35A" stroke-width="1.15" d="M221 2287h1m6 0h1m-11 1h1m2 0h1m-4 1h1m0 0h1m-5 1h1m0 0h1m0 0h1m2 0h1m0 0h1m0 0h1m0 0h1m-15 1h1m6 0h1m1 0h1m1 0h1m2 0h1m0 0h1m1 0h1m-9 1h1m2 0h1m0 0h1m0 0h1m1 0h1m0 0h1m0 0h1m-20 1h1m0 0h1m3 0h1m1 0h1m1 0h1m1 0h1m1 0h1m2 0h1m0 0h1m0 0h1m-18 1h1m0 0h1m0 0h1m0 0h1m1 0h1m1 0h1m0 0h1m2 0h1m0 0h1m0 0h1m0 0h1m0 0h1m-18 1h1m0 0h1m2 0h1m0 0h1m0 0h1m0 0h1m6 0h1m0 0h1m0 0h1m2 0h1m1 0h1m2 0h1m-23 1h1m0 0h1m0 0h1m0 0h1m0 0h1m0 0h1m3 0h1m2 0h1m1 0h1m0 0h1m-17 1h1m2 0h1m2 0h1m0 0h1m0 0h1m1 0h1m0 0h1m0 0h1m4 0h1m0 0h1m-18 1h1m8 0h1m0 0h1m1 0h1m0 0h1m1 0h1m-20 1h1m3 0h1m5 0h1m1 0h1m2 0h1m-14 1h1m1 0h1m6 0h1m0 0h1m4 0h1m0 0h1m-17 1h1m0 0h1m3 0h1m0 0h1m3 0h1m0 0h1m2 0h1m2 0h1m0 0h1m-20 1h1m4 0h1m2 0h1m0 0h1m1 0h1m2 0h1m0 0h1m0 0h1m-20 1h1m1 0h1m0 0h1m0 0h1m1 0h1m1 0h1m2 0h1m0 0h1m1 0h1m2 0h1m1 0h1m5 0h1m-23 1h1m0 0h1m1 0h1m3 0h1m3 0h1m0 0h1m2 0h1m2 0h1m-18 1h1m2 0h1m5 0h1m1 0h1m1 0h1m0 0h1m-15 1h1m1 0h1m1 0h1m5 0h1m1 0h1m-14 1h1m4 0h1m0 0h1m11 0h1m-9 1h1m-8 1h1m11 0h1m-12 1h1m8 0h1m1 0h1m-9 1h1m5 0h1m-7 1h1m2 0h1m0 0h1m1 0h1m1 0h1m6 0h1m3 0h1m-10 1h1m-3 1h1m6 0h1m-12 1h1m0 0h1m5 0h1m1 0h1m-9 1h1m0 0h1m2 0h1m0 0h1m0 0h1m-7 1h1m3 0h1m-9 1h1m3 0h1m7 0h1m-10 1h1m3 0h1m-4 1h1m0 0h1m0 0h1m-10 1h1m0 0h1m1 0h1m4 0h1m0 0h1m0 0h1m0 0h1m-6 1h1m0 0h1m1 0h1m-7 1h1m4 0h1m2 0h1m-6 1h1m0 1h1m2 1h1" transform="translate(0 .5)"/>
<path stroke="#A8CC3C" stroke-width="1.15" d="M223 2287h1m-6 1h1m-3 1h1m5 0h1m3 0h1m-8 1h1m0 0h1m0 0h1m-9 1h1m1 0h1m1 0h1m4 0h1m-5 1h1m1 0h1m1 0h1m1 0h1m0 0h1m-14 1h1m1 0h1m5 0h1m0 0h1m0 0h1m1 0h1m1 0h1m-16 1h1m0 0h1m4 0h1m4 0h1m-11 1h1m4 0h1m1 0h1m4 0h1m-16 1h1m4 0h1m1 0h1m0 0h1m0 0h1m0 0h1m1 0h1m-13 1h1m0 0h1m1 0h1m1 0h1m0 0h1m1 0h1m5 0h1m-11 1h1m0 0h1m0 0h1m1 0h1m0 0h1m1 0h1m0 0h1m-13 1h1m0 0h1m0 0h1m2 0h1m0 0h1m0 0h1m1 0h1m0 0h1m1 0h1m0 0h1m-14 1h1m1 0h1m0 0h1m0 0h1m0 0h1m0 0h1m2 0h1m2 0h1m0 0h1m-15 1h1m0 0h1m0 0h1m1 0h1m0 0h1m1 0h1m0 0h1m-10 1h1m2 0h1m0 0h1m2 0h1m0 0h1m1 0h1m0 0h1m2 0h1m-13 1h1m3 0h1m2 0h1m-5 1h1m1 0h1m0 0h1m3 0h1m-15 1h1m5 0h1m2 0h1m1 0h1m0 0h1m1 0h1m-16 1h1m8 0h1m1 0h1m-1 1h1m-1 1h1m12 0h1m-13 1h1m1 2h1m7 0h1m-8 1h1m1 0h1m0 2h1m4 0h1m-11 1h1m2 0h1m2 1h1m0 0h1m-8 1h1m1 0h1m1 0h1m4 0h1m1 0h1m-11 1h1m0 1h1m-7 1h1m3 0h1m0 0h1m-3 1h1m3 0h1m3 0h1m-1 1h1m-9 2h1m-1 2h1" transform="translate(0 .5)"/>
<path stroke="#EADB35" stroke-width="1.15" d="M218 2290h1m0 0h1m3 0h1m-8 1h1m2 0h1m0 0h1m0 0h1m-5 1h1m0 0h1m0 0h1m2 0h1m-7 1h1m0 0h1m3 0h1m0 0h1m1 0h1m1 0h1m-12 1h1m0 0h1m2 0h1m0 0h1m2 0h1m0 0h1m-13 1h1m3 0h1m0 0h1m1 0h1m4 0h1m-16 1h1m2 0h1m2 0h1m0 0h1m2 0h1m3 0h1m-11 1h1m3 0h1m1 0h1m1 0h1m-8 1h1m0 0h1m1 0h1m2 0h1m-9 1h1m0 0h1m0 0h1m0 0h1m1 0h1m3 0h1m-11 1h1m2 0h1m1 0h1m2 0h1m0 0h1m0 0h1m0 0h1m1 0h1m-18 1h1m3 0h1m0 0h1m3 0h1m-7 1h1m0 0h1m1 0h1m4 0h1m-7 1h1m5 0h1m-7 1h1m0 0h1m1 0h1m3 0h1m0 0h1m-9 1h1m0 0h1m0 1h1m2 1h1m-11 1h1m4 1h1m0 0h1m0 0h1m3 1h1m4 0h1m4 0h1m-3 1h1m-2 6h1m-5 1h1m-9 2h1m-2 1h1m4 1h1m3 2h1m-6 1h1" transform="translate(0 .5)"/>
<path stroke="#F29B2A" stroke-width="1.15" d="M220 2291h1m-4 1h1m3 0h1m7 0h1m-19 1h1m3 0h1m0 0h1m0 0h1m0 0h1m2 0h1m-10 1h1m3 0h1m5 0h1m2 0h1m-13 1h1m4 0h1m1 0h1m-10 1h1m0 0h1m0 0h1m1 0h1m0 0h1m1 0h1m1 0h1m0 0h1m-8 1h1m0 0h1m1 0h1m0 0h1m0 0h1m-9 1h1m0 0h1m0 0h1m3 0h1m0 0h1m4 0h1m-12 1h1m1 0h1m0 0h1m4 0h1m-11 1h1m4 0h1m2 0h1m0 0h1m-2 2h1m-7 2h1m4 0h1m1 0h1m-4 1h1m1 0h1m-7 1h1m0 0h1m1 0h1m1 0h1m-4 2h1m4 8h1m-3 4h1m0 1h1" transform="translate(0 .5)"/>
<path stroke="#E3342A" stroke-width="1.15" d="M218 2290h1m-6 3h1m3 0h1m1 0h1m0 0h1m-5 1h1m7 0h1m-9 1h1m7 0h1m-11 1h1m3 0h1m0 0h1m-6 1h1m0 0h1m1 0h1m-7 1h1m1 0h1m4 0h1m-8 1h1m2 0h1m0 0h1m3 0h1m-6 1h1m0 0h1m0 0h1m0 0h1m-7 1h1m3 0h1m-3 1h1m0 0h1m0 0h1m0 1h1m-8 3h1m9 11h1m4 0h1m-10 3h1" transform="translate(0 .5)"/>
<path fill="#000" d="M68.7 2250.5h2V2461h-2zM74.7 2461v2H280.9v-2zM67.7 2250.5h3v5h-3zM65.2 2264.5h5.5v4h-5.5zM65.7 2271.5h5v3h-5zM66.7 2283.5h4v3h-4zM65.7 2289.5h5v5h-5zM66.7 2301.5h4v2h-4zM67.7 2319.5h3v3h-3zM65.2 2331.5h5.5v3h-5.5zM65.7 2341.5h5v4h-5zM66.2 2352.5h4.5v6h-4.5zM66.2 2367.5h4.5v3h-4.5zM66.7 2386.5h4v3h-4zM65.7 2398.5h5v3h-5zM67.7 2413.5h3v4h-3zM66.7 2429.5h4v2h-4zM66.2 2436.5h4.5v3h-4.5zM66.7 2451.5h4v3h-4zM75.7 2461v5h8v-5zM95.7 2461v3h6v-3zM121.7 2461v4.5h8v-4.5zM145.7 2461v4h4v-4zM161.7 2461v3h4v-3zM169.7 2461v4.5h6v-4.5zM191.7 2461v5.5h3v-5.5zM198.7 2461v5h4v-5zM218.7 2461v5.5h5v-5.5zM229.7 2461v3h3v-3zM244.7 2461v4h4v-4zM257.7 2461v5h6v-5zM275.7 2461v4.5h4v-4.5z"/>
<rect x="70.7" y="2242.5" width="210.2" height="218.5" fill="none" stroke="#000" stroke-width="1.6"/>
<polygon points="175.6,2315.4 245.8,2253.7 259,2278.1 189.2,2334.4" fill="none" stroke="#000" stroke-width="1.7" stroke-linejoin="miter"/>
<polygon points="189.2,2334.4 259,2278.1 272.3,2296.7 204.9,2356.2" fill="none" stroke="#000" stroke-width="1.7" stroke-linejoin="miter"/>
<text x="172" y="2235.8" font-size="22.5" text-anchor="middle" fill="#111">Ctrl</text>
<path stroke="#1D4F9F" stroke-width="1.15" d="M539 2266h1m-32 1h1m-6 1h1m9 0h1m15 0h1m-22 1h1m-5 1h1m0 0h1m-5 1h1m5 0h1m6 0h1m-14 3h1m0 0h1m5 0h1m9 0h1m-30 1h1m11 0h1m0 0h1m0 0h1m5 0h1m-28 1h1m13 0h1m0 0h1m1 0h1m-36 1h1m22 0h1m0 0h1m5 0h1m6 0h1m0 0h1m0 0h1m0 0h1m1 0h1m3 0h1m30 0h1m-52 1h1m4 0h1m3 0h1m4 0h1m0 0h1m-23 1h1m5 0h1m7 0h1m1 0h1m4 0h1m12 0h1m-25 1h1m0 0h1m3 0h1m0 0h1m0 0h1m2 0h1m-15 1h1m0 0h1m1 0h1m2 0h1m0 0h1m1 0h1m5 0h1m0 0h1m0 0h1m21 0h1m-44 1h1m0 0h1m1 0h1m0 0h1m0 0h1m0 0h1m5 0h1m0 0h1m1 0h1m1 0h1m0 0h1m0 0h1m0 0h1m21 0h1m-45 1h1m2 0h1m2 0h1m1 0h1m0 0h1m0 0h1m3 0h1m1 0h1m0 0h1m0 0h1m1 0h1m2 0h1m2 0h1m1 0h1m-40 1h1m9 0h1m0 0h1m2 0h1m0 0h1m0 0h1m1 0h1m1 0h1m0 0h1m0 0h1m1 0h1m0 0h1m0 0h1m0 0h1m0 0h1m0 0h1m2 0h1m0 0h1m0 0h1m0 0h1m2 0h1m17 0h1m-51 1h1m3 0h1m2 0h1m1 0h1m1 0h1m0 0h1m4 0h1m1 0h1m5 0h1m1 0h1m3 0h1m2 0h1m0 0h1m-40 1h1m3 0h1m4 0h1m9 0h1m5 0h1m2 0h1m0 0h1m0 0h1m0 0h1m4 0h1m8 0h1m-50 1h1m2 0h1m1 0h1m4 0h1m2 0h1m1 0h1m6 0h1m5 0h1m3 0h1m5 0h1m0 0h1m3 0h1m-38 1h1m3 0h1m0 0h1m15 0h1m1 0h1m0 0h1m1 0h1m1 0h1m2 0h1m-32 1h1m0 0h1m4 0h1m10 0h1m3 0h1m1 0h1m1 0h1m16 0h1m6 0h1m-53 1h1m0 0h1m2 0h1m1 0h1m1 0h1m0 0h1m3 0h1m16 0h1m0 0h1m3 0h1m-66 1h1m33 0h1m2 0h1m13 0h1m6 0h1m2 0h1m0 0h1m0 0h1m2 0h1m0 0h1m14 0h1m-49 1h1m1 0h1m18 0h1m0 0h1m0 0h1m1 0h1m1 0h1m17 0h1m3 0h1m19 0h1m-76 1h1m3 0h1m25 0h1m1 0h1m0 0h1m0 0h1m1 0h1m0 0h1m5 0h1m-52 1h1m4 0h1m1 0h1m4 0h1m2 0h1m21 0h1m2 0h1m1 0h1m1 0h1m-34 1h1m0 0h1m1 0h1m20 0h1m0 0h1m1 0h1m1 0h1m0 0h1m0 0h1m15 0h1m-56 1h1m8 0h1m1 0h1m0 0h1m2 0h1m19 0h1m2 0h1m0 0h1m0 0h1m1 0h1m0 0h1m6 0h1m4 0h1m-57 1h1m2 0h1m2 0h1m0 0h1m1 0h1m0 0h1m22 0h1m1 0h1m0 0h1m1 0h1m0 0h1m0 0h1m1 0h1m6 0h1m4 0h1m-52 1h1m2 0h1m0 0h1m0 0h1m1 0h1m21 0h1m0 0h1m0 0h1m5 0h1m4 0h1m1 0h1m9 0h1m-51 1h1m2 0h1m0 0h1m17 0h1m6 0h1m1 0h1m1 0h1m3 0h1m4 0h1m2 0h1m6 0h1m-58 1h1m4 0h1m0 0h1m0 0h1m0 0h1m0 0h1m0 0h1m21 0h1m2 0h1m7 0h1m5 0h1m-47 1h1m0 0h1m4 0h1m21 0h1m0 0h1m0 0h1m1 0h1m1 0h1m2 0h1m0 0h1m0 0h1m0 0h1m1 0h1m-50 1h1m1 0h1m0 0h1m3 0h1m1 0h1m3 0h1m0 0h1m20 0h1m2 0h1m2 0h1m31 0h1m-69 1h1m1 0h1m0 0h1m0 0h1m3 0h1m19 0h1m1 0h1m0 0h1m3 0h1m0 0h1m0 0h1m2 0h1m1 0h1m3 0h1m0 0h1m-50 1h1m0 0h1m1 0h1m5 0h1m23 0h1m3 0h1m1 0h1m0 0h1m0 0h1m0 0h1m5 0h1m2 0h1m2 0h1m1 0h1m-61 1h1m6 0h1m0 0h1m3 0h1m6 0h1m11 0h1m1 0h1m2 0h1m4 0h1m0 0h1m0 0h1m0 0h1m22 0h1m-62 1h1m0 0h1m0 0h1m1 0h1m0 0h1m0 0h1m0 0h1m0 0h1m1 0h1m7 0h1m2 0h1m9 0h1m1 0h1m8 0h1m0 0h1m5 0h1m2 0h1m-61 1h1m2 0h1m4 0h1m4 0h1m4 0h1m11 0h1m1 0h1m3 0h1m1 0h1m0 0h1m0 0h1m0 0h1m0 0h1m1 0h1m1 0h1m9 0h1m-55 1h1m0 0h1m4 0h1m2 0h1m0 0h1m0 0h1m0 0h1m0 0h1m1 0h1m6 0h1m11 0h1m0 0h1m3 0h1m0 0h1m0 0h1m0 0h1m0 0h1m0 0h1m0 0h1m2 0h1m4 0h1m-47 1h1m2 0h1m1 0h1m6 0h1m1 0h1m3 0h1m9 0h1m0 0h1m3 0h1m2 0h1m0 0h1m2 0h1m2 0h1m14 0h1m-61 1h1m1 0h1m1 0h1m1 0h1m0 0h1m1 0h1m0 0h1m4 0h1m0 0h1m2 0h1m6 0h1m3 0h1m0 0h1m4 0h1m0 0h1m1 0h1m0 0h1m7 0h1m-52 1h1m3 0h1m2 0h1m1 0h1m0 0h1m0 0h1m1 0h1m18 0h1m2 0h1m2 0h1m0 0h1m5 0h1m0 0h1m2 0h1m0 0h1m0 0h1m1 0h1m1 0h1m0 0h1m-69 1h1m4 0h1m1 0h1m0 0h1m6 0h1m1 0h1m1 0h1m2 0h1m1 0h1m2 0h1m3 0h1m2 0h1m2 0h1m4 0h1m0 0h1m6 0h1m1 0h1m0 0h1m0 0h1m1 0h1m5 0h1m15 0h1m-72 1h1m2 0h1m4 0h1m5 0h1m3 0h1m7 0h1m1 0h1m1 0h1m8 0h1m0 0h1m0 0h1m3 0h1m2 0h1m0 0h1m0 0h1m-51 1h1m4 0h1m2 0h1m2 0h1m0 0h1m1 0h1m0 0h1m1 0h1m0 0h1m0 0h1m1 0h1m3 0h1m10 0h1m1 0h1m0 0h1m1 0h1m2 0h1m0 0h1m0 0h1m12 0h1m-56 1h1m0 0h1m3 0h1m0 0h1m1 0h1m0 0h1m3 0h1m0 0h1m0 0h1m0 0h1m0 0h1m1 0h1m0 0h1m3 0h1m3 0h1m5 0h1m0 0h1m1 0h1m2 0h1m4 0h1m2 0h1m1 0h1m3 0h1m3 0h1m-63 1h1m1 0h1m2 0h1m3 0h1m3 0h1m0 0h1m0 0h1m2 0h1m3 0h1m17 0h1m0 0h1m0 0h1m1 0h1m0 0h1m1 0h1m1 0h1m7 0h1m-58 1h1m5 0h1m0 0h1m2 0h1m0 0h1m5 0h1m0 0h1m0 0h1m0 0h1m0 0h1m0 0h1m0 0h1m1 0h1m9 0h1m2 0h1m0 0h1m0 0h1m0 0h1m3 0h1m1 0h1m0 0h1m21 0h1m-74 1h1m1 0h1m3 0h1m3 0h1m1 0h1m0 0h1m1 0h1m0 0h1m3 0h1m0 0h1m1 0h1m2 0h1m4 0h1m1 0h1m6 0h1m1 0h1m0 0h1m0 0h1m0 0h1m1 0h1m0 0h1m1 0h1m1 0h1m-45 1h1m7 0h1m6 0h1m0 0h1m6 0h1m1 0h1m1 0h1m0 0h1m1 0h1m1 0h1m0 0h1m2 0h1m2 0h1m2 0h1m7 0h1m-62 1h1m7 0h1m1 0h1m6 0h1m0 0h1m1 0h1m0 0h1m5 0h1m0 0h1m2 0h1m12 0h1m6 0h1m2 0h1m6 0h1m0 0h1m-60 1h1m5 0h1m11 0h1m0 0h1m2 0h1m0 0h1m0 0h1m8 0h1m5 0h1m0 0h1m1 0h1m3 0h1m2 0h1m2 0h1m4 0h1m-46 1h1m3 0h1m2 0h1m0 0h1m0 0h1m0 0h1m2 0h1m3 0h1m6 0h1m4 0h1m0 0h1m3 0h1m2 0h1m1 0h1m2 0h1m-58 1h1m19 0h1m0 0h1m0 0h1m2 0h1m0 0h1m2 0h1m0 0h1m1 0h1m2 0h1m2 0h1m0 0h1m1 0h1m0 0h1m1 0h1m0 0h1m0 0h1m3 0h1m-31 1h1m0 0h1m1 0h1m1 0h1m0 0h1m1 0h1m2 0h1m2 0h1m4 0h1m3 0h1m12 0h1m-56 1h1m19 0h1m2 0h1m2 0h1m2 0h1m4 0h1m2 0h1m0 0h1m0 0h1m3 0h1m0 0h1m0 0h1m0 0h1m1 0h1m-49 1h1m17 0h1m1 0h1m1 0h1m0 0h1m0 0h1m0 0h1m0 0h1m0 0h1m2 0h1m0 0h1m0 0h1m1 0h1m2 0h1m1 0h1m1 0h1m3 0h1m-46 1h1m20 0h1m1 0h1m3 0h1m0 0h1m1 0h1m0 0h1m1 0h1m0 0h1m1 0h1m0 0h1m0 0h1m1 0h1m0 0h1m10 0h1m-51 1h1m7 0h1m3 0h1m2 0h1m1 0h1m0 0h1m0 0h1m0 0h1m0 0h1m1 0h1m0 0h1m0 0h1m0 0h1m1 0h1m0 0h1m0 0h1m0 0h1m2 0h1m0 0h1m0 0h1m0 0h1m0 0h1m0 0h1m4 0h1m-55 1h1m19 0h1m3 0h1m4 0h1m6 0h1m1 0h1m1 0h1m1 0h1m1 0h1m0 0h1m0 0h1m-36 1h1m5 0h1m0 0h1m8 0h1m2 0h1m0 0h1m2 0h1m1 0h1m3 0h1m0 0h1m1 0h1m1 0h1m2 0h1m10 0h1m-35 1h1m1 0h1m0 0h1m3 0h1m0 0h1m3 0h1m1 0h1m-17 1h1m2 0h1m1 0h1m2 0h1m1 0h1m3 0h1m1 0h1m1 0h1m2 0h1m9 0h1m9 0h1m-54 1h1m1 0h1m8 0h1m5 0h1m0 0h1m2 0h1m0 0h1m0 0h1m1 0h1m1 0h1m6 0h1m0 0h1m25 0h1m-55 1h1m13 0h1m1 0h1m0 0h1m4 0h1m1 0h1m-16 1h1m0 0h1m0 0h1m1 0h1m0 0h1m5 0h1m2 0h1m2 0h1m3 0h1m-22 1h1m7 0h1m0 0h1m5 0h1m2 0h1m-37 1h1m2 0h1m2 0h1m11 0h1m0 0h1m0 0h1m0 0h1m7 0h1m3 0h1m1 0h1m1 0h1m-29 1h1m7 0h1m3 0h1m2 0h1m2 0h1m-29 1h1m15 0h1m3 0h1m11 0h1m0 0h1m-19 1h1m21 0h1m-44 1h1m5 0h1m8 0h1m8 0h1m2 0h1m13 0h1m-25 1h1m6 0h1m10 0h1m1 0h1m-24 1h1m-31 1h1m35 0h1m-15 1h1m11 1h1m-6 1h1m-13 2h1m1 0h1m9 0h1m7 0h1m-11 3h1m-18 1h1m19 1h1m0 2h1m-8 5h1m-16 1h1m2 0h1m-22 1h1m33 0h1m-11 1h1m3 1h1m-19 1h1m0 0h1m8 2h1m0 0h1m-5 1h1m-16 1h1m-17 1h1m14 0h1m11 0h1m-3 1h1m0 1h1m1 2h1m-2 1h1m2 0h1m-19 2h1m19 1h1m-21 2h1m8 0h1m-8 2h1m7 0h1m-9 1h1m23 0h1m-22 1h1m-5 2h1m12 0h1m0 1h1m-9 2h1m-14 1h1m14 0h1m9 1h1m-16 1h1m-17 1h1m3 0h1m10 0h1m-24 1h1m4 0h1m5 1h1m8 2h1m-29 1h1m13 3h1m2 0h1m7 2h1m-15 4h1m-8 4h1m7 0h1m-6 1h1" transform="translate(0 .5)"/>
<path stroke="#2270B5" stroke-width="1.15" d="M490 2281h1m0 0h1m0 2h1m1 1h1m3 0h1m2 0h1m-15 1h1m1 0h1m2 0h1m0 0h1m1 0h1m1 0h1m0 0h1m0 0h1m-14 1h1m1 0h1m0 0h1m1 0h1m0 0h1m0 0h1m0 0h1m4 0h1m1 0h1m-19 1h1m1 0h1m0 0h1m4 0h1m0 0h1m0 0h1m1 0h1m1 0h1m0 0h1m3 0h1m-19 1h1m10 0h1m4 0h1m0 0h1m-21 1h1m9 0h1m3 0h1m1 0h1m-18 1h1m1 0h1m1 0h1m5 0h1m2 0h1m4 0h1m2 0h1m1 0h1m-23 1h1m0 0h1m12 0h1m2 0h1m1 0h1m-20 1h1m2 0h1m1 0h1m7 0h1m0 0h1m4 0h1m-26 1h1m3 0h1m2 0h1m0 0h1m3 0h1m1 0h1m6 0h1m2 0h1m1 0h1m-25 1h1m1 0h1m4 0h1m10 0h1m-17 1h1m14 0h1m1 0h1m0 0h1m7 0h1m-11 1h1m0 0h1m0 0h1m-25 1h1m0 0h1m0 0h1m7 0h1m5 0h1m1 0h1m4 0h1m0 0h1m-22 1h1m0 0h1m0 0h1m0 0h1m15 0h1m3 0h1m-25 1h1m1 0h1m3 0h1m1 0h1m9 0h1m7 0h1m-30 1h1m3 0h1m1 0h1m1 0h1m10 0h1m2 0h1m4 0h1m1 0h1m-30 1h1m2 0h1m1 0h1m11 0h1m1 0h1m2 0h1m2 0h1m-26 1h1m2 0h1m6 0h1m0 0h1m4 0h1m8 0h1m0 0h1m-27 1h1m1 0h1m0 0h1m0 0h1m0 0h1m0 0h1m5 0h1m5 0h1m2 0h1m0 0h1m5 0h1m-24 1h1m2 0h1m7 0h1m0 0h1m1 0h1m0 0h1m1 0h1m0 0h1m-25 1h1m0 0h1m2 0h1m0 0h1m2 0h1m0 0h1m0 0h1m2 0h1m0 0h1m0 0h1m2 0h1m3 0h1m3 0h1m-28 1h1m2 0h1m0 0h1m3 0h1m1 0h1m2 0h1m7 0h1m5 0h1m4 0h1m0 0h1m-32 1h1m2 0h1m2 0h1m2 0h1m0 0h1m2 0h1m0 0h1m0 0h1m1 0h1m3 0h1m0 0h1m0 0h1m0 0h1m1 0h1m0 0h1m1 0h1m-29 1h1m1 0h1m0 0h1m0 0h1m2 0h1m0 0h1m-10 1h1m3 0h1m1 0h1m0 0h1m2 0h1m4 0h1m0 0h1m6 0h1m0 0h1m0 0h1m0 0h1m2 0h1m-27 1h1m0 0h1m1 0h1m0 0h1m2 0h1m5 0h1m8 0h1m3 0h1m-25 1h1m1 0h1m0 0h1m0 0h1m5 0h1m0 0h1m1 0h1m5 0h1m0 0h1m0 0h1m3 0h1m-30 1h1m2 0h1m3 0h1m0 0h1m0 0h1m0 0h1m1 0h1m0 0h1m1 0h1m0 0h1m0 0h1m0 0h1m0 0h1m0 0h1m0 0h1m1 0h1m3 0h1m-21 1h1m0 0h1m4 0h1m1 0h1m3 0h1m1 0h1m0 0h1m0 0h1m-18 1h1m0 0h1m0 0h1m1 0h1m3 0h1m1 0h1m1 0h1m0 0h1m1 0h1m0 0h1m4 0h1m-19 1h1m0 0h1m0 0h1m0 0h1m0 0h1m1 0h1m4 0h1m0 0h1m2 0h1m3 0h1m-16 1h1m11 0h1m-11 1h1m0 0h1m0 0h1m0 0h1m0 0h1m0 0h1m2 0h1m1 0h1m2 0h1m-18 1h1m1 0h1m0 0h1m1 0h1m5 0h1m1 0h1m-19 1h1m4 0h1m2 0h1m1 0h1m0 0h1m0 0h1m2 0h1m4 0h1m-16 1h1m6 0h1m1 0h1m0 0h1m0 0h1m1 0h1m1 0h1m-22 1h1m3 0h1m0 0h1m0 0h1m0 0h1m4 0h1m0 0h1m0 0h1m1 0h1m0 0h1m0 0h1m-14 1h1m1 0h1m0 0h1m2 0h1m5 0h1m-14 1h1m0 0h1m1 0h1m0 0h1m0 0h1m0 0h1m0 0h1m-14 1h1m2 0h1m0 0h1m2 0h1m1 0h1m1 0h1m0 0h1m1 0h1m1 0h1m1 0h1m-17 1h1m4 0h1m3 0h1m3 0h1m-11 1h1m3 0h1m1 0h1m0 0h1m1 0h1m0 0h1m-12 1h1m3 0h1m5 0h1m-6 1h1m2 0h1m2 0h1m-8 2h1" transform="translate(0 .5)"/>
<path stroke="#2E9AA6" stroke-width="1.15" d="M496 2284h1m-8 1h1m0 0h1m1 0h1m0 0h1m2 0h1m-13 1h1m4 0h1m0 0h1m2 0h1m0 0h1m0 0h1m-6 1h1m3 0h1m2 0h1m1 0h1m-11 1h1m5 0h1m1 0h1m-16 1h1m2 0h1m0 0h1m0 0h1m0 0h1m5 0h1m0 0h1m2 0h1m0 0h1m0 0h1m-16 1h1m2 0h1m0 0h1m1 0h1m2 0h1m0 0h1m1 0h1m-21 1h1m2 0h1m1 0h1m0 0h1m7 0h1m0 0h1m0 0h1m1 0h1m2 0h1m-19 1h1m1 0h1m4 0h1m2 0h1m3 0h1m2 0h1m1 0h1m-25 1h1m1 0h1m0 0h1m0 0h1m0 0h1m0 0h1m0 0h1m0 0h1m0 0h1m0 0h1m0 0h1m1 0h1m4 0h1m2 0h1m4 0h1m-25 1h1m2 0h1m1 0h1m0 0h1m0 0h1m1 0h1m4 0h1m1 1h1m0 0h1m0 0h1m2 0h1m-21 1h1m0 0h1m1 0h1m4 0h1m5 0h1m1 0h1m-17 1h1m0 0h1m2 0h1m3 0h1m6 0h1m3 0h1m-19 1h1m4 0h1m1 0h1m5 0h1m0 0h1m3 0h1m-21 1h1m0 0h1m0 0h1m0 0h1m0 0h1m0 0h1m0 0h1m4 0h1m3 0h1m0 0h1m0 0h1m0 0h1m-17 1h1m0 0h1m1 0h1m0 0h1m0 0h1m1 0h1m3 0h1m3 0h1m-21 1h1m1 0h1m1 0h1m1 0h1m0 0h1m2 0h1m0 0h1m2 0h1m0 0h1m1 0h1m1 0h1m-17 1h1m5 0h1m0 0h1m0 0h1m4 0h1m2 0h1m3 0h1m1 0h1m-26 1h1m2 0h1m1 0h1m2 0h1m1 0h1m2 0h1m0 0h1m0 0h1m0 0h1m3 0h1m0 0h1m-22 1h1m5 0h1m0 0h1m0 0h1m1 0h1m3 0h1m0 0h1m7 0h1m-21 1h1m6 0h1m0 0h1m4 0h1m0 0h1m0 0h1m-16 1h1m0 0h1m0 0h1m1 0h1m5 0h1m0 0h1m-11 1h1m0 0h1m1 0h1m1 0h1m3 0h1m2 0h1m2 0h1m0 0h1m4 0h1m-24 1h1m3 0h1m0 0h1m0 0h1m4 0h1m0 0h1m6 0h1m0 0h1m-17 1h1m4 0h1m0 0h1m4 0h1m0 0h1m2 0h1m4 0h1m-27 1h1m0 0h1m6 0h1m3 0h1m1 0h1m1 0h1m4 0h1m0 0h1m2 0h1m-16 1h1m1 0h1m2 0h1m0 0h1m-6 1h1m0 0h1m2 0h1m0 0h1m0 0h1m0 0h1m1 0h1m0 0h1m1 0h1m0 0h1m-19 1h1m4 0h1m3 0h1m0 0h1m5 0h1m0 0h1m2 0h1m-16 1h1m1 0h1m2 0h1m2 0h1m0 0h1m0 0h1m1 0h1m-10 1h1m1 0h1m0 0h1m3 0h1m1 0h1m-15 1h1m2 0h1m0 0h1m0 0h1m1 0h1m0 0h1m1 0h1m0 0h1m5 0h1m-20 1h1m1 0h1m1 0h1m1 0h1m0 0h1m1 0h1m1 0h1m2 0h1m0 0h1m-10 1h1m0 0h1m2 0h1m1 0h1m1 0h1m0 0h1m-14 1h1m0 0h1m0 0h1m0 0h1m0 0h1m1 0h1m2 0h1m-6 1h1m1 0h1m1 0h1m0 0h1m0 0h1m-13 1h1m3 0h1m4 0h1m1 0h1m2 0h1m3 0h1m-14 1h1m0 0h1m0 0h1m9 0h1m-16 1h1m1 0h1m2 0h1m0 0h1m0 0h1m-11 1h1m0 0h1m6 0h1m-9 1h1m6 0h1m4 0h1m-10 2h1m3 0h1m-5 1h1" transform="translate(0 .5)"/>
<path stroke="#4DB35A" stroke-width="1.15" d="M493 2283h1m-7 2h1m5 1h1m-11 1h1m5 0h1m2 0h1m1 0h1m0 0h1m-7 1h1m2 0h1m2 0h1m-9 1h1m2 0h1m0 0h1m1 0h1m1 0h1m2 0h1m-13 1h1m1 0h1m1 0h1m1 0h1m0 0h1m2 0h1m2 0h1m-14 1h1m0 0h1m0 0h1m0 0h1m0 0h1m0 0h1m1 0h1m2 0h1m-16 1h1m1 0h1m1 0h1m2 0h1m2 0h1m0 0h1m2 0h1m-17 1h1m4 0h1m0 0h1m3 0h1m0 0h1m0 0h1m2 0h1m-14 1h1m0 0h1m2 0h1m0 0h1m1 0h1m1 0h1m0 0h1m4 0h1m-19 1h1m3 0h1m0 0h1m0 0h1m1 0h1m4 0h1m0 0h1m0 0h1m0 0h1m0 0h1m1 0h1m-17 1h1m0 0h1m4 0h1m1 0h1m0 0h1m0 0h1m0 0h1m3 0h1m2 0h1m-22 1h1m1 0h1m1 0h1m0 0h1m6 0h1m1 0h1m1 0h1m1 0h1m-16 1h1m3 0h1m3 0h1m4 0h1m0 0h1m-15 1h1m0 0h1m1 0h1m1 0h1m0 0h1m0 0h1m1 0h1m-15 1h1m3 0h1m1 0h1m0 0h1m0 0h1m1 0h1m2 0h1m1 0h1m1 0h1m-18 1h1m4 0h1m0 0h1m0 0h1m2 0h1m3 0h1m0 0h1m1 0h1m-11 1h1m2 0h1m0 0h1m0 0h1m0 0h1m2 0h1m-17 1h1m2 0h1m2 0h1m1 0h1m1 0h1m1 0h1m-11 1h1m0 0h1m0 0h1m0 0h1m0 0h1m0 0h1m0 0h1m4 0h1m-11 1h1m10 0h1m-10 1h1m6 0h1m0 0h1m5 1h1m-15 1h1m0 0h1m4 0h1m0 1h1m5 0h1m-21 1h1m11 0h1m3 0h1m3 0h1m2 0h1m-6 1h1m0 0h1m0 0h1m2 1h1m-11 1h1m1 0h1m2 0h1m-10 1h1m6 0h1m2 0h1m0 0h1m-7 1h1m1 0h1m0 0h1m1 0h1m0 0h1m0 0h1m0 0h1m-10 1h1m1 0h1m0 0h1m0 0h1m1 0h1m0 0h1m2 0h1m-16 1h1m3 0h1m2 0h1m5 0h1m0 0h1m-10 1h1m1 0h1m0 0h1m1 0h1m0 0h1m1 0h1m-5 1h1m0 0h1m2 0h1m2 0h1m-12 1h1m0 0h1m4 0h1m0 0h1m-10 1h1m0 0h1m1 0h1m2 0h1m0 0h1m-7 1h1m0 0h1m3 0h1m-4 1h1m2 0h1m-9 1h1m3 0h1" transform="translate(0 .5)"/>
<path stroke="#A8CC3C" stroke-width="1.15" d="M495 2283h1m-2 2h1m-5 2h1m0 0h1m2 0h1m-5 1h1m-6 1h1m2 0h1m2 0h1m0 0h1m0 0h1m0 0h1m-8 1h1m5 0h1m-7 1h1m0 0h1m1 0h1m0 0h1m0 0h1m1 0h1m-8 1h1m1 0h1m1 0h1m0 0h1m-10 1h1m3 0h1m2 0h1m0 0h1m1 0h1m0 0h1m1 0h1m-16 1h1m4 0h1m1 0h1m1 0h1m0 0h1m0 0h1m0 0h1m0 0h1m0 0h1m-13 1h1m2 0h1m2 0h1m0 0h1m1 0h1m0 0h1m0 0h1m2 0h1m-16 1h1m0 0h1m0 0h1m0 0h1m0 0h1m1 0h1m1 0h1m1 0h1m0 0h1m-12 1h1m1 0h1m5 0h1m0 0h1m-11 1h1m0 0h1m1 0h1m0 0h1m1 0h1m0 0h1m1 0h1m0 0h1m0 0h1m0 0h1m0 0h1m-13 1h1m2 0h1m1 0h1m0 0h1m0 0h1m3 0h1m-14 1h1m3 0h1m0 0h1m0 0h1m-12 1h1m5 0h1m1 0h1m0 0h1m6 0h1m-12 1h1m0 0h1m0 0h1m3 0h1m2 0h1m-14 1h1m1 0h1m1 0h1m0 0h1m0 0h1m1 0h1m3 0h1m4 0h1m-14 1h1m3 0h1m-11 1h1m12 0h1m0 0h1m-10 2h1m3 0h1m-1 1h1m-2 1h1m7 0h1m-5 2h1m3 2h1m2 0h1m-4 2h1m-4 1h1m4 1h1m0 0h1m-2 1h1m-3 1h1m-4 1h1m3 0h1m0 0h1m-7 2h1" transform="translate(0 .5)"/>
<path stroke="#EADB35" stroke-width="1.15" d="M487 2287h1m3 1h1m4 0h1m-14 1h1m5 0h1m-3 1h1m2 0h1m0 0h1m4 0h1m-17 1h1m5 0h1m1 0h1m0 0h1m0 0h1m4 0h1m-11 1h1m2 0h1m1 0h1m0 0h1m0 0h1m1 0h1m-13 1h1m1 0h1m2 0h1m1 0h1m1 0h1m-9 1h1m1 0h1m0 0h1m3 0h1m1 0h1m-13 1h1m0 0h1m0 0h1m2 0h1m2 0h1m0 0h1m-6 1h1m1 0h1m0 0h1m0 0h1m2 0h1m3 0h1m-14 1h1m2 0h1m0 0h1m-8 1h1m0 0h1m0 0h1m1 0h1m0 0h1m0 0h1m-5 1h1m1 0h1m2 0h1m5 0h1m0 0h1m-10 1h1m0 0h1m-4 1h1m0 0h1m0 0h1m-2 1h1m3 0h1m-2 1h1m0 0h1m0 0h1m-12 1h1m4 0h1m4 0h1m-9 2h1m12 2h1m2 3h1m-6 1h1m2 1h1m-4 1h1m-3 1h1m1 5h1m0 0h1" transform="translate(0 .5)"/>
<path stroke="#F29B2A" stroke-width="1.15" d="M489 2289h1m0 0h1m3 0h1m-6 1h1m-2 1h1m0 0h1m0 0h1m4 0h1m-8 1h1m-6 1h1m0 0h1m2 0h1m2 0h1m1 0h1m-9 1h1m1 0h1m0 0h1m0 0h1m-9 1h1m1 0h1m0 0h1m0 0h1m0 0h1m0 0h1m0 0h1m0 0h1m2 0h1m0 0h1m2 0h1m-15 1h1m0 0h1m1 0h1m2 0h1m0 0h1m3 0h1m-14 1h1m3 0h1m0 0h1m4 0h1m-8 1h1m1 0h1m0 0h1m2 0h1m-8 1h1m0 0h1m0 0h1m3 0h1m0 0h1m-12 1h1m7 0h1m-4 1h1m2 0h1m-4 1h1m1 0h1m-5 3h1m-1 1h1m5 9h1m-2 7h1" transform="translate(0 .5)"/>
<path stroke="#E3342A" stroke-width="1.15" d="M488 2289h1m3 0h1m-5 1h1m-1 1h1m1 0h1m-4 1h1m-1 1h1m1 0h1m1 0h1m-2 1h1m-6 1h1m1 0h1m1 0h1m1 0h1m-7 1h1m1 0h1m1 0h1m0 0h1m0 0h1m-9 1h1m1 0h1m3 0h1m-5 1h1m0 0h1m0 0h1m0 0h1m1 0h1m-7 1h1m-4 1h1m1 0h1m-2 2h1m5 0h1m-5 1h1m3 1h1m1 14h1" transform="translate(0 .5)"/>
<path fill="#000" d="M339.1 2250.5h2V2461h-2zM345.1 2461v2H550.5v-2zM335.6 2250.5h5.5v4h-5.5zM335.6 2263.5h5.5v4h-5.5zM337.1 2279.5h4v3h-4zM335.6 2294.5h5.5v4h-5.5zM336.1 2303.5h5v2h-5zM338.1 2312.5h3v3h-3zM338.1 2327.5h3v6h-3zM336.1 2345.5h5v4h-5zM335.6 2365.5h5.5v6h-5.5zM335.6 2387.5h5.5v3h-5.5zM338.1 2393.5h3v5h-3zM337.1 2401.5h4v2h-4zM338.1 2408.5h3v5h-3zM336.1 2422.5h5v3h-5zM335.6 2437.5h5.5v3h-5.5zM336.6 2445.5h4.5v6h-4.5zM346.1 2461v3h3v-3zM361.1 2461v5h5v-5zM382.1 2461v4.5h3v-4.5zM394.1 2461v5.5h4v-5.5zM407.1 2461v3h3v-3zM426.1 2461v5h3v-5zM433.1 2461v5h5v-5zM442.1 2461v3h3v-3zM451.1 2461v3h4v-3zM467.1 2461v5h6v-5zM485.1 2461v5.5h3v-5.5zM508.1 2461v4.5h4v-4.5zM521.1 2461v4.5h3v-4.5zM533.1 2461v5h3v-5zM540.1 2461v4h4v-4z"/>
<rect x="341.1" y="2242.5" width="209.4" height="218.5" fill="none" stroke="#000" stroke-width="1.6"/>
<polygon points="445.4,2315.4 515.6,2253.7 528.8,2278.1 459,2334.4" fill="none" stroke="#000" stroke-width="1.7" stroke-linejoin="miter"/>
<polygon points="459,2334.4 528.8,2278.1 542.1,2296.7 474.7,2356.2" fill="none" stroke="#000" stroke-width="1.7" stroke-linejoin="miter"/>
<text x="447.9" y="2235.8" font-size="22.5" text-anchor="middle" fill="#111">GC</text>
<path stroke="#1D4F9F" stroke-width="1.15" d="M796 2254h1m-7 3h1m-9 1h1m-1 3h1m24 1h1m-15 1h1m-2 2h1m1 0h1m-6 2h1m0 0h1m-10 1h1m-10 1h1m9 0h1m1 0h1m2 0h1m0 0h1m10 0h1m-28 1h1m10 0h1m7 0h1m16 0h1m-34 1h1m17 0h1m-10 1h1m8 0h1m0 0h1m6 0h1m14 0h1m-56 1h1m17 0h1m2 0h1m2 0h1m1 0h1m2 0h1m1 0h1m4 0h1m0 0h1m5 0h1m4 0h1m12 0h1m-48 1h1m0 0h1m3 0h1m4 0h1m0 0h1m3 0h1m1 0h1m-19 1h1m8 0h1m0 0h1m1 0h1m0 0h1m2 0h1m7 0h1m-24 1h1m0 0h1m0 0h1m1 0h1m1 0h1m1 0h1m0 0h1m0 0h1m2 0h1m3 0h1m-32 1h1m10 0h1m1 0h1m2 0h1m0 0h1m0 0h1m0 0h1m0 0h1m2 0h1m0 0h1m4 0h1m0 0h1m7 0h1m13 0h1m-43 1h1m2 0h1m4 0h1m2 0h1m1 0h1m0 0h1m1 0h1m0 0h1m0 0h1m3 0h1m-25 1h1m2 0h1m2 0h1m0 0h1m0 0h1m0 0h1m0 0h1m2 0h1m0 0h1m0 0h1m2 0h1m4 0h1m2 0h1m5 0h1m5 0h1m-48 1h1m3 0h1m3 0h1m0 0h1m3 0h1m0 0h1m2 0h1m0 0h1m0 0h1m0 0h1m0 0h1m1 0h1m0 0h1m0 0h1m3 0h1m0 0h1m-33 1h1m9 0h1m6 0h1m0 0h1m3 0h1m2 0h1m0 0h1m0 0h1m0 0h1m0 0h1m0 0h1m6 0h1m0 0h1m10 0h1m-40 1h1m0 0h1m2 0h1m1 0h1m2 0h1m0 0h1m1 0h1m2 0h1m0 0h1m1 0h1m0 0h1m0 0h1m4 0h1m2 0h1m-56 1h1m22 0h1m2 0h1m0 0h1m4 0h1m3 0h1m7 0h1m0 0h1m0 0h1m1 0h1m-29 1h1m2 0h1m2 0h1m0 0h1m0 0h1m2 0h1m3 0h1m7 0h1m0 0h1m7 0h1m8 0h1m17 0h1m-55 1h1m5 0h1m7 0h1m0 0h1m0 0h1m2 0h1m0 0h1m0 0h1m1 0h1m0 0h1m15 0h1m-60 1h1m11 0h1m0 0h1m2 0h1m4 0h1m1 0h1m3 0h1m0 0h1m8 0h1m4 0h1m0 0h1m0 0h1m14 0h1m1 0h1m-51 1h1m1 0h1m0 0h1m0 0h1m0 0h1m0 0h1m0 0h1m8 0h1m2 0h1m6 0h1m3 0h1m2 0h1m2 0h1m6 0h1m11 0h1m-56 1h1m5 0h1m1 0h1m0 0h1m0 0h1m2 0h1m2 0h1m5 0h1m2 0h1m0 0h1m0 0h1m0 0h1m2 0h1m0 0h1m8 0h1m2 0h1m11 0h1m-57 1h1m6 0h1m1 0h1m2 0h1m14 0h1m0 0h1m1 0h1m1 0h1m1 0h1m16 0h1m4 0h1m-56 1h1m1 0h1m2 0h1m1 0h1m0 0h1m0 0h1m0 0h1m1 0h1m2 0h1m6 0h1m2 0h1m0 0h1m1 0h1m10 0h1m1 0h1m2 0h1m2 0h1m-51 1h1m0 0h1m2 0h1m1 0h1m2 0h1m3 0h1m2 0h1m9 0h1m2 0h1m2 0h1m8 0h1m7 0h1m0 0h1m-49 1h1m4 0h1m1 0h1m9 0h1m2 0h1m7 0h1m0 0h1m5 0h1m1 0h1m5 0h1m5 0h1m-60 1h1m3 0h1m7 0h1m0 0h1m0 0h1m1 0h1m1 0h1m5 0h1m6 0h1m2 0h1m0 0h1m1 0h1m2 0h1m1 0h1m1 0h1m0 0h1m0 0h1m4 0h1m5 0h1m-55 1h1m5 0h1m1 0h1m2 0h1m0 0h1m1 0h1m4 0h1m6 0h1m3 0h1m0 0h1m7 0h1m0 0h1m19 0h1m-65 1h1m13 0h1m0 0h1m4 0h1m7 0h1m2 0h1m4 0h1m0 0h1m0 0h1m0 0h1m3 0h1m3 0h1m0 0h1m0 0h1m0 0h1m4 0h1m17 0h1m-67 1h1m1 0h1m2 0h1m0 0h1m0 0h1m0 0h1m0 0h1m3 0h1m2 0h1m13 0h1m2 0h1m1 0h1m5 0h1m4 0h1m0 0h1m1 0h1m-51 1h1m5 0h1m3 0h1m1 0h1m3 0h1m3 0h1m1 0h1m6 0h1m2 0h1m2 0h1m0 0h1m3 0h1m0 0h1m1 0h1m1 0h1m4 0h1m3 0h1m-59 1h1m5 0h1m0 0h1m2 0h1m1 0h1m1 0h1m0 0h1m7 0h1m1 0h1m0 0h1m1 0h1m3 0h1m1 0h1m1 0h1m1 0h1m2 0h1m0 0h1m2 0h1m0 0h1m0 0h1m2 0h1m3 0h1m2 0h1m-56 1h1m2 0h1m4 0h1m4 0h1m0 0h1m0 0h1m0 0h1m0 0h1m1 0h1m2 0h1m2 0h1m8 0h1m3 0h1m0 0h1m2 0h1m3 0h1m0 0h1m5 0h1m5 0h1m-58 1h1m1 0h1m0 0h1m0 0h1m1 0h1m1 0h1m0 0h1m0 0h1m0 0h1m0 0h1m2 0h1m6 0h1m3 0h1m1 0h1m0 0h1m0 0h1m1 0h1m0 0h1m5 0h1m0 0h1m0 0h1m1 0h1m0 0h1m0 0h1m1 0h1m0 0h1m12 0h1m-70 1h1m8 0h1m4 0h1m0 0h1m0 0h1m2 0h1m0 0h1m5 0h1m9 0h1m1 0h1m1 0h1m1 0h1m1 0h1m0 0h1m0 0h1m1 0h1m2 0h1m1 0h1m3 0h1m7 0h1m-60 1h1m1 0h1m2 0h1m0 0h1m1 0h1m0 0h1m1 0h1m1 0h1m0 0h1m0 0h1m0 0h1m9 0h1m2 0h1m0 0h1m2 0h1m1 0h1m2 0h1m0 0h1m0 0h1m0 0h1m0 0h1m0 0h1m2 0h1m0 0h1m1 0h1m-50 1h1m3 0h1m1 0h1m4 0h1m0 0h1m0 0h1m0 0h1m0 0h1m0 0h1m2 0h1m0 0h1m1 0h1m2 0h1m4 0h1m3 0h1m2 0h1m1 0h1m0 0h1m1 0h1m0 0h1m0 0h1m0 0h1m1 0h1m3 0h1m-49 1h1m0 0h1m0 0h1m3 0h1m0 0h1m6 0h1m1 0h1m7 0h1m9 0h1m2 0h1m0 0h1m0 0h1m0 0h1m1 0h1m0 0h1m0 0h1m0 0h1m0 0h1m3 0h1m1 0h1m-60 1h1m8 0h1m0 0h1m1 0h1m1 0h1m1 0h1m0 0h1m8 0h1m1 0h1m6 0h1m3 0h1m1 0h1m5 0h1m1 0h1m0 0h1m2 0h1m12 0h1m-51 1h1m4 0h1m1 0h1m3 0h1m1 0h1m10 0h1m2 0h1m0 0h1m3 0h1m10 0h1m6 0h1m-69 1h1m0 0h1m2 0h1m14 0h1m0 0h1m0 0h1m0 0h1m8 0h1m14 0h1m0 0h1m0 0h1m1 0h1m1 0h1m1 0h1m-37 1h1m1 0h1m0 0h1m1 0h1m1 0h1m0 0h1m1 0h1m1 0h1m0 0h1m16 0h1m0 0h1m0 0h1m0 0h1m1 0h1m0 0h1m4 0h1m-53 1h1m1 0h1m2 0h1m4 0h1m1 0h1m4 0h1m2 0h1m20 0h1m4 0h1m0 0h1m0 0h1m0 0h1m3 0h1m-44 1h1m4 0h1m0 0h1m1 0h1m20 0h1m3 0h1m3 0h1m2 0h1m-53 1h1m2 0h1m9 0h1m0 0h1m2 0h1m4 0h1m18 0h1m0 0h1m0 0h1m0 0h1m0 0h1m5 0h1m-62 1h1m15 0h1m0 0h1m4 0h1m0 0h1m5 0h1m0 0h1m0 0h1m3 0h1m5 0h1m7 0h1m8 0h1m0 0h1m20 0h1m-65 1h1m5 0h1m1 0h1m0 0h1m3 0h1m23 0h1m2 0h1m0 0h1m0 0h1m-51 1h1m12 0h1m2 0h1m1 0h1m2 0h1m39 0h1m2 0h1m-55 1h1m8 0h1m20 0h1m2 0h1m1 0h1m0 0h1m1 0h1m2 0h1m5 0h1m-65 1h1m0 0h1m6 0h1m36 0h1m3 0h1m2 0h1m-40 1h1m6 0h1m3 0h1m1 0h1m20 0h1m2 0h1m-35 1h1m6 0h1m0 0h1m3 0h1m24 0h1m-32 1h1m0 0h1m1 0h1m20 0h1m1 0h1m1 0h1m1 0h1m3 0h1m0 0h1m-44 1h1m3 0h1m0 0h1m3 0h1m0 0h1m1 0h1m15 0h1m4 0h1m2 0h1m1 0h1m1 0h1m-64 1h1m19 0h1m5 0h1m4 0h1m0 0h1m4 0h1m0 0h1m14 0h1m2 0h1m12 0h1m-45 1h1m5 0h1m0 0h1m0 0h1m2 0h1m15 0h1m3 0h1m0 0h1m0 0h1m1 0h1m1 0h1m-35 1h1m3 0h1m1 0h1m2 0h1m12 0h1m2 0h1m0 0h1m0 0h1m0 0h1m-61 1h1m18 0h1m2 0h1m6 0h1m2 0h1m1 0h1m4 0h1m14 0h1m0 0h1m4 0h1m-39 1h1m7 0h1m0 0h1m1 0h1m0 0h1m1 0h1m0 0h1m3 0h1m11 0h1m2 0h1m1 0h1m1 0h1m-26 1h1m4 0h1m2 0h1m2 0h1m4 0h1m3 0h1m0 0h1m0 0h1m0 0h1m-46 1h1m10 0h1m2 0h1m7 0h1m0 0h1m0 0h1m0 0h1m3 0h1m0 0h1m2 0h1m21 0h1m-47 1h1m2 0h1m1 0h1m0 0h1m0 0h1m0 0h1m4 0h1m0 0h1m2 0h1m0 0h1m0 0h1m5 0h1m0 0h1m3 0h1m0 0h1m0 0h1m0 0h1m3 0h1m-30 1h1m3 0h1m1 0h1m0 0h1m0 0h1m2 0h1m0 0h1m0 0h1m1 0h1m1 0h1m0 0h1m3 0h1m0 0h1m2 0h1m4 0h1m-30 1h1m3 0h1m0 0h1m1 0h1m0 0h1m10 0h1m1 0h1m1 0h1m4 0h1m0 0h1m-36 1h1m5 0h1m4 0h1m1 0h1m2 0h1m3 0h1m0 0h1m0 0h1m1 0h1m3 0h1m0 0h1m-25 1h1m0 0h1m2 0h1m2 0h1m2 0h1m3 0h1m2 0h1m2 0h1m-34 1h1m10 0h1m0 0h1m3 0h1m0 0h1m0 0h1m1 0h1m0 0h1m2 0h1m8 0h1m5 0h1m-48 1h1m17 0h1m2 0h1m2 0h1m1 0h1m1 0h1m1 0h1m0 0h1m0 0h1m5 0h1m0 0h1m5 0h1m-34 1h1m10 0h1m3 0h1m5 0h1m5 0h1m0 0h1m-28 1h1m15 0h1m18 0h1m0 0h1m-28 1h1m5 0h1m0 0h1m2 0h1m4 0h1m-30 1h1m5 0h1m6 0h1m11 0h1m-29 1h1m28 0h1m0 0h1m-40 1h1m4 0h1m19 0h1m7 0h1m-36 3h1m27 0h1m6 1h1m-16 1h1m22 0h1m-15 1h1m-18 1h1m14 0h1m28 0h1m-43 1h1m7 0h1m-1 2h1m6 0h1m-31 1h1m-18 2h1m31 0h1m-19 2h1m-8 2h1m7 0h1m-19 4h1m1 0h1m15 0h1m6 1h1m-19 1h1m8 0h1m4 0h1m-17 4h1m1 0h1m5 0h1m5 0h1m-11 1h1m0 0h1m0 0h1m-19 1h1m31 0h1m-14 1h1m-14 1h1m4 0h1m35 0h1m-23 1h1m-17 1h1m3 0h1m10 3h1m-5 2h1m-20 1h1m5 1h1m-1 2h1m2 2h1m-26 1h1m12 1h1m-12 2h1m4 3h1m-1 1h1m-9 2h1m-10 1h1m19 0h1m-22 1h1m-3 2h1m10 1h1m-9 2h1m10 0h1m-18 1h1m7 0h1m3 0h1m-20 5h1m19 0h1m-10 2h1m11 0h1m2 0h1m-20 5h1" transform="translate(0 .5)"/>
<path stroke="#2270B5" stroke-width="1.15" d="M776 2279h1m0 0h1m0 0h1m2 0h1m0 0h1m-4 1h1m1 0h1m0 0h1m1 0h1m-8 1h1m3 0h1m0 0h1m-9 1h1m1 0h1m1 0h1m1 0h1m1 0h1m-15 1h1m2 0h1m3 0h1m1 0h1m2 0h1m3 0h1m-14 1h1m1 0h1m0 0h1m4 0h1m1 0h1m0 0h1m-14 1h1m1 0h1m2 0h1m1 0h1m2 0h1m4 0h1m-13 1h1m1 0h1m1 0h1m6 0h1m0 0h1m0 0h1m-19 1h1m1 0h1m13 0h1m0 0h1m0 0h1m0 0h1m-20 1h1m2 0h1m0 0h1m0 0h1m0 0h1m1 0h1m2 0h1m4 0h1m0 0h1m0 0h1m-20 1h1m13 0h1m0 0h1m1 0h1m-18 1h1m4 0h1m8 0h1m0 0h1m0 0h1m2 0h1m-19 1h1m0 0h1m0 0h1m0 0h1m0 0h1m4 0h1m3 0h1m0 0h1m1 0h1m-18 1h1m10 0h1m1 0h1m1 0h1m0 0h1m-20 1h1m5 0h1m3 0h1m3 0h1m0 0h1m-13 1h1m0 0h1m0 0h1m3 0h1m1 0h1m1 0h1m0 0h1m3 0h1m-19 1h1m7 0h1m4 0h1m2 0h1m-18 1h1m7 0h1m1 0h1m0 0h1m1 0h1m3 0h1m-16 1h1m3 0h1m3 0h1m6 0h1m0 0h1m-19 1h1m2 0h1m4 0h1m0 0h1m1 0h1m6 0h1m3 0h1m-19 1h1m0 0h1m0 0h1m0 0h1m3 0h1m1 0h1m2 0h1m0 0h1m4 0h1m3 0h1m-28 1h1m3 0h1m0 0h1m0 0h1m1 0h1m1 0h1m0 0h1m2 0h1m2 0h1m2 0h1m1 0h1m5 0h1m-26 1h1m2 0h1m1 0h1m0 0h1m1 0h1m0 0h1m1 0h1m0 0h1m2 0h1m0 0h1m8 0h1m1 0h1m-23 1h1m1 0h1m0 0h1m1 0h1m3 0h1m0 0h1m3 0h1m1 0h1m1 0h1m1 0h1m4 0h1m-24 1h1m7 0h1m7 0h1m0 0h1m-22 1h1m1 0h1m2 0h1m1 0h1m3 0h1m2 0h1m0 0h1m0 0h1m0 0h1m0 0h1m4 0h1m-26 1h1m0 0h1m6 0h1m1 0h1m5 0h1m1 0h1m1 0h1m0 0h1m0 0h1m1 0h1m0 0h1m-15 1h1m2 0h1m1 0h1m5 0h1m8 0h1m-23 1h1m2 0h1m2 0h1m0 0h1m2 0h1m-9 1h1m1 0h1m6 0h1m3 0h1m0 0h1m1 0h1m-23 1h1m5 0h1m0 0h1m1 0h1m2 0h1m5 0h1m0 0h1m-24 1h1m3 0h1m6 0h1m2 0h1m3 0h1m0 0h1m5 0h1m1 0h1m-25 1h1m4 0h1m1 0h1m2 0h1m9 0h1m0 0h1m0 0h1m3 0h1m1 0h1m-30 1h1m3 0h1m7 0h1m5 0h1m3 0h1m1 0h1m-26 1h1m6 0h1m13 0h1m0 0h1m1 0h1m0 0h1m-27 1h1m0 0h1m0 0h1m10 0h1m1 0h1m5 0h1m-20 1h1m1 0h1m4 0h1m11 0h1m0 0h1m0 0h1m0 0h1m-20 1h1m12 0h1m6 0h1m-23 1h1m17 0h1m3 0h1m-29 1h1m1 0h1m1 0h1m1 0h1m1 0h1m15 0h1m2 0h1m-26 1h1m0 0h1m6 0h1m2 0h1m5 0h1m0 0h1m2 0h1m2 0h1m-28 1h1m0 0h1m0 0h1m3 0h1m0 0h1m0 0h1m4 0h1m12 0h1m-25 1h1m6 0h1m3 0h1m10 0h1m-25 1h1m1 0h1m3 0h1m8 0h1m5 0h1m0 0h1m0 0h1m1 0h1m-20 1h1m3 0h1m3 0h1m1 0h1m2 0h1m0 0h1m1 0h1m-20 1h1m0 0h1m1 0h1m0 0h1m0 0h1m0 0h1m1 0h1m8 0h1m0 0h1m0 0h1m-20 1h1m0 0h1m0 0h1m0 0h1m1 0h1m0 0h1m0 0h1m4 0h1m5 0h1m0 0h1m-19 1h1m0 0h1m3 0h1m1 0h1m2 0h1m1 0h1m-13 1h1m3 0h1m0 0h1m0 0h1m1 0h1m2 0h1m2 0h1m1 0h1m-17 1h1m2 0h1m1 0h1m0 0h1m1 0h1m-7 1h1m3 0h1m1 0h1m-7 1h1m7 0h1m1 0h1" transform="translate(0 .5)"/>
<path stroke="#2E9AA6" stroke-width="1.15" d="M777 2280h1m1 1h1m1 0h1m-10 1h1m3 0h1m5 0h1m-7 1h1m3 0h1m1 0h1m5 0h1m-13 1h1m3 0h1m-8 1h1m1 0h1m1 0h1m0 0h1m0 0h1m1 0h1m0 0h1m-13 1h1m3 0h1m2 0h1m0 0h1m2 0h1m0 0h1m-12 1h1m1 0h1m2 0h1m0 0h1m0 0h1m1 0h1m2 0h1m-13 1h1m2 0h1m0 0h1m0 0h1m1 0h1m0 0h1m0 0h1m-14 1h1m1 0h1m1 0h1m2 0h1m-7 1h1m2 0h1m0 0h1m0 0h1m2 0h1m0 0h1m0 0h1m-10 1h1m0 0h1m4 0h1m2 0h1m0 0h1m-14 1h1m3 0h1m4 0h1m0 0h1m2 0h1m-14 1h1m1 0h1m0 0h1m3 0h1m1 0h1m1 0h1m2 0h1m1 0h1m-17 1h1m1 0h1m0 0h1m0 0h1m1 0h1m0 0h1m0 0h1m4 0h1m-15 1h1m0 0h1m3 0h1m1 0h1m0 0h1m0 0h1m0 0h1m0 0h1m2 0h1m3 0h1m-19 1h1m7 0h1m1 0h1m12 0h1m-25 1h1m2 0h1m0 0h1m2 0h1m2 0h1m4 0h1m-17 1h1m0 0h1m1 0h1m0 0h1m0 0h1m2 0h1m4 0h1m-11 1h1m0 0h1m3 0h1m17 0h1m-25 1h1m3 0h1m3 0h1m4 0h1m-8 1h1m1 0h1m14 0h1m-14 1h1m3 0h1m3 1h1m1 0h1m2 0h1m2 0h1m2 0h1m0 0h1m-26 1h1m7 0h1m4 0h1m1 0h1m0 0h1m2 0h1m1 0h1m-26 1h1m12 0h1m5 0h1m0 0h1m-7 1h1m0 0h1m0 0h1m1 0h1m2 0h1m2 0h1m2 0h1m-15 1h1m0 0h1m1 0h1m2 0h1m0 0h1m0 0h1m2 0h1m1 0h1m-16 1h1m0 0h1m1 0h1m2 0h1m0 0h1m1 0h1m4 0h1m-24 1h1m5 0h1m3 0h1m3 0h1m1 0h1m0 0h1m0 0h1m1 0h1m3 0h1m-19 1h1m0 0h1m2 0h1m0 0h1m1 0h1m2 0h1m2 0h1m1 0h1m1 0h1m-17 1h1m2 0h1m1 0h1m2 0h1m1 0h1m1 0h1m-16 1h1m0 0h1m11 0h1m0 0h1m2 0h1m0 0h1m-23 1h1m1 0h1m3 0h1m1 0h1m5 0h1m0 0h1m3 0h1m2 0h1m-16 1h1m4 0h1m0 0h1m0 0h1m1 0h1m5 0h1m-22 1h1m1 0h1m0 0h1m8 0h1m0 0h1m3 0h1m0 0h1m0 0h1m3 0h1m-21 1h1m4 0h1m1 0h1m1 0h1m1 0h1m0 0h1m1 0h1m1 0h1m-20 1h1m1 0h1m1 0h1m4 0h1m6 0h1m3 0h1m-23 1h1m1 0h1m4 0h1m9 0h1m2 0h1m1 0h1m1 0h1m-22 1h1m5 0h1m5 0h1m1 0h1m-17 1h1m3 0h1m7 0h1m3 0h1m-18 1h1m1 0h1m5 0h1m2 0h1m1 0h1m2 0h1m0 0h1m2 0h1m-23 1h1m0 0h1m1 0h1m1 0h1m0 0h1m1 0h1m1 0h1m0 0h1m0 0h1m0 0h1m0 0h1m1 0h1m0 0h1m-20 1h1m2 0h1m0 0h1m2 0h1m0 0h1m4 0h1m2 0h1m0 0h1m2 0h1m-17 1h1m0 0h1m2 0h1m-1 1h1m3 0h1m2 0h1m-11 1h1m0 0h1m3 0h1m0 0h1m0 0h1m9 0h1m-12 1h1m-4 1h1m0 0h1m2 0h1m-9 1h1m1 1h1" transform="translate(0 .5)"/>
<path stroke="#4DB35A" stroke-width="1.15" d="M776 2282h1m1 0h1m-8 1h1m4 0h1m5 0h1m-9 2h1m4 0h1m-7 1h1m2 0h1m1 0h1m0 0h1m2 0h1m-16 1h1m4 0h1m1 0h1m0 0h1m1 0h1m1 0h1m-8 1h1m0 0h1m5 0h1m0 0h1m-8 1h1m0 0h1m8 0h1m-15 1h1m1 0h1m2 0h1m3 0h1m-10 1h1m3 0h1m0 0h1m0 0h1m0 0h1m-9 1h1m2 0h1m1 0h1m4 0h1m0 0h1m-14 1h1m2 0h1m1 0h1m0 0h1m2 0h1m0 0h1m1 0h1m-16 1h1m7 0h1m1 0h1m0 0h1m5 0h1m2 0h1m-15 1h1m1 0h1m1 0h1m-3 1h1m0 0h1m3 0h1m-7 1h1m-4 1h1m0 1h1m0 0h1m-1 1h1m16 2h1m1 1h1m0 0h1m2 0h1m-12 1h1m10 0h1m-5 1h1m-10 1h1m0 0h1m1 0h1m-3 1h1m0 0h1m2 0h1m0 0h1m-9 1h1m4 0h1m1 0h1m1 0h1m0 0h1m0 0h1m0 0h1m-14 1h1m3 0h1m0 0h1m7 0h1m-15 1h1m2 0h1m1 0h1m0 0h1m1 0h1m0 0h1m1 0h1m1 0h1m0 0h1m-22 1h1m6 0h1m1 0h1m0 0h1m1 0h1m0 0h1m0 0h1m0 0h1m1 0h1m0 0h1m-10 1h1m0 0h1m0 0h1m3 0h1m0 0h1m5 0h1m-19 1h1m0 0h1m0 0h1m1 0h1m1 0h1m-8 1h1m1 0h1m2 0h1m3 0h1m0 0h1m1 0h1m0 0h1m-18 1h1m2 0h1m2 0h1m4 0h1m0 0h1m0 0h1m0 0h1m2 0h1m0 0h1m1 0h1m1 0h1m-23 1h1m2 0h1m2 0h1m2 0h1m2 0h1m0 0h1m0 0h1m1 0h1m0 0h1m3 0h1m-19 1h1m1 0h1m0 0h1m0 0h1m2 0h1m4 0h1m2 0h1m1 0h1m-13 1h1m0 0h1m0 0h1m2 0h1m4 0h1m2 0h1m-22 1h1m0 0h1m1 0h1m2 0h1m1 0h1m1 0h1m4 0h1m1 0h1m-17 1h1m0 0h1m3 0h1m1 0h1m2 0h1m4 0h1m1 0h1m-18 1h1m4 0h1m3 0h1m1 0h1m0 0h1m1 0h1m0 0h1m-16 1h1m1 0h1m0 0h1m0 0h1m8 0h1m-10 1h1m0 0h1m3 0h1m1 0h1m0 0h1m2 0h1m-12 1h1m1 0h1m4 0h1m3 0h1m-8 1h1m3 0h1m-12 1h1m5 0h1m2 0h1m1 0h1" transform="translate(0 .5)"/>
<path stroke="#A8CC3C" stroke-width="1.15" d="M774 2283h1m5 0h1m0 1h1m-6 1h1m6 0h1m-9 1h1m0 1h1m0 0h1m-9 1h1m3 0h1m0 0h1m1 0h1m1 0h1m-7 1h1m1 0h1m0 0h1m-5 2h1m3 0h1m-9 1h1m0 0h1m3 0h1m4 0h1m-4 1h1m0 0h1m-7 1h1m3 0h1m0 0h1m0 0h1m4 0h1m0 0h1m-15 1h1m1 1h1m5 0h1m-7 2h1m21 5h1m-11 2h1m6 0h1m2 0h1m-9 1h1m5 0h1m-7 1h1m2 0h1m1 0h1m-7 1h1m5 0h1m-10 1h1m0 0h1m1 0h1m6 0h1m-8 1h1m1 0h1m1 0h1m1 0h1m-15 1h1m2 1h1m0 0h1m2 0h1m4 0h1m-12 1h1m0 0h1m0 0h1m0 0h1m2 0h1m7 0h1m-19 1h1m1 0h1m6 0h1m3 0h1m0 0h1m0 0h1m0 0h1m-17 1h1m5 0h1m3 0h1m3 0h1m1 0h1m0 0h1m-16 1h1m0 0h1m0 0h1m1 0h1m3 0h1m1 0h1m0 0h1m0 0h1m-18 1h1m4 0h1m0 0h1m2 0h1m1 0h1m1 0h1m-11 1h1m6 0h1m2 0h1m1 0h1m1 0h1m1 0h1m-12 1h1m0 0h1m4 0h1m-18 1h1m4 0h1m1 0h1m2 0h1m3 0h1m0 0h1m1 0h1m-14 1h1m3 0h1m5 0h1m-9 1h1m0 0h1m0 0h1m1 0h1m4 0h1m-13 1h1m3 1h1m0 0h1m3 0h1m0 0h1m1 0h1m-9 1h1m0 0h1m1 1h1m1 2h1" transform="translate(0 .5)"/>
<path stroke="#EADB35" stroke-width="1.15" d="M782 2282h1m-8 4h1m0 2h1m0 0h1m2 1h1m-10 2h1m3 0h1m-9 2h1m0 0h1m5 0h1m-6 1h1m5 0h1m-8 1h1m-5 2h1m28 8h1m-14 3h1m-4 1h1m1 0h1m1 0h1m-7 2h1m4 0h1m2 0h1m0 0h1m1 0h1m-13 1h1m1 0h1m1 0h1m0 0h1m0 0h1m0 0h1m7 0h1m-14 1h1m3 0h1m1 0h1m1 0h1m0 0h1m1 0h1m0 0h1m-13 1h1m1 0h1m0 0h1m4 0h1m2 0h1m-14 1h1m7 0h1m0 0h1m0 0h1m-7 1h1m0 0h1m-8 1h1m0 0h1m0 0h1m0 0h1m0 0h1m3 0h1m0 0h1m0 0h1m0 0h1m-14 1h1m4 0h1m0 0h1m2 0h1m0 0h1m0 0h1m1 0h1m-10 1h1m4 0h1m1 0h1m0 0h1m-10 1h1m2 0h1m3 0h1m1 0h1m1 0h1m-14 1h1m0 0h1m0 0h1m1 0h1m0 0h1m-4 1h1m3 0h1m-5 1h1m2 0h1m0 0h1m-9 1h1m7 0h1m3 1h1m-10 1h1" transform="translate(0 .5)"/>
<path stroke="#F29B2A" stroke-width="1.15" d="M777 2282h1m-3 8h1m-5 1h1m-2 3h1m-4 2h1m7 7h1m8 0h1m2 3h1m-5 2h1m-4 1h1m0 1h1m2 0h1m-3 1h1m-6 1h1m0 0h1m1 0h1m0 0h1m-3 1h1m2 0h1m0 0h1m-7 1h1m6 0h1m-10 1h1m2 0h1m3 0h1m-8 1h1m9 0h1m-8 1h1m0 0h1m-5 1h1m7 0h1m-14 1h1m1 0h1m0 0h1m1 0h1m2 0h1m0 0h1m2 0h1m-10 1h1m2 0h1m2 0h1m1 0h1m0 0h1m-10 1h1m0 0h1m3 0h1m0 0h1m-7 1h1m1 0h1m-11 1h1m11 0h1" transform="translate(0 .5)"/>
<path stroke="#E3342A" stroke-width="1.15" d="M778 2288h1m-4 2h1m11 17h1m-8 1h1m1 2h1m1 0h1m-4 2h1m-5 1h1m5 0h1m0 0h1m-6 1h1m8 0h1m-12 1h1m0 0h1m3 0h1m-8 1h1m2 0h1m4 0h1m-6 1h1m0 0h1m1 0h1m1 0h1m-10 1h1m3 0h1m4 0h1m-6 1h1m-9 1h1m4 0h1m-1 1h1m1 1h1m-5 1h1m-2 1h1" transform="translate(0 .5)"/>
<path fill="#000" d="M611 2250.5h2V2462.5h-2zM617 2462.5v2H823.5v-2zM608.5 2250.5h4.5v4h-4.5zM608.5 2270.5h4.5v5h-4.5zM610 2280.5h3v4h-3zM608.5 2291.5h4.5v4h-4.5zM607.5 2311.5h5.5v4h-5.5zM610 2320.5h3v5h-3zM609 2341.5h4v5h-4zM609 2355.5h4v3h-4zM610 2365.5h3v3h-3zM610 2380.5h3v3h-3zM608.5 2395.5h4.5v6h-4.5zM610 2417.5h3v4h-3zM607.5 2424.5h5.5v2h-5.5zM608 2431.5h5v2h-5zM608 2442.5h5v2h-5zM608.5 2449.5h4.5v5h-4.5zM618 2462.5v4h8v-4zM646 2462.5v5.5h3v-5.5zM655 2462.5v3h8v-3zM675 2462.5v5h8v-5zM703 2462.5v5h8v-5zM723 2462.5v5h8v-5zM747 2462.5v3h3v-3zM756 2462.5v4.5h5v-4.5zM770 2462.5v4.5h6v-4.5zM780 2462.5v4h5v-4zM794 2462.5v4.5h5v-4.5zM815 2462.5v5.5h8v-5.5z"/>
<rect x="613" y="2242.5" width="210.5" height="220" fill="none" stroke="#000" stroke-width="1.6"/>
<polygon points="721.2,2317.5 791.8,2255.5 804.7,2280.6 736.6,2336.2" fill="none" stroke="#000" stroke-width="1.7" stroke-linejoin="miter"/>
<polygon points="736.6,2336.2 804.7,2280.6 818,2299.6 749.9,2357.7" fill="none" stroke="#000" stroke-width="1.7" stroke-linejoin="miter"/>
<text x="718.4" y="2235.8" font-size="22.5" text-anchor="middle" fill="#111">LPS</text>
<path stroke="#1D4F9F" stroke-width="1.15" d="M1070 2255h1m-2 4h1m12 2h1m-40 1h1m26 0h1m-20 2h1m20 1h1m-24 1h1m1 0h1m-6 1h1m4 0h1m7 0h1m0 0h1m7 0h1m-24 1h1m9 0h1m12 0h1m-30 1h1m2 0h1m2 0h1m3 0h1m0 0h1m3 0h1m0 0h1m1 0h1m5 0h1m0 0h1m13 0h1m-34 1h1m0 0h1m2 0h1m0 0h1m3 0h1m4 0h1m1 0h1m10 0h1m-33 1h1m8 0h1m3 0h1m0 0h1m0 0h1m0 0h1m1 0h1m3 0h1m0 0h1m14 0h1m-39 1h1m2 0h1m0 0h1m2 0h1m1 0h1m0 0h1m1 0h1m3 0h1m0 0h1m1 0h1m3 0h1m3 0h1m7 0h1m2 0h1m-40 1h1m8 0h1m1 0h1m3 0h1m2 0h1m0 0h1m6 0h1m-31 1h1m1 0h1m1 0h1m1 0h1m0 0h1m0 0h1m0 0h1m0 0h1m4 0h1m0 0h1m1 0h1m0 0h1m0 0h1m1 0h1m1 0h1m0 0h1m13 0h1m2 0h1m-44 1h1m1 0h1m7 0h1m0 0h1m0 0h1m1 0h1m0 0h1m2 0h1m1 0h1m0 0h1m0 0h1m3 0h1m3 0h1m2 0h1m4 0h1m-36 1h1m0 0h1m2 0h1m1 0h1m5 0h1m0 0h1m5 0h1m0 0h1m4 0h1m1 0h1m-32 1h1m1 0h1m0 0h1m3 0h1m6 0h1m2 0h1m0 0h1m0 0h1m1 0h1m0 0h1m0 0h1m5 0h1m0 0h1m1 0h1m1 0h1m-35 1h1m1 0h1m0 0h1m1 0h1m2 0h1m2 0h1m2 0h1m6 0h1m0 0h1m0 0h1m0 0h1m0 0h1m7 0h1m-38 1h1m5 0h1m12 0h1m3 0h1m1 0h1m2 0h1m0 0h1m2 0h1m2 0h1m18 0h1m-54 1h1m5 0h1m1 0h1m6 0h1m5 0h1m1 0h1m0 0h1m0 0h1m0 0h1m2 0h1m0 0h1m-29 1h1m4 0h1m9 0h1m0 0h1m5 0h1m0 0h1m3 0h1m1 0h1m2 0h1m2 0h1m0 0h1m-40 1h1m1 0h1m10 0h1m9 0h1m1 0h1m6 0h1m5 0h1m-40 1h1m0 0h1m0 0h1m17 0h1m5 0h1m0 0h1m2 0h1m0 0h1m6 0h1m0 0h1m-37 1h1m0 0h1m19 0h1m1 0h1m1 0h1m0 0h1m3 0h1m1 0h1m8 0h1m-48 1h1m0 0h1m2 0h1m0 0h1m2 0h1m15 0h1m0 0h1m2 0h1m3 0h1m0 0h1m1 0h1m1 0h1m11 0h1m-54 1h1m4 0h1m1 0h1m0 0h1m20 0h1m4 0h1m14 0h1m18 0h1m-68 1h1m2 0h1m0 0h1m1 0h1m0 0h1m0 0h1m19 0h1m4 0h1m1 0h1m-35 1h1m0 0h1m0 0h1m2 0h1m0 0h1m25 0h1m1 0h1m2 0h1m9 0h1m5 0h1m-58 1h1m0 0h1m6 0h1m22 0h1m0 0h1m0 0h1m0 0h1m0 0h1m4 0h1m3 0h1m2 0h1m2 0h1m1 0h1m-51 1h1m0 0h1m0 0h1m0 0h1m2 0h1m1 0h1m18 0h1m1 0h1m5 0h1m3 0h1m2 0h1m0 0h1m2 0h1m7 0h1m-62 1h1m7 0h1m2 0h1m1 0h1m25 0h1m2 0h1m0 0h1m2 0h1m15 0h1m1 0h1m-58 1h1m0 0h1m3 0h1m0 0h1m22 0h1m0 0h1m0 0h1m3 0h1m0 0h1m3 0h1m3 0h1m4 0h1m1 0h1m10 0h1m4 0h1m-79 1h1m11 0h1m2 0h1m0 0h1m0 0h1m1 0h1m1 0h1m4 0h1m9 0h1m3 0h1m0 0h1m9 0h1m0 0h1m1 0h1m0 0h1m2 0h1m1 0h1m6 0h1m1 0h1m-66 1h1m4 0h1m0 0h1m3 0h1m1 0h1m3 0h1m15 0h1m0 0h1m2 0h1m5 0h1m0 0h1m7 0h1m14 0h1m-64 1h1m0 0h1m3 0h1m0 0h1m2 0h1m1 0h1m2 0h1m13 0h1m4 0h1m1 0h1m0 0h1m0 0h1m0 0h1m0 0h1m1 0h1m3 0h1m0 0h1m0 0h1m0 0h1m2 0h1m4 0h1m3 0h1m10 0h1m-82 1h1m7 0h1m6 0h1m2 0h1m1 0h1m2 0h1m3 0h1m12 0h1m3 0h1m0 0h1m3 0h1m3 0h1m2 0h1m4 0h1m-55 1h1m7 0h1m6 0h1m1 0h1m1 0h1m11 0h1m1 0h1m1 0h1m0 0h1m3 0h1m0 0h1m0 0h1m0 0h1m2 0h1m1 0h1m5 0h1m5 0h1m-54 1h1m0 0h1m0 0h1m1 0h1m0 0h1m15 0h1m0 0h1m1 0h1m0 0h1m0 0h1m1 0h1m2 0h1m1 0h1m1 0h1m0 0h1m0 0h1m2 0h1m12 0h1m2 0h1m-65 1h1m0 0h1m3 0h1m0 0h1m0 0h1m1 0h1m0 0h1m0 0h1m1 0h1m0 0h1m2 0h1m0 0h1m1 0h1m3 0h1m0 0h1m14 0h1m3 0h1m0 0h1m4 0h1m0 0h1m0 0h1m2 0h1m2 0h1m10 0h1m-73 1h1m6 0h1m3 0h1m1 0h1m0 0h1m2 0h1m0 0h1m1 0h1m0 0h1m2 0h1m6 0h1m3 0h1m8 0h1m0 0h1m1 0h1m0 0h1m1 0h1m2 0h1m2 0h1m4 0h1m1 0h1m2 0h1m-64 1h1m6 0h1m1 0h1m1 0h1m1 0h1m0 0h1m2 0h1m2 0h1m0 0h1m0 0h1m0 0h1m6 0h1m2 0h1m3 0h1m0 0h1m2 0h1m1 0h1m0 0h1m1 0h1m0 0h1m2 0h1m8 0h1m-59 1h1m6 0h1m0 0h1m2 0h1m0 0h1m1 0h1m1 0h1m3 0h1m0 0h1m8 0h1m0 0h1m4 0h1m3 0h1m1 0h1m0 0h1m3 0h1m0 0h1m-54 1h1m6 0h1m5 0h1m9 0h1m0 0h1m0 0h1m1 0h1m0 0h1m0 0h1m0 0h1m5 0h1m0 0h1m6 0h1m1 0h1m0 0h1m4 0h1m1 0h1m1 0h1m0 0h1m-46 1h1m3 0h1m3 0h1m4 0h1m0 0h1m1 0h1m2 0h1m4 0h1m3 0h1m3 0h1m0 0h1m1 0h1m0 0h1m6 0h1m8 0h1m-56 1h1m5 0h1m5 0h1m0 0h1m1 0h1m3 0h1m2 0h1m3 0h1m3 0h1m3 0h1m0 0h1m0 0h1m3 0h1m0 0h1m0 0h1m1 0h1m3 0h1m0 0h1m0 0h1m4 0h1m-59 1h1m0 0h1m0 0h1m1 0h1m3 0h1m3 0h1m4 0h1m2 0h1m1 0h1m1 0h1m5 0h1m1 0h1m1 0h1m3 0h1m0 0h1m1 0h1m0 0h1m2 0h1m5 0h1m3 0h1m-44 1h1m1 0h1m0 0h1m5 0h1m0 0h1m0 0h1m6 0h1m3 0h1m1 0h1m1 0h1m3 0h1m2 0h1m0 0h1m0 0h1m9 0h1m-51 1h1m5 0h1m2 0h1m1 0h1m3 0h1m1 0h1m14 0h1m2 0h1m1 0h1m0 0h1m0 0h1m0 0h1m0 0h1m0 0h1m0 0h1m0 0h1m16 0h1m-63 1h1m3 0h1m7 0h1m18 0h1m1 0h1m2 0h1m1 0h1m2 0h1m0 0h1m3 0h1m-44 1h1m0 0h1m5 0h1m4 0h1m2 0h1m14 0h1m0 0h1m1 0h1m6 0h1m7 0h1m-59 1h1m10 0h1m5 0h1m3 0h1m1 0h1m17 0h1m1 0h1m0 0h1m1 0h1m0 0h1m0 0h1m-37 1h1m4 0h1m2 0h1m2 0h1m12 0h1m12 0h1m7 0h1m-53 1h1m7 0h1m0 0h1m2 0h1m2 0h1m0 0h1m1 0h1m14 0h1m2 0h1m0 0h1m1 0h1m1 0h1m0 0h1m-51 1h1m3 0h1m4 0h1m3 0h1m4 0h1m2 0h1m0 0h1m1 0h1m16 0h1m1 0h1m5 0h1m1 0h1m-37 1h1m4 0h1m1 0h1m17 0h1m2 0h1m0 0h1m1 0h1m2 0h1m2 0h1m16 0h1m-86 1h1m32 0h1m3 0h1m1 0h1m20 0h1m1 0h1m0 0h1m0 0h1m0 0h1m-39 1h1m0 0h1m3 0h1m1 0h1m0 0h1m3 0h1m3 0h1m5 0h1m3 0h1m2 0h1m2 0h1m12 0h1m12 0h1m-67 1h1m5 0h1m0 0h1m3 0h1m0 0h1m4 0h1m1 0h1m0 0h1m12 0h1m2 0h1m0 0h1m0 0h1m0 0h1m3 0h1m0 0h1m3 0h1m-39 1h1m2 0h1m0 0h1m1 0h1m0 0h1m3 0h1m6 0h1m8 0h1m0 0h1m1 0h1m2 0h1m1 0h1m-50 1h1m15 0h1m1 0h1m0 0h1m0 0h1m0 0h1m3 0h1m0 0h1m3 0h1m2 0h1m5 0h1m0 0h1m0 0h1m0 0h1m1 0h1m0 0h1m0 0h1m3 0h1m0 0h1m-36 1h1m3 0h1m0 0h1m1 0h1m7 0h1m7 0h1m1 0h1m0 0h1m-29 1h1m0 0h1m2 0h1m0 0h1m0 0h1m2 0h1m1 0h1m1 0h1m6 0h1m0 0h1m2 0h1m0 0h1m0 0h1m1 0h1m1 0h1m0 0h1m9 0h1m-55 1h1m2 0h1m13 0h1m2 0h1m0 0h1m0 0h1m3 0h1m1 0h1m0 0h1m0 0h1m2 0h1m5 0h1m-29 1h1m0 0h1m3 0h1m4 0h1m1 0h1m0 0h1m1 0h1m0 0h1m0 0h1m1 0h1m0 0h1m1 0h1m0 0h1m0 0h1m1 0h1m5 0h1m1 0h1m3 0h1m-50 1h1m14 0h1m1 0h1m1 0h1m0 0h1m0 0h1m0 0h1m0 0h1m2 0h1m0 0h1m3 0h1m1 0h1m2 0h1m1 0h1m0 0h1m3 0h1m0 0h1m1 0h1m13 0h1m-51 1h1m4 0h1m1 0h1m0 0h1m0 0h1m0 0h1m1 0h1m4 0h1m2 0h1m0 0h1m1 0h1m0 0h1m0 0h1m2 0h1m0 0h1m0 0h1m7 0h1m-52 1h1m11 0h1m2 0h1m1 0h1m0 0h1m3 0h1m0 0h1m0 0h1m2 0h1m0 0h1m0 0h1m2 0h1m0 0h1m3 0h1m1 0h1m10 0h1m-42 1h1m9 0h1m1 0h1m8 0h1m4 0h1m2 0h1m1 0h1m29 0h1m-76 1h1m17 0h1m1 0h1m3 0h1m1 0h1m0 0h1m4 0h1m0 0h1m0 0h1m1 0h1m0 0h1m4 0h1m-37 1h1m11 0h1m0 0h1m6 0h1m0 0h1m2 0h1m0 0h1m1 0h1m2 0h1m1 0h1m3 0h1m3 0h1m1 0h1m2 0h1m-36 1h1m0 0h1m0 0h1m4 0h1m1 0h1m3 0h1m3 0h1m0 0h1m3 0h1m13 0h1m-38 1h1m7 0h1m1 0h1m14 0h1m-31 1h1m8 0h1m1 0h1m2 0h1m7 0h1m8 0h1m3 0h1m10 0h1m-42 1h1m14 0h1m4 0h1m13 0h1m-33 1h1m10 0h1m9 0h1m-35 1h1m1 0h1m6 0h1m5 0h1m4 0h1m3 0h1m4 0h1m-30 1h1m14 0h1m19 0h1m-38 1h1m12 0h1m0 0h1m13 1h1m0 0h1m-27 1h1m13 0h1m27 0h1m-51 1h1m11 0h1m-3 1h1m0 0h1m-2 1h1m22 1h1m-24 1h1m5 0h1m-18 1h1m14 0h1m0 0h1m-8 3h1m-15 1h1m16 1h1m-15 1h1m10 0h1m-28 2h1m13 0h1m8 0h1m9 0h1m-17 1h1m-5 2h1m12 0h1m-17 2h1m5 0h1m8 0h1m-28 3h1m6 1h1m-6 1h1m-4 2h1m22 0h1m-13 1h1m-2 1h1m4 1h1m-31 2h1m31 1h1m-29 1h1m14 0h1m12 0h1m-12 1h1m-20 1h1m-9 2h1m7 0h1m19 0h1m-9 1h1m-1 1h1m-6 1h1m11 0h1m11 0h1m-16 2h1m-32 1h1m17 5h1m-9 5h1m-2 6h1m-9 1h1m12 1h1m-27 6h1m3 0h1m16 0h1m-12 2h1m1 0h1m13 2h1m-14 1h1m12 0h1" transform="translate(0 .5)"/>
<path stroke="#2270B5" stroke-width="1.15" d="M1046 2273h1m1 0h1m0 1h1m1 0h1m-5 2h1m4 0h1m-14 1h1m3 0h1m2 0h1m0 0h1m1 0h1m-16 1h1m5 0h1m3 0h1m0 0h1m2 0h1m0 0h1m1 0h1m1 0h1m1 0h1m-18 1h1m3 0h1m1 0h1m1 0h1m2 0h1m-11 1h1m2 0h1m1 0h1m3 0h1m1 0h1m0 0h1m1 0h1m-18 1h1m7 0h1m3 0h1m0 0h1m1 0h1m2 0h1m-21 1h1m1 0h1m5 0h1m1 0h1m5 0h1m1 0h1m-22 1h1m1 0h1m0 0h1m6 0h1m6 0h1m0 0h1m0 0h1m0 0h1m-20 1h1m14 0h1m1 0h1m0 0h1m0 0h1m1 0h1m-22 1h1m0 0h1m1 0h1m0 0h1m14 0h1m-24 1h1m0 0h1m1 0h1m1 0h1m1 0h1m10 0h1m3 0h1m-24 1h1m1 0h1m5 0h1m9 0h1m0 0h1m1 0h1m2 0h1m3 0h1m-29 1h1m1 0h1m2 0h1m4 0h1m10 0h1m0 0h1m2 0h1m0 0h1m1 0h1m-27 1h1m11 0h1m2 0h1m1 0h1m3 0h1m2 0h1m-29 1h1m3 0h1m1 0h1m1 0h1m0 0h1m0 0h1m7 0h1m1 0h1m1 0h1m0 0h1m-14 1h1m9 0h1m3 0h1m-20 1h1m0 0h1m1 0h1m0 0h1m0 0h1m6 0h1m6 0h1m1 0h1m-25 1h1m0 0h1m2 0h1m3 0h1m6 0h1m4 0h1m0 0h1m-25 1h1m1 0h1m0 0h1m1 0h1m0 0h1m1 0h1m5 0h1m5 0h1m4 0h1m-19 1h1m10 0h1m2 0h1m3 0h1m-24 1h1m4 0h1m0 0h1m2 0h1m0 0h1m3 0h1m1 0h1m0 0h1m-18 1h1m5 0h1m0 0h1m0 0h1m0 0h1m0 0h1m0 0h1m5 0h1m2 0h1m-19 1h1m0 0h1m0 0h1m2 0h1m0 0h1m8 0h1m2 0h1m0 0h1m-20 1h1m1 0h1m0 0h1m1 0h1m3 0h1m0 0h1m0 0h1m3 0h1m2 0h1m7 0h1m-29 1h1m6 0h1m0 0h1m6 0h1m5 0h1m1 0h1m0 0h1m2 0h1m0 0h1m-24 1h1m3 0h1m1 0h1m3 0h1m0 0h1m0 0h1m3 0h1m2 0h1m8 0h1m-21 1h1m0 0h1m1 0h1m1 0h1m1 0h1m0 0h1m0 0h1m2 0h1m0 0h1m5 0h1m0 0h1m-17 1h1m4 0h1m5 0h1m3 0h1m-24 1h1m3 0h1m2 0h1m5 0h1m0 0h1m6 0h1m1 0h1m-24 1h1m2 0h1m2 0h1m0 0h1m2 0h1m0 0h1m2 0h1m1 0h1m2 0h1m2 0h1m-24 1h1m14 0h1m1 0h1m3 0h1m0 0h1m0 0h1m-22 1h1m3 0h1m0 0h1m4 0h1m0 0h1m0 0h1m2 0h1m0 0h1m2 0h1m1 0h1m-23 1h1m2 0h1m0 0h1m1 0h1m0 0h1m6 0h1m0 0h1m2 0h1m0 0h1m4 0h1m-22 1h1m1 0h1m0 0h1m5 0h1m1 0h1m0 0h1m2 0h1m1 0h1m0 0h1m-24 1h1m0 0h1m1 0h1m2 0h1m1 0h1m0 0h1m0 0h1m1 0h1m4 0h1m0 0h1m0 0h1m6 0h1m-27 1h1m2 0h1m0 0h1m0 0h1m11 0h1m3 0h1m-24 1h1m1 0h1m1 0h1m13 0h1m2 0h1m-22 1h1m3 0h1m0 0h1m2 0h1m1 0h1m0 0h1m3 0h1m5 0h1m-19 1h1m2 0h1m1 0h1m6 0h1m1 0h1m1 0h1m1 0h1m-18 1h1m0 0h1m2 0h1m3 0h1m0 0h1m5 0h1m0 0h1m-21 1h1m1 0h1m0 0h1m1 0h1m1 0h1m11 0h1m0 0h1m1 0h1m-23 1h1m1 0h1m1 0h1m14 0h1m0 0h1m0 0h1m-25 1h1m6 0h1m0 0h1m0 0h1m0 0h1m1 0h1m0 0h1m5 0h1m0 0h1m1 0h1m0 0h1m0 0h1m-22 1h1m3 0h1m0 0h1m1 0h1m7 0h1m1 0h1m0 0h1m2 0h1m-23 1h1m0 0h1m2 0h1m2 0h1m6 0h1m1 0h1m0 0h1m0 0h1m0 0h1m1 0h1m0 0h1m-22 1h1m1 0h1m3 0h1m3 0h1m-12 1h1m2 0h1m3 0h1m3 0h1m3 0h1m-8 1h1m0 0h1m2 0h1m0 0h1m0 0h1m0 0h1m0 0h1m-14 1h1m3 0h1m0 0h1m0 0h1m-4 1h1m2 0h1m1 0h1m-7 1h1m0 0h1m2 1h1m1 0h1" transform="translate(0 .5)"/>
<path stroke="#2E9AA6" stroke-width="1.15" d="M1044 2276h1m6 0h1m0 0h1m-13 1h1m3 0h1m1 0h1m1 0h1m3 0h1m-13 1h1m2 0h1m0 0h1m2 0h1m0 0h1m0 0h1m0 0h1m-11 1h1m1 0h1m6 0h1m0 0h1m-15 1h1m1 0h1m1 0h1m0 0h1m0 0h1m0 0h1m0 0h1m2 0h1m1 0h1m0 0h1m-19 1h1m5 0h1m1 0h1m1 0h1m2 0h1m1 0h1m1 0h1m1 0h1m-15 1h1m4 0h1m1 0h1m1 0h1m1 0h1m1 0h1m0 0h1m-18 1h1m2 0h1m1 0h1m2 0h1m4 0h1m0 0h1m0 0h1m-18 1h1m0 0h1m1 0h1m1 0h1m1 0h1m0 0h1m2 0h1m2 0h1m0 0h1m-17 1h1m1 0h1m1 0h1m2 0h1m3 0h1m1 0h1m-15 1h1m4 0h1m0 0h1m0 0h1m3 0h1m1 0h1m0 0h1m1 0h1m3 0h1m-20 1h1m1 0h1m3 0h1m1 0h1m7 0h1m0 0h1m-17 1h1m0 0h1m0 0h1m2 0h1m9 0h1m-22 1h1m6 0h1m2 0h1m0 0h1m1 0h1m1 0h1m-14 1h1m2 0h1m1 0h1m4 0h1m1 0h1m3 0h1m-14 1h1m4 0h1m5 0h1m3 0h1m2 0h1m-24 1h1m3 0h1m1 0h1m3 0h1m1 0h1m5 0h1m1 0h1m-21 1h1m4 0h1m0 0h1m1 0h1m1 0h1m4 0h1m0 0h1m0 0h1m7 0h1m-26 1h1m7 0h1m0 0h1m0 0h1m1 0h1m4 0h1m-14 1h1m1 0h1m0 0h1m1 0h1m4 0h1m0 0h1m1 0h1m-13 1h1m1 0h1m0 0h1m6 0h1m0 0h1m4 0h1m-22 1h1m6 0h1m7 0h1m-11 1h1m2 0h1m-5 1h1m16 0h1m-11 1h1m2 0h1m-4 1h1m13 1h1m4 0h1m-13 1h1m5 0h1m4 0h1m3 0h1m-15 1h1m1 0h1m0 0h1m-5 1h1m1 0h1m1 0h1m0 0h1m0 0h1m0 0h1m0 0h1m-11 1h1m0 0h1m1 0h1m1 0h1m-10 1h1m6 0h1m0 0h1m4 0h1m0 0h1m0 0h1m1 0h1m-13 1h1m0 0h1m0 0h1m0 0h1m0 0h1m1 0h1m1 0h1m-12 1h1m2 0h1m0 0h1m1 0h1m2 0h1m0 0h1m1 0h1m-14 1h1m2 0h1m0 0h1m2 0h1m0 0h1m0 0h1m0 0h1m0 0h1m0 0h1m-13 1h1m1 0h1m0 0h1m0 0h1m1 0h1m1 0h1m0 0h1m0 0h1m-14 1h1m0 0h1m0 0h1m0 0h1m2 0h1m5 0h1m0 0h1m1 0h1m2 0h1m-18 1h1m1 0h1m0 0h1m0 0h1m1 0h1m0 0h1m1 0h1m1 0h1m0 0h1m-11 1h1m2 0h1m0 0h1m2 0h1m1 0h1m2 0h1m0 0h1m-18 1h1m1 0h1m0 0h1m1 0h1m2 0h1m1 0h1m1 0h1m0 0h1m-13 1h1m0 0h1m4 0h1m1 0h1m3 0h1m0 0h1m2 0h1m-21 1h1m0 0h1m8 0h1m0 0h1m0 0h1m2 0h1m0 0h1m2 0h1m-21 1h1m1 0h1m5 0h1m0 0h1m0 0h1m2 0h1m0 0h1m4 0h1m-19 1h1m1 0h1m5 0h1m0 0h1m2 0h1m1 0h1m2 0h1m-16 1h1m1 0h1m2 0h1m1 0h1m8 0h1m-18 1h1m2 0h1m0 0h1m1 0h1m0 0h1m-11 1h1m5 0h1m0 0h1m3 0h1m-10 1h1m1 0h1m0 0h1m1 0h1" transform="translate(0 .5)"/>
<path stroke="#4DB35A" stroke-width="1.15" d="M1044 2276h1m-1 1h1m3 1h1m0 0h1m-16 1h1m1 0h1m4 0h1m1 0h1m1 0h1m-6 1h1m0 0h1m0 0h1m3 0h1m0 0h1m0 0h1m0 0h1m-13 1h1m2 0h1m0 0h1m3 0h1m0 0h1m0 0h1m-8 1h1m2 0h1m1 0h1m0 0h1m0 0h1m-13 1h1m5 0h1m0 0h1m1 0h1m2 0h1m0 0h1m-17 1h1m1 0h1m2 0h1m2 0h1m1 0h1m0 0h1m2 0h1m4 0h1m-19 1h1m3 0h1m1 0h1m0 0h1m2 0h1m1 0h1m0 0h1m-12 1h1m1 0h1m1 0h1m2 0h1m0 0h1m3 0h1m3 0h1m-21 1h1m3 0h1m2 0h1m1 0h1m2 0h1m2 0h1m0 0h1m-18 1h1m6 0h1m1 0h1m0 0h1m0 0h1m1 0h1m0 0h1m2 0h1m-15 1h1m6 0h1m3 0h1m-14 1h1m4 0h1m0 0h1m0 0h1m0 0h1m8 0h1m-22 1h1m4 0h1m0 0h1m0 0h1m1 0h1m1 0h1m1 0h1m0 0h1m1 0h1m0 0h1m1 0h1m-11 1h1m0 0h1m1 0h1m0 0h1m0 0h1m1 0h1m1 0h1m-16 1h1m4 0h1m1 0h1m7 0h1m-19 1h1m1 0h1m0 0h1m2 0h1m1 0h1m1 0h1m0 0h1m6 0h1m0 0h1m-18 1h1m4 0h1m0 0h1m2 0h1m2 0h1m-9 1h1m0 0h1m0 0h1m8 0h1m0 0h1m1 0h1m-14 1h1m1 0h1m0 0h1m5 3h1m0 4h1m6 0h1m-7 1h1m4 0h1m-5 1h1m1 0h1m2 0h1m-10 1h1m0 0h1m1 0h1m8 0h1m-11 1h1m0 0h1m0 0h1m0 0h1m0 0h1m2 0h1m-13 1h1m1 0h1m0 0h1m0 0h1m2 0h1m6 0h1m-15 1h1m0 0h1m2 0h1m0 0h1m3 0h1m1 0h1m0 0h1m-12 1h1m0 0h1m2 0h1m2 0h1m0 0h1m2 0h1m-12 1h1m5 0h1m0 0h1m-12 1h1m0 0h1m0 0h1m11 0h1m0 0h1m-10 1h1m0 0h1m1 0h1m0 0h1m2 0h1m-17 1h1m4 0h1m0 0h1m2 0h1m0 0h1m0 0h1m1 0h1m0 0h1m1 0h1m-13 1h1m1 0h1m0 0h1m0 0h1m0 0h1m3 0h1m0 0h1m1 0h1m1 0h1m-20 1h1m3 0h1m2 0h1m3 0h1m2 0h1m-8 1h1m2 0h1m3 0h1m-13 1h1m2 0h1m2 0h1m1 0h1m1 0h1m4 0h1m-16 1h1m3 0h1m2 1h1m5 0h1m0 0h1m-13 1h1m7 0h1" transform="translate(0 .5)"/>
<path stroke="#A8CC3C" stroke-width="1.15" d="M1047 2275h1m-6 2h1m1 2h1m-1 1h1m2 0h1m-10 1h1m1 0h1m2 0h1m2 0h1m1 0h1m-11 1h1m6 0h1m0 0h1m0 0h1m1 0h1m-14 1h1m6 0h1m3 0h1m0 0h1m-13 1h1m1 0h1m1 0h1m2 0h1m0 0h1m1 0h1m0 0h1m-9 1h1m0 0h1m3 0h1m1 0h1m-13 1h1m5 0h1m0 0h1m5 0h1m-13 1h1m0 0h1m0 0h1m1 0h1m0 0h1m0 0h1m0 0h1m0 0h1m-7 1h1m4 0h1m1 0h1m0 0h1m-10 1h1m3 0h1m1 0h1m1 0h1m0 0h1m-11 1h1m0 0h1m3 0h1m2 0h1m0 0h1m0 0h1m-12 1h1m2 0h1m1 0h1m2 0h1m3 0h1m-13 1h1m3 0h1m1 0h1m0 0h1m2 0h1m-15 1h1m0 0h1m2 0h1m0 0h1m1 0h1m2 0h1m0 0h1m0 0h1m2 0h1m-13 1h1m0 0h1m1 0h1m0 0h1m1 0h1m2 0h1m0 0h1m-16 1h1m1 0h1m6 1h1m3 0h1m-6 2h1m10 8h1m0 0h1m-4 3h1m4 0h1m-7 1h1m3 0h1m-1 1h1m0 0h1m-8 1h1m1 0h1m0 0h1m1 0h1m-8 1h1m0 0h1m1 0h1m2 0h1m-6 1h1m2 0h1m1 0h1m-9 1h1m2 0h1m0 0h1m0 0h1m0 0h1m-7 1h1m3 0h1m1 0h1m0 0h1m-10 1h1m3 0h1m0 0h1m0 0h1m5 0h1m0 0h1m-10 1h1m3 0h1m4 0h1m-8 1h1m2 0h1m-5 1h1m-4 1h1" transform="translate(0 .5)"/>
<path stroke="#EADB35" stroke-width="1.15" d="M1040 2277h1m-3 2h1m2 2h1m1 0h1m-5 1h1m5 0h1m-8 1h1m0 0h1m6 0h1m-13 1h1m3 0h1m5 0h1m0 0h1m-8 1h1m2 0h1m0 0h1m5 0h1m-13 1h1m3 0h1m4 0h1m-14 1h1m4 0h1m0 0h1m0 0h1m0 0h1m1 0h1m0 0h1m-11 1h1m3 0h1m2 0h1m1 0h1m0 0h1m0 0h1m-9 1h1m0 0h1m0 0h1m0 0h1m0 0h1m0 0h1m-5 1h1m1 0h1m0 0h1m0 0h1m3 0h1m-12 1h1m1 0h1m1 0h1m3 0h1m-9 1h1m0 0h1m0 0h1m0 0h1m2 0h1m0 0h1m1 0h1m1 0h1m-7 1h1m5 0h1m-9 1h1m0 0h1m4 0h1m-10 1h1m1 0h1m0 6h1m5 7h1m2 0h1m2 2h1m-6 2h1m-2 1h1m1 0h1m-2 1h1m-8 1h1m0 0h1m1 0h1m-1 1h1m0 0h1m2 0h1m0 0h1m0 0h1m-3 1h1m1 2h1" transform="translate(0 .5)"/>
<path stroke="#F29B2A" stroke-width="1.15" d="M1040 2281h1m0 2h1m3 0h1m-7 1h1m1 0h1m-5 1h1m0 0h1m0 0h1m3 0h1m0 0h1m0 0h1m-7 1h1m1 0h1m0 0h1m0 0h1m4 0h1m-13 1h1m2 0h1m0 0h1m2 0h1m-5 1h1m-7 1h1m0 0h1m2 0h1m0 0h1m1 0h1m1 0h1m0 0h1m-6 1h1m0 0h1m1 0h1m0 0h1m1 0h1m-11 1h1m3 0h1m0 0h1m0 0h1m4 0h1m-9 1h1m0 0h1m0 0h1m1 0h1m-6 1h1m1 0h1m-7 1h1m5 0h1m-5 1h1m3 1h1m2 0h1m6 13h1m0 2h1m-7 2h1m1 0h1m1 0h1" transform="translate(0 .5)"/>
<path stroke="#E3342A" stroke-width="1.15" d="M1045 2281h1m-2 1h1m-7 1h1m-2 1h1m0 0h1m0 0h1m0 0h1m-2 1h1m1 0h1m1 0h1m0 0h1m-8 1h1m0 0h1m1 0h1m0 0h1m0 0h1m1 0h1m-9 1h1m3 0h1m0 0h1m-2 1h1m0 0h1m2 0h1m-9 1h1m5 0h1m-10 1h1m3 0h1m0 0h1m2 0h1m-8 1h1m-4 1h1m4 0h1m0 0h1m3 0h1m-5 2h1" transform="translate(0 .5)"/>
<path fill="#000" d="M881.5 2251h2V2461.5h-2zM887.5 2461.5v2H1091v-2zM879 2251h4.5v3h-4.5zM879.5 2270h4v6h-4zM879.5 2292h4v3h-4zM879.5 2300h4v6h-4zM878 2311h5.5v2h-5.5zM879 2318h4.5v6h-4.5zM879.5 2327h4v4h-4zM880.5 2347h3v5h-3zM880.5 2359h3v3h-3zM878.5 2369h5v4h-5zM879 2378h4.5v3h-4.5zM878 2386h5.5v4h-5.5zM879 2402h4.5v4h-4.5zM879 2415h4.5v6h-4.5zM879 2437h4.5v2h-4.5zM879 2451h4.5v6h-4.5zM888.5 2461.5v5.5h6v-5.5zM910.5 2461.5v5h4v-5zM934.5 2461.5v5.5h6v-5.5zM946.5 2461.5v4h5v-4zM957.5 2461.5v4.5h8v-4.5zM974.5 2461.5v5h5v-5zM988.5 2461.5v4.5h8v-4.5zM1008.5 2461.5v5.5h4v-5.5zM1024.5 2461.5v4h8v-4zM1048.5 2461.5v4h4v-4zM1072.5 2461.5v4h5v-4zM1081.5 2461.5v5h6v-5z"/>
<rect x="883.5" y="2243" width="207.5" height="218.5" fill="none" stroke="#000" stroke-width="1.6"/>
<polygon points="987.1,2315.7 1056.2,2253.7 1068.8,2278.1 1001.4,2333.6" fill="none" stroke="#000" stroke-width="1.7" stroke-linejoin="miter"/>
<polygon points="1001.4,2333.6 1068.8,2278.1 1082,2296.7 1016.1,2355.9" fill="none" stroke="#000" stroke-width="1.7" stroke-linejoin="miter"/>
<text x="985.7" y="2235.8" font-size="22.5" text-anchor="middle" fill="#111">GC + LPS</text>
<line x1="54.5" y1="2479.5" x2="54.5" y2="2266" stroke="#222" stroke-width="2"/>
<polygon points="54.3,2243 47.2,2269 61.2,2269" fill="#222"/>
<line x1="53.5" y1="2479.5" x2="1066" y2="2479.5" stroke="#222" stroke-width="2"/>
<polygon points="1091.5,2479.5 1064.5,2472.3 1064.5,2486.7" fill="#222"/>
<text x="0" y="0" font-size="22.5" fill="#111" text-anchor="middle" transform="translate(38.5,2381.5) rotate(-90)">MitoTracker Red(FI)</text>
<text x="381.6" y="2507.4" font-size="22.5" fill="#111">MitoTracker Green (FI)</text>
</svg>
</body></html>
